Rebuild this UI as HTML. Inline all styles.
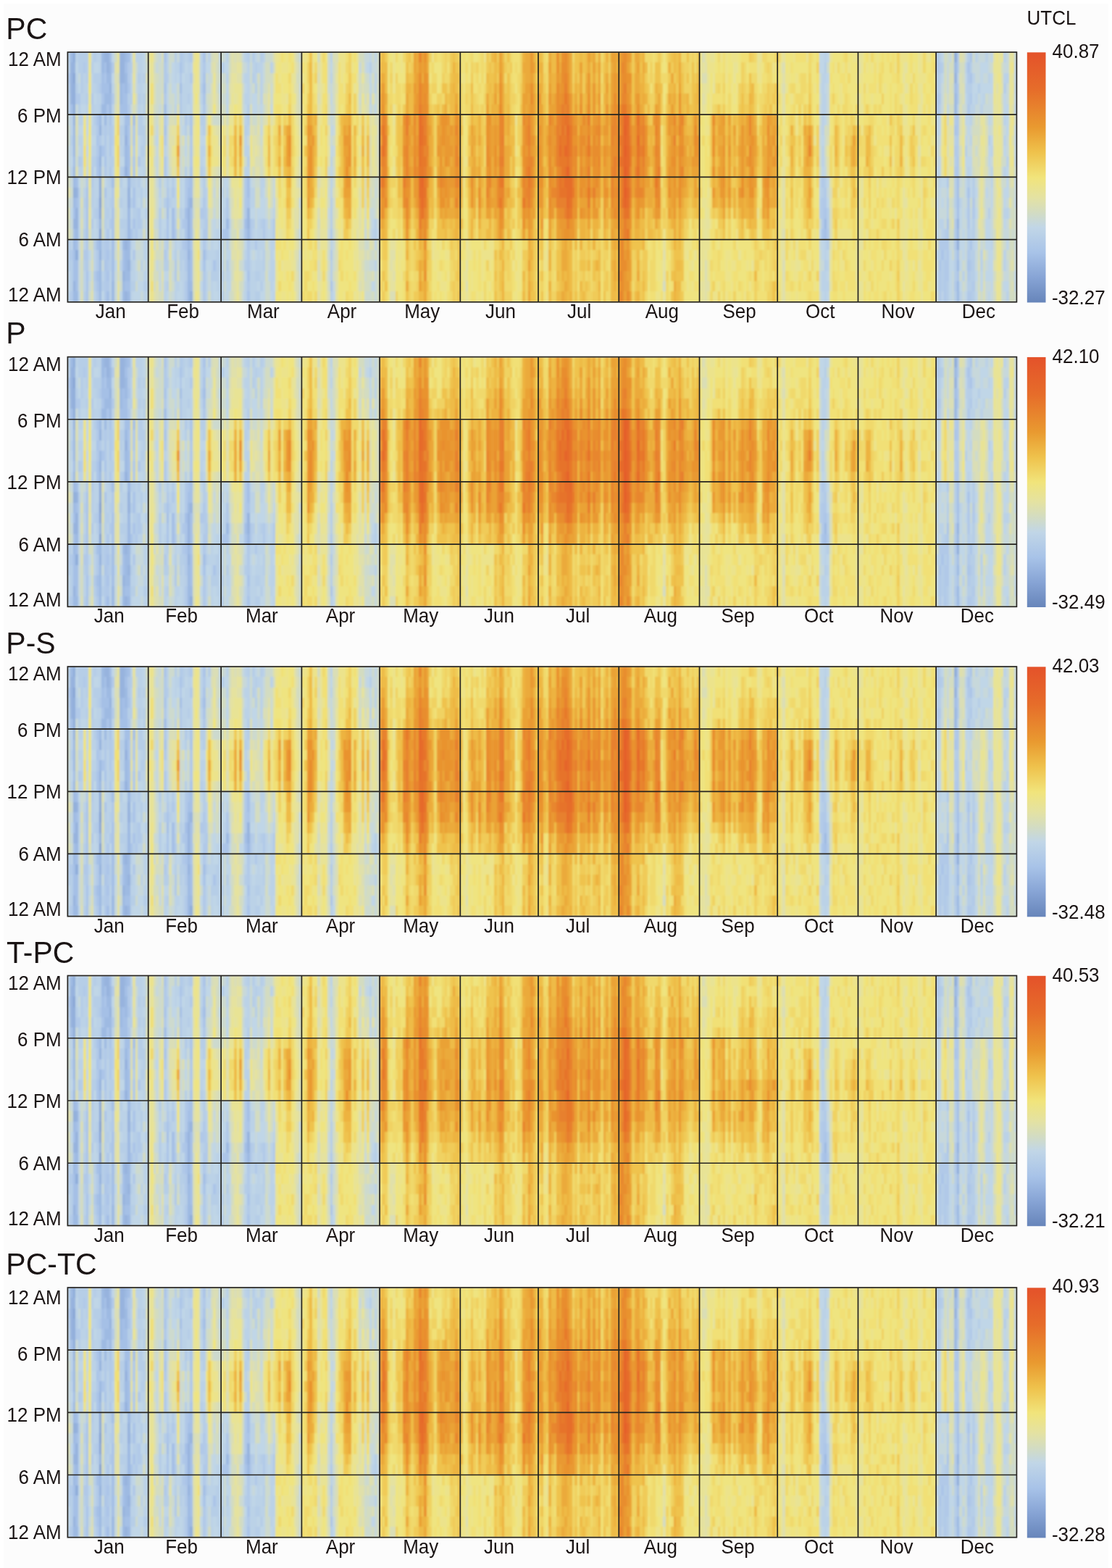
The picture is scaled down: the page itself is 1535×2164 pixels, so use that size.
<!DOCTYPE html><html><head><meta charset="utf-8"><style>html,body{margin:0;padding:0;background:#fff}svg{display:block}text{font-family:"Liberation Sans",Arial,sans-serif;fill:#1a1414}.hm path{fill:none;stroke-width:1.02;transform:translateX(.5px)}</style></head><body><svg width="1535" height="2164" viewBox="0 0 1535 2164"><rect x="5" y="5" width="1525" height="2159" fill="#fcfcfc"/><defs><linearGradient id="cb" x1="0" y1="0" x2="0" y2="1"><stop offset="0.000" stop-color="#e4522a"/><stop offset="0.150" stop-color="#e66d2a"/><stop offset="0.300" stop-color="#e99a30"/><stop offset="0.400" stop-color="#efc24c"/><stop offset="0.500" stop-color="#f1e47b"/><stop offset="0.580" stop-color="#e4e2a2"/><stop offset="0.640" stop-color="#d3dcc2"/><stop offset="0.700" stop-color="#c1d6e7"/><stop offset="0.800" stop-color="#a8c3e8"/><stop offset="0.900" stop-color="#87a4d5"/><stop offset="1.000" stop-color="#6785ba"/></linearGradient><filter id="bl" x="-1%" y="-1%" width="102%" height="102%"><feGaussianBlur stdDeviation="0.8"/></filter></defs><g filter="url(#bl)"><svg class="hm" x="93.40" y="72.00" width="1310.00" height="344.80" viewBox="0 0 365 24" preserveAspectRatio="none" shape-rendering="crispEdges"><path stroke="#829fd1" d="M12 14v1M12 17v1"/><path stroke="#89a6d6" d="M2 2v1M12 12v2M12 15v1"/><path stroke="#90adda" d="M2 0v1M2 3v3M2 13v1M3 19v1M47 23v1M341 0v1M342 18v1"/><path stroke="#97b3de" d="M1 1v4M2 1v1M2 6v1M2 16v1M2 22v1M3 13v1M3 15v2M12 7v1M12 10v1M12 16v1M12 19v1M14 0v1M15 0v2M16 3v1M20 0v3M21 0v3M21 21v1M22 8v1M22 11v1M22 18v1M22 23v1M23 13v2M23 20v1M46 15v3M46 19v1M47 14v1M69 15v2M341 2v1M342 16v1"/><path stroke="#9ebae2" d="M1 0v1M2 7v3M2 11v2M2 14v1M2 18v1M2 23v1M3 17v1M3 23v1M12 6v1M12 9v1M12 11v1M12 18v1M12 20v4M13 0v2M13 5v1M14 4v3M15 2v1M15 4v1M16 1v2M16 4v2M17 22v2M20 3v2M21 18v1M21 22v2M22 0v1M22 2v2M22 7v1M22 9v2M22 19v3M23 12v1M23 15v5M23 21v1M23 23v1M46 14v1M46 18v1M46 20v4M47 22v1M61 16v1M69 17v1M291 16v1M341 1v1M341 4v2M342 17v1M342 20v1M342 22v2"/><path stroke="#a5c0e6" d="M1 5v1M2 10v1M2 15v1M2 17v1M2 19v3M3 12v1M3 14v1M3 18v1M3 20v3M11 18v1M11 21v1M13 2v2M14 1v1M14 3v1M15 3v1M15 23v1M16 0v1M17 12v1M17 18v4M20 5v1M21 3v3M21 19v2M22 1v1M22 4v3M22 22v1M23 0v1M23 6v1M23 9v3M23 22v1M25 6v1M37 5v1M38 15v1M40 15v3M43 3v1M45 15v1M46 13v1M47 12v2M47 15v3M47 19v3M52 3v1M52 19v1M68 16v1M69 12v2M291 17v1M341 3v1M342 12v4M342 19v1"/><path stroke="#abc5e8" d="M7 13v5M7 21v3M11 6v1M11 8v1M11 10v2M11 22v1M13 4v1M13 9v1M14 2v1M14 10v1M14 13v1M14 20v1M15 5v1M15 19v1M15 21v1M16 6v1M17 15v3M23 3v1M23 7v2M24 17v1M25 13v2M25 16v1M37 0v1M37 3v1M37 7v1M38 14v1M38 16v2M43 1v1M45 16v3M46 12v1M47 6v2M47 11v1M47 18v1M52 0v1M52 2v1M52 4v1M52 20v1M56 20v1M60 17v1M61 17v1M68 17v1M69 14v1M69 21v1M69 23v1M101 22v1M290 17v1M291 15v1M335 20v1M336 19v1M338 16v1M341 7v1M342 21v1M346 1v1M346 13v1M346 20v1M347 0v1M347 2v1M347 18v1"/><path stroke="#b1c9e8" d="M0 2v1M1 19v1M1 23v1M3 4v1M4 4v1M4 10v1M6 1v1M6 19v1M7 12v1M7 18v3M9 4v1M9 11v2M9 16v1M10 21v1M11 7v1M11 9v1M11 15v1M11 19v2M11 23v1M12 3v1M12 8v1M14 7v3M14 11v1M14 18v2M14 21v3M15 17v2M15 20v1M15 22v1M16 7v3M16 11v1M16 16v1M17 1v1M17 4v1M17 13v2M21 11v1M23 1v2M23 5v1M25 7v2M25 10v2M25 19v1M26 17v1M27 10v1M27 15v2M37 1v2M37 4v1M37 6v1M37 8v1M37 10v2M37 19v1M38 13v1M40 13v1M41 17v1M41 20v2M43 0v1M43 2v1M43 4v2M44 16v1M44 18v1M45 6v1M45 12v3M45 19v2M45 22v2M47 0v1M47 2v1M47 8v3M51 15v1M52 1v1M52 5v1M52 14v2M52 17v2M52 21v3M53 16v2M59 17v1M61 14v2M68 12v4M69 18v3M69 22v1M70 16v2M72 18v1M75 16v2M79 16v2M101 17v1M101 19v1M290 12v1M290 14v3M291 13v2M292 17v1M334 0v2M334 4v2M335 1v1M335 4v1M335 18v1M335 21v3M336 18v1M337 18v1M337 20v4M338 12v1M338 17v5M341 6v1M341 9v1M341 11v1M341 16v3M341 22v1M342 0v2M342 3v2M342 6v2M342 10v2M346 2v1M346 5v1M346 14v3M346 19v1M346 21v1M346 23v1M347 4v1M347 20v1M347 23v1M348 14v2M348 22v1"/><path stroke="#b6cee7" d="M0 0v1M0 3v1M0 18v3M1 8v1M1 20v3M3 3v1M4 0v2M4 5v1M4 13v2M5 0v4M5 10v1M6 0v1M6 14v1M6 17v1M6 20v1M6 23v1M7 0v3M7 4v1M9 1v1M9 5v1M9 10v1M9 13v2M10 0v1M10 2v1M10 6v1M10 10v1M10 15v1M10 18v1M10 22v1M11 2v2M11 14v1M11 16v1M12 2v1M12 5v1M13 7v1M13 18v2M13 22v1M14 14v3M15 6v2M15 15v1M16 10v1M16 12v1M16 14v1M16 19v2M17 7v2M17 10v1M20 7v2M20 11v2M20 14v1M20 16v1M21 7v1M21 9v1M21 16v1M22 16v2M23 4v1M24 1v1M24 4v1M24 12v1M24 14v1M24 20v1M24 22v1M25 9v1M25 12v1M25 15v1M25 17v1M25 22v1M26 15v2M27 2v1M27 4v1M27 6v2M27 12v1M28 6v2M28 9v1M28 13v2M28 16v1M29 2v1M29 4v2M29 7v3M29 22v1M30 15v1M30 22v1M35 12v1M35 15v3M37 14v1M37 20v1M38 2v1M38 12v1M38 18v1M38 20v1M38 22v1M39 14v1M40 12v1M41 0v1M41 16v1M41 19v1M43 15v1M43 19v2M44 0v2M44 19v1M45 7v1M45 11v1M45 21v1M46 0v1M46 4v1M51 3v1M51 6v1M51 11v1M52 6v2M52 12v2M52 16v1M53 15v1M53 19v1M55 21v1M56 21v1M57 19v3M58 18v1M59 1v1M59 21v1M59 23v1M61 20v1M68 7v1M68 20v1M69 0v1M69 5v2M69 10v1M71 0v1M71 2v1M71 16v1M72 1v1M72 3v1M72 21v1M72 23v1M73 21v1M73 23v1M74 0v1M74 16v1M74 22v1M75 19v2M101 14v3M101 20v2M101 23v1M116 1v1M118 16v2M289 14v2M290 13v1M291 1v1M291 12v1M291 20v1M292 15v2M292 18v1M334 2v2M335 0v1M335 2v2M335 5v1M335 19v1M336 1v1M336 20v3M337 17v1M337 19v1M338 14v2M338 22v2M341 8v1M341 10v1M341 12v3M341 19v3M341 23v1M342 8v2M345 9v1M346 0v1M346 3v2M346 12v1M346 17v2M346 22v1M347 1v1M347 3v1M347 19v1M347 21v2M348 12v2M348 16v2M348 19v3M348 23v1M350 3v1M354 8v1M354 15v1M360 3v1"/><path stroke="#bbd2e7" d="M0 1v1M0 4v2M0 23v1M1 6v2M1 9v1M1 11v1M1 18v1M3 0v1M3 2v1M4 6v1M4 8v1M4 11v1M4 15v3M5 4v1M5 6v1M5 8v2M5 11v1M6 2v3M6 13v1M6 15v2M6 18v1M6 21v2M7 3v1M7 5v1M9 0v1M9 2v2M9 7v1M9 9v1M9 15v1M9 17v1M10 3v1M10 5v1M10 7v1M10 9v1M10 12v3M10 19v2M10 23v1M11 0v1M11 4v2M11 12v2M11 17v1M12 0v2M12 4v1M13 6v1M13 8v1M13 21v1M14 17v1M15 8v7M15 16v1M16 13v1M16 15v1M16 18v1M16 21v3M17 3v1M17 5v2M17 9v1M17 11v1M20 9v1M20 13v1M20 17v1M20 20v1M21 6v1M21 8v1M21 13v3M21 17v1M22 13v3M24 0v1M24 2v2M24 16v1M24 18v1M24 21v1M24 23v1M25 20v2M26 0v1M26 12v3M27 0v2M27 3v1M27 5v1M27 13v1M27 17v1M28 0v5M28 8v1M28 10v1M28 17v1M28 20v1M29 10v2M29 18v2M29 21v1M29 23v1M30 12v2M30 16v6M30 23v1M35 13v1M37 9v1M37 17v2M37 22v2M38 0v2M38 19v1M39 13v1M40 14v1M41 1v2M41 5v1M41 13v3M41 18v1M41 22v2M42 1v1M42 22v1M43 12v3M43 16v3M43 21v1M44 3v3M44 15v1M44 20v4M45 0v1M45 2v4M46 1v3M46 6v1M47 1v1M47 3v3M51 0v3M51 4v1M51 7v1M51 9v2M51 16v1M52 9v1M52 11v1M53 13v2M53 18v1M53 21v3M54 0v1M54 19v1M55 18v3M55 22v2M56 19v1M57 17v1M57 22v1M58 19v2M58 22v2M59 13v1M59 16v1M59 20v1M59 22v1M60 15v2M61 0v1M61 2v1M61 13v1M61 18v1M61 21v1M62 16v1M68 0v1M68 2v1M68 4v1M68 6v1M68 8v2M68 11v1M68 19v1M68 22v2M69 1v4M69 7v1M69 9v1M69 11v1M70 13v2M70 18v1M70 20v4M71 1v1M71 13v2M71 17v2M71 21v3M72 2v1M72 20v1M72 22v1M73 1v1M73 16v5M74 1v4M74 12v2M74 17v2M74 20v2M75 0v1M75 12v1M75 18v1M75 21v1M76 16v2M78 1v1M78 16v7M79 15v1M79 18v1M79 20v2M79 23v1M101 0v1M101 2v1M101 10v1M101 12v2M101 18v1M116 4v1M117 17v1M118 2v2M118 20v1M289 12v2M290 2v6M290 9v2M290 21v2M291 0v1M291 2v1M291 4v2M291 18v2M291 21v3M292 20v1M292 22v1M334 19v1M335 12v1M335 16v1M336 16v2M336 23v1M338 13v1M341 15v1M342 2v1M342 5v1M343 14v1M343 23v1M344 21v1M345 1v1M345 3v1M346 11v1M347 5v2M347 8v1M347 17v1M348 2v1M348 5v1M348 18v1M349 0v1M349 4v1M351 5v1M351 19v2M352 4v1M353 0v1M354 2v1M355 9v1M355 11v2M355 18v1M360 0v1M360 2v1M360 6v1M360 8v1M360 11v1M360 15v1M360 19v2M361 2v1M361 10v1M361 15v1M361 23v1M364 3v1M364 5v1M364 10v1M364 22v1"/><path stroke="#c0d6e7" d="M0 21v2M1 10v1M1 15v1M3 1v1M4 3v1M4 7v1M4 9v1M4 12v1M4 19v1M4 23v1M5 5v1M5 7v1M6 5v1M7 6v2M7 9v1M8 19v1M8 21v1M9 6v1M9 8v1M10 1v1M10 4v1M10 8v1M10 11v1M10 16v2M11 1v1M13 10v1M13 23v1M14 12v1M16 17v1M17 0v1M17 2v1M18 20v1M20 6v1M20 10v1M20 15v1M20 18v1M20 23v1M21 10v1M21 12v1M22 12v1M24 13v1M24 15v1M24 19v1M25 18v1M25 23v1M26 21v1M26 23v1M27 8v2M27 11v1M27 14v1M27 22v2M28 5v1M28 11v2M28 15v1M28 22v1M29 0v2M29 3v1M29 6v1M29 13v1M29 15v1M30 14v1M34 8v1M35 14v1M36 16v2M37 12v1M37 16v1M37 21v1M38 3v4M38 10v2M38 21v1M38 23v1M39 12v1M39 15v3M40 1v3M40 19v1M41 3v2M41 12v1M42 2v1M42 18v1M42 23v1M43 6v1M43 22v2M44 2v1M44 7v1M44 12v3M44 17v1M45 1v1M45 8v2M46 5v1M51 5v1M51 8v1M51 12v1M51 14v1M51 17v2M51 20v1M51 22v1M52 8v1M52 10v1M53 1v1M53 20v1M54 1v1M54 20v1M56 16v3M56 22v2M57 18v1M57 23v1M58 0v1M58 3v1M58 16v2M58 21v1M59 14v2M59 18v2M60 1v1M60 12v1M60 14v1M61 1v1M61 3v3M61 12v1M61 19v1M61 22v2M62 17v1M62 19v1M62 21v2M67 17v1M68 3v1M68 5v1M68 18v1M68 21v1M70 12v1M70 15v1M70 19v1M71 4v2M71 15v1M71 20v1M72 0v1M72 4v2M72 17v1M72 19v1M73 15v1M73 22v1M74 5v1M74 14v2M74 19v1M74 23v1M75 13v3M75 22v2M77 17v1M77 21v1M78 23v1M79 14v1M79 19v1M79 22v1M89 14v1M89 17v1M89 19v1M101 1v1M101 4v1M101 7v1M101 9v1M101 11v1M102 23v1M115 1v1M116 0v1M116 2v2M116 5v1M117 16v1M117 22v1M118 0v1M118 5v1M118 18v1M119 17v1M289 0v2M289 17v1M290 0v2M290 8v1M290 11v1M290 18v2M290 23v1M291 3v1M291 6v1M292 0v1M292 2v1M292 12v1M292 14v1M292 19v1M292 21v1M292 23v1M334 6v2M334 11v1M334 14v2M334 17v1M334 21v2M335 6v2M335 10v2M335 13v1M336 0v1M336 2v1M336 12v1M336 14v1M337 12v1M338 5v1M339 19v5M340 20v1M343 15v2M343 18v1M343 20v1M343 22v1M344 17v3M345 2v1M345 4v1M345 6v1M345 8v1M345 10v1M345 12v2M345 15v1M345 23v1M346 6v2M346 10v1M347 10v4M347 16v1M348 3v2M349 3v1M349 13v1M349 15v1M349 18v1M349 21v1M349 23v1M351 1v4M351 21v2M352 1v1M352 3v1M353 1v1M353 3v1M353 13v1M353 16v3M353 21v1M354 3v1M354 6v1M354 9v2M354 16v6M354 23v1M355 0v1M355 2v2M355 8v1M355 13v2M355 19v4M360 4v2M360 9v1M360 13v2M360 16v1M360 22v1M361 5v3M361 11v3M361 18v1M361 22v1M364 1v2M364 4v1M364 7v3M364 12v1M364 14v1M364 21v1"/><path stroke="#c7d8db" d="M0 6v1M0 9v2M1 12v1M1 14v1M1 16v1M3 5v1M4 2v1M4 18v1M4 20v3M6 12v1M7 11v1M8 20v1M8 22v1M13 11v1M13 20v1M18 18v1M18 21v3M20 19v1M20 21v1M24 5v1M26 2v2M26 19v2M27 19v1M27 21v1M28 18v2M28 21v1M28 23v1M29 12v1M29 16v1M29 20v1M34 1v1M34 7v1M34 9v4M34 16v1M34 20v1M35 0v1M35 5v1M35 21v2M36 14v1M37 13v1M37 15v1M38 7v3M39 2v1M39 5v1M40 18v1M40 21v1M40 23v1M42 0v1M42 19v1M43 7v1M43 10v2M44 6v1M45 10v1M46 7v1M46 11v1M51 13v1M51 19v1M51 23v1M53 0v1M53 3v1M53 5v1M54 2v2M54 18v1M54 21v2M55 16v2M56 13v1M56 15v1M57 16v1M58 1v1M58 4v1M58 13v3M59 12v1M60 0v1M60 13v1M60 21v1M60 23v1M62 15v1M62 20v1M66 17v1M67 0v1M67 2v1M67 16v1M67 20v1M67 23v1M68 1v1M69 8v1M70 0v1M70 3v2M71 12v1M71 19v1M72 15v2M73 0v1M73 5v1M74 7v1M75 1v2M76 14v2M77 18v1M77 20v1M78 5v1M78 15v1M79 12v2M89 0v1M89 3v1M89 16v1M89 20v2M89 23v1M100 15v1M100 17v1M101 3v1M101 5v2M101 8v1M102 7v1M102 9v1M102 18v1M102 22v1M112 1v1M114 0v2M114 17v1M115 0v1M116 15v1M116 17v1M116 20v1M117 1v1M117 15v1M117 20v1M118 1v1M118 4v1M118 13v1M118 21v3M119 16v1M119 19v1M289 3v1M289 5v1M289 7v2M289 18v1M289 21v2M290 20v1M291 11v1M292 3v3M292 13v1M334 8v3M334 12v2M334 16v1M334 20v1M334 23v1M335 8v1M335 14v2M335 17v1M336 3v3M336 13v1M336 15v1M337 13v4M338 1v3M339 0v1M339 18v1M340 18v1M340 21v3M343 12v1M343 17v1M343 19v1M344 14v3M344 23v1M345 0v1M345 5v1M345 11v1M345 14v1M345 16v5M345 22v1M346 8v2M347 7v1M347 9v1M347 15v1M348 1v1M349 1v2M349 5v1M349 12v1M349 14v1M349 16v2M349 19v2M349 22v1M350 0v3M350 4v2M351 0v1M351 18v1M352 0v1M352 2v1M352 5v1M353 2v1M353 5v1M353 12v1M353 14v2M353 20v1M353 22v2M354 0v2M354 4v2M354 7v1M354 11v4M354 22v1M355 4v3M355 10v1M355 15v3M355 23v1M360 1v1M360 7v1M360 17v1M360 21v1M360 23v1M361 0v2M361 3v2M361 8v2M361 14v1M361 16v2M361 20v2M364 0v1M364 13v1M364 18v3"/><path stroke="#cddace" d="M0 7v2M0 11v1M0 14v1M1 13v1M1 17v1M3 10v1M5 12v2M7 8v1M7 10v1M8 23v1M18 19v1M20 22v1M26 1v1M26 5v1M26 18v1M26 22v1M27 18v1M29 14v1M30 1v1M30 3v1M30 6v1M30 8v1M33 8v1M33 10v1M33 16v1M33 18v1M34 0v1M34 3v4M34 13v3M34 17v1M35 1v4M35 18v1M35 20v1M36 12v2M39 0v2M39 3v2M39 23v1M40 0v1M40 4v2M40 20v1M40 22v1M42 3v2M42 17v1M42 20v1M43 8v2M44 9v1M44 11v1M46 9v2M48 15v1M48 17v1M51 21v1M53 2v1M53 4v1M53 12v1M55 2v1M56 6v1M56 12v1M56 14v1M57 6v1M58 2v1M58 5v2M58 12v1M59 0v1M59 2v1M59 4v1M60 2v1M60 4v1M60 18v3M60 22v1M62 14v1M62 18v1M62 23v1M66 20v1M67 1v1M67 4v2M67 14v2M67 19v1M67 22v1M68 10v1M70 1v2M71 3v1M71 6v1M72 6v1M72 12v1M73 3v2M73 12v1M74 6v1M74 8v1M75 3v1M75 5v1M76 0v1M76 19v2M76 22v2M77 0v1M77 16v1M77 19v1M77 22v2M78 0v1M78 3v2M89 1v1M89 4v1M89 12v1M89 15v1M89 18v1M89 22v1M100 0v4M100 11v1M100 13v1M100 16v1M100 19v1M100 21v1M102 5v2M102 11v2M102 14v1M102 17v1M102 19v2M112 4v1M114 16v1M114 18v1M114 20v2M114 23v1M115 2v1M115 18v1M115 20v1M115 23v1M116 13v1M116 16v1M116 22v2M117 0v1M117 3v1M117 5v1M117 14v1M117 19v1M118 12v1M118 14v2M119 0v3M119 4v1M119 7v3M119 12v2M119 20v1M289 2v1M289 4v1M289 6v1M289 9v2M289 16v1M289 19v2M289 23v1M291 8v1M291 10v1M292 1v1M292 6v1M334 18v1M335 9v1M338 0v1M338 4v1M338 6v1M340 14v1M340 19v1M343 13v1M343 21v1M344 5v1M344 12v2M344 20v1M344 22v1M345 7v1M345 21v1M347 14v1M348 0v1M348 6v1M349 9v1M351 23v1M352 18v1M353 4v1M353 19v1M355 1v1M355 7v1M359 11v2M359 22v2M360 10v1M360 12v1M360 18v1M361 19v1M362 15v1M363 17v1M364 6v1M364 11v1M364 15v3M364 23v1"/><path stroke="#d3dcc1" d="M0 12v1M0 16v1M3 8v2M5 15v1M5 17v1M5 20v3M8 18v1M9 18v2M9 21v1M13 13v2M13 16v2M18 0v1M18 3v2M26 4v1M27 20v1M29 17v1M30 0v1M30 4v1M30 7v1M30 11v1M33 1v1M33 5v3M33 17v1M33 21v2M34 2v1M34 19v1M34 21v1M35 19v1M35 23v1M36 1v3M36 5v1M36 15v1M36 20v1M39 11v1M39 20v1M41 6v1M42 15v1M42 21v1M44 10v1M46 8v1M48 12v1M48 14v1M48 23v1M54 4v2M54 23v1M55 0v1M57 1v3M57 14v2M58 8v1M58 11v1M59 3v1M59 5v2M60 3v1M60 5v1M61 6v1M62 0v2M62 12v2M63 16v2M63 20v2M63 23v1M64 17v1M66 16v1M66 22v1M67 3v1M67 12v2M67 18v1M67 21v1M71 11v1M72 7v1M72 13v2M73 2v1M73 13v2M74 9v3M76 1v3M76 12v2M76 18v1M76 21v1M77 1v2M77 15v1M78 2v1M78 12v3M79 1v1M88 0v1M88 2v1M88 17v1M88 20v1M89 2v1M89 5v1M89 10v1M96 0v1M96 16v1M100 6v1M100 12v1M100 14v1M100 18v1M100 20v1M100 22v1M102 1v4M102 8v1M102 10v1M102 15v2M102 21v1M112 0v1M112 2v2M112 5v1M113 0v1M114 2v3M114 14v2M114 19v1M114 22v1M115 3v1M115 21v2M116 14v1M116 19v1M116 21v1M117 2v1M117 12v1M117 23v1M118 19v1M119 3v1M119 5v2M119 10v2M119 14v1M119 18v1M119 21v3M229 22v1M289 11v1M291 7v1M291 9v1M292 7v1M337 0v4M339 1v1M339 5v1M339 14v1M339 16v2M340 1v1M340 3v1M340 5v1M340 15v1M340 17v1M343 1v1M343 4v1M343 9v1M343 11v1M344 1v2M348 7v1M348 11v1M349 7v1M350 6v3M350 10v1M350 19v1M350 21v2M352 14v1M352 16v1M352 20v2M353 6v1M353 10v1M356 17v3M356 21v1M356 23v1M359 1v1M359 4v1M359 10v1M359 13v1M359 15v1M359 17v1M359 20v1M362 13v1M362 17v3M362 21v3M363 13v4M363 18v1M363 21v1M363 23v1"/><path stroke="#dadeb6" d="M0 15v1M0 17v1M3 6v2M3 11v1M5 14v1M5 16v1M5 18v2M5 23v1M8 17v1M9 20v1M9 22v1M13 12v1M13 15v1M18 2v1M18 5v1M18 15v1M19 2v1M19 14v1M19 21v1M24 7v2M24 10v1M25 5v1M30 2v1M30 5v1M33 0v1M33 2v3M33 9v1M33 11v3M33 20v1M34 23v1M36 0v1M36 4v1M36 18v2M36 22v2M39 6v1M39 9v2M39 18v1M39 21v2M40 6v1M42 5v1M44 8v1M48 6v1M48 13v1M48 16v1M48 19v4M49 14v1M50 14v1M53 6v1M54 15v3M55 1v1M55 3v4M55 15v1M56 0v1M57 0v1M57 4v2M57 11v3M58 7v1M61 8v1M61 10v1M62 2v1M62 4v1M63 14v1M63 18v1M63 22v1M64 0v1M65 16v1M66 0v1M66 18v1M66 23v1M70 5v2M71 7v1M72 10v1M73 6v1M73 8v1M73 10v1M75 4v1M75 6v1M76 4v2M88 1v1M88 3v3M88 12v1M88 19v1M88 21v3M89 6v2M89 11v1M89 13v1M96 2v1M96 4v1M96 12v1M96 15v1M96 17v2M96 20v2M100 4v2M100 23v1M102 0v1M102 13v1M103 0v1M103 19v2M112 18v1M112 22v1M113 1v1M113 3v1M113 18v1M113 20v1M114 12v2M115 5v1M115 19v1M116 8v5M117 13v1M117 18v1M117 21v1M118 6v1M119 15v1M124 23v1M125 23v1M153 22v1M244 0v1M244 2v1M245 2v1M245 20v2M275 1v1M275 3v1M275 17v1M275 20v2M292 8v1M293 13v1M293 15v3M337 4v1M338 9v1M339 2v3M339 12v1M339 15v1M340 0v1M340 2v1M340 4v1M340 12v2M343 2v2M343 5v3M343 10v1M344 0v1M344 3v2M348 8v3M349 6v1M349 8v1M349 10v2M350 9v1M350 11v5M350 17v2M350 20v1M350 23v1M352 12v2M352 15v1M352 17v1M352 22v2M353 7v1M353 9v1M353 11v1M356 12v4M356 22v1M359 2v1M359 5v3M359 14v1M359 16v1M359 18v2M359 21v1M362 12v1M362 20v1M363 19v1M363 22v1"/><path stroke="#e0e0aa" d="M0 13v1M8 14v1M9 23v1M18 1v1M18 12v1M18 16v2M19 19v1M25 1v1M25 3v1M26 6v2M26 10v1M30 9v2M31 2v1M31 17v3M31 22v1M33 14v2M33 19v1M33 23v1M34 18v1M34 22v1M35 6v2M35 10v2M36 21v1M39 7v2M39 19v1M40 8v1M41 11v1M42 16v1M48 0v1M48 2v1M48 4v1M48 9v1M48 18v1M49 15v2M50 4v1M50 15v1M50 17v1M53 7v1M53 11v1M55 12v3M56 1v1M56 11v1M57 7v1M58 9v2M61 7v1M61 9v1M61 11v1M62 3v1M63 0v2M63 13v1M63 15v1M63 19v1M64 1v1M64 16v1M64 19v2M64 22v2M65 0v1M65 2v1M65 14v1M65 18v1M66 2v1M66 19v1M66 21v1M67 6v1M70 7v1M71 8v2M72 8v1M72 11v1M73 7v1M73 9v1M73 11v1M75 11v1M76 6v1M77 3v1M78 6v1M79 0v1M80 14v2M87 0v1M87 3v1M87 15v3M87 19v1M87 22v1M88 14v3M88 18v1M89 8v2M96 1v1M96 3v1M96 5v1M96 13v1M96 23v1M100 8v1M100 10v1M103 1v1M103 3v1M103 15v1M103 17v2M103 21v2M111 17v1M112 13v4M112 19v1M112 21v1M113 19v1M113 21v2M114 5v1M115 4v1M115 17v1M116 6v2M116 18v1M117 4v1M118 8v3M124 19v2M125 19v1M125 21v1M153 20v1M229 19v1M229 21v1M244 4v1M245 1v1M245 22v2M246 22v1M275 2v1M275 4v2M275 12v4M275 19v1M275 22v2M292 10v2M293 14v1M293 18v1M304 1v1M327 9v1M337 5v1M338 7v2M338 11v1M339 7v1M339 10v1M339 13v1M340 16v1M343 0v1M343 8v1M351 7v1M351 16v2M352 11v1M352 19v1M353 8v1M356 16v1M356 20v1M357 3v1M359 3v1M359 8v2M362 16v1M363 5v1M363 8v1M363 12v1M363 20v1"/><path stroke="#e5e29f" d="M8 13v1M8 15v2M18 14v1M19 1v1M19 3v3M19 15v3M19 20v1M19 22v2M24 6v1M24 9v1M24 11v1M25 0v1M25 2v1M26 8v2M26 11v1M31 1v1M31 3v3M31 12v4M31 20v1M31 23v1M35 9v1M40 7v1M40 10v2M41 7v1M48 5v1M48 7v2M48 11v1M49 13v1M49 21v2M50 1v2M50 5v1M50 12v2M50 16v1M56 4v1M56 7v1M60 6v1M62 5v1M63 2v2M64 2v1M64 4v1M64 15v1M64 18v1M64 21v1M65 1v1M65 13v1M65 15v1M65 17v1M65 19v4M66 1v1M67 9v1M67 11v1M70 11v1M71 10v1M72 9v1M75 10v1M77 4v2M77 12v1M77 14v1M79 2v2M81 17v1M87 1v2M87 5v1M87 20v2M88 6v1M88 11v1M88 13v1M95 17v1M96 11v1M96 14v1M96 19v1M96 22v1M97 3v2M97 12v1M97 17v1M97 21v1M98 17v1M99 16v2M99 21v1M100 7v1M100 9v1M103 2v1M103 4v2M103 23v1M111 2v1M112 11v1M112 17v1M112 20v1M112 23v1M113 2v1M113 5v1M117 6v1M117 11v1M118 7v1M118 11v1M124 18v1M124 21v2M125 18v1M125 20v1M125 22v1M153 18v1M153 21v1M153 23v1M229 18v1M229 20v1M229 23v1M243 1v1M243 20v1M243 22v1M244 1v1M244 3v1M244 5v1M244 22v2M245 0v1M245 3v2M245 15v3M245 19v1M246 16v1M248 3v1M274 1v1M274 3v1M274 16v4M275 0v1M275 11v1M275 16v1M275 18v1M292 9v1M293 12v1M293 19v1M293 22v1M303 21v1M304 0v1M304 4v1M304 14v1M304 17v2M304 22v1M305 12v2M305 15v1M305 18v1M321 2v1M321 13v2M321 18v2M321 22v1M322 1v1M322 3v1M322 14v1M322 20v1M327 5v1M327 10v1M327 20v1M328 4v1M328 17v1M336 10v2M338 10v1M339 8v1M340 7v2M340 10v1M344 6v2M350 16v1M351 6v1M351 9v2M351 12v3M352 6v1M352 10v1M356 0v1M356 2v1M356 5v1M356 9v1M356 11v1M357 4v5M357 10v2M357 13v1M357 15v1M357 21v1M358 0v1M358 6v1M358 11v2M358 14v1M358 17v1M358 21v1M362 0v1M362 3v1M362 6v1M362 11v1M362 14v1M363 0v1M363 2v1M363 4v1M363 11v1"/><path stroke="#e8e395" d="M8 1v1M8 4v1M8 12v1M18 6v1M18 13v1M19 0v1M19 12v2M25 4v1M31 0v1M31 10v1M31 16v1M31 21v1M32 1v2M32 5v1M32 8v1M32 11v4M32 21v1M35 8v1M36 6v2M40 9v1M41 8v1M41 10v1M42 14v1M48 1v1M48 3v1M48 10v1M49 3v1M49 5v1M49 12v1M49 17v4M50 0v1M50 3v1M50 9v1M50 11v1M50 20v1M50 22v2M53 9v2M54 14v1M55 11v1M56 2v2M56 9v1M57 8v2M59 11v1M62 6v1M63 4v3M63 12v1M64 3v1M64 12v3M65 3v2M65 12v1M65 23v1M66 3v1M66 13v1M66 15v1M67 8v1M70 10v1M75 7v1M77 13v1M78 7v1M79 6v1M80 0v1M80 13v1M80 16v1M80 20v3M82 11v1M82 17v1M82 20v1M84 4v1M85 19v1M86 2v1M86 15v1M86 20v1M87 12v3M87 18v1M87 23v1M88 7v1M88 10v1M96 6v3M97 1v2M97 5v1M97 16v1M97 18v2M97 22v1M98 12v2M98 15v2M98 18v1M99 14v1M99 18v2M99 22v2M103 6v1M103 13v1M103 16v1M105 17v1M109 17v1M110 3v1M110 16v1M110 19v2M110 23v1M111 0v1M111 4v2M111 15v2M111 18v2M111 21v2M112 7v1M112 9v1M112 12v1M113 4v1M113 16v2M114 6v2M114 9v1M115 16v1M117 7v2M117 10v1M125 5v2M125 11v1M140 18v2M152 21v1M153 19v1M154 19v1M172 6v1M184 18v2M238 19v1M240 20v1M241 19v1M243 2v1M243 18v2M243 23v1M244 14v1M244 16v6M245 5v1M245 14v1M245 18v1M246 2v2M246 13v1M246 15v1M246 17v2M246 20v2M246 23v1M247 0v1M248 0v1M248 2v1M256 1v2M257 1v1M258 19v1M263 20v1M265 0v2M265 15v1M266 0v1M274 2v1M274 12v3M274 20v1M274 22v2M275 6v1M275 8v3M276 3v1M280 18v3M281 20v1M284 0v1M287 8v1M293 0v1M293 20v2M303 18v3M304 2v1M304 5v1M304 13v1M304 15v1M304 19v2M304 23v1M305 0v2M305 5v1M305 16v2M305 22v2M307 17v1M311 12v1M318 15v1M321 1v1M321 4v3M321 15v1M321 23v1M322 5v2M322 10v2M322 16v4M322 21v1M325 20v1M327 0v2M327 3v1M327 6v3M327 11v1M327 15v4M327 21v2M328 3v1M328 5v1M328 12v3M328 16v1M328 18v1M328 21v3M331 0v1M332 14v1M336 6v3M339 9v1M339 11v1M340 6v1M340 9v1M340 11v1M344 8v2M344 11v1M351 8v1M351 11v1M351 15v1M352 7v3M356 1v1M356 3v2M356 6v3M356 10v1M357 1v2M357 9v1M357 14v1M357 16v1M357 18v3M357 22v2M358 1v1M358 3v3M358 8v3M358 16v1M358 18v1M358 22v2M359 0v1M362 1v2M362 4v2M362 9v2M363 3v1M363 7v1M363 9v1"/><path stroke="#ece38b" d="M6 6v1M6 8v1M6 11v1M8 0v1M8 2v1M8 6v1M8 10v2M18 7v1M18 10v2M19 18v1M31 7v2M31 11v1M32 0v1M32 6v1M32 9v1M32 15v2M32 20v1M32 23v1M36 11v1M42 12v1M49 0v3M49 6v4M49 11v1M49 23v1M50 8v1M50 10v1M50 18v1M50 21v1M54 13v1M55 8v1M56 8v1M56 10v1M57 10v1M59 7v2M60 7v1M63 7v1M65 5v2M66 4v2M67 7v1M70 8v1M75 8v2M78 8v4M79 4v1M80 1v1M80 12v1M80 17v1M81 0v1M81 2v1M81 16v1M81 19v1M82 1v1M82 3v2M82 7v1M82 12v1M82 23v1M83 1v1M83 4v2M83 15v3M83 20v2M83 23v1M84 0v2M84 18v1M84 20v1M85 20v1M85 23v1M86 3v1M86 5v1M86 13v1M86 16v1M86 19v1M87 4v1M87 6v1M87 11v1M88 8v2M90 0v1M90 2v1M90 5v1M91 0v1M91 18v2M93 19v1M94 0v2M94 21v1M95 15v2M96 9v1M97 0v1M97 6v1M97 11v1M97 13v1M97 15v1M97 20v1M97 23v1M98 3v1M99 12v1M99 15v1M99 20v1M103 7v2M104 0v1M104 17v1M105 0v3M105 16v1M106 0v2M106 3v1M106 23v1M109 1v1M109 16v1M110 17v2M111 3v1M111 12v2M111 20v1M111 23v1M112 6v1M112 10v1M113 15v1M113 23v1M114 8v1M114 11v1M117 9v1M123 20v2M125 0v4M125 7v1M125 10v1M126 17v2M127 19v2M128 0v2M128 18v2M128 21v1M140 0v1M141 18v3M142 19v1M142 21v1M143 18v1M143 21v2M144 22v1M145 19v1M145 22v2M146 19v1M146 21v1M151 18v1M151 20v1M151 23v1M152 2v1M152 6v1M152 9v4M152 22v2M153 10v1M153 17v1M154 18v1M154 23v1M155 19v1M155 21v2M157 19v1M157 23v1M159 18v4M159 23v1M160 0v1M160 19v1M161 19v1M162 18v3M162 22v1M163 18v2M171 20v1M172 9v1M172 18v2M172 21v1M172 23v1M173 20v3M174 19v1M183 19v2M184 20v1M184 23v1M226 23v1M227 21v1M227 23v1M228 20v1M228 22v1M229 17v1M237 18v2M238 18v1M238 21v2M239 18v1M239 20v1M240 22v1M243 0v1M243 5v1M243 16v1M243 21v1M244 12v2M245 6v2M246 0v2M246 7v1M246 12v1M246 14v1M246 19v1M247 1v1M247 4v2M247 16v1M248 1v1M248 23v1M249 23v1M250 18v1M250 22v1M251 0v1M253 0v3M253 19v3M253 23v1M254 19v1M254 21v1M255 0v1M255 3v1M255 20v1M255 22v1M256 0v1M256 4v1M256 20v1M257 0v1M257 3v1M257 17v2M260 23v1M261 20v1M262 22v1M265 2v1M265 17v1M266 1v2M271 1v1M274 0v1M274 4v2M274 11v1M274 21v1M275 7v1M276 2v1M276 10v1M276 23v1M277 1v2M277 17v1M277 19v1M277 23v1M278 4v1M278 18v1M278 20v1M279 0v1M279 20v2M280 2v1M280 6v2M280 21v1M280 23v1M281 17v1M283 21v1M284 19v1M285 19v2M287 3v1M287 17v1M287 20v1M287 22v1M295 1v1M295 18v1M296 13v1M296 17v1M297 3v2M297 12v1M297 17v1M297 19v2M298 1v1M298 8v1M298 14v1M298 17v1M298 20v1M299 17v1M299 22v1M300 1v1M300 17v1M302 0v1M303 0v1M303 2v1M303 4v1M303 6v1M303 22v2M304 12v1M304 16v1M305 2v3M305 7v1M305 14v1M305 19v3M306 21v1M307 1v1M307 3v1M307 22v1M308 0v1M308 19v1M308 22v1M309 1v1M309 4v1M309 16v1M309 20v1M310 8v1M311 0v2M311 3v1M311 13v1M313 12v1M313 19v1M314 3v1M314 9v1M314 12v1M315 6v1M315 9v1M315 14v1M316 14v2M316 21v1M317 10v1M318 1v1M320 0v1M320 4v1M320 16v3M320 21v1M321 0v1M321 3v1M321 7v1M321 12v1M321 16v2M321 20v2M322 0v1M322 2v1M322 7v3M322 13v1M322 15v1M322 22v2M323 3v1M323 7v1M323 11v1M323 16v1M323 20v3M324 2v1M325 1v1M325 15v3M326 6v2M326 21v1M327 2v1M327 4v1M327 12v2M327 19v1M328 0v3M328 15v1M328 19v2M329 2v1M330 0v1M330 5v1M330 18v1M331 9v1M331 12v1M331 22v1M332 5v2M332 8v1M333 14v1M336 9v1M339 6v1M344 10v1M357 0v1M357 12v1M357 17v1M358 2v1M358 7v1M358 13v1M358 15v1M358 19v2M362 7v1M363 1v1M363 6v1M363 10v1"/><path stroke="#efe480" d="M6 7v1M8 3v1M8 5v1M8 7v3M18 9v1M31 6v1M32 10v1M32 17v3M36 10v1M41 9v1M42 13v1M49 4v1M49 10v1M50 6v2M53 8v1M54 6v1M54 12v1M55 7v1M55 10v1M56 5v1M59 9v2M62 7v1M62 11v1M63 11v1M64 5v1M65 7v2M65 10v2M66 12v1M66 14v1M67 10v1M70 9v1M76 9v1M76 11v1M79 5v1M80 4v1M80 19v1M80 23v1M81 1v1M81 4v1M81 15v1M81 21v1M81 23v1M82 2v1M82 5v2M82 9v2M82 13v4M82 18v1M82 21v2M83 0v1M83 2v2M83 13v1M83 19v1M83 22v1M84 2v2M84 5v1M84 19v1M84 22v2M85 1v1M85 18v1M85 21v1M86 0v1M86 4v1M86 12v1M86 17v2M86 22v2M87 7v2M87 10v1M90 7v2M90 15v3M90 19v1M90 21v2M91 1v4M91 16v2M91 20v1M92 19v2M92 22v1M93 22v1M94 17v2M94 23v1M95 0v1M95 3v1M95 14v1M95 21v2M96 10v1M97 9v1M97 14v1M98 7v5M98 14v1M98 22v2M99 0v1M99 13v1M103 10v1M103 12v1M104 15v2M104 18v1M104 21v3M105 5v1M105 22v2M106 2v1M106 18v5M107 18v1M107 20v1M107 22v1M108 19v3M109 0v1M109 4v2M109 12v1M109 15v1M109 18v5M110 1v1M110 13v1M110 22v1M111 1v1M111 8v1M111 11v1M111 14v1M112 8v1M114 10v1M123 1v3M123 18v2M123 22v2M124 0v1M124 9v1M124 11v1M124 16v2M125 8v1M125 16v1M126 1v1M126 19v4M127 0v3M127 18v1M127 21v3M128 2v1M128 17v1M128 20v1M128 22v2M129 1v2M129 18v3M139 2v1M140 20v4M141 1v1M141 16v1M141 21v2M142 1v3M142 18v1M142 20v1M142 23v1M143 1v2M143 19v1M144 19v1M144 21v1M144 23v1M145 18v1M145 20v1M146 20v1M146 22v1M151 0v1M151 2v1M151 21v1M152 1v1M152 3v1M152 7v2M152 13v3M152 17v1M152 19v2M153 0v1M153 7v2M153 15v2M154 1v2M154 20v3M155 18v1M155 20v1M156 0v1M156 18v1M156 21v2M157 0v1M157 18v1M157 20v3M158 2v1M158 18v1M158 23v1M159 22v1M160 2v1M160 20v2M161 18v1M161 22v2M163 20v2M163 23v1M171 17v1M171 23v1M172 3v1M172 7v2M172 11v2M172 22v1M173 18v2M173 23v1M174 18v1M174 20v3M183 18v1M184 16v1M184 21v2M223 18v1M223 20v1M223 22v2M226 18v4M227 19v2M227 22v1M228 7v1M228 9v1M228 18v1M228 21v1M229 0v2M229 3v2M230 20v1M231 19v1M231 21v2M237 20v2M237 23v1M238 20v1M238 23v1M239 16v2M239 22v2M240 19v1M240 23v1M241 20v2M241 23v1M242 17v1M242 20v2M242 23v1M243 3v2M243 7v5M243 14v1M244 6v2M244 9v3M244 15v1M245 8v1M245 12v2M246 4v3M246 9v1M247 2v2M247 18v2M248 21v1M249 0v2M249 16v1M249 18v1M249 22v1M251 1v1M251 20v1M251 23v1M252 18v3M253 3v2M253 18v1M253 22v1M254 0v2M254 18v1M254 20v1M254 22v1M255 1v2M255 4v2M255 16v4M255 21v1M255 23v1M256 3v1M256 5v1M257 2v1M257 4v2M257 22v2M258 0v3M258 18v1M258 21v1M258 23v1M259 18v4M260 18v1M260 20v3M261 1v1M261 18v2M262 18v3M263 19v1M263 23v1M265 5v1M265 16v1M266 3v1M266 12v2M266 17v1M267 1v1M267 18v1M267 20v3M271 2v1M273 2v1M273 6v1M273 13v1M273 15v3M273 20v2M274 15v1M276 0v2M276 5v1M276 7v1M276 16v1M276 20v1M277 0v1M277 4v2M277 14v1M277 16v1M277 20v1M278 0v1M278 2v1M278 19v1M278 21v1M278 23v1M279 1v2M279 16v1M279 23v1M280 1v1M280 3v1M280 5v1M280 11v1M280 15v3M280 22v1M281 1v1M281 3v1M281 14v1M281 16v1M281 23v1M282 1v1M282 5v2M282 20v1M282 22v2M283 1v1M283 17v1M283 23v1M284 1v2M284 4v1M284 18v1M286 1v2M286 17v2M286 21v1M287 0v3M287 4v4M287 11v4M287 18v2M287 21v1M288 4v1M288 6v1M288 13v2M288 17v4M288 22v1M293 1v1M293 3v1M293 6v2M293 23v1M294 0v1M294 2v1M294 9v3M294 17v1M295 0v1M295 2v2M295 5v1M295 20v1M296 0v1M296 2v3M296 16v1M296 22v2M297 0v2M297 5v1M297 10v2M297 14v1M297 21v1M297 23v1M298 4v1M298 6v2M298 9v1M298 16v1M298 18v1M298 21v1M299 2v1M299 11v1M299 16v1M299 23v1M300 0v1M300 3v1M300 13v2M300 18v2M300 23v1M301 0v5M301 17v4M301 23v1M302 1v5M302 19v2M302 23v1M303 1v1M303 3v1M303 15v3M304 3v1M304 6v1M304 21v1M305 6v1M306 0v1M306 2v1M306 15v1M306 17v1M306 19v1M307 2v1M307 4v1M307 14v2M307 18v4M307 23v1M308 1v2M308 4v1M308 20v1M309 2v1M309 5v1M309 12v4M309 18v1M309 23v1M310 0v1M310 4v1M310 7v1M310 11v1M310 14v1M310 16v1M310 21v2M311 2v1M311 4v1M311 6v1M311 15v2M311 19v2M312 0v1M312 4v1M312 6v1M312 9v1M312 18v3M312 22v2M313 3v1M313 5v1M313 7v1M313 13v1M313 15v1M313 17v1M313 21v2M314 0v3M314 4v2M314 10v1M314 15v1M314 17v1M314 20v3M315 1v5M315 7v1M315 12v2M315 15v2M315 19v3M315 23v1M316 0v1M316 2v1M316 12v1M316 17v1M316 19v1M316 22v1M317 3v3M317 9v1M317 11v1M317 13v1M317 15v1M317 17v2M317 21v3M318 0v1M318 3v1M318 7v1M318 12v1M318 16v2M318 19v1M318 23v1M320 1v2M320 13v2M320 20v1M320 22v1M321 9v1M322 4v1M322 12v1M323 0v3M323 4v3M323 10v1M323 12v1M323 14v2M323 17v2M323 23v1M324 6v1M324 13v2M324 16v1M324 20v3M325 0v1M325 3v1M325 14v1M325 18v1M326 0v3M326 11v4M326 16v1M326 18v1M326 22v2M327 23v1M328 6v1M328 9v1M328 11v1M329 4v1M329 6v1M329 8v2M329 11v1M329 17v2M329 21v1M329 23v1M330 1v3M330 6v1M330 8v2M330 11v1M330 14v1M330 16v1M330 23v1M331 1v1M331 3v1M331 7v1M331 13v3M331 19v1M331 23v1M332 4v1M332 10v3M332 15v1M332 18v1M332 21v2M333 2v1M333 6v1M333 8v1M333 13v1M333 15v4M333 20v3M362 8v1"/><path stroke="#f1e076" d="M6 9v2M18 8v1M19 8v1M19 11v1M31 9v1M32 3v2M32 22v1M36 8v2M42 6v1M50 19v1M55 9v1M60 10v2M62 10v1M63 9v1M65 9v1M76 7v2M76 10v1M79 7v1M79 9v3M80 2v2M80 5v1M80 11v1M80 18v1M81 3v1M81 5v1M81 14v1M81 18v1M81 20v1M82 0v1M82 8v1M82 19v1M83 12v1M83 14v1M83 18v1M84 21v1M85 0v1M85 3v1M85 17v1M85 22v1M86 1v1M86 14v1M87 9v1M90 1v1M90 4v1M90 6v1M90 9v6M90 18v1M90 20v1M91 5v1M91 8v1M91 14v2M91 23v1M92 0v1M92 18v1M93 17v1M93 20v2M94 2v2M94 16v1M94 19v2M94 22v1M95 4v1M95 19v1M97 7v2M97 10v1M98 1v2M98 4v3M98 19v2M99 1v4M99 6v1M99 8v2M103 9v1M103 11v1M103 14v1M104 1v5M104 13v2M104 19v1M105 3v2M105 14v2M105 18v3M106 4v2M107 0v1M107 2v1M107 19v1M107 21v1M108 18v1M108 22v2M109 2v2M109 7v1M109 13v2M109 23v1M110 0v1M110 2v1M110 6v1M110 14v2M110 21v1M111 9v2M115 15v1M120 20v1M123 0v1M123 17v1M124 6v3M124 10v1M124 15v1M125 4v1M125 9v1M125 13v1M126 5v1M126 16v1M128 3v3M128 16v1M129 4v1M129 22v2M132 21v1M139 1v1M140 4v1M140 17v1M141 4v1M141 17v1M141 23v1M142 0v1M142 22v1M143 0v1M143 3v1M143 23v1M144 20v1M145 21v1M146 1v1M146 18v1M146 23v1M151 1v1M151 19v1M151 22v1M152 0v1M152 4v2M152 16v1M152 18v1M153 2v1M153 6v1M153 9v1M153 11v1M153 14v1M154 0v1M155 23v1M156 2v2M156 19v2M156 23v1M157 3v1M157 16v2M158 0v2M158 4v1M158 19v4M159 3v2M160 1v1M161 21v1M162 21v1M162 23v1M163 22v1M170 19v1M171 0v3M171 18v1M171 21v2M172 0v1M172 2v1M172 5v1M172 14v4M172 20v1M173 0v2M173 4v2M173 9v1M173 11v1M174 23v1M181 20v1M183 16v2M183 21v3M184 0v1M184 17v1M187 18v1M187 21v1M196 18v2M196 22v1M205 21v3M208 18v3M223 1v1M223 19v1M223 21v1M224 3v1M224 18v2M224 23v1M225 0v2M225 23v1M226 22v1M227 18v1M228 1v1M228 8v1M228 10v1M228 12v1M228 19v1M228 23v1M229 5v1M230 1v1M230 3v1M230 18v2M231 20v1M231 23v1M232 22v1M237 22v1M239 19v1M239 21v1M240 17v2M240 21v1M241 18v1M241 22v1M242 19v1M242 22v1M243 6v1M243 12v1M243 15v1M243 17v1M245 9v3M246 8v1M246 10v2M247 13v2M247 17v1M247 21v2M248 4v1M248 16v2M248 19v2M249 2v1M249 4v1M249 19v3M250 1v2M250 4v1M250 21v1M251 2v3M251 18v2M251 21v2M252 0v2M252 21v1M253 5v1M253 16v2M254 2v2M254 23v1M255 15v1M256 16v2M256 19v1M256 21v2M257 19v3M258 20v1M259 0v1M259 22v2M260 0v1M260 19v1M261 0v1M261 2v1M261 17v1M261 21v2M262 1v1M262 23v1M263 1v1M263 18v1M263 21v2M264 1v1M265 3v2M265 6v1M265 12v1M265 14v1M265 21v1M265 23v1M266 14v1M266 16v1M266 18v1M266 20v4M267 2v1M267 23v1M268 2v1M268 21v1M268 23v1M269 0v1M269 19v3M270 0v1M271 0v1M271 21v1M272 1v2M273 1v1M273 3v1M273 5v1M273 8v1M273 10v1M273 14v1M273 18v2M273 22v1M274 7v1M274 9v1M276 4v1M276 6v1M276 9v1M276 11v1M276 13v1M276 22v1M277 3v1M277 10v1M277 12v2M277 15v1M277 18v1M277 21v2M278 1v1M278 5v1M279 4v1M279 12v4M279 17v1M279 19v1M279 22v1M280 0v1M280 10v1M281 0v1M281 2v1M281 13v1M281 15v1M281 18v2M281 21v1M282 0v1M282 8v3M282 12v2M282 15v4M282 21v1M283 0v1M283 4v1M283 18v1M283 20v1M283 22v1M284 3v1M284 20v4M285 22v1M286 0v1M286 3v3M286 19v1M286 22v2M287 10v1M287 15v2M287 23v1M288 0v1M288 2v2M288 15v1M288 23v1M293 2v1M293 4v2M293 8v1M294 1v1M294 3v1M294 5v3M294 12v1M294 14v1M294 18v1M294 20v1M294 23v1M295 4v1M295 19v1M295 21v1M295 23v1M296 14v1M296 19v3M297 2v1M297 6v4M297 13v1M297 15v2M297 18v1M297 22v1M298 0v1M298 2v2M298 10v4M298 15v1M298 22v2M299 1v1M299 3v1M299 14v1M299 18v2M299 21v1M300 4v3M300 12v1M300 15v2M300 20v3M301 5v1M301 16v1M301 21v2M302 18v1M302 21v2M303 12v1M304 10v1M305 10v2M306 1v1M306 4v3M306 10v1M306 12v2M306 16v1M306 22v2M307 0v1M307 6v1M307 12v2M308 3v1M308 5v1M308 16v1M308 18v1M308 23v1M309 3v1M309 17v1M309 19v1M309 21v1M310 1v3M310 6v1M310 10v1M310 12v2M310 17v4M310 23v1M311 5v1M311 7v5M311 18v1M311 21v3M312 1v1M312 7v2M312 10v8M312 21v1M313 0v1M313 2v1M313 6v1M313 8v3M313 23v1M314 6v3M314 11v1M314 13v2M315 0v1M315 8v1M315 10v2M315 17v2M315 22v1M316 3v3M316 13v1M316 16v1M316 18v1M316 23v1M317 0v3M317 8v1M317 12v1M317 19v2M318 2v1M318 6v1M318 8v1M318 13v2M318 18v1M318 20v3M319 3v3M319 15v1M320 3v1M320 12v1M320 15v1M320 19v1M320 23v1M321 10v1M323 8v2M323 13v1M323 19v1M324 0v2M324 5v1M324 12v1M324 15v1M324 17v3M324 23v1M325 4v2M325 19v1M325 21v1M325 23v1M326 3v3M326 9v2M326 15v1M326 17v1M326 19v2M327 14v1M328 7v2M329 3v1M329 5v1M329 16v1M329 19v2M329 22v1M330 4v1M330 7v1M330 10v1M330 12v1M330 15v1M330 17v1M330 19v4M331 2v1M331 4v3M331 8v1M331 10v2M331 16v2M331 20v2M332 0v4M332 7v1M332 13v1M332 16v2M332 19v2M333 0v1M333 3v3M333 7v1M333 9v1M333 11v1M333 19v1M333 23v1M337 9v1"/><path stroke="#f0d96c" d="M32 7v1M60 8v2M62 8v2M63 8v1M63 10v1M77 6v1M79 8v1M80 6v2M81 12v2M81 22v1M84 6v1M84 17v1M85 2v1M85 4v1M85 16v1M86 6v2M86 10v1M86 21v1M90 23v1M91 6v1M91 10v1M91 12v2M91 21v2M92 3v1M92 21v1M92 23v1M93 18v1M93 23v1M94 4v2M94 15v1M95 1v1M95 5v1M95 13v1M95 18v1M95 20v1M95 23v1M98 0v1M98 21v1M99 5v1M104 7v1M104 10v1M104 12v1M104 20v1M105 12v1M105 21v1M107 1v1M107 23v1M108 17v1M109 6v1M109 8v3M110 12v1M111 6v2M115 6v1M115 14v1M120 18v2M120 21v1M120 23v1M121 22v1M122 23v1M123 4v3M123 16v1M124 1v1M124 3v2M124 13v1M125 14v2M125 17v1M126 0v1M126 3v2M126 9v1M126 12v4M127 3v2M127 16v2M128 15v1M129 0v1M129 3v1M129 21v1M131 21v1M132 17v4M132 22v2M133 21v2M134 21v1M139 3v1M139 18v1M139 22v1M140 1v2M141 0v1M141 2v1M141 11v3M141 15v1M143 20v1M144 0v2M144 4v1M144 18v1M145 2v1M146 0v1M146 2v1M147 20v2M147 23v1M148 21v1M149 19v1M151 3v3M153 1v1M153 3v1M153 5v1M153 13v1M154 3v3M155 0v1M156 1v1M157 2v1M157 4v1M157 15v1M158 3v1M158 5v1M159 0v3M160 3v1M160 5v1M160 9v2M160 18v1M160 22v2M164 18v1M165 18v1M168 2v1M168 18v1M168 21v2M169 18v1M169 22v1M170 0v1M170 2v1M170 20v3M171 3v1M171 5v1M171 15v1M171 19v1M172 1v1M172 4v1M172 10v1M172 13v1M173 2v2M173 10v1M173 17v1M175 18v1M176 18v1M180 21v1M181 22v2M183 0v2M184 1v3M186 19v4M187 19v2M187 22v1M194 0v1M194 18v3M196 17v1M196 20v2M196 23v1M199 21v1M201 17v1M201 19v4M205 0v1M205 2v1M205 4v1M205 16v5M207 20v1M207 23v1M208 21v3M217 22v1M220 19v1M222 0v1M222 18v1M222 23v1M223 0v1M223 2v1M224 0v1M224 20v3M225 2v1M225 18v5M226 0v1M228 0v1M228 2v1M228 16v1M229 2v1M229 10v2M229 14v1M230 0v1M230 2v1M230 22v2M231 18v1M236 0v1M236 22v1M237 0v1M238 17v1M239 0v3M241 0v2M241 16v2M242 16v1M242 18v1M243 13v1M244 8v1M247 15v1M247 20v1M247 23v1M248 5v1M248 18v1M249 3v1M250 0v1M250 17v1M250 19v2M251 5v1M252 2v1M252 4v1M252 22v2M254 4v2M256 18v1M257 16v1M258 22v1M260 1v2M260 16v2M261 3v1M261 23v1M262 21v1M263 2v1M264 0v1M264 2v2M264 19v1M265 7v1M265 13v1M265 18v2M265 22v1M266 4v2M266 15v1M267 0v1M267 3v2M267 19v1M268 0v2M268 3v1M268 18v3M268 22v1M269 2v1M269 22v1M270 1v2M270 18v4M271 5v1M271 17v1M273 4v1M273 7v1M273 9v1M273 11v2M273 23v1M274 6v1M274 10v1M276 8v1M276 12v1M276 14v2M276 17v3M276 21v1M277 6v2M277 11v1M278 3v1M278 16v1M278 22v1M279 3v1M279 5v2M279 18v1M280 4v1M280 8v2M280 12v3M281 4v1M281 7v1M281 11v2M281 22v1M282 2v3M282 7v1M282 14v1M282 19v1M283 2v2M283 19v1M284 5v1M285 0v2M285 18v1M285 23v1M286 6v1M286 20v1M287 9v1M288 5v1M288 11v2M288 16v1M293 9v3M294 8v1M294 16v1M294 19v1M294 21v2M295 14v1M295 22v1M296 1v1M296 5v2M296 12v1M296 15v1M296 18v1M298 5v1M298 19v1M299 0v1M299 4v4M299 12v2M299 15v1M299 20v1M300 2v1M302 6v1M302 16v2M303 5v1M303 11v1M303 14v1M304 9v1M304 11v1M305 8v2M306 3v1M306 8v2M306 14v1M306 18v1M306 20v1M307 16v1M308 6v1M308 15v1M308 17v1M308 21v1M309 0v1M309 6v1M309 8v1M309 22v1M310 5v1M310 9v1M310 15v1M311 14v1M312 2v2M312 5v1M313 1v1M313 14v1M313 16v1M313 18v1M313 20v1M314 16v1M314 18v2M314 23v1M316 1v1M316 7v1M317 6v2M317 14v1M318 4v2M318 9v3M319 2v1M319 8v3M319 12v3M319 18v2M320 5v2M321 8v1M321 11v1M324 3v2M324 7v1M324 11v1M325 2v1M325 6v1M325 12v2M325 22v1M326 8v1M328 10v1M329 0v2M329 7v1M329 10v1M329 12v1M329 14v2M330 13v1M331 18v1M332 9v1M332 23v1M333 1v1M333 10v1M333 12v1M337 6v3M337 10v2"/><path stroke="#f0d262" d="M19 6v2M19 9v2M42 7v1M64 6v1M66 6v1M80 8v3M83 6v1M84 16v1M85 5v1M86 8v2M86 11v1M90 3v1M91 11v1M92 1v2M93 16v1M95 2v1M95 12v1M99 7v1M99 10v2M104 6v1M104 9v1M105 13v1M106 16v1M107 3v2M108 0v2M109 11v1M110 4v2M113 12v3M115 7v1M115 13v1M120 22v1M121 20v1M122 20v2M123 8v3M123 15v1M124 2v1M124 5v1M124 12v1M124 14v1M125 12v1M126 2v1M126 11v1M126 23v1M127 5v1M127 15v1M128 11v1M131 1v1M131 18v3M131 22v2M132 0v1M132 16v1M133 17v1M133 19v2M134 18v1M134 22v1M138 18v1M138 21v1M139 0v1M139 4v1M139 16v2M139 19v3M139 23v1M140 3v1M140 5v1M140 16v1M141 3v1M141 6v4M141 14v1M142 4v1M143 4v2M144 2v1M145 0v2M146 3v1M147 19v1M147 22v1M148 18v3M149 18v1M149 20v1M149 22v2M150 0v1M151 8v2M151 15v1M151 17v1M153 4v1M153 12v1M154 6v1M155 1v1M156 4v2M156 17v1M157 1v1M157 5v1M157 14v1M159 5v1M160 4v1M160 6v1M160 8v1M161 20v1M162 0v1M165 19v5M168 0v1M168 17v1M168 19v2M168 23v1M169 1v1M169 20v2M169 23v1M170 3v3M170 16v1M170 23v1M171 4v1M171 12v1M173 6v3M174 0v3M174 6v1M174 11v1M174 16v1M175 20v1M176 21v3M180 16v1M180 18v3M180 22v2M181 19v1M181 21v1M182 20v1M182 22v1M183 2v1M184 4v2M184 14v1M186 18v1M186 23v1M187 23v1M194 1v2M194 21v3M195 19v2M197 21v1M198 18v1M199 18v2M200 21v1M200 23v1M201 18v1M201 23v1M202 19v1M202 22v1M203 18v1M204 17v1M205 1v1M205 3v1M205 5v1M205 14v2M206 19v1M206 21v1M207 19v1M208 1v1M208 17v1M217 19v3M217 23v1M218 20v2M220 20v2M222 17v1M224 1v2M224 4v2M225 3v2M228 6v1M228 11v1M228 13v3M228 17v1M229 7v3M229 13v1M229 16v1M230 4v1M230 15v3M230 21v1M232 19v2M237 1v3M237 16v2M238 1v1M238 3v1M238 16v1M239 3v2M239 15v1M240 0v1M240 16v1M247 10v1M248 22v1M249 5v1M249 15v1M249 17v1M250 3v1M250 23v1M251 17v1M252 3v1M253 15v1M254 16v2M256 23v1M257 15v1M258 3v2M259 1v2M260 3v2M261 4v1M263 0v1M264 4v2M264 18v1M264 20v1M264 22v2M265 20v1M266 6v1M266 19v1M267 5v1M268 4v1M269 1v1M269 5v1M269 18v1M269 23v1M270 3v2M270 22v2M271 3v1M271 18v3M272 0v1M272 19v1M272 23v1M273 0v1M274 8v1M277 8v2M278 6v1M278 17v1M279 7v1M281 5v2M281 9v1M282 11v1M283 5v1M283 16v1M284 6v1M284 17v1M285 2v2M285 16v1M285 21v1M286 12v1M286 14v1M286 16v1M288 1v1M288 7v3M288 21v1M294 4v1M294 13v1M294 15v1M295 6v1M295 11v3M295 15v1M295 17v1M296 11v1M300 7v2M300 10v2M301 6v2M301 13v1M301 15v1M302 15v1M303 13v1M304 7v2M306 7v1M306 11v1M307 5v1M307 11v1M308 13v2M309 7v1M309 9v2M311 17v1M313 4v1M316 11v1M316 20v1M317 16v1M319 0v2M319 6v2M319 11v1M319 17v1M319 20v1M319 22v2M324 10v1M325 8v1M325 11v1M329 13v1"/><path stroke="#f0cb58" d="M42 11v1M54 8v1M54 11v1M77 7v1M77 11v1M81 6v1M83 8v1M84 15v1M85 15v1M91 7v1M92 4v1M92 16v1M95 11v1M104 8v1M104 11v1M106 17v1M107 5v1M107 17v1M108 2v2M108 16v1M113 6v1M115 11v2M121 18v2M121 23v1M122 0v1M122 18v2M126 6v3M126 10v1M127 14v1M128 6v1M128 10v1M128 14v1M129 5v1M130 0v1M130 20v1M132 1v1M132 15v1M133 23v1M134 19v1M134 23v1M138 20v1M138 23v1M139 5v1M141 5v1M141 10v1M146 5v1M146 17v1M147 0v2M147 18v1M148 22v2M149 0v1M149 21v1M150 1v1M150 3v1M150 22v1M151 6v1M151 10v2M154 9v1M154 11v1M154 15v3M155 2v1M156 16v1M157 9v1M157 12v1M159 6v2M159 11v1M159 16v2M160 7v1M160 11v1M160 16v2M161 0v2M161 16v1M163 1v1M163 16v2M164 20v1M164 22v1M165 0v1M165 2v1M166 18v1M166 20v1M166 23v1M168 1v1M168 3v1M168 15v1M169 19v1M170 1v1M170 10v3M170 15v1M170 17v2M171 13v1M171 16v1M173 12v1M173 14v3M174 3v2M174 7v2M174 10v1M174 17v1M175 19v1M176 19v2M179 18v5M180 2v1M180 7v1M180 15v1M180 17v1M181 18v1M183 3v1M184 12v1M184 15v1M185 21v1M187 16v2M188 18v1M188 22v1M194 3v1M195 21v2M196 2v1M196 16v1M197 19v1M198 2v2M198 19v1M198 21v2M199 20v1M199 23v1M200 19v1M200 22v1M201 16v1M202 23v1M203 0v1M203 19v1M203 21v3M204 18v1M206 0v1M206 18v1M206 20v1M206 22v1M207 21v2M208 0v1M208 2v1M208 16v1M217 0v2M218 19v1M218 22v1M220 22v2M221 19v2M222 2v1M222 5v1M222 15v2M222 19v4M223 3v2M224 6v1M225 5v1M225 16v1M226 17v1M227 0v1M228 4v2M229 6v1M229 12v1M229 15v1M230 5v1M231 0v1M231 2v1M231 17v1M232 1v1M232 17v2M233 2v1M234 3v1M236 1v1M236 18v2M236 23v1M238 15v1M239 14v1M240 15v1M241 2v1M242 0v1M247 6v4M247 11v2M248 15v1M250 16v1M251 16v1M252 5v1M255 6v1M255 11v2M255 14v1M256 12v1M257 7v2M257 10v1M257 13v2M258 5v1M258 16v2M259 3v1M260 5v1M261 5v1M262 0v1M262 17v1M264 17v1M265 8v1M265 11v1M266 8v4M268 5v1M269 3v2M270 17v1M271 4v1M272 4v2M272 15v3M272 20v2M278 12v1M278 14v2M279 9v3M281 8v1M281 10v1M283 14v2M285 4v1M286 11v1M286 15v1M288 10v1M295 16v1M296 7v4M299 8v1M299 10v1M300 9v1M301 12v1M301 14v1M302 14v1M303 7v1M307 7v1M308 12v1M309 11v1M313 11v1M316 9v1M319 16v1M319 21v1M320 7v1M320 11v1M324 8v2M325 9v1"/><path stroke="#efc34e" d="M42 8v1M54 7v1M54 10v1M66 11v1M81 9v1M81 11v1M83 9v1M83 11v1M84 13v1M85 13v2M91 9v1M92 5v1M92 17v1M93 0v1M93 15v1M94 14v1M95 7v1M95 10v1M105 8v4M108 5v1M110 8v2M113 7v1M113 10v2M120 0v1M121 21v1M122 22v1M123 7v1M123 11v4M127 6v6M128 7v3M128 12v2M129 17v1M130 1v1M130 21v1M130 23v1M131 0v1M131 2v1M131 17v1M132 2v1M133 16v1M133 18v1M134 20v1M135 19v1M136 21v1M138 19v1M138 22v1M139 15v1M142 5v1M142 15v3M143 16v2M144 3v1M144 17v1M145 3v1M146 4v1M146 16v1M147 2v1M147 17v1M148 0v1M148 16v1M149 1v1M150 2v1M150 4v2M150 18v4M150 23v1M151 7v1M154 7v1M155 4v1M156 6v1M157 6v3M157 10v1M157 13v1M158 17v1M159 8v3M159 15v1M160 12v4M161 3v1M162 1v2M162 4v2M163 2v2M164 19v1M164 21v1M164 23v1M165 1v1M165 4v1M166 21v2M167 19v1M168 4v2M168 16v1M169 0v1M169 2v3M169 16v1M170 7v1M170 13v1M171 6v2M171 9v1M171 14v1M174 5v1M174 15v1M175 22v1M176 17v1M178 21v1M178 23v1M179 16v2M179 23v1M180 0v2M180 3v1M180 6v1M180 13v2M181 17v1M182 0v1M182 18v2M182 21v1M182 23v1M183 4v2M183 10v1M183 15v1M184 6v1M184 13v1M185 18v1M186 17v1M188 19v2M189 18v5M195 0v2M195 23v1M196 0v2M196 4v1M196 15v1M197 20v1M197 23v1M198 0v2M198 20v1M199 22v1M200 18v1M201 1v2M202 20v2M203 2v1M204 21v1M206 1v1M206 3v1M206 23v1M207 17v2M208 3v2M208 14v1M211 19v2M211 22v2M217 2v3M217 16v3M218 18v1M219 18v1M219 22v1M220 1v1M220 18v1M221 21v1M221 23v1M222 3v1M223 6v1M224 11v1M224 16v1M225 17v1M226 1v2M227 1v2M227 17v1M228 3v1M230 13v2M231 16v1M232 0v1M232 21v1M232 23v1M233 19v2M234 0v3M234 4v2M234 16v4M234 21v1M235 19v1M235 21v1M235 23v1M236 2v2M236 17v1M236 20v2M237 5v1M238 0v1M238 2v1M238 6v1M238 14v1M239 5v2M239 13v1M240 1v5M241 3v1M241 15v1M242 1v1M249 10v1M250 5v1M250 15v1M252 17v1M253 6v2M253 9v3M253 14v1M255 7v4M255 13v1M257 6v1M257 11v2M259 4v2M259 17v1M261 16v1M262 2v2M263 5v1M263 17v1M265 10v1M266 7v1M267 16v2M268 17v1M269 17v1M270 5v1M270 15v2M271 15v1M271 22v2M272 3v1M272 18v1M272 22v1M278 8v1M278 13v1M279 8v1M283 6v1M283 12v2M284 15v2M285 5v2M285 17v1M286 13v1M299 9v1M301 8v1M301 11v1M302 11v2M303 8v3M308 10v2M316 6v1M316 8v1M325 7v1M325 10v1"/><path stroke="#eebb47" d="M42 10v1M64 7v1M64 11v1M66 7v1M77 8v1M83 7v1M83 10v1M84 11v2M84 14v1M85 6v1M93 1v5M94 6v1M94 12v1M95 8v2M105 6v2M106 15v1M107 16v1M108 4v1M110 7v1M110 11v1M113 8v1M115 8v3M120 1v1M120 17v1M121 0v2M122 1v3M122 16v2M127 12v2M129 16v1M130 2v1M130 18v1M131 4v2M132 3v3M132 12v3M133 15v1M134 16v1M135 23v1M136 18v2M136 23v1M139 14v1M140 6v2M140 10v1M140 12v4M144 5v1M145 4v1M145 16v2M147 3v3M147 16v1M148 2v1M148 4v2M148 17v1M149 2v2M150 17v1M151 14v1M151 16v1M154 8v1M154 10v1M154 13v2M155 3v1M155 5v1M155 15v1M158 9v1M159 13v1M161 2v1M161 17v1M162 3v1M162 17v1M163 0v1M163 4v1M163 15v1M164 1v2M164 16v2M165 3v1M166 19v1M167 0v1M167 21v1M168 8v1M169 5v1M169 14v2M169 17v1M170 6v1M170 8v1M170 14v1M171 8v1M171 10v2M173 13v1M174 9v1M174 13v2M175 21v1M175 23v1M178 18v1M178 20v1M178 22v1M180 4v2M180 8v1M180 10v3M181 0v1M181 2v1M181 16v1M182 4v1M183 13v2M184 11v1M185 23v1M186 0v2M186 16v1M187 0v2M187 15v1M188 21v1M188 23v1M189 23v1M190 22v1M191 21v1M192 18v1M192 23v1M193 19v4M194 4v2M195 2v1M195 18v1M196 3v1M196 5v1M196 10v2M197 0v1M197 22v1M198 4v2M198 23v1M199 0v2M199 16v2M200 20v1M201 3v3M203 1v1M203 3v1M203 5v1M203 17v1M204 15v2M204 19v2M204 23v1M205 8v1M205 12v2M206 2v1M206 5v1M207 1v1M208 5v1M208 12v1M209 19v1M209 21v3M210 23v1M211 21v1M217 5v1M217 15v1M218 23v1M219 19v1M220 0v1M220 2v1M220 16v2M221 16v1M221 22v1M222 1v1M223 5v1M223 8v1M223 15v3M224 15v1M224 17v1M225 8v1M226 4v1M227 3v1M227 16v1M230 8v2M230 12v1M231 3v1M231 5v1M232 3v1M233 0v2M233 21v1M234 15v1M234 20v1M234 22v2M235 18v1M235 20v1M235 22v1M236 4v2M236 16v1M237 4v1M237 14v2M238 7v1M238 9v1M239 7v1M239 12v1M240 12v3M241 4v2M242 2v1M242 5v1M242 12v1M242 14v2M249 7v1M249 9v1M249 11v2M250 14v1M251 15v1M252 16v1M253 8v1M254 15v1M256 6v1M256 10v1M256 15v1M257 9v1M258 15v1M259 16v1M262 5v1M263 3v2M263 16v1M264 14v3M264 21v1M265 9v1M268 8v1M268 16v1M271 16v1M278 11v1M283 9v1M284 12v2M286 7v2M286 10v1M295 7v2M295 10v1M302 7v1M302 13v1M307 8v2M308 7v3M316 10v1M320 8v2"/><path stroke="#edb341" d="M54 9v1M64 8v3M66 10v1M77 9v2M81 8v1M81 10v1M85 11v2M92 15v1M93 14v1M94 7v1M94 13v1M95 6v1M106 6v1M106 14v1M107 6v1M107 15v1M110 10v1M113 9v1M120 2v1M121 17v1M122 5v1M122 15v1M130 3v1M130 19v1M131 3v1M131 16v1M134 17v1M135 18v1M136 20v1M136 22v1M138 17v1M139 12v2M140 8v2M140 11v1M142 6v1M142 10v1M142 14v1M144 16v1M146 11v1M147 6v1M147 14v1M148 1v1M148 3v1M149 16v2M150 16v1M151 12v2M154 12v1M155 6v1M155 10v1M155 16v2M156 7v1M156 9v1M156 15v1M157 11v1M158 6v2M158 10v1M158 16v1M159 12v1M159 14v1M162 16v1M163 5v1M164 0v1M164 5v1M165 5v1M167 1v2M167 18v1M167 20v1M167 22v2M168 6v2M168 12v1M169 8v1M169 12v1M170 9v1M175 0v1M175 2v2M177 19v1M177 21v1M178 19v1M179 0v1M179 2v1M180 9v1M181 1v1M181 15v1M182 1v3M183 6v4M183 11v2M184 10v1M185 19v2M185 22v1M186 2v2M187 2v2M189 0v1M190 18v1M190 21v1M191 23v1M192 19v4M193 18v1M193 23v1M195 3v1M196 7v1M196 14v1M197 16v3M198 16v2M199 2v1M199 4v1M200 17v1M201 0v1M201 6v1M201 11v1M201 14v2M202 16v3M203 4v1M203 16v1M203 20v1M204 22v1M205 6v1M205 10v2M206 4v1M206 17v1M207 0v1M207 15v2M208 7v2M208 13v1M208 15v1M209 18v1M209 20v1M210 19v1M210 22v1M211 1v1M211 17v2M216 1v1M216 18v1M216 22v1M217 14v1M218 1v1M218 17v1M219 17v1M219 20v1M219 23v1M220 3v2M220 15v1M221 0v1M221 2v2M221 5v1M221 17v2M222 4v1M222 14v1M223 7v1M223 9v1M223 11v1M224 7v4M224 12v1M225 7v1M225 14v1M226 3v1M230 6v2M230 10v2M231 1v1M232 4v1M232 16v1M233 3v1M233 5v1M233 18v1M233 23v1M234 8v1M234 14v1M235 0v1M236 15v1M237 7v1M238 4v2M238 12v2M239 8v1M239 11v1M240 6v2M240 9v1M241 14v1M242 3v2M248 12v1M249 6v1M249 8v1M249 13v2M250 10v1M250 13v1M253 12v2M256 9v1M256 13v2M258 6v2M258 12v1M260 6v1M260 14v2M261 9v1M261 11v1M261 15v1M262 4v1M262 16v1M264 6v1M264 11v1M264 13v1M267 6v2M267 10v2M268 6v2M270 13v1M272 12v1M278 7v1M278 9v2M283 8v1M283 10v2M284 7v1M284 11v1M284 14v1M285 11v1M285 15v1M286 9v1M295 9v1M301 9v2M307 10v1M320 10v1"/><path stroke="#ebaa3b" d="M66 9v1M81 7v1M84 7v1M93 6v1M93 12v2M94 9v3M106 10v3M107 7v1M107 14v1M108 6v1M108 11v1M108 14v2M120 3v1M120 16v1M121 2v1M121 16v1M122 4v1M129 15v1M130 4v2M130 22v1M132 6v1M132 8v1M132 10v1M133 2v1M133 14v1M134 0v2M134 15v1M135 20v2M136 2v1M137 22v2M138 0v2M139 6v1M139 8v3M142 11v1M142 13v1M144 10v1M144 15v1M145 5v1M145 11v1M146 15v1M147 10v1M147 15v1M148 6v1M148 14v2M149 4v1M155 8v1M155 11v1M156 8v1M156 10v5M158 8v1M158 11v1M161 4v1M163 6v1M163 10v2M163 13v1M164 3v1M165 6v1M165 9v1M165 11v1M165 15v3M167 3v3M167 17v1M168 9v3M168 13v2M169 6v2M169 9v3M174 12v1M175 1v1M176 0v3M176 5v1M176 16v1M177 0v3M177 4v1M177 18v1M177 22v1M178 17v1M179 3v1M179 6v2M179 14v1M181 3v1M182 5v1M184 7v1M184 9v1M185 0v1M185 2v1M186 4v1M187 11v1M189 1v1M190 19v2M190 23v1M191 18v3M191 22v1M193 0v4M195 4v1M195 16v2M196 6v1M196 12v2M197 2v2M199 3v1M199 5v1M200 1v1M201 8v1M202 0v1M202 2v1M203 14v1M204 0v1M205 7v1M205 9v1M206 6v1M206 16v1M207 2v1M207 4v1M208 6v1M208 10v2M209 1v1M209 16v1M210 17v2M210 20v2M211 0v1M216 19v1M217 6v1M218 0v1M218 2v2M218 5v1M218 16v1M219 0v1M219 2v2M219 16v1M219 21v1M220 5v1M221 1v1M221 4v1M222 13v1M223 13v2M224 13v2M225 10v2M225 13v1M225 15v1M226 16v1M227 4v2M231 4v1M231 8v1M231 14v1M232 2v1M232 15v1M233 4v1M233 16v2M233 22v1M234 6v1M234 10v3M235 1v2M235 16v2M236 14v1M237 6v1M237 8v1M237 11v1M237 13v1M238 8v1M238 10v2M239 9v2M240 8v1M242 6v2M242 13v1M248 14v1M250 6v1M250 8v1M250 12v1M251 8v1M251 14v1M254 7v1M256 8v1M256 11v1M258 8v1M258 10v2M258 14v1M259 6v1M259 14v2M260 7v2M260 10v4M261 13v2M262 15v1M263 15v1M264 7v1M264 10v1M267 8v2M267 13v1M268 9v3M268 15v1M269 16v1M270 7v1M270 12v1M270 14v1M271 6v1M271 9v1M271 11v1M271 13v2M272 8v1M272 11v1M272 13v2M283 7v1M284 8v2M285 10v1M285 12v1M285 14v1M302 9v2"/><path stroke="#eaa235" d="M42 9v1M84 8v3M85 7v1M92 6v1M92 9v1M92 13v1M93 8v1M106 7v1M106 9v1M106 13v1M107 9v1M107 13v1M108 13v1M120 4v2M131 7v1M131 9v2M131 14v2M132 7v1M132 9v1M132 11v1M133 0v2M133 4v1M134 2v2M134 6v2M135 22v1M136 0v2M137 19v1M138 13v1M138 16v1M139 7v1M142 7v2M143 7v1M143 15v1M144 9v1M144 11v1M145 14v2M146 7v1M147 8v1M147 11v1M147 13v1M148 7v5M148 13v1M149 5v1M149 15v1M150 15v1M155 7v1M155 9v1M158 12v1M158 15v1M161 5v1M161 15v1M162 15v1M163 7v3M163 12v1M163 14v1M164 4v1M164 6v1M164 12v4M165 7v2M165 10v1M166 0v2M169 13v1M175 4v2M175 17v1M176 3v2M177 3v1M177 5v1M177 20v1M177 23v1M178 2v1M178 15v2M179 1v1M179 4v2M179 9v1M179 11v1M179 13v1M179 15v1M181 5v2M182 6v5M182 15v1M182 17v1M184 8v1M185 1v1M185 3v1M185 5v1M185 16v2M186 5v1M186 10v1M187 4v3M188 16v2M189 2v1M189 17v1M195 5v1M196 8v2M197 1v1M197 6v1M197 14v1M198 10v1M198 14v1M199 14v2M200 0v1M200 16v1M201 7v1M201 10v1M201 12v1M202 1v1M204 1v3M204 14v1M206 8v1M206 11v1M207 3v1M207 8v1M207 10v3M207 14v1M208 9v1M209 0v1M209 2v3M209 17v1M210 0v2M210 16v1M211 2v3M211 16v1M212 0v5M214 18v1M214 23v1M215 1v1M215 21v1M216 0v1M216 4v1M216 17v1M216 20v2M216 23v1M217 10v4M218 4v1M218 14v2M219 1v1M221 15v1M222 6v1M222 12v1M223 10v1M223 12v1M225 9v1M225 12v1M226 5v1M231 9v2M231 15v1M232 5v1M232 7v1M232 12v3M234 7v1M234 9v1M234 13v1M235 3v1M235 15v1M236 13v1M237 9v2M237 12v1M240 11v1M241 11v3M242 11v1M248 10v1M250 7v1M250 9v1M250 11v1M251 6v2M251 9v3M252 7v1M252 15v1M254 6v1M254 8v1M254 10v3M254 14v1M256 7v1M258 9v1M260 9v1M261 6v3M261 12v1M262 14v1M263 6v2M263 14v1M264 8v2M264 12v1M267 12v1M267 14v2M268 14v1M270 6v1M270 8v1M270 10v2M271 7v1M271 12v1M272 6v2M284 10v1M285 7v1M285 13v1M302 8v1"/><path stroke="#e99930" d="M66 8v1M85 10v1M92 7v2M92 10v3M92 14v1M93 7v1M94 8v1M106 8v1M107 8v1M107 10v1M107 12v1M108 7v2M108 12v1M120 6v1M120 8v1M120 11v1M120 14v2M121 3v2M122 13v1M129 7v2M129 11v1M130 17v1M131 8v1M131 11v1M131 13v1M133 3v1M133 5v1M133 12v2M134 4v2M134 8v1M134 10v1M134 12v3M135 1v1M136 17v1M137 1v1M137 20v1M138 2v1M138 4v1M138 6v1M138 14v2M139 11v1M142 9v1M142 12v1M143 6v1M143 8v2M143 11v1M144 13v1M145 7v3M146 6v1M146 8v3M146 12v3M147 7v1M147 9v1M147 12v1M148 12v1M150 6v2M150 9v1M150 14v1M161 11v1M162 7v3M162 13v2M164 7v2M164 11v1M166 2v1M166 17v1M167 16v1M175 7v2M175 11v1M176 9v1M176 15v1M177 16v2M178 0v2M178 5v3M178 9v1M179 8v1M179 10v1M179 12v1M181 4v1M181 8v1M181 11v1M181 13v2M182 11v1M182 13v2M185 4v1M186 7v3M186 11v1M186 14v2M187 8v1M187 12v1M187 14v1M188 2v1M189 3v1M189 16v1M190 16v2M191 16v1M192 0v2M193 4v2M193 17v1M194 16v2M195 6v1M197 4v1M198 7v1M198 9v1M198 11v1M198 13v1M198 15v1M199 6v3M199 12v1M200 2v2M201 9v1M201 13v1M202 3v4M202 15v1M203 6v1M203 8v1M203 13v1M203 15v1M204 5v1M204 12v2M206 7v1M206 14v2M207 5v3M207 9v1M209 5v1M209 15v1M210 2v2M212 17v1M214 19v1M214 21v2M215 0v1M215 3v1M215 18v1M215 20v1M215 22v1M216 3v1M217 7v2M219 4v1M220 12v1M220 14v1M221 14v1M222 10v2M225 6v1M226 15v1M227 15v1M231 6v2M231 11v2M232 6v1M232 8v2M232 11v1M233 13v3M236 10v1M236 12v1M240 10v1M241 6v1M241 10v1M242 10v1M248 7v1M248 13v1M251 12v2M252 6v1M252 8v1M252 10v1M252 13v2M254 9v1M254 13v1M258 13v1M259 7v5M261 10v1M262 8v1M262 11v1M263 9v2M263 12v1M268 13v1M269 6v1M269 9v2M269 15v1M270 9v1M271 8v1M271 10v1M272 10v1"/><path stroke="#e9932f" d="M85 8v2M93 9v3M107 11v1M108 9v2M120 13v1M121 5v1M121 14v2M122 12v1M129 6v1M129 10v1M130 13v1M130 16v1M131 6v1M131 12v1M134 9v1M136 3v2M136 16v1M137 0v1M137 2v2M137 18v1M137 21v1M138 3v1M138 5v1M138 7v2M138 11v1M143 10v1M143 13v2M144 6v3M144 14v1M145 6v1M145 10v1M145 12v2M149 6v1M149 8v1M149 11v1M149 13v1M150 8v1M150 11v1M150 13v1M155 13v2M158 13v2M161 6v3M161 14v1M162 6v1M162 10v2M164 9v2M166 3v2M166 16v1M167 15v1M175 9v2M175 15v2M176 6v1M177 15v1M178 3v1M178 8v1M178 14v1M181 7v1M181 9v2M181 12v1M182 12v1M182 16v1M185 7v1M185 9v1M185 13v1M185 15v1M186 6v1M186 12v1M187 7v1M187 9v2M188 0v2M188 15v1M189 4v1M190 0v1M190 3v1M191 17v1M192 2v2M192 17v1M193 16v1M194 6v1M194 8v1M194 11v1M194 15v1M195 8v1M195 12v4M197 5v1M197 7v1M197 10v1M197 12v1M197 15v1M198 12v1M199 10v2M199 13v1M200 4v1M200 15v1M202 7v1M202 11v2M202 14v1M203 10v2M204 4v1M206 9v2M206 12v2M207 13v1M210 12v1M210 14v1M211 5v2M211 11v2M211 14v2M212 5v1M212 15v2M212 18v3M212 22v1M213 0v1M213 16v1M215 2v1M215 4v1M215 19v1M216 2v1M216 5v1M216 15v2M217 9v1M218 6v5M218 12v1M219 5v1M219 14v2M221 12v1M222 7v3M226 14v1M227 6v3M231 13v1M232 10v1M233 7v1M233 9v1M233 11v2M235 4v2M235 8v1M236 7v2M241 9v1M242 8v2M248 8v2M248 11v1M252 9v1M252 11v2M259 12v1M262 12v2M263 8v1M263 11v1M263 13v1M268 12v1M269 8v1M269 11v1M269 13v2M272 9v1M285 8v1"/><path stroke="#e88d2e" d="M120 7v1M120 10v1M122 6v2M122 10v2M122 14v1M129 9v1M129 13v2M130 8v1M130 12v1M130 15v1M133 7v3M134 11v1M135 2v1M135 17v1M136 5v1M137 4v2M137 16v2M138 10v1M138 12v1M144 12v1M150 10v1M155 12v1M161 9v2M161 12v1M165 12v3M166 5v1M166 15v1M167 11v1M167 14v1M175 6v1M175 13v1M176 7v2M176 10v1M176 12v1M176 14v1M178 4v1M178 11v1M178 13v1M185 8v1M185 10v3M185 14v1M188 3v3M188 11v1M189 5v1M189 15v1M190 1v2M190 4v1M190 15v1M191 0v2M194 7v1M194 9v2M194 14v1M195 7v1M195 10v2M197 8v2M197 11v1M197 13v1M198 6v1M198 8v1M199 9v1M200 5v1M200 7v1M200 10v1M202 8v3M203 7v1M203 9v1M203 12v1M204 6v1M204 9v1M204 11v1M209 6v1M209 9v2M209 14v1M210 4v2M210 8v2M210 13v1M210 15v1M211 7v4M211 13v1M212 7v1M212 12v3M213 2v2M213 17v1M213 20v4M214 0v3M214 20v1M215 5v1M215 16v1M215 23v1M216 6v1M218 13v1M220 6v1M220 8v1M220 10v2M221 13v1M226 6v1M226 8v1M226 10v2M227 9v2M227 12v3M233 10v1M235 6v1M235 9v6M236 9v1M241 7v2M248 6v1M259 13v1M262 10v1M269 7v1M269 12v1"/><path stroke="#e8862d" d="M120 9v1M121 11v1M121 13v1M122 9v1M130 9v3M130 14v1M133 6v1M133 10v2M135 0v1M135 3v2M137 9v1M137 15v1M138 9v1M143 12v1M149 7v1M149 9v2M149 12v1M149 14v1M150 12v1M161 13v1M162 12v1M166 6v4M166 11v1M166 13v1M167 6v2M167 9v1M167 13v1M175 12v1M176 11v1M176 13v1M177 6v1M177 9v2M178 10v1M178 12v1M185 6v1M186 13v1M187 13v1M188 6v1M189 7v1M189 11v1M191 2v1M191 5v1M192 4v1M192 16v1M195 9v1M200 12v1M204 7v2M204 10v1M209 7v2M209 11v3M210 6v2M212 6v1M212 9v1M212 11v1M212 21v1M212 23v1M213 1v1M213 4v1M213 15v1M213 18v2M214 4v1M216 7v1M216 11v2M216 14v1M218 11v1M219 12v2M220 7v1M220 13v1M221 6v1M221 11v1M226 7v1M226 9v1M226 13v1M233 6v1M235 7v1M236 6v1M236 11v1M262 6v2M262 9v1M285 9v1"/><path stroke="#e7802d" d="M120 12v1M121 6v1M121 10v1M122 8v1M129 12v1M130 6v2M135 5v1M135 15v2M137 6v2M137 11v1M166 10v1M167 8v1M167 10v1M177 7v2M177 13v2M188 7v4M188 12v3M189 6v1M189 14v1M190 5v1M190 14v1M191 3v1M191 7v1M191 14v2M192 5v1M193 6v1M193 10v2M194 12v1M200 6v1M200 8v1M200 11v1M200 14v1M202 13v1M210 10v2M214 3v1M214 16v2M216 8v1M216 13v1M220 9v1M221 7v2M221 10v1M227 11v1M233 8v1"/><path stroke="#e7792c" d="M121 12v1M135 11v1M135 14v1M136 6v1M136 9v3M137 8v1M137 10v1M137 12v1M137 14v1M166 12v1M166 14v1M167 12v1M175 14v1M177 11v2M189 10v1M190 6v1M190 8v5M191 4v1M191 8v1M191 10v1M193 7v3M193 15v1M194 13v1M200 9v1M200 13v1M212 8v1M213 5v3M213 11v3M214 5v1M215 17v1M216 9v2M219 7v1M219 10v1M221 9v1M226 12v1"/><path stroke="#e6732b" d="M121 7v2M135 9v2M136 7v2M136 15v1M137 13v1M189 8v1M189 12v2M190 7v1M190 13v1M191 6v1M191 11v1M191 13v1M192 6v1M192 10v1M192 15v1M193 14v1M212 10v1M213 8v2M213 14v1M214 15v1M215 12v1M215 15v1M219 6v1M219 9v1M219 11v1"/><path stroke="#e66d2a" d="M121 9v1M135 6v3M135 12v2M136 13v2M189 9v1M191 12v1M192 8v2M192 12v3M193 12v2M213 10v1M215 7v2M215 14v1M219 8v1"/><path stroke="#e6692a" d="M136 12v1M191 9v1M192 7v1M215 6v1M215 9v3M215 13v1"/><path stroke="#e5652a" d="M192 11v1M214 6v1M214 8v1M214 10v1M214 12v1M214 14v1"/><path stroke="#e5612a" d="M214 7v1M214 9v1M214 11v1M214 13v1"/></svg></g><path d="M93.40 158.20H1403.40M93.40 244.40H1403.40M93.40 330.60H1403.40M204.66 72.00V416.80M305.15 72.00V416.80M416.41 72.00V416.80M524.08 72.00V416.80M635.35 72.00V416.80M743.02 72.00V416.80M854.28 72.00V416.80M965.54 72.00V416.80M1073.21 72.00V416.80M1184.47 72.00V416.80M1292.14 72.00V416.80" stroke="#262420" stroke-width="1.7" fill="none"/><rect x="93.40" y="72.00" width="1310.00" height="344.80" stroke="#262420" stroke-width="1.7" fill="none"/><rect x="1417.8" y="72.30" width="25.7" height="345.20" fill="url(#cb)"/><text transform="matrix(1 0 0 1.04 8.3 54.0)" font-size="41.0">PC</text><text transform="matrix(1 0 0 1.04 84.7 91.4)" font-size="26.0" text-anchor="end">12 AM</text><text transform="matrix(1 0 0 1.04 84.7 169.2)" font-size="26.0" text-anchor="end">6 PM</text><text transform="matrix(1 0 0 1.04 84.7 254.0)" font-size="26.0" text-anchor="end">12 PM</text><text transform="matrix(1 0 0 1.04 84.7 340.0)" font-size="26.0" text-anchor="end">6 AM</text><text transform="matrix(1 0 0 1.04 84.7 416.0)" font-size="26.0" text-anchor="end">12 AM</text><text transform="matrix(1 0 0 1.04 131.7 438.8)" font-size="26.0">Jan</text><text transform="matrix(1 0 0 1.04 230.2 438.8)" font-size="26.0">Feb</text><text transform="matrix(1 0 0 1.04 341.0 438.8)" font-size="26.0">Mar</text><text transform="matrix(1 0 0 1.04 451.8 438.8)" font-size="26.0">Apr</text><text transform="matrix(1 0 0 1.04 558.2 438.8)" font-size="26.0">May</text><text transform="matrix(1 0 0 1.04 670.0 438.8)" font-size="26.0">Jun</text><text transform="matrix(1 0 0 1.04 783.0 438.8)" font-size="26.0">Jul</text><text transform="matrix(1 0 0 1.04 890.7 438.8)" font-size="26.0">Aug</text><text transform="matrix(1 0 0 1.04 997.4 438.8)" font-size="26.0">Sep</text><text transform="matrix(1 0 0 1.04 1112.1 438.8)" font-size="26.0">Oct</text><text transform="matrix(1 0 0 1.04 1216.4 438.8)" font-size="26.0">Nov</text><text transform="matrix(1 0 0 1.04 1327.7 438.8)" font-size="26.0">Dec</text><text transform="matrix(1 0 0 1.04 1452.5 80.1)" font-size="26.0">40.87</text><text transform="matrix(1 0 0 1.04 1451.9 419.7)" font-size="26.0">-32.27</text><g filter="url(#bl)"><svg class="hm" x="93.40" y="492.60" width="1310.00" height="344.70" viewBox="0 0 365 24" preserveAspectRatio="none" shape-rendering="crispEdges"><path stroke="#829fd1" d="M12 14v1M12 17v1"/><path stroke="#89a6d6" d="M2 2v1M12 12v2M12 15v1"/><path stroke="#90adda" d="M2 0v1M2 3v3M2 13v1M3 19v1M47 23v1M341 0v1M342 18v1"/><path stroke="#97b3de" d="M1 1v4M2 1v1M2 6v1M2 16v1M2 22v1M3 13v1M3 15v2M12 7v1M12 10v1M12 16v1M12 19v1M14 0v1M15 0v2M16 3v1M20 0v3M21 0v3M21 21v1M22 8v1M22 11v1M22 18v1M22 23v1M23 13v2M23 20v1M46 15v3M46 19v1M47 14v1M69 15v2M341 2v1M342 16v1"/><path stroke="#9ebae2" d="M1 0v1M2 7v3M2 11v2M2 14v1M2 18v1M2 23v1M3 17v1M3 23v1M12 6v1M12 9v1M12 11v1M12 18v1M12 20v4M13 0v2M13 5v1M14 4v3M15 2v1M15 4v1M16 1v2M16 4v2M17 22v2M20 3v2M21 18v1M21 22v2M22 0v1M22 2v2M22 7v1M22 9v2M22 19v3M23 12v1M23 15v5M23 21v1M23 23v1M46 14v1M46 18v1M46 20v4M47 22v1M61 16v1M69 17v1M291 16v1M341 1v1M341 4v2M342 17v1M342 20v1M342 22v2"/><path stroke="#a5c0e6" d="M1 5v1M2 10v1M2 15v1M2 17v1M2 19v3M3 12v1M3 14v1M3 18v1M3 20v3M11 18v1M11 21v1M13 2v2M14 1v1M14 3v1M15 3v1M15 23v1M16 0v1M17 12v1M17 18v4M20 5v1M21 3v3M21 19v2M22 1v1M22 4v3M22 22v1M23 0v1M23 6v1M23 9v3M23 22v1M25 6v1M37 5v1M38 15v1M40 15v3M43 3v1M45 15v1M46 13v1M47 12v2M47 15v3M47 19v3M52 3v1M52 19v1M68 16v1M69 12v2M291 17v1M341 3v1M342 12v4M342 19v1"/><path stroke="#abc5e8" d="M7 13v5M7 21v3M11 6v1M11 8v1M11 10v2M11 22v1M13 4v1M13 9v1M14 2v1M14 10v1M14 13v1M14 20v1M15 5v1M15 19v1M15 21v1M16 6v1M17 15v3M23 3v1M23 7v2M24 17v1M25 13v2M25 16v1M37 0v1M37 3v1M37 7v1M38 14v1M38 16v2M43 1v1M45 16v3M46 12v1M47 6v2M47 11v1M47 18v1M52 0v1M52 2v1M52 4v1M52 20v1M56 20v1M60 17v1M61 17v1M68 17v1M69 14v1M69 21v1M69 23v1M101 22v1M290 17v1M291 15v1M335 20v1M336 19v1M338 16v1M341 7v1M342 21v1M346 1v1M346 13v1M346 20v1M347 0v1M347 2v1M347 18v1"/><path stroke="#b1c9e8" d="M0 2v1M1 19v1M1 23v1M3 4v1M4 4v1M4 10v1M6 1v1M6 19v1M7 12v1M7 18v3M9 4v1M9 11v2M9 16v1M10 21v1M11 7v1M11 9v1M11 15v1M11 19v2M11 23v1M12 3v1M12 8v1M14 7v3M14 11v1M14 18v2M14 21v3M15 17v2M15 20v1M15 22v1M16 7v3M16 11v1M16 16v1M17 1v1M17 4v1M17 13v2M21 11v1M23 1v2M23 5v1M25 7v2M25 10v2M25 19v1M26 17v1M27 10v1M27 15v2M37 1v2M37 4v1M37 6v1M37 8v1M37 10v2M37 19v1M38 13v1M40 13v1M41 17v1M41 20v2M43 0v1M43 2v1M43 4v2M44 16v1M44 18v1M45 6v1M45 12v3M45 19v2M45 22v2M47 0v1M47 2v1M47 8v3M51 15v1M52 1v1M52 5v1M52 14v2M52 17v2M52 21v3M53 16v2M59 17v1M61 14v2M68 12v4M69 18v3M69 22v1M70 16v2M72 18v1M75 16v2M79 16v2M101 17v1M101 19v1M290 12v1M290 14v3M291 13v2M292 17v1M334 0v2M334 4v2M335 1v1M335 4v1M335 18v1M335 21v3M336 18v1M337 18v1M337 20v4M338 12v1M338 17v5M341 6v1M341 9v1M341 11v1M341 16v3M341 22v1M342 0v2M342 3v2M342 6v2M342 10v2M346 2v1M346 5v1M346 14v3M346 19v1M346 21v1M346 23v1M347 4v1M347 20v1M347 23v1M348 14v2M348 22v1"/><path stroke="#b6cee7" d="M0 0v1M0 3v1M0 18v3M1 8v1M1 20v3M3 3v1M4 0v2M4 5v1M4 13v2M5 0v4M5 10v1M6 0v1M6 14v1M6 17v1M6 20v1M6 23v1M7 0v3M7 4v1M9 1v1M9 5v1M9 10v1M9 13v2M10 0v1M10 2v1M10 6v1M10 10v1M10 15v1M10 18v1M10 22v1M11 2v2M11 14v1M11 16v1M12 2v1M12 5v1M13 7v1M13 18v2M13 22v1M14 14v3M15 6v2M15 15v1M16 10v1M16 12v1M16 14v1M16 19v2M17 7v2M17 10v1M20 7v2M20 11v2M20 14v1M20 16v1M21 7v1M21 9v1M21 16v1M22 16v2M23 4v1M24 1v1M24 4v1M24 12v1M24 14v1M24 20v1M24 22v1M25 9v1M25 12v1M25 15v1M25 17v1M25 22v1M26 15v2M27 2v1M27 4v1M27 6v2M27 12v1M28 6v2M28 9v1M28 13v2M28 16v1M29 2v1M29 4v2M29 7v3M29 22v1M30 15v1M30 22v1M35 12v1M35 15v3M37 14v1M37 20v1M38 2v1M38 12v1M38 18v1M38 20v1M38 22v1M39 14v1M40 12v1M41 0v1M41 16v1M41 19v1M43 15v1M43 19v2M44 0v2M44 19v1M45 7v1M45 11v1M45 21v1M46 0v1M46 4v1M51 3v1M51 6v1M51 11v1M52 6v2M52 12v2M52 16v1M53 15v1M53 19v1M54 0v1M55 21v1M56 21v1M57 19v3M58 18v1M59 1v1M59 21v1M59 23v1M61 20v1M68 7v1M68 20v1M69 0v1M69 5v2M69 10v1M71 0v1M71 2v1M71 16v1M72 1v1M72 3v1M72 21v1M72 23v1M73 21v1M73 23v1M74 0v1M74 16v1M74 22v1M75 19v2M101 14v3M101 20v2M101 23v1M116 1v1M118 16v2M289 14v2M290 13v1M291 1v1M291 12v1M291 20v1M292 15v2M292 18v1M334 2v2M335 0v1M335 2v2M335 5v1M335 19v1M336 1v1M336 20v3M337 17v1M337 19v1M338 14v2M338 22v2M341 8v1M341 10v1M341 12v3M341 19v3M341 23v1M342 8v2M345 9v1M346 0v1M346 3v2M346 12v1M346 17v2M346 22v1M347 1v1M347 3v1M347 19v1M347 21v2M348 12v2M348 16v2M348 19v3M348 23v1M350 3v1M354 8v1M354 15v1M360 3v1"/><path stroke="#bbd2e7" d="M0 1v1M0 4v2M0 23v1M1 6v2M1 9v1M1 11v1M1 18v1M3 0v1M3 2v1M4 6v1M4 8v1M4 11v1M4 15v3M5 4v1M5 6v1M5 8v2M5 11v1M6 2v3M6 13v1M6 15v2M6 18v1M6 21v2M7 3v1M7 5v1M9 0v1M9 2v2M9 7v1M9 9v1M9 15v1M9 17v1M10 3v1M10 5v1M10 7v1M10 9v1M10 12v3M10 19v2M10 23v1M11 0v1M11 4v2M11 12v2M11 17v1M12 0v2M12 4v1M13 6v1M13 8v1M13 21v1M14 17v1M15 8v7M15 16v1M16 13v1M16 15v1M16 18v1M16 21v3M17 3v1M17 5v2M17 9v1M17 11v1M20 9v1M20 13v1M20 17v1M20 20v1M21 6v1M21 8v1M21 13v3M21 17v1M22 13v3M24 0v1M24 2v2M24 16v1M24 18v1M24 21v1M24 23v1M25 20v2M26 0v1M26 12v3M27 0v2M27 3v1M27 5v1M27 13v1M27 17v1M28 0v5M28 8v1M28 10v1M28 17v1M28 20v1M29 10v2M29 18v2M29 21v1M29 23v1M30 12v2M30 16v6M30 23v1M35 13v1M37 9v1M37 17v2M37 22v2M38 0v2M38 19v1M39 13v1M40 14v1M41 1v2M41 5v1M41 13v3M41 18v1M41 22v2M42 1v1M42 22v1M43 12v3M43 16v3M43 21v1M44 3v3M44 15v1M44 20v4M45 0v1M45 2v4M46 1v3M46 6v1M47 1v1M47 3v3M51 0v3M51 4v1M51 7v1M51 9v2M51 16v1M52 9v1M52 11v1M53 13v2M53 18v1M53 21v3M54 19v1M55 18v3M55 22v2M56 19v1M57 17v1M57 22v1M58 19v2M58 22v2M59 13v1M59 16v1M59 20v1M59 22v1M60 15v2M61 0v1M61 2v1M61 13v1M61 18v1M61 21v1M62 16v1M68 0v1M68 2v1M68 4v1M68 6v1M68 8v2M68 11v1M68 19v1M68 22v2M69 1v4M69 7v1M69 9v1M69 11v1M70 13v2M70 18v1M70 20v4M71 1v1M71 13v2M71 17v2M71 21v3M72 2v1M72 20v1M72 22v1M73 1v1M73 16v5M74 1v4M74 12v2M74 17v2M74 20v2M75 0v1M75 12v1M75 18v1M75 21v1M76 16v2M78 1v1M78 16v7M79 15v1M79 18v1M79 20v2M79 23v1M101 0v1M101 2v1M101 10v1M101 12v2M101 18v1M116 4v1M117 17v1M118 2v2M118 20v1M289 12v2M290 2v6M290 9v2M290 21v2M291 0v1M291 2v1M291 4v2M291 18v2M291 21v3M292 20v1M292 22v1M334 19v1M335 12v1M335 16v1M336 16v2M336 23v1M338 13v1M341 15v1M342 2v1M342 5v1M343 14v1M343 23v1M344 21v1M345 1v1M345 3v1M346 11v1M347 5v2M347 8v1M347 17v1M348 2v1M348 5v1M348 18v1M349 0v1M349 4v1M351 5v1M351 19v2M352 4v1M353 0v1M354 2v1M355 9v1M355 11v2M355 18v1M360 0v1M360 2v1M360 6v1M360 8v1M360 11v1M360 15v1M360 19v2M361 2v1M361 10v1M361 15v1M361 23v1M364 3v1M364 5v1M364 10v1M364 22v1"/><path stroke="#c0d6e7" d="M0 21v2M1 10v1M1 15v1M3 1v1M4 3v1M4 7v1M4 9v1M4 12v1M4 19v1M4 23v1M5 5v1M5 7v1M6 5v1M7 6v2M7 9v1M8 19v1M8 21v1M9 6v1M9 8v1M10 1v1M10 4v1M10 8v1M10 11v1M10 16v2M11 1v1M13 10v1M13 23v1M14 12v1M16 17v1M17 0v1M17 2v1M18 20v1M20 6v1M20 10v1M20 15v1M20 18v1M20 23v1M21 10v1M21 12v1M22 12v1M24 13v1M24 15v1M24 19v1M25 18v1M25 23v1M26 21v1M26 23v1M27 8v2M27 11v1M27 14v1M27 22v2M28 5v1M28 11v2M28 15v1M28 22v1M29 0v2M29 3v1M29 6v1M29 13v1M29 15v1M30 14v1M34 8v1M35 14v1M36 16v2M37 12v1M37 16v1M37 21v1M38 3v4M38 10v2M38 21v1M38 23v1M39 12v1M39 15v3M40 1v3M40 19v1M41 3v2M41 12v1M42 2v1M42 18v1M42 23v1M43 6v1M43 22v2M44 2v1M44 7v1M44 12v3M44 17v1M45 1v1M45 8v2M46 5v1M51 5v1M51 8v1M51 12v1M51 14v1M51 17v2M51 20v1M51 22v1M52 8v1M52 10v1M53 1v1M53 20v1M54 1v1M54 20v1M56 16v3M56 22v2M57 18v1M57 23v1M58 0v1M58 3v1M58 16v2M58 21v1M59 14v2M59 18v2M60 1v1M60 12v1M60 14v1M61 1v1M61 3v3M61 12v1M61 19v1M61 22v2M62 17v1M62 19v1M62 21v2M66 17v1M67 17v1M68 3v1M68 5v1M68 18v1M68 21v1M70 12v1M70 15v1M70 19v1M71 4v2M71 15v1M71 20v1M72 0v1M72 4v2M72 17v1M72 19v1M73 15v1M73 22v1M74 5v1M74 14v2M74 19v1M74 23v1M75 13v3M75 22v2M77 17v1M77 21v1M78 23v1M79 14v1M79 19v1M79 22v1M89 14v1M89 17v1M89 19v1M101 1v1M101 4v1M101 7v1M101 9v1M101 11v1M102 23v1M115 1v1M116 0v1M116 2v2M116 5v1M117 16v1M117 22v1M118 0v1M118 5v1M118 18v1M119 17v1M289 0v2M289 17v1M290 0v2M290 8v1M290 11v1M290 18v2M290 23v1M291 3v1M291 6v1M292 0v1M292 2v1M292 12v1M292 14v1M292 19v1M292 21v1M292 23v1M334 6v2M334 11v1M334 14v2M334 17v1M334 21v2M335 6v2M335 10v2M335 13v1M336 0v1M336 2v1M336 12v1M336 14v1M337 12v1M338 5v1M339 19v5M340 20v1M343 15v2M343 18v1M343 20v1M343 22v1M344 17v3M345 2v1M345 4v1M345 6v1M345 8v1M345 10v1M345 12v2M345 15v1M345 23v1M346 6v2M346 10v1M347 10v4M347 16v1M348 3v2M349 3v1M349 13v1M349 15v1M349 18v1M349 21v1M349 23v1M351 1v4M351 21v2M352 1v1M352 3v1M353 1v1M353 3v1M353 13v1M353 16v3M353 21v1M354 3v1M354 6v1M354 9v2M354 16v6M354 23v1M355 0v1M355 2v2M355 8v1M355 13v2M355 19v4M360 4v2M360 9v1M360 13v2M360 16v1M360 22v1M361 5v3M361 11v3M361 18v1M361 22v1M364 1v2M364 4v1M364 7v3M364 12v1M364 14v1M364 21v1"/><path stroke="#c7d8db" d="M0 6v1M0 9v2M1 12v1M1 14v1M1 16v1M3 5v1M4 2v1M4 18v1M4 20v3M6 12v1M7 11v1M8 20v1M8 22v1M13 11v1M13 20v1M18 18v1M18 21v3M20 19v1M20 21v1M24 5v1M26 2v2M26 19v2M27 19v1M27 21v1M28 18v2M28 21v1M28 23v1M29 12v1M29 16v1M29 20v1M34 1v1M34 7v1M34 9v4M34 16v1M34 20v1M35 0v1M35 5v1M35 21v2M36 14v1M37 13v1M37 15v1M38 7v3M39 2v1M39 5v1M40 18v1M40 21v1M40 23v1M42 0v1M42 19v1M43 7v1M43 10v2M44 6v1M45 10v1M46 7v1M46 11v1M51 13v1M51 19v1M51 23v1M53 0v1M53 3v1M53 5v1M54 2v2M54 18v1M54 21v2M55 16v2M56 13v1M56 15v1M57 16v1M58 1v1M58 4v1M58 13v3M59 12v1M60 0v1M60 13v1M60 21v1M60 23v1M62 15v1M62 20v1M67 0v1M67 2v1M67 16v1M67 20v1M67 23v1M68 1v1M69 8v1M70 0v1M70 3v2M71 12v1M71 19v1M72 15v2M73 0v1M73 5v1M74 7v1M75 1v2M76 14v2M77 16v1M77 18v1M77 20v1M78 5v1M78 15v1M79 12v2M89 0v1M89 3v1M89 16v1M89 20v2M89 23v1M100 15v1M100 17v1M101 3v1M101 5v2M101 8v1M102 7v1M102 9v1M102 18v1M102 22v1M112 1v1M114 0v2M114 17v1M115 0v1M116 15v1M116 17v1M116 20v1M117 1v1M117 15v1M117 20v1M118 1v1M118 4v1M118 13v1M118 21v3M119 16v1M119 19v1M289 3v1M289 5v1M289 7v2M289 18v1M289 21v2M290 20v1M291 11v1M292 3v3M292 13v1M334 8v3M334 12v2M334 16v1M334 20v1M334 23v1M335 8v1M335 14v2M335 17v1M336 3v3M336 13v1M336 15v1M337 13v4M338 1v3M339 0v1M339 18v1M340 18v1M340 21v3M343 12v1M343 17v1M343 19v1M344 14v3M344 23v1M345 0v1M345 5v1M345 11v1M345 14v1M345 16v5M345 22v1M346 8v2M347 7v1M347 9v1M347 15v1M348 1v1M349 1v2M349 5v1M349 12v1M349 14v1M349 16v2M349 19v2M349 22v1M350 0v3M350 4v2M351 0v1M351 18v1M352 0v1M352 2v1M352 5v1M353 2v1M353 5v1M353 12v1M353 14v2M353 20v1M353 22v2M354 0v2M354 4v2M354 7v1M354 11v4M354 22v1M355 4v3M355 10v1M355 15v3M355 23v1M360 1v1M360 7v1M360 17v1M360 21v1M360 23v1M361 0v2M361 3v2M361 8v2M361 14v1M361 16v2M361 20v2M364 0v1M364 13v1M364 18v3"/><path stroke="#cddace" d="M0 7v2M0 11v1M0 14v1M1 13v1M1 17v1M3 10v1M5 12v2M7 8v1M7 10v1M8 23v1M18 19v1M20 22v1M26 1v1M26 5v1M26 18v1M26 22v1M27 18v1M29 14v1M30 1v1M30 3v1M30 6v1M30 8v1M33 8v1M33 10v1M33 16v1M33 18v1M34 0v1M34 3v4M34 13v3M34 17v1M35 1v4M35 18v1M35 20v1M36 12v2M39 0v2M39 3v2M39 23v1M40 0v1M40 4v2M40 20v1M40 22v1M42 3v2M42 17v1M42 20v1M43 8v2M44 9v1M44 11v1M46 9v2M48 15v1M48 17v1M51 21v1M53 2v1M53 4v1M53 12v1M55 2v1M56 6v1M56 12v1M56 14v1M57 6v1M58 2v1M58 5v2M58 12v1M59 0v1M59 2v1M59 4v1M60 2v1M60 4v1M60 18v3M60 22v1M62 14v1M62 18v1M62 23v1M66 20v1M67 1v1M67 4v2M67 14v2M67 19v1M67 22v1M68 10v1M70 1v2M71 3v1M71 6v1M72 6v1M72 12v1M73 3v2M73 12v1M74 6v1M74 8v1M75 3v1M75 5v1M76 0v1M76 19v2M76 22v2M77 0v1M77 19v1M77 22v2M78 0v1M78 3v2M89 1v1M89 4v1M89 12v1M89 15v1M89 18v1M89 22v1M100 0v4M100 11v1M100 13v1M100 16v1M100 19v1M100 21v1M102 5v2M102 11v2M102 14v1M102 17v1M102 19v2M112 4v1M114 16v1M114 18v1M114 20v2M114 23v1M115 2v1M115 18v1M115 20v1M115 23v1M116 13v1M116 16v1M116 22v2M117 0v1M117 3v1M117 5v1M117 14v1M117 19v1M118 12v1M118 14v2M119 0v3M119 4v1M119 7v3M119 12v2M119 20v1M289 2v1M289 4v1M289 6v1M289 9v2M289 16v1M289 19v2M289 23v1M291 8v1M291 10v1M292 1v1M292 6v1M334 18v1M335 9v1M338 0v1M338 4v1M338 6v1M340 14v1M340 19v1M343 13v1M343 21v1M344 5v1M344 12v2M344 20v1M344 22v1M345 7v1M345 21v1M347 14v1M348 0v1M348 6v1M349 9v1M351 23v1M352 18v1M353 4v1M353 19v1M355 1v1M355 7v1M359 11v2M359 22v2M360 10v1M360 12v1M360 18v1M361 19v1M362 15v1M363 17v1M364 6v1M364 11v1M364 15v3M364 23v1"/><path stroke="#d3dcc1" d="M0 12v1M0 16v1M3 8v2M5 15v1M5 17v1M5 20v3M8 18v1M9 18v2M9 21v1M13 13v2M13 16v2M18 0v1M18 3v2M26 4v1M27 20v1M29 17v1M30 0v1M30 4v1M30 7v1M30 11v1M33 1v1M33 5v3M33 17v1M33 21v2M34 2v1M34 19v1M34 21v1M35 19v1M35 23v1M36 1v3M36 5v1M36 15v1M36 20v1M39 11v1M39 20v1M41 6v1M42 15v1M42 21v1M44 10v1M46 8v1M48 12v1M48 14v1M48 23v1M54 4v1M54 16v1M54 23v1M55 0v1M57 1v3M57 14v2M58 8v1M58 11v1M59 3v1M59 5v2M60 3v1M60 5v1M61 6v1M62 0v2M62 12v2M63 16v2M63 20v2M63 23v1M64 17v1M66 16v1M66 22v1M67 3v1M67 12v2M67 18v1M67 21v1M71 11v1M72 7v1M72 13v2M73 2v1M73 13v2M74 9v3M76 1v3M76 12v2M76 18v1M76 21v1M77 1v2M77 15v1M78 2v1M78 12v3M79 1v1M88 0v1M88 2v1M88 17v1M88 20v1M89 2v1M89 5v1M89 10v1M96 0v1M96 16v1M100 6v1M100 12v1M100 14v1M100 18v1M100 20v1M100 22v1M102 1v4M102 8v1M102 10v1M102 15v2M102 21v1M112 0v1M112 2v2M112 5v1M113 0v1M114 2v3M114 14v2M114 19v1M114 22v1M115 3v1M115 21v2M116 14v1M116 19v1M116 21v1M117 2v1M117 12v1M117 23v1M118 19v1M119 3v1M119 5v2M119 10v2M119 14v1M119 18v1M119 21v3M229 22v1M289 11v1M291 7v1M291 9v1M292 7v1M337 0v4M339 1v1M339 5v1M339 14v1M339 16v2M340 1v1M340 3v1M340 5v1M340 15v1M340 17v1M343 1v1M343 4v1M343 9v1M343 11v1M344 1v2M348 7v1M348 11v1M349 7v1M350 6v3M350 10v1M350 19v1M350 21v2M352 14v1M352 16v1M352 20v2M353 6v1M353 10v1M356 17v3M356 21v1M356 23v1M359 1v1M359 4v1M359 10v1M359 13v1M359 15v1M359 17v1M359 20v1M362 13v1M362 17v3M362 21v3M363 13v4M363 18v1M363 21v1M363 23v1"/><path stroke="#dadeb6" d="M0 15v1M0 17v1M3 6v2M3 11v1M5 14v1M5 16v1M5 18v2M5 23v1M8 17v1M9 20v1M9 22v1M13 12v1M13 15v1M18 2v1M18 5v1M18 15v1M19 2v1M19 14v1M19 21v1M24 7v2M24 10v1M25 5v1M30 2v1M30 5v1M33 0v1M33 2v3M33 9v1M33 11v3M33 20v1M34 23v1M36 0v1M36 4v1M36 18v2M36 22v2M39 6v1M39 9v2M39 18v1M39 21v2M40 6v1M42 5v1M44 8v1M48 6v1M48 13v1M48 16v1M48 19v4M49 14v1M50 14v1M53 6v1M54 5v1M54 15v1M54 17v1M55 1v1M55 3v4M55 15v1M56 0v1M57 0v1M57 4v2M57 11v3M58 7v1M61 8v1M61 10v1M62 2v1M62 4v1M63 14v1M63 18v1M63 22v1M64 0v1M65 16v1M66 0v1M66 18v1M66 23v1M70 5v2M71 7v1M72 10v1M73 6v1M73 8v1M73 10v1M75 4v1M75 6v1M76 4v2M88 1v1M88 3v3M88 12v1M88 19v1M88 21v3M89 6v2M89 11v1M89 13v1M96 2v1M96 4v1M96 12v1M96 15v1M96 17v2M96 20v2M100 4v2M100 23v1M102 0v1M102 13v1M103 0v1M103 19v2M112 18v1M112 22v1M113 1v1M113 3v1M113 18v1M113 20v1M114 12v2M115 5v1M115 17v1M115 19v1M116 8v5M117 13v1M117 18v1M117 21v1M118 6v1M119 15v1M124 23v1M125 23v1M153 22v1M244 0v1M244 2v1M245 2v1M245 20v2M275 1v1M275 3v1M275 17v1M275 20v2M292 8v1M293 13v1M293 15v3M337 4v1M338 9v1M339 2v3M339 12v1M339 15v1M340 0v1M340 2v1M340 4v1M340 12v2M343 2v2M343 5v3M343 10v1M344 0v1M344 3v2M348 8v3M349 6v1M349 8v1M349 10v2M350 9v1M350 11v5M350 17v2M350 20v1M350 23v1M352 12v2M352 15v1M352 17v1M352 22v2M353 7v1M353 9v1M353 11v1M356 12v4M356 22v1M359 2v1M359 5v3M359 14v1M359 16v1M359 18v2M359 21v1M362 12v1M362 20v1M363 19v1M363 22v1"/><path stroke="#e0e0aa" d="M0 13v1M8 14v1M9 23v1M18 1v1M18 12v1M18 16v2M19 19v1M25 1v1M25 3v1M26 6v2M26 10v1M30 9v2M31 2v1M31 17v3M31 22v1M33 14v2M33 19v1M33 23v1M34 18v1M34 22v1M35 6v2M35 10v2M36 21v1M39 7v2M39 19v1M40 8v1M41 11v1M42 16v1M48 0v1M48 2v1M48 4v1M48 9v1M48 18v1M49 15v2M50 4v1M50 15v1M50 17v1M53 7v1M53 11v1M55 12v3M56 1v1M56 11v1M57 7v1M58 9v2M61 7v1M61 9v1M61 11v1M62 3v1M63 0v2M63 13v1M63 15v1M63 19v1M64 1v1M64 16v1M64 19v2M64 22v2M65 0v1M65 2v1M65 14v1M65 18v1M66 2v1M66 19v1M66 21v1M67 6v1M70 7v1M71 8v2M72 8v1M72 11v1M73 7v1M73 9v1M73 11v1M75 11v1M76 6v1M77 3v1M78 6v1M79 0v1M80 14v2M87 0v1M87 3v1M87 15v3M87 19v1M87 22v1M88 14v3M88 18v1M89 8v2M95 17v1M96 1v1M96 3v1M96 5v1M96 13v1M96 23v1M100 8v1M100 10v1M103 1v1M103 3v1M103 15v1M103 17v2M103 21v2M111 17v1M112 13v4M112 19v1M112 21v1M113 19v1M113 21v2M114 5v1M115 4v1M116 6v2M116 18v1M117 4v1M118 8v3M124 19v2M125 19v1M125 21v1M153 20v1M229 19v1M229 21v1M244 4v1M245 1v1M245 22v2M246 22v1M275 2v1M275 4v2M275 12v4M275 19v1M275 22v2M292 10v2M293 14v1M293 18v1M304 1v1M327 9v1M337 5v1M338 7v2M338 11v1M339 7v1M339 10v1M339 13v1M340 16v1M343 0v1M343 8v1M351 7v1M351 16v2M352 11v1M352 19v1M353 8v1M356 16v1M356 20v1M357 3v1M359 3v1M359 8v2M362 16v1M363 5v1M363 8v1M363 12v1M363 20v1"/><path stroke="#e5e29f" d="M8 13v1M8 15v2M18 14v1M19 1v1M19 3v3M19 15v3M19 20v1M19 22v2M24 6v1M24 9v1M24 11v1M25 0v1M25 2v1M26 8v2M26 11v1M31 1v1M31 3v3M31 12v4M31 20v1M31 23v1M35 9v1M40 7v1M40 10v2M41 7v1M48 5v1M48 7v2M48 11v1M49 13v1M49 21v2M50 1v2M50 5v1M50 12v2M50 16v1M56 4v1M56 7v1M60 6v1M62 5v1M63 2v2M64 2v1M64 15v1M64 18v1M64 21v1M65 1v1M65 13v1M65 15v1M65 17v1M65 19v4M66 1v1M67 9v1M67 11v1M70 11v1M71 10v1M72 9v1M75 10v1M77 4v2M77 12v1M77 14v1M79 2v2M81 17v1M87 1v2M87 5v1M87 20v2M88 6v1M88 11v1M88 13v1M96 11v1M96 14v1M96 19v1M96 22v1M97 3v2M97 12v1M97 17v1M97 21v1M98 17v1M99 16v2M99 21v1M100 7v1M100 9v1M103 2v1M103 4v2M103 23v1M111 2v1M112 11v1M112 17v1M112 20v1M112 23v1M113 2v1M113 5v1M113 17v1M117 6v1M117 11v1M118 7v1M118 11v1M124 18v1M124 21v2M125 18v1M125 20v1M125 22v1M153 18v1M153 21v1M153 23v1M229 18v1M229 20v1M229 23v1M243 1v1M243 20v1M243 22v1M244 1v1M244 3v1M244 5v1M244 22v2M245 0v1M245 3v2M245 15v3M245 19v1M246 16v1M248 3v1M274 1v1M274 3v1M274 16v4M275 0v1M275 11v1M275 16v1M275 18v1M292 9v1M293 12v1M293 19v1M293 22v1M303 21v1M304 0v1M304 4v1M304 14v1M304 17v2M304 22v1M305 12v2M305 15v1M305 18v1M321 2v1M321 13v2M321 18v2M321 22v1M322 1v1M322 3v1M322 14v1M322 20v1M327 5v1M327 10v1M327 20v1M328 4v1M328 17v1M336 10v2M338 10v1M339 8v1M340 7v2M340 10v1M344 6v2M350 16v1M351 6v1M351 9v2M351 12v3M352 6v1M352 10v1M356 0v1M356 2v1M356 5v1M356 9v1M356 11v1M357 4v5M357 10v2M357 13v1M357 15v1M357 21v1M358 0v1M358 6v1M358 11v2M358 14v1M358 17v1M358 21v1M362 0v1M362 3v1M362 6v1M362 11v1M362 14v1M363 0v1M363 2v1M363 4v1M363 11v1"/><path stroke="#e8e395" d="M8 1v1M8 4v1M8 12v1M18 6v1M18 13v1M19 0v1M19 12v2M25 4v1M31 0v1M31 10v1M31 16v1M31 21v1M32 1v2M32 5v1M32 8v1M32 11v4M32 21v1M35 8v1M36 6v2M40 9v1M41 8v1M41 10v1M42 14v1M48 1v1M48 3v1M48 10v1M49 3v1M49 5v1M49 12v1M49 17v4M50 0v1M50 3v1M50 9v1M50 11v1M50 20v1M50 22v2M53 9v2M54 14v1M55 11v1M56 2v2M56 9v1M57 8v2M59 11v1M62 6v1M63 4v3M63 12v1M64 3v2M64 13v2M65 3v2M65 12v1M65 23v1M66 3v1M66 13v1M66 15v1M67 8v1M70 10v1M75 7v1M77 13v1M78 7v1M79 6v1M80 0v1M80 13v1M80 16v1M80 20v3M82 11v1M82 17v1M82 20v1M84 4v1M85 19v1M86 2v1M86 15v1M86 20v1M87 12v3M87 18v1M87 23v1M88 7v1M88 10v1M94 1v1M96 6v3M97 1v2M97 5v1M97 16v1M97 18v2M97 22v1M98 12v2M98 15v2M98 18v1M99 14v1M99 18v2M99 22v2M103 6v1M103 13v1M103 16v1M105 16v2M109 17v1M110 3v1M110 16v2M110 19v2M110 23v1M111 0v1M111 4v2M111 15v2M111 18v2M111 21v2M112 7v1M112 9v1M112 12v1M113 4v1M113 16v1M114 6v2M114 9v1M115 16v1M117 7v2M117 10v1M125 5v2M125 11v1M140 18v2M152 21v1M153 19v1M154 19v1M172 6v1M184 18v2M238 19v1M240 20v1M241 19v1M243 2v1M243 18v2M243 23v1M244 14v1M244 16v6M245 5v1M245 14v1M245 18v1M246 2v2M246 13v1M246 15v1M246 17v2M246 20v2M246 23v1M247 0v1M248 0v1M248 2v1M256 1v2M257 1v1M258 19v1M263 20v1M265 0v2M265 15v1M266 0v1M274 2v1M274 12v3M274 20v1M274 22v2M275 6v1M275 8v3M276 3v1M280 18v3M281 20v1M284 0v1M287 8v1M293 0v1M293 20v2M303 18v3M304 2v1M304 5v1M304 13v1M304 15v1M304 19v2M304 23v1M305 0v2M305 5v1M305 16v2M305 22v2M307 17v1M311 12v1M318 15v1M321 1v1M321 4v3M321 15v1M321 23v1M322 5v2M322 10v2M322 16v4M322 21v1M325 20v1M327 0v2M327 3v1M327 6v3M327 11v1M327 15v4M327 21v2M328 3v1M328 5v1M328 12v3M328 16v1M328 18v1M328 21v3M331 0v1M332 14v1M336 6v3M339 9v1M339 11v1M340 6v1M340 9v1M340 11v1M344 8v2M344 11v1M351 8v1M351 11v1M351 15v1M352 7v3M356 1v1M356 3v2M356 6v3M356 10v1M357 1v2M357 9v1M357 14v1M357 16v1M357 18v3M357 22v2M358 1v1M358 3v3M358 8v3M358 16v1M358 18v1M358 22v2M359 0v1M362 1v2M362 4v2M362 9v2M363 3v1M363 7v1M363 9v1"/><path stroke="#ece38b" d="M6 6v1M6 8v1M6 11v1M8 0v1M8 2v1M8 6v1M8 10v2M18 7v1M18 10v2M19 18v1M31 7v2M31 11v1M32 0v1M32 6v1M32 9v1M32 15v2M32 20v1M32 23v1M36 11v1M42 12v1M49 0v3M49 6v4M49 11v1M49 23v1M50 8v1M50 10v1M50 18v1M50 21v1M54 13v1M55 8v1M56 8v1M56 10v1M57 10v1M59 7v2M60 7v1M63 7v1M64 12v1M65 5v2M66 4v2M67 7v1M70 8v1M75 8v2M78 8v4M79 4v1M80 1v1M80 12v1M80 17v1M81 0v1M81 2v1M81 16v1M81 19v1M82 1v1M82 3v2M82 7v1M82 12v1M82 23v1M83 1v1M83 4v2M83 15v3M83 20v2M83 23v1M84 0v2M84 18v1M84 20v1M85 20v1M85 23v1M86 3v1M86 5v1M86 13v1M86 16v1M86 19v1M87 4v1M87 6v1M87 11v1M88 8v2M90 0v1M90 2v1M90 5v1M91 0v1M91 18v2M93 19v1M94 0v1M94 21v1M95 0v1M95 15v2M96 9v1M97 0v1M97 6v1M97 11v1M97 13v1M97 15v1M97 20v1M97 23v1M98 3v1M99 12v1M99 15v1M99 20v1M103 7v2M104 0v1M104 17v1M105 0v3M106 0v2M106 3v1M106 23v1M109 1v1M109 16v1M110 18v1M111 3v1M111 12v2M111 20v1M111 23v1M112 6v1M112 10v1M113 15v1M113 23v1M114 8v1M114 11v1M117 9v1M123 20v2M125 0v4M125 7v1M125 10v1M126 17v2M127 19v2M128 0v2M128 18v2M128 21v1M140 0v1M141 18v3M142 19v1M142 21v1M143 18v1M143 21v2M144 22v1M145 19v1M145 22v2M146 19v1M146 21v1M151 18v1M151 20v1M151 23v1M152 2v1M152 6v1M152 9v4M152 22v2M153 10v1M153 17v1M154 18v1M154 23v1M155 19v1M155 21v2M156 0v1M157 19v1M157 23v1M159 18v4M159 23v1M160 0v1M160 19v1M161 19v1M162 18v3M162 22v1M163 18v2M171 20v1M172 9v1M172 18v2M172 21v1M172 23v1M173 20v3M174 19v1M183 19v2M184 20v1M184 23v1M226 23v1M227 21v1M227 23v1M228 20v1M228 22v1M229 17v1M237 18v2M238 18v1M238 21v2M239 17v2M239 20v1M240 22v1M243 0v1M243 5v1M243 16v1M243 21v1M244 12v2M245 6v2M246 0v2M246 7v1M246 12v1M246 14v1M246 19v1M247 1v1M247 4v2M247 16v1M248 1v1M248 23v1M249 23v1M250 18v1M250 22v1M251 0v1M253 0v3M253 19v3M253 23v1M254 19v1M254 21v1M255 0v2M255 3v1M255 20v1M255 22v1M256 0v1M256 4v1M256 20v1M257 0v1M257 3v1M257 17v2M260 23v1M261 20v1M262 22v1M265 2v1M265 17v1M266 1v2M271 1v1M274 0v1M274 4v2M274 11v1M274 21v1M275 7v1M276 2v1M276 10v1M276 23v1M277 1v2M277 17v1M277 19v1M277 23v1M278 4v1M278 18v1M278 20v1M279 0v1M279 20v2M280 2v1M280 6v2M280 21v1M280 23v1M281 17v1M283 17v1M283 21v1M284 19v1M285 19v2M287 3v1M287 17v1M287 20v1M287 22v1M295 1v1M295 18v1M296 13v1M296 17v1M297 3v2M297 12v1M297 17v1M297 19v2M298 1v1M298 8v1M298 14v1M298 17v1M298 20v1M299 17v1M299 22v1M300 1v1M300 17v1M302 0v1M303 0v1M303 2v1M303 4v1M303 6v1M303 22v2M304 12v1M304 16v1M305 2v3M305 7v1M305 14v1M305 19v3M306 21v1M307 1v1M307 3v1M307 22v1M308 0v1M308 19v1M308 22v1M309 1v1M309 4v1M309 16v1M309 20v1M310 8v1M311 0v2M311 3v1M311 13v1M313 12v1M313 19v1M314 3v1M314 9v1M314 12v1M315 6v1M315 9v1M315 14v1M316 14v2M316 21v1M317 10v1M318 1v1M320 0v1M320 2v1M320 4v1M320 16v3M320 21v1M321 0v1M321 3v1M321 7v1M321 12v1M321 16v2M321 20v2M322 0v1M322 2v1M322 7v3M322 13v1M322 15v1M322 22v2M323 3v1M323 7v1M323 11v1M323 16v1M323 20v3M324 2v1M325 1v1M325 15v3M326 6v2M326 21v1M327 2v1M327 4v1M327 12v2M327 19v1M328 0v3M328 15v1M328 19v2M329 2v1M330 0v1M330 5v1M330 18v1M331 9v1M331 12v1M331 22v1M332 5v2M332 8v1M333 14v1M336 9v1M339 6v1M344 10v1M357 0v1M357 12v1M357 17v1M358 2v1M358 7v1M358 13v1M358 15v1M358 19v2M362 7v1M363 1v1M363 6v1M363 10v1"/><path stroke="#efe480" d="M6 7v1M8 3v1M8 5v1M8 7v3M18 9v1M31 6v1M32 10v1M32 17v3M36 10v1M41 9v1M42 13v1M49 4v1M49 10v1M50 6v2M53 8v1M54 12v1M55 7v1M55 10v1M56 5v1M59 9v2M62 7v1M62 11v1M63 11v1M64 5v1M65 7v2M65 10v2M66 12v1M66 14v1M67 10v1M70 9v1M76 9v1M76 11v1M79 5v1M80 4v1M80 19v1M80 23v1M81 1v1M81 4v1M81 15v1M81 21v1M81 23v1M82 2v1M82 5v2M82 9v2M82 13v4M82 18v1M82 21v2M83 0v1M83 2v2M83 13v1M83 19v1M83 22v1M84 2v2M84 5v1M84 19v1M84 22v2M85 0v2M85 17v2M85 21v1M86 0v1M86 4v1M86 12v1M86 17v2M86 22v2M87 7v2M87 10v1M90 7v2M90 15v3M90 19v1M90 21v2M91 1v4M91 16v2M91 20v1M92 19v2M92 22v1M93 17v1M93 22v1M94 2v1M94 16v3M94 23v1M95 14v1M95 21v2M96 10v1M97 9v1M97 14v1M98 7v5M98 14v1M98 22v2M99 0v1M99 13v1M103 10v1M103 12v1M104 15v2M104 18v1M104 21v3M105 5v1M105 22v2M106 2v1M106 18v5M107 18v1M107 20v1M107 22v1M108 19v3M109 0v1M109 4v2M109 12v1M109 15v1M109 18v5M110 1v1M110 22v1M111 1v1M111 8v1M111 11v1M111 14v1M112 8v1M114 10v1M123 1v3M123 18v2M123 22v2M124 0v1M124 9v1M124 11v1M124 16v2M125 8v1M125 16v1M126 1v1M126 19v4M127 0v3M127 18v1M127 21v3M128 2v1M128 17v1M128 20v1M128 22v2M129 1v2M129 18v3M139 2v1M140 17v1M140 20v4M141 1v1M141 16v1M141 21v2M142 0v4M142 18v1M142 20v1M143 0v3M143 19v1M144 19v1M144 21v1M144 23v1M145 18v1M145 20v1M146 20v1M146 22v1M151 0v3M151 21v1M152 1v1M152 3v1M152 7v2M152 13v3M152 17v1M152 19v2M153 0v1M153 7v2M153 15v2M154 1v2M154 20v3M155 18v1M155 20v1M156 2v1M156 18v1M156 21v2M157 0v1M157 18v1M157 20v3M158 0v3M158 18v1M158 23v1M159 22v1M160 2v1M160 20v2M161 18v1M161 22v2M163 20v2M163 23v1M171 1v1M171 17v1M171 23v1M172 3v1M172 7v2M172 11v2M172 22v1M173 18v2M173 23v1M174 18v1M174 20v3M183 18v1M184 16v2M184 21v2M223 18v1M223 20v1M223 22v2M226 18v4M227 19v2M227 22v1M228 7v1M228 9v1M228 18v1M228 21v1M229 0v2M229 3v2M230 20v1M231 19v1M231 21v2M237 20v2M238 20v1M238 23v1M239 16v1M239 22v2M240 19v1M240 23v1M241 20v2M241 23v1M242 17v1M242 20v2M242 23v1M243 3v2M243 7v5M243 14v1M244 6v2M244 9v3M244 15v1M245 8v1M245 12v2M246 4v3M246 9v1M247 2v2M247 18v2M248 17v1M248 21v1M249 0v2M249 16v1M249 18v1M249 22v1M250 1v1M251 1v1M251 20v1M251 23v1M252 18v3M253 3v2M253 17v2M253 22v1M254 0v2M254 18v1M254 20v1M254 22v1M255 2v1M255 4v2M255 16v4M255 21v1M255 23v1M256 3v1M256 5v1M256 16v1M257 2v1M257 4v2M257 22v2M258 0v3M258 18v1M258 21v1M258 23v1M259 18v4M260 18v1M260 20v3M261 1v1M261 18v2M262 1v1M262 18v3M263 19v1M263 23v1M265 5v1M265 16v1M266 3v1M266 12v2M266 17v1M267 1v1M267 18v1M267 20v3M271 0v1M271 2v1M273 2v1M273 6v1M273 13v1M273 15v3M273 20v2M274 15v1M276 0v2M276 5v1M276 7v1M276 16v1M276 20v1M277 0v1M277 4v2M277 14v1M277 16v1M277 20v1M278 0v1M278 2v1M278 19v1M278 21v1M278 23v1M279 1v2M279 16v1M279 23v1M280 1v1M280 3v1M280 5v1M280 11v1M280 15v3M280 22v1M281 1v1M281 3v1M281 14v1M281 16v1M281 23v1M282 1v1M282 5v2M282 20v1M282 22v2M283 1v1M283 23v1M284 1v2M284 4v1M284 18v1M286 1v2M286 17v2M286 21v1M287 0v3M287 4v4M287 11v4M287 18v2M287 21v1M288 4v1M288 6v1M288 13v2M288 17v4M288 22v1M293 1v1M293 3v1M293 6v2M293 23v1M294 0v1M294 2v1M294 9v3M294 17v1M295 0v1M295 2v2M295 20v1M296 0v1M296 2v3M296 16v1M296 22v2M297 0v2M297 5v1M297 10v2M297 14v1M297 21v1M297 23v1M298 4v1M298 6v2M298 9v1M298 16v1M298 18v1M298 21v1M299 2v1M299 11v1M299 16v1M299 23v1M300 0v1M300 3v1M300 13v2M300 18v2M300 23v1M301 0v5M301 17v4M301 23v1M302 1v5M302 19v2M302 23v1M303 1v1M303 3v1M303 15v3M304 3v1M304 6v1M304 21v1M305 6v1M306 0v1M306 2v1M306 15v1M306 17v1M306 19v1M307 2v1M307 4v1M307 14v2M307 18v4M307 23v1M308 1v2M308 4v1M308 20v1M309 2v1M309 5v1M309 12v4M309 18v1M309 23v1M310 0v1M310 4v1M310 7v1M310 11v1M310 14v1M310 16v1M310 21v2M311 2v1M311 4v1M311 6v1M311 15v2M311 19v2M312 0v1M312 4v1M312 6v1M312 9v1M312 18v3M312 22v2M313 3v1M313 5v1M313 7v1M313 13v1M313 15v1M313 17v1M313 21v2M314 0v3M314 4v2M314 10v1M314 15v1M314 17v1M314 20v3M315 1v5M315 7v1M315 12v2M315 15v2M315 19v3M315 23v1M316 0v1M316 2v1M316 12v1M316 17v1M316 19v1M316 22v1M317 3v3M317 9v1M317 11v1M317 13v1M317 15v1M317 17v2M317 21v3M318 0v1M318 3v1M318 7v1M318 12v1M318 16v2M318 19v1M318 23v1M320 1v1M320 13v2M320 20v1M320 22v1M321 9v1M322 4v1M322 12v1M323 0v3M323 4v3M323 10v1M323 12v1M323 14v2M323 17v2M323 23v1M324 6v1M324 13v2M324 16v1M324 20v3M325 0v1M325 3v1M325 14v1M325 18v1M326 0v3M326 11v4M326 16v1M326 18v1M326 22v2M327 23v1M328 6v1M328 9v1M328 11v1M329 4v1M329 6v1M329 8v2M329 11v1M329 17v2M329 21v1M329 23v1M330 1v3M330 6v1M330 8v2M330 11v1M330 14v1M330 16v1M330 23v1M331 1v1M331 3v1M331 7v1M331 13v3M331 19v1M331 23v1M332 4v1M332 10v3M332 15v1M332 18v1M332 21v2M333 2v1M333 6v1M333 8v1M333 13v1M333 15v4M333 20v3M362 8v1"/><path stroke="#f1e076" d="M6 9v2M18 8v1M19 8v1M19 11v1M31 9v1M32 3v2M32 22v1M36 8v2M42 6v1M50 19v1M54 6v1M55 9v1M60 10v2M62 10v1M63 9v1M65 9v1M76 7v2M76 10v1M79 7v1M79 9v3M80 2v2M80 5v1M80 11v1M80 18v1M81 3v1M81 5v1M81 14v1M81 18v1M81 20v1M82 0v1M82 8v1M82 19v1M83 12v1M83 14v1M83 18v1M84 17v1M84 21v1M85 3v1M85 16v1M85 22v1M86 1v1M86 14v1M87 9v1M90 1v1M90 4v1M90 6v1M90 9v6M90 18v1M90 20v1M91 5v1M91 8v1M91 14v2M91 23v1M92 0v1M92 18v1M93 20v2M94 3v1M94 19v2M94 22v1M95 3v2M95 19v1M97 7v2M97 10v1M98 1v2M98 4v3M98 19v2M99 1v4M99 6v1M99 8v2M103 9v1M103 11v1M103 14v1M104 1v5M104 13v2M104 19v1M105 3v2M105 14v2M105 18v3M106 4v2M107 0v1M107 2v1M107 19v1M107 21v1M108 18v1M108 22v2M109 2v2M109 7v1M109 13v2M109 23v1M110 0v1M110 2v1M110 13v1M110 15v1M110 21v1M111 9v2M115 15v1M120 20v1M123 0v1M123 16v2M124 6v3M124 10v1M124 15v1M125 4v1M125 9v1M125 13v1M126 5v1M126 16v1M128 3v3M128 16v1M129 4v1M129 22v2M132 21v1M139 1v1M140 2v1M141 4v1M141 17v1M141 23v1M142 22v2M143 3v1M143 23v1M144 20v1M145 21v1M146 1v1M146 18v1M146 23v1M147 20v1M151 19v1M151 22v1M152 0v1M152 4v2M152 16v1M152 18v1M153 2v1M153 6v1M153 9v1M153 11v1M153 14v1M154 0v1M155 23v1M156 3v1M156 19v2M156 23v1M157 16v2M158 4v1M158 19v4M159 2v1M159 4v1M160 1v1M161 21v1M162 21v1M162 23v1M163 22v1M170 19v1M171 0v1M171 2v1M171 18v1M171 21v2M172 0v1M172 2v1M172 5v1M172 14v4M172 20v1M173 0v2M173 4v2M173 9v1M173 11v1M174 23v1M181 20v1M183 16v2M183 21v3M184 0v1M187 18v1M187 21v1M196 18v2M196 22v1M205 21v3M208 18v3M223 1v1M223 19v1M223 21v1M224 3v1M224 18v2M224 23v1M225 0v2M225 23v1M226 22v1M227 18v1M228 1v1M228 8v1M228 10v1M228 12v1M228 19v1M228 23v1M229 5v1M230 1v1M230 3v1M230 18v2M231 20v1M231 23v1M232 22v1M237 22v2M239 19v1M239 21v1M240 17v2M240 21v1M241 18v1M241 22v1M242 19v1M242 22v1M243 6v1M243 12v1M243 15v1M243 17v1M245 9v3M246 8v1M246 10v2M247 13v2M247 17v1M247 21v2M248 4v1M248 16v1M248 19v2M249 2v1M249 4v1M249 19v3M250 2v1M250 4v1M250 17v1M250 21v1M251 2v3M251 18v2M251 21v2M252 0v2M252 21v1M253 5v1M253 16v1M254 2v2M254 23v1M255 15v1M256 17v1M256 19v1M256 21v2M257 16v1M257 19v3M258 20v1M259 0v1M259 22v2M260 0v1M260 19v1M261 0v1M261 2v1M261 17v1M261 21v2M262 23v1M263 1v1M263 18v1M263 21v2M264 1v1M265 3v2M265 6v1M265 12v1M265 14v1M265 21v1M265 23v1M266 14v1M266 16v1M266 18v1M266 20v4M267 0v1M267 2v1M267 23v1M268 2v1M268 21v1M268 23v1M269 0v1M269 2v1M269 19v3M270 0v1M271 21v1M272 1v2M273 1v1M273 3v1M273 5v1M273 8v1M273 10v1M273 14v1M273 18v2M273 22v1M274 7v1M274 9v1M276 4v1M276 6v1M276 9v1M276 11v1M276 13v1M276 22v1M277 3v1M277 10v1M277 12v2M277 15v1M277 18v1M277 21v2M278 1v1M278 5v1M279 4v1M279 12v4M279 17v1M279 19v1M279 22v1M280 0v1M280 10v1M281 0v1M281 2v1M281 13v1M281 15v1M281 18v2M281 21v1M282 0v1M282 8v3M282 12v2M282 15v4M282 21v1M283 0v1M283 4v1M283 18v1M283 20v1M283 22v1M284 3v1M284 20v4M285 22v1M286 0v1M286 3v2M286 19v1M286 22v2M287 10v1M287 15v2M287 23v1M288 0v1M288 2v2M288 15v1M288 23v1M293 2v1M293 4v2M293 8v1M294 1v1M294 3v1M294 5v3M294 12v1M294 14v1M294 18v1M294 20v1M294 23v1M295 4v2M295 19v1M295 21v1M295 23v1M296 14v1M296 19v3M297 2v1M297 6v4M297 13v1M297 15v2M297 18v1M297 22v1M298 0v1M298 2v2M298 10v4M298 15v1M298 22v2M299 1v1M299 3v1M299 14v1M299 18v2M299 21v1M300 4v3M300 12v1M300 15v2M300 20v3M301 5v1M301 16v1M301 21v2M302 17v2M302 21v2M303 12v1M304 10v1M305 10v2M306 1v1M306 4v3M306 10v1M306 12v2M306 16v1M306 22v2M307 0v1M307 12v2M308 3v1M308 16v1M308 18v1M308 23v1M309 3v1M309 17v1M309 19v1M309 21v1M310 1v3M310 6v1M310 10v1M310 12v2M310 17v4M310 23v1M311 5v1M311 7v5M311 18v1M311 21v3M312 1v1M312 7v2M312 10v8M312 21v1M313 0v1M313 2v1M313 6v1M313 8v3M313 23v1M314 6v3M314 11v1M314 13v2M315 0v1M315 8v1M315 10v2M315 17v2M315 22v1M316 3v3M316 13v1M316 16v1M316 18v1M316 23v1M317 0v3M317 8v1M317 12v1M317 19v2M318 2v1M318 6v1M318 8v1M318 13v2M318 18v1M318 20v3M319 3v3M319 15v1M320 3v1M320 12v1M320 15v1M320 19v1M320 23v1M321 10v1M323 8v2M323 13v1M323 19v1M324 0v2M324 5v1M324 12v1M324 15v1M324 17v3M324 23v1M325 4v2M325 19v1M325 21v1M325 23v1M326 3v3M326 9v2M326 15v1M326 17v1M326 19v2M327 14v1M328 7v2M329 3v1M329 5v1M329 16v1M329 19v2M329 22v1M330 4v1M330 7v1M330 10v1M330 12v1M330 15v1M330 17v1M330 19v4M331 2v1M331 4v3M331 8v1M331 10v2M331 16v2M331 20v2M332 0v4M332 7v1M332 13v1M332 16v2M332 19v2M333 0v1M333 3v3M333 7v1M333 9v1M333 11v1M333 19v1M333 23v1M337 9v1"/><path stroke="#f0d96c" d="M32 7v1M60 8v2M62 8v2M63 8v1M63 10v1M77 6v1M79 8v1M80 6v2M81 22v1M85 2v1M85 4v1M86 6v2M86 10v1M86 21v1M90 23v1M91 6v1M91 10v1M91 12v2M91 21v2M92 3v1M92 21v1M92 23v1M93 16v1M93 18v1M93 23v1M94 4v2M94 15v1M95 1v1M95 5v1M95 18v1M95 20v1M95 23v1M98 0v1M98 21v1M99 5v1M104 7v1M104 10v1M104 12v1M104 20v1M105 12v1M105 21v1M107 1v1M107 23v1M108 17v1M109 6v1M109 8v3M110 6v1M110 12v1M110 14v1M111 6v2M115 6v1M115 14v1M120 18v2M120 21v1M120 23v1M121 22v1M122 23v1M123 4v2M124 1v1M124 3v2M124 13v1M125 14v2M125 17v1M126 0v1M126 3v2M126 9v1M126 12v4M127 3v2M127 16v2M128 15v1M129 0v1M129 3v1M129 21v1M131 21v1M132 17v4M132 22v2M133 21v2M134 21v1M139 3v1M139 18v1M139 22v1M140 1v1M140 4v1M141 0v1M141 2v1M141 11v3M141 15v1M143 20v1M144 0v2M144 18v1M145 2v1M146 0v1M146 2v1M147 21v1M147 23v1M148 21v1M149 19v1M150 0v1M151 3v3M153 1v1M153 3v1M153 5v1M153 13v1M154 3v3M155 0v1M156 1v1M157 2v3M157 15v1M158 3v1M158 5v1M159 0v2M159 3v1M160 3v1M160 5v1M160 9v2M160 18v1M160 22v2M164 18v1M165 18v1M168 2v1M168 18v1M168 21v2M169 18v1M169 22v1M170 0v1M170 2v1M170 16v1M170 20v3M171 3v1M171 5v1M171 15v1M171 19v1M172 1v1M172 4v1M172 10v1M172 13v1M173 2v2M173 10v1M173 17v1M174 0v1M175 18v1M176 18v1M180 21v1M181 22v2M183 0v3M184 1v3M186 19v4M187 19v2M187 22v1M194 0v1M194 18v3M196 17v1M196 20v2M196 23v1M199 21v1M201 17v1M201 19v4M205 0v1M205 2v1M205 4v1M205 16v5M207 20v1M207 23v1M208 17v1M208 21v3M217 22v1M220 19v1M222 0v1M222 17v2M222 23v1M223 0v1M223 2v1M224 0v3M224 20v3M225 2v1M225 18v5M226 0v1M228 0v1M228 2v1M228 16v1M229 2v1M229 10v2M229 14v1M230 0v1M230 2v1M230 16v1M230 22v2M231 18v1M236 0v1M236 22v1M237 0v2M238 17v1M239 0v3M241 0v2M241 16v2M242 16v1M242 18v1M243 13v1M244 8v1M247 15v1M247 20v1M247 23v1M248 5v1M248 18v1M249 3v1M250 0v1M250 19v2M251 5v1M251 17v1M252 2v1M252 4v1M252 22v2M253 15v1M254 4v2M254 17v1M256 18v1M258 22v1M260 1v2M260 16v2M261 3v1M261 23v1M262 21v1M263 2v1M264 0v1M264 2v2M264 19v1M265 7v1M265 13v1M265 18v2M265 22v1M266 4v2M266 15v1M267 3v2M267 19v1M268 0v2M268 3v1M268 18v3M268 22v1M269 22v1M270 1v2M270 18v4M271 5v1M271 17v1M273 4v1M273 7v1M273 9v1M273 11v2M273 23v1M274 6v1M274 10v1M276 8v1M276 12v1M276 14v2M276 17v3M276 21v1M277 6v2M277 11v1M278 3v1M278 16v1M278 22v1M279 3v1M279 5v2M279 18v1M280 4v1M280 8v2M280 12v3M281 4v1M281 7v1M281 11v2M281 22v1M282 2v3M282 7v1M282 14v1M282 19v1M283 2v2M283 19v1M284 5v1M285 0v2M285 18v1M285 23v1M286 5v1M286 20v1M287 9v1M288 5v1M288 11v2M288 16v1M293 9v3M294 8v1M294 16v1M294 19v1M294 21v2M295 14v1M295 22v1M296 1v1M296 5v2M296 12v1M296 15v1M296 18v1M298 5v1M298 19v1M299 0v1M299 4v4M299 12v2M299 15v1M299 20v1M300 2v1M302 16v1M303 5v1M303 11v1M303 14v1M304 9v1M304 11v1M305 8v2M306 3v1M306 8v2M306 14v1M306 18v1M306 20v1M307 6v1M307 16v1M308 5v2M308 15v1M308 17v1M308 21v1M309 0v1M309 6v1M309 8v1M309 22v1M310 5v1M310 9v1M310 15v1M311 14v1M312 2v2M312 5v1M313 1v1M313 14v1M313 16v1M313 18v1M313 20v1M314 16v1M314 18v2M314 23v1M316 1v1M316 7v1M317 6v2M317 14v1M318 4v2M318 9v3M319 2v1M319 8v3M319 12v3M319 18v2M320 6v1M321 8v1M321 11v1M324 3v2M324 7v1M324 11v1M325 2v1M325 6v1M325 12v2M325 22v1M326 8v1M328 10v1M329 0v2M329 7v1M329 10v1M329 12v1M329 14v2M330 13v1M331 18v1M332 9v1M332 23v1M333 1v1M333 10v1M333 12v1M337 6v3M337 10v2"/><path stroke="#f0d262" d="M19 6v2M19 9v2M66 6v1M80 8v3M81 12v2M83 6v1M84 6v1M84 16v1M85 5v1M86 8v2M86 11v1M90 3v1M91 11v1M92 1v2M95 2v1M95 13v1M99 7v1M99 10v2M104 6v1M104 9v1M105 13v1M106 16v1M107 3v2M108 0v2M109 11v1M110 4v2M113 12v3M120 22v1M121 20v1M122 20v2M123 6v1M123 15v1M124 2v1M124 5v1M124 12v1M124 14v1M125 12v1M126 2v1M126 11v1M126 23v1M127 5v1M127 15v1M131 1v1M131 18v3M131 22v2M132 0v1M132 16v1M133 17v1M133 19v2M134 18v1M134 22v1M138 18v1M138 21v1M139 0v1M139 16v2M139 19v3M139 23v1M140 3v1M140 5v1M140 16v1M141 3v1M141 6v4M141 14v1M142 4v1M143 4v1M144 2v1M144 4v1M145 0v2M146 3v1M147 19v1M147 22v1M148 18v3M149 18v1M149 20v1M149 22v2M151 15v1M151 17v1M153 4v1M153 12v1M154 17v1M155 1v1M156 4v2M156 17v1M157 1v1M157 5v1M157 14v1M159 5v1M159 17v1M160 4v1M160 6v1M160 8v1M161 20v1M162 0v1M165 19v5M168 0v2M168 15v1M168 17v1M168 19v2M168 23v1M169 1v1M169 20v2M169 23v1M170 3v3M170 17v1M170 23v1M171 4v1M173 6v3M174 1v2M174 6v1M174 16v1M175 20v1M176 21v3M180 16v1M180 18v3M180 22v2M181 19v1M181 21v1M182 20v1M182 22v1M184 4v1M186 18v1M186 23v1M187 23v1M194 1v2M194 21v3M195 19v2M197 21v1M198 18v1M199 18v2M200 21v1M201 18v1M201 23v1M202 19v1M202 22v1M203 18v1M204 17v1M205 1v1M205 3v1M205 14v2M206 19v3M207 19v1M208 1v1M208 16v1M217 1v1M217 19v3M217 23v1M218 20v2M220 20v2M224 4v2M225 3v2M226 17v1M228 6v1M228 11v1M228 13v3M228 17v1M229 7v3M229 13v1M229 16v1M230 4v1M230 15v1M230 17v1M230 21v1M232 19v2M237 2v2M237 16v2M238 1v1M238 3v1M238 16v1M239 3v2M239 15v1M240 0v1M240 16v1M242 0v1M247 10v1M248 22v1M249 5v1M249 15v1M249 17v1M250 3v1M250 16v1M250 23v1M252 3v1M254 16v1M256 23v1M257 15v1M258 3v2M259 1v2M260 3v2M261 4v1M263 0v1M264 4v2M264 18v1M264 20v1M264 22v2M265 20v1M266 6v1M266 19v1M267 5v1M268 4v1M269 1v1M269 5v1M269 18v1M269 23v1M270 3v1M270 22v2M271 3v1M271 18v3M272 0v1M272 19v1M272 23v1M273 0v1M274 8v1M277 8v2M278 17v1M279 7v1M281 5v2M281 9v1M282 11v1M283 5v1M283 16v1M284 17v1M285 2v2M285 16v1M285 21v1M286 6v1M286 12v1M286 14v1M286 16v1M288 1v1M288 7v3M288 21v1M294 4v1M294 13v1M294 15v1M295 12v1M295 15v1M295 17v1M296 11v1M300 7v2M300 10v2M301 6v1M301 13v1M301 15v1M302 6v1M302 15v1M303 13v1M304 7v2M306 7v1M306 11v1M307 5v1M308 13v2M309 7v1M309 9v2M311 17v1M313 4v1M316 11v1M316 20v1M317 16v1M319 0v2M319 6v2M319 11v1M319 17v1M319 20v1M319 22v2M320 5v1M324 10v1M325 8v1M325 11v1M329 13v1"/><path stroke="#f0cb58" d="M42 7v1M64 6v1M84 15v1M85 15v1M91 7v1M92 4v1M92 16v1M95 12v1M104 8v1M104 11v1M106 17v1M107 17v1M108 2v2M108 16v1M115 7v1M115 13v1M121 18v2M121 23v1M122 0v1M122 18v2M123 8v3M126 6v3M126 10v1M127 14v1M128 11v1M128 14v1M129 5v1M130 0v1M130 20v1M132 1v1M132 15v1M133 23v1M134 19v1M134 23v1M138 20v1M138 23v1M139 4v1M141 5v1M141 10v1M142 16v1M143 5v1M146 5v1M146 17v1M147 0v2M147 18v1M148 22v2M149 0v1M149 21v1M150 1v1M150 3v1M150 22v1M151 9v1M154 6v1M154 11v1M154 15v2M155 2v1M156 16v1M159 16v1M160 7v1M160 11v1M160 16v2M161 0v2M161 16v1M162 2v1M163 1v1M163 16v2M164 20v1M164 22v1M165 0v1M165 2v1M166 18v1M166 20v1M166 23v1M168 3v1M169 16v1M169 19v1M170 1v1M170 15v1M170 18v1M171 12v2M171 16v1M173 12v1M173 14v3M174 3v2M174 11v1M174 17v1M175 19v1M176 19v2M179 18v5M180 2v1M180 7v1M180 15v1M180 17v1M181 17v2M183 3v1M184 5v1M184 12v1M184 14v2M185 21v1M186 17v1M187 16v2M188 18v1M188 22v1M194 3v1M195 21v2M196 2v1M196 16v1M197 19v1M198 1v3M198 19v1M198 21v2M199 20v1M199 23v1M200 19v1M200 22v2M201 16v1M202 23v1M203 0v1M203 19v1M203 21v3M204 18v1M205 5v1M206 0v1M206 18v1M206 22v1M207 21v2M208 0v1M208 2v1M217 0v1M217 16v2M218 19v1M218 22v1M220 22v2M221 19v2M222 2v1M222 5v1M222 15v2M222 19v4M223 3v2M224 16v1M225 5v1M225 16v2M227 0v1M227 17v1M228 4v2M229 6v1M229 12v1M229 15v1M230 5v1M231 0v1M231 2v1M231 17v1M232 1v1M232 17v2M233 2v1M234 0v1M236 1v1M236 18v2M236 23v1M238 15v1M239 14v1M240 15v1M241 2v1M247 6v4M247 11v2M248 15v1M251 16v1M255 14v1M257 13v2M258 5v1M258 16v2M259 3v1M259 17v1M260 5v1M261 5v1M262 0v1M262 17v1M263 17v1M264 17v1M265 8v1M265 11v1M266 8v4M268 5v1M269 3v2M270 4v1M270 16v2M271 4v1M272 4v2M272 15v3M272 20v2M278 6v1M278 12v1M278 15v1M279 9v3M281 8v1M281 10v1M283 14v2M284 6v1M285 4v1M285 17v1M286 15v1M288 10v1M295 6v1M295 11v1M295 13v1M295 16v1M296 7v4M299 8v1M299 10v1M300 9v1M301 7v1M301 12v1M301 14v1M302 14v1M303 7v1M307 11v1M308 12v1M309 11v1M313 11v1M316 9v1M319 16v1M319 21v1M324 8v2M325 9v1"/><path stroke="#efc34e" d="M42 11v1M54 7v2M54 11v1M66 11v1M77 7v1M77 11v1M81 6v1M91 9v1M92 5v1M92 17v1M93 0v1M93 15v1M94 14v1M95 11v1M105 11v1M107 5v1M108 5v1M113 6v1M115 11v2M120 0v1M121 21v1M122 16v2M122 22v1M123 12v3M127 7v1M128 6v1M128 9v2M128 12v1M129 17v1M130 1v1M130 21v1M130 23v1M131 0v1M131 2v1M131 17v1M132 2v1M133 16v1M133 18v1M134 16v1M134 20v1M135 19v1M136 21v1M138 19v1M138 22v1M139 5v1M139 15v1M142 5v1M142 15v1M142 17v1M143 16v2M144 3v1M144 17v1M145 3v1M145 17v1M146 4v1M146 16v1M147 2v1M147 16v2M148 0v1M148 16v1M149 1v1M150 2v1M150 4v2M150 18v4M150 23v1M151 6v1M151 8v1M151 10v2M151 16v1M154 9v1M155 4v1M157 9v1M157 12v2M158 17v1M159 6v2M159 11v1M159 15v1M160 12v4M161 3v1M161 17v1M162 1v1M162 5v1M163 0v1M163 2v2M164 17v1M164 19v1M164 21v1M164 23v1M165 1v1M166 21v2M167 19v1M168 4v2M168 16v1M169 0v1M169 2v3M169 17v1M170 10v3M171 14v1M174 5v1M174 7v2M174 10v1M174 15v1M175 22v1M176 17v1M178 21v1M178 23v1M179 16v2M179 23v1M180 0v2M180 3v1M180 13v2M182 0v1M182 18v2M182 21v1M182 23v1M183 4v2M183 15v1M184 13v1M185 18v1M186 0v2M188 19v2M189 18v5M195 0v2M195 23v1M196 0v2M196 4v1M196 15v1M197 20v1M197 23v1M198 0v1M198 20v1M199 17v1M199 22v1M200 18v1M201 1v2M202 20v2M203 2v1M204 16v1M204 21v1M206 1v1M206 3v1M206 23v1M207 17v2M208 3v2M208 14v1M211 19v2M211 22v2M217 2v3M217 18v1M218 18v1M219 18v1M219 22v1M220 1v1M220 17v2M221 21v1M221 23v1M222 3v1M224 6v1M226 1v2M227 1v2M227 16v1M228 3v1M230 14v1M231 16v1M232 0v1M232 21v1M232 23v1M233 1v1M233 19v2M234 1v5M234 16v4M234 21v1M235 19v1M235 21v1M235 23v1M236 2v2M236 17v1M236 20v2M237 5v1M238 0v1M238 2v1M238 14v1M239 5v1M239 13v1M240 1v5M241 3v1M241 15v1M242 1v1M250 15v1M252 5v1M252 17v1M253 14v1M255 6v1M255 11v3M256 12v1M257 7v2M257 10v1M257 12v1M259 4v2M261 16v1M262 2v2M263 5v1M265 10v1M266 7v1M267 16v2M268 17v1M269 17v1M270 5v1M270 15v1M271 15v2M271 22v2M272 3v1M272 18v1M272 22v1M278 13v2M279 8v1M283 6v1M283 12v2M284 15v2M285 5v2M286 11v1M286 13v1M299 9v1M302 12v1M303 8v3M307 7v1M308 11v1M316 6v1M316 8v1M320 7v1M320 11v1M325 7v1M325 10v1"/><path stroke="#eebb47" d="M42 8v1M81 11v1M83 8v2M83 11v1M84 13v2M85 6v1M85 13v2M93 1v4M94 12v1M95 7v1M95 10v1M105 8v3M106 15v1M107 16v1M108 4v1M110 8v2M113 7v1M113 10v2M120 1v1M120 17v1M121 0v2M121 17v1M122 1v3M123 7v1M123 11v1M127 6v1M127 8v4M127 13v1M128 7v2M128 13v1M129 16v1M130 2v1M130 18v1M131 4v1M132 3v3M132 12v1M132 14v1M133 15v1M135 23v1M136 18v2M136 23v1M138 17v1M139 14v1M140 12v1M140 15v1M144 5v1M145 4v1M145 16v1M147 3v3M148 2v1M148 4v2M148 17v1M149 2v2M149 17v1M150 17v1M151 7v1M151 14v1M154 7v1M154 10v1M154 14v1M155 3v1M155 5v1M155 15v1M155 17v1M156 6v1M157 6v3M157 10v1M159 8v3M159 13v1M161 2v1M162 3v2M162 17v1M163 4v1M163 15v1M164 1v2M164 16v1M165 3v2M166 19v1M167 0v1M167 21v1M169 14v2M170 7v1M170 13v2M171 6v2M171 9v1M173 13v1M174 13v2M175 21v1M175 23v1M178 18v1M178 20v1M178 22v1M180 4v3M180 12v1M181 0v1M181 2v1M181 16v1M182 1v1M182 4v1M183 10v1M183 14v1M184 6v1M185 23v1M186 16v1M187 0v2M187 15v1M188 21v1M188 23v1M189 23v1M190 22v1M191 21v1M192 18v1M192 23v1M193 19v4M194 4v2M195 2v1M195 18v1M196 3v1M196 5v1M197 0v1M197 22v1M198 4v1M198 23v1M199 0v2M199 16v1M200 20v1M201 0v1M201 3v3M202 17v1M203 1v1M203 3v1M203 5v1M203 17v1M204 15v1M204 19v2M204 23v1M205 8v1M205 12v2M206 2v1M207 1v1M208 5v1M209 19v1M209 21v3M210 23v1M211 21v1M217 5v1M217 15v1M218 17v1M218 23v1M219 17v1M219 19v1M220 0v1M220 2v1M220 16v1M221 0v1M221 16v2M221 22v1M222 1v1M223 5v1M223 15v3M224 11v1M224 15v1M224 17v1M226 4v1M227 3v1M230 13v1M231 3v1M231 5v1M232 3v1M233 0v1M233 21v1M234 15v1M234 20v1M234 22v2M235 18v1M235 20v1M235 22v1M236 4v2M236 16v1M237 4v1M237 15v1M238 6v1M239 6v1M239 12v1M240 14v1M241 4v2M242 2v1M242 14v2M249 10v1M250 5v1M251 15v1M252 16v1M253 6v2M253 9v3M254 15v1M255 7v4M256 15v1M257 6v1M257 11v1M258 15v1M259 16v1M262 5v1M263 3v2M263 16v1M264 14v3M264 21v1M265 9v1M268 16v1M278 8v1M284 12v2M301 8v1M301 11v1M302 7v1M302 11v1M302 13v1M308 7v1M308 10v1M316 10v1"/><path stroke="#edb341" d="M42 10v1M54 10v1M64 7v1M64 11v1M66 7v1M77 8v1M81 9v1M83 7v1M83 10v1M84 11v2M92 15v1M93 5v1M93 14v1M94 6v1M94 13v1M95 8v2M105 6v2M106 6v1M106 14v1M107 15v1M110 7v1M110 11v1M113 8v1M115 8v3M120 2v1M120 16v1M122 15v1M127 12v1M130 3v1M130 19v1M131 3v1M131 5v1M131 16v1M132 13v1M134 17v1M135 18v1M136 20v1M136 22v1M140 6v2M140 10v1M140 13v2M142 14v1M144 16v1M147 14v1M148 1v1M148 3v1M149 16v1M150 16v1M151 12v1M154 8v1M154 13v1M155 10v1M155 16v1M156 15v1M158 9v1M158 16v1M159 12v1M159 14v1M162 16v1M163 5v1M164 0v1M164 5v1M165 5v1M165 16v1M167 1v2M167 18v1M167 20v1M167 22v2M168 8v1M168 12v1M169 5v1M169 12v1M170 6v1M170 8v1M171 8v1M171 10v2M174 9v1M175 0v4M176 16v1M177 19v1M177 21v1M178 19v1M179 0v1M179 2v1M180 8v4M181 1v1M181 15v1M182 2v2M183 8v1M183 12v2M184 11v1M185 19v2M185 22v1M186 2v2M187 2v2M189 0v1M190 18v1M190 21v1M191 23v1M192 19v4M193 18v1M193 23v1M195 3v1M196 10v2M196 14v1M197 16v3M198 5v1M198 16v2M199 2v1M199 4v1M200 17v1M201 14v2M202 16v1M202 18v1M203 4v1M203 16v1M203 20v1M204 22v1M206 4v2M206 17v1M207 0v1M207 2v1M207 15v2M208 12v2M208 15v1M209 18v1M209 20v1M210 19v1M210 22v1M211 1v1M211 17v2M216 1v1M216 18v1M216 22v1M217 14v1M218 0v2M219 20v1M219 23v1M220 4v1M220 15v1M221 2v2M221 5v1M221 18v1M222 4v1M222 14v1M223 6v1M223 8v1M224 12v1M225 8v1M226 3v1M226 16v1M230 8v2M230 12v1M231 1v1M232 4v1M232 16v1M233 3v1M233 18v1M233 23v1M234 14v1M235 0v1M235 17v1M236 15v1M237 14v1M238 4v2M238 7v1M238 9v1M238 13v1M239 7v1M240 12v2M241 14v1M242 3v3M242 12v1M249 7v1M249 9v1M249 11v4M250 14v1M253 8v1M253 12v2M256 6v1M256 14v1M257 9v1M258 6v1M258 12v1M259 15v1M260 14v2M261 15v1M262 4v1M262 16v1M264 13v1M268 8v1M270 13v1M272 12v1M278 7v1M278 11v1M284 14v1M285 11v1M285 15v1M286 7v2M286 10v1M295 7v2M295 10v1M307 8v2M308 8v2M320 8v2"/><path stroke="#ebaa3b" d="M54 9v1M64 8v3M66 10v1M77 10v1M81 10v1M85 11v2M93 13v1M94 7v1M95 6v1M106 11v1M107 6v1M107 14v1M108 11v1M108 14v2M110 10v1M113 9v1M120 3v1M121 2v1M121 16v1M122 4v2M129 15v1M130 4v2M130 22v1M133 2v1M133 14v1M134 0v2M134 15v1M135 20v2M136 0v3M137 22v2M138 0v2M139 6v1M139 12v2M140 8v2M140 11v1M142 6v1M142 10v1M142 13v1M144 15v1M145 5v1M146 11v1M146 15v1M147 6v1M147 15v1M148 14v2M149 4v1M151 13v1M154 12v1M155 6v1M156 7v1M156 9v1M156 12v3M157 11v1M158 6v2M158 10v1M163 11v1M164 3v1M165 9v1M165 15v1M165 17v1M166 1v1M167 3v1M167 5v1M167 17v1M168 6v2M168 14v1M169 8v1M170 9v1M176 0v3M177 0v3M177 4v1M177 18v1M177 22v1M178 17v1M179 3v1M179 14v1M181 3v1M182 5v1M183 6v2M183 9v1M183 11v1M184 10v1M185 0v1M185 2v1M185 16v1M186 4v1M189 1v1M189 17v1M190 19v2M190 23v1M191 18v3M191 22v1M193 0v3M195 4v1M195 16v2M196 7v1M197 2v2M199 3v1M199 5v1M200 0v2M201 6v1M201 11v1M202 0v1M202 2v1M204 0v1M205 6v2M205 10v2M206 16v1M207 4v1M208 6v3M209 1v1M209 16v1M210 17v2M210 20v2M211 0v1M216 19v1M218 2v2M218 16v1M219 0v1M219 2v2M219 16v1M219 21v1M220 3v1M220 5v1M221 1v1M221 4v1M222 13v1M223 7v1M223 9v1M223 11v1M223 13v2M224 7v4M224 13v2M225 7v1M225 13v3M227 4v1M230 6v2M230 10v2M231 14v1M232 2v1M232 15v1M233 4v2M233 16v2M233 22v1M234 8v1M234 12v1M235 1v2M235 16v1M236 14v1M237 7v1M237 13v1M238 12v1M239 8v1M239 11v1M240 6v2M240 9v1M242 13v1M248 12v1M249 6v1M249 8v1M250 10v1M250 12v2M251 14v1M256 9v2M256 13v1M258 7v1M258 14v1M259 14v1M260 6v1M260 12v2M261 9v1M261 11v1M261 14v1M262 15v1M263 15v1M264 6v1M264 11v1M267 6v2M267 10v2M267 13v1M268 6v2M268 15v1M269 16v1M270 14v1M271 11v1M271 13v2M272 13v2M278 9v2M283 7v3M283 11v1M284 7v1M284 11v1M285 12v1M285 14v1M286 9v1M295 9v1M301 9v2M307 10v1M320 10v1"/><path stroke="#eaa235" d="M77 9v1M81 7v2M84 7v1M92 6v1M93 6v1M93 12v1M94 9v3M106 10v1M106 12v2M107 7v1M108 6v1M120 4v1M130 17v1M131 14v2M132 6v1M132 8v1M132 10v1M133 0v2M133 4v1M134 2v2M135 22v1M137 19v1M138 13v1M138 16v1M139 8v3M142 11v1M143 15v1M144 10v1M145 11v1M145 15v1M147 10v1M147 13v1M148 6v1M148 13v1M149 5v1M149 15v1M150 15v1M155 8v1M155 11v1M156 8v1M156 10v2M158 8v1M158 11v2M158 15v1M161 4v2M161 15v1M162 15v1M163 6v1M163 10v1M163 12v3M164 4v1M164 12v4M165 6v1M165 11v1M166 0v1M166 2v1M166 17v1M167 4v1M168 9v3M168 13v1M169 6v2M169 9v3M169 13v1M174 12v1M175 4v2M175 17v1M176 3v3M177 3v1M177 16v2M177 20v1M177 23v1M178 2v1M178 15v2M179 1v1M179 4v4M179 13v1M179 15v1M181 5v1M182 15v1M182 17v1M184 7v1M184 9v1M185 1v1M185 3v1M185 5v1M185 17v1M187 4v2M187 11v1M188 16v2M189 2v1M190 17v1M191 16v1M193 3v1M193 17v1M194 16v2M195 5v1M196 6v1M196 12v2M197 1v1M197 14v1M198 14v1M199 14v2M200 16v1M201 8v1M201 12v1M202 1v1M203 14v1M204 1v3M204 14v1M205 9v1M206 6v1M207 3v1M207 14v1M208 10v2M209 0v1M209 2v3M209 17v1M210 0v3M210 16v1M211 2v3M211 16v1M212 0v5M214 18v1M214 23v1M215 1v1M215 21v1M216 0v1M216 4v1M216 17v1M216 20v2M216 23v1M217 6v1M218 4v2M218 14v2M219 1v1M221 15v1M222 12v1M223 12v1M225 10v3M226 5v1M227 5v1M231 4v1M231 8v1M231 15v1M232 5v1M232 12v3M234 6v1M234 10v2M235 3v1M235 15v1M236 13v1M237 6v1M237 8v1M237 11v2M238 8v1M238 10v2M239 9v2M240 8v1M241 12v2M242 6v2M248 14v1M250 6v1M250 8v1M251 8v1M251 10v1M252 15v1M254 7v1M254 12v1M254 14v1M256 8v1M256 11v1M258 8v1M258 10v2M259 6v1M260 7v2M260 10v2M261 6v1M261 13v1M262 14v1M263 14v1M264 7v1M264 10v1M264 12v1M267 8v2M267 12v1M267 15v1M268 9v3M268 14v1M270 7v1M270 12v1M271 6v1M271 9v1M271 12v1M272 8v1M272 11v1M283 10v1M284 8v1M285 13v1M302 9v2"/><path stroke="#e99930" d="M42 9v1M66 9v1M84 8v3M85 7v1M92 9v1M92 12v2M93 8v1M106 7v1M106 9v1M107 9v1M107 13v1M108 12v2M120 5v1M120 14v2M121 3v2M131 7v1M131 9v2M131 13v1M132 7v1M132 9v1M132 11v1M133 3v1M133 5v1M133 12v2M134 4v4M134 12v3M135 1v1M136 17v1M137 0v2M137 20v1M138 2v1M138 14v2M139 7v1M142 7v2M143 7v1M144 9v1M144 11v1M144 13v1M145 14v1M146 7v1M146 12v3M147 8v1M147 11v1M148 7v6M150 14v1M155 7v1M155 9v1M162 14v1M163 7v3M164 6v1M165 7v2M165 10v1M166 16v1M167 16v1M176 15v1M177 5v1M178 0v2M178 5v1M179 9v1M179 11v1M181 4v1M181 6v1M181 14v1M182 6v5M182 14v1M184 8v1M185 4v1M186 5v1M186 8v1M186 10v1M186 14v2M187 6v1M187 12v1M188 2v1M189 3v1M189 16v1M190 0v1M190 16v1M192 0v2M192 17v1M193 4v2M196 8v2M197 4v1M197 6v1M198 10v1M198 13v1M198 15v1M199 12v1M200 2v2M201 7v1M201 10v1M201 13v1M202 3v3M202 15v1M203 13v1M203 15v1M204 5v1M204 12v2M206 8v1M206 11v1M206 14v2M207 5v1M207 8v1M207 10v3M208 9v1M209 5v1M209 15v1M210 3v1M212 16v2M214 19v1M214 21v2M215 0v1M215 18v1M215 20v1M215 22v1M216 3v1M217 10v4M219 4v1M219 15v1M220 12v1M220 14v1M221 14v1M222 6v1M223 10v1M225 6v1M225 9v1M226 15v1M227 15v1M231 9v2M231 12v1M232 7v1M233 13v3M234 7v1M234 9v1M234 13v1M236 12v1M237 9v2M240 11v1M241 11v1M242 11v1M248 10v1M248 13v1M250 7v1M250 9v1M250 11v1M251 6v2M251 9v1M251 11v3M252 7v1M252 14v1M254 6v1M254 8v1M254 10v2M254 13v1M256 7v1M258 9v1M258 13v1M260 9v1M261 7v2M261 12v1M263 6v2M263 12v1M264 8v2M267 14v1M268 13v1M269 15v1M270 6v1M270 8v1M270 10v2M271 7v1M272 6v2M284 9v2M285 7v1M285 10v1M302 8v1"/><path stroke="#e9932f" d="M66 8v1M85 10v1M92 7v2M92 10v2M92 14v1M93 7v1M94 8v1M106 8v1M107 8v1M107 10v1M107 12v1M108 7v2M120 6v1M120 8v1M120 11v1M121 5v1M121 14v2M122 12v2M129 7v2M129 11v1M130 16v1M131 8v1M131 11v2M134 8v1M134 10v1M135 17v1M136 3v1M136 16v1M137 2v2M137 18v1M137 21v1M138 3v4M139 11v1M142 9v1M142 12v1M143 6v1M143 8v2M143 11v1M143 13v1M144 6v2M144 14v1M145 6v4M145 12v2M146 6v1M146 8v3M147 7v1M147 9v1M147 12v1M149 13v1M150 6v2M150 9v1M150 13v1M155 14v1M158 14v1M161 11v1M161 14v1M162 6v4M162 13v1M164 7v2M164 11v1M166 3v1M167 15v1M175 7v2M175 10v2M175 15v2M176 9v1M177 15v1M178 3v1M178 6v2M178 9v1M178 14v1M179 8v1M179 10v1M179 12v1M181 8v1M181 11v1M181 13v1M182 11v3M182 16v1M185 13v1M185 15v1M186 7v1M186 9v1M186 11v1M187 8v1M187 14v1M188 0v2M188 15v1M189 4v1M190 3v1M191 0v1M191 17v1M192 2v2M193 16v1M194 15v1M195 6v1M195 12v4M197 12v1M197 15v1M198 7v1M198 9v1M198 11v1M199 6v3M199 13v1M200 4v1M200 15v1M201 9v1M202 6v1M202 11v2M203 6v1M203 8v1M204 4v1M206 7v1M206 12v1M207 6v2M207 9v1M207 13v1M210 12v1M210 14v1M211 5v1M211 14v2M212 5v1M212 15v1M212 18v3M212 22v1M213 0v1M213 16v1M215 2v3M215 16v1M215 19v1M216 2v1M216 5v1M216 15v2M217 7v2M218 12v1M219 5v1M219 14v1M222 10v2M231 6v2M231 11v1M231 13v1M232 6v1M232 8v2M232 11v1M233 7v1M235 4v2M236 10v1M240 10v1M241 6v1M241 10v1M242 10v1M248 7v1M252 6v1M252 8v1M252 10v1M252 12v2M254 9v1M259 7v6M261 10v1M262 8v1M262 11v3M263 9v2M263 13v1M268 12v1M269 6v1M269 9v2M269 13v2M270 9v1M271 8v1M271 10v1M272 10v1"/><path stroke="#e88d2e" d="M85 8v2M93 9v3M107 11v1M108 9v2M120 13v1M122 11v1M122 14v1M129 6v1M129 10v1M129 13v2M130 13v1M130 15v1M131 6v1M134 9v1M135 2v1M136 4v1M137 4v2M137 16v2M138 7v2M138 11v2M143 10v1M143 14v1M144 8v1M144 12v1M145 10v1M149 6v1M149 8v1M149 11v1M150 8v1M150 11v1M155 12v2M158 13v1M161 6v3M162 10v2M164 9v2M165 12v3M166 4v2M166 15v1M167 14v1M175 9v1M176 6v1M176 12v1M176 14v1M178 4v1M178 8v1M178 13v1M181 7v1M181 9v2M181 12v1M185 7v1M185 9v1M185 14v1M186 6v1M186 12v1M187 7v1M187 9v2M188 3v1M188 5v1M189 5v1M189 15v1M190 1v2M190 15v1M191 1v1M192 16v1M194 6v1M194 8v1M194 10v2M195 8v1M197 5v1M197 7v1M197 10v1M197 13v1M198 6v1M198 8v1M198 12v1M199 10v2M200 5v1M202 7v1M202 14v1M203 7v1M203 10v3M206 9v2M206 13v1M209 14v1M210 4v2M210 8v1M210 13v1M210 15v1M211 6v1M211 11v3M212 12v1M213 1v2M213 17v1M213 20v4M214 0v3M214 20v1M215 23v1M217 9v1M218 6v5M218 13v1M221 12v2M222 7v3M226 14v1M227 6v3M227 12v3M232 10v1M233 9v1M233 11v2M235 8v2M235 13v2M236 7v2M241 9v1M242 8v2M248 6v1M248 8v2M248 11v1M252 9v1M252 11v1M259 13v1M263 8v1M263 11v1M269 8v1M269 11v2M272 9v1M285 8v1"/><path stroke="#e8862d" d="M120 7v1M120 10v1M122 6v2M122 10v1M129 9v1M130 8v1M130 12v1M130 14v1M133 6v4M134 11v1M135 0v1M135 3v1M136 5v1M137 9v1M137 15v1M138 10v1M143 12v1M149 14v1M150 10v1M150 12v1M161 9v2M161 12v2M162 12v1M166 13v1M167 11v1M167 13v1M175 6v1M175 13v1M176 7v2M176 10v1M176 13v1M178 11v2M185 8v1M185 10v3M186 13v1M187 13v1M188 4v1M188 11v1M190 4v1M191 2v1M191 5v1M192 4v1M194 7v1M194 9v1M194 14v1M195 7v1M195 10v2M197 8v2M197 11v1M199 9v1M200 7v1M200 10v1M200 12v1M202 8v3M203 9v1M204 6v2M204 9v1M204 11v1M209 6v1M209 9v5M210 9v1M211 7v4M212 6v2M212 13v2M212 21v1M212 23v1M213 3v2M213 15v1M213 18v2M214 4v1M214 17v1M215 5v1M216 6v1M216 14v1M218 11v1M219 12v2M220 6v1M220 8v1M220 10v2M220 13v1M226 6v1M226 8v1M226 10v2M227 9v2M233 6v1M233 10v1M235 6v1M235 10v3M236 9v1M241 7v2M262 6v1M262 10v1M269 7v1"/><path stroke="#e7802d" d="M120 9v1M120 12v1M121 6v1M121 11v1M121 13v1M122 9v1M129 12v1M130 7v1M130 9v3M133 10v2M135 4v2M135 15v2M138 9v1M149 7v1M149 9v2M149 12v1M166 6v4M166 11v1M167 6v2M167 9v1M175 12v1M176 11v1M177 6v1M177 9v2M177 13v2M178 10v1M185 6v1M188 6v1M188 12v1M188 14v1M189 6v2M189 11v1M189 14v1M190 5v1M190 14v1M191 3v1M191 14v2M192 5v1M194 12v1M195 9v1M200 6v1M200 14v1M202 13v1M204 8v1M204 10v1M209 7v2M210 6v2M210 10v1M212 9v1M212 11v1M214 3v1M214 16v1M215 17v1M216 7v1M216 11v2M220 7v1M221 6v1M221 11v1M226 7v1M226 9v1M226 13v1M235 7v1M236 6v1M236 11v1M262 7v1M262 9v1M285 9v1"/><path stroke="#e7792c" d="M121 10v1M122 8v1M130 6v1M135 14v1M136 6v1M137 6v2M137 11v2M137 14v1M166 10v1M166 12v1M166 14v1M167 8v1M167 10v1M167 12v1M175 14v1M177 7v2M177 11v2M188 7v4M188 13v1M190 6v1M190 12v1M191 4v1M191 7v1M193 6v1M193 10v2M193 15v1M194 13v1M200 8v1M200 11v1M200 13v1M210 11v1M213 12v2M214 5v1M216 8v1M216 13v1M220 9v1M221 7v2M221 10v1M226 12v1M227 11v1M233 8v1"/><path stroke="#e6732b" d="M121 12v1M135 11v1M136 9v3M136 15v1M137 8v1M137 10v1M137 13v1M189 10v1M189 12v2M190 8v4M190 13v1M191 8v1M191 10v1M191 13v1M192 15v1M193 7v3M193 14v1M200 9v1M212 8v1M213 5v3M213 11v1M213 14v1M214 15v1M215 15v1M216 9v2M219 7v1M219 10v1M221 9v1"/><path stroke="#e66d2a" d="M121 7v2M135 9v2M135 12v2M136 7v2M136 14v1M189 8v2M190 7v1M191 6v1M191 11v2M192 6v1M192 10v1M192 12v3M193 13v1M212 10v1M213 8v2M215 12v1M215 14v1M219 6v1M219 9v1M219 11v1"/><path stroke="#e6692a" d="M121 9v1M135 6v3M136 12v2M192 8v2M193 12v1M213 10v1M215 7v2M215 13v1M219 8v1"/><path stroke="#e5652a" d="M191 9v1M192 7v1M192 11v1M214 14v1M215 6v1M215 9v3"/><path stroke="#e5612a" d="M214 6v1M214 8v1M214 10v1M214 12v2"/><path stroke="#e55d2a" d="M214 7v1M214 9v1M214 11v1"/></svg></g><path d="M93.40 578.77H1403.40M93.40 664.95H1403.40M93.40 751.12H1403.40M204.66 492.60V837.30M305.15 492.60V837.30M416.41 492.60V837.30M524.08 492.60V837.30M635.35 492.60V837.30M743.02 492.60V837.30M854.28 492.60V837.30M965.54 492.60V837.30M1073.21 492.60V837.30M1184.47 492.60V837.30M1292.14 492.60V837.30" stroke="#262420" stroke-width="1.7" fill="none"/><rect x="93.40" y="492.60" width="1310.00" height="344.70" stroke="#262420" stroke-width="1.7" fill="none"/><rect x="1417.8" y="492.90" width="25.7" height="345.10" fill="url(#cb)"/><text transform="matrix(1 0 0 1.04 8.3 473.7)" font-size="41.0">P</text><text transform="matrix(1 0 0 1.04 84.7 512.0)" font-size="26.0" text-anchor="end">12 AM</text><text transform="matrix(1 0 0 1.04 84.7 589.8)" font-size="26.0" text-anchor="end">6 PM</text><text transform="matrix(1 0 0 1.04 84.7 674.6)" font-size="26.0" text-anchor="end">12 PM</text><text transform="matrix(1 0 0 1.04 84.7 760.6)" font-size="26.0" text-anchor="end">6 AM</text><text transform="matrix(1 0 0 1.04 84.7 836.6)" font-size="26.0" text-anchor="end">12 AM</text><text transform="matrix(1 0 0 1.04 129.7 859.3)" font-size="26.0">Jan</text><text transform="matrix(1 0 0 1.04 228.2 859.3)" font-size="26.0">Feb</text><text transform="matrix(1 0 0 1.04 339.0 859.3)" font-size="26.0">Mar</text><text transform="matrix(1 0 0 1.04 449.8 859.3)" font-size="26.0">Apr</text><text transform="matrix(1 0 0 1.04 556.2 859.3)" font-size="26.0">May</text><text transform="matrix(1 0 0 1.04 668.0 859.3)" font-size="26.0">Jun</text><text transform="matrix(1 0 0 1.04 781.0 859.3)" font-size="26.0">Jul</text><text transform="matrix(1 0 0 1.04 888.7 859.3)" font-size="26.0">Aug</text><text transform="matrix(1 0 0 1.04 995.4 859.3)" font-size="26.0">Sep</text><text transform="matrix(1 0 0 1.04 1110.1 859.3)" font-size="26.0">Oct</text><text transform="matrix(1 0 0 1.04 1214.4 859.3)" font-size="26.0">Nov</text><text transform="matrix(1 0 0 1.04 1325.7 859.3)" font-size="26.0">Dec</text><text transform="matrix(1 0 0 1.04 1452.5 500.7)" font-size="26.0">42.10</text><text transform="matrix(1 0 0 1.04 1451.9 840.2)" font-size="26.0">-32.49</text><g filter="url(#bl)"><svg class="hm" x="93.40" y="920.00" width="1310.00" height="344.60" viewBox="0 0 365 24" preserveAspectRatio="none" shape-rendering="crispEdges"><path stroke="#829fd1" d="M12 14v1M12 17v1"/><path stroke="#89a6d6" d="M2 2v1M12 12v2M12 15v1"/><path stroke="#90adda" d="M2 0v1M2 3v3M2 13v1M3 19v1M47 23v1M341 0v1M342 18v1"/><path stroke="#97b3de" d="M1 1v4M2 1v1M2 6v1M2 16v1M2 22v1M3 13v1M3 15v2M12 7v1M12 10v1M12 16v1M12 19v1M14 0v1M15 0v2M16 3v1M20 0v3M21 0v3M21 21v1M22 8v1M22 11v1M22 18v1M22 23v1M23 13v2M23 20v1M46 15v3M46 19v1M47 14v1M69 15v2M341 2v1M342 16v1"/><path stroke="#9ebae2" d="M1 0v1M2 7v3M2 11v2M2 14v1M2 18v1M2 23v1M3 17v1M3 23v1M12 6v1M12 9v1M12 11v1M12 18v1M12 20v4M13 0v2M13 5v1M14 4v3M15 2v1M15 4v1M16 1v2M16 4v2M17 22v2M20 3v2M21 18v1M21 22v2M22 0v1M22 2v2M22 7v1M22 9v2M22 19v3M23 12v1M23 15v5M23 21v1M23 23v1M46 14v1M46 18v1M46 20v4M47 22v1M61 16v1M69 17v1M291 16v1M341 1v1M341 4v2M342 17v1M342 20v1M342 22v2"/><path stroke="#a5c0e6" d="M1 5v1M2 10v1M2 15v1M2 17v1M2 19v3M3 12v1M3 14v1M3 18v1M3 20v3M11 18v1M11 21v1M13 2v2M14 1v1M14 3v1M15 3v1M15 23v1M16 0v1M17 12v1M17 18v4M20 5v1M21 3v3M21 19v2M22 1v1M22 4v3M22 22v1M23 0v1M23 6v1M23 9v3M23 22v1M25 6v1M37 5v1M38 15v1M40 15v3M43 3v1M45 15v1M46 13v1M47 12v2M47 15v3M47 19v3M52 3v1M52 19v1M68 16v1M69 12v2M291 17v1M341 3v1M342 12v4M342 19v1"/><path stroke="#abc5e8" d="M7 13v5M7 21v3M11 6v1M11 8v1M11 10v2M11 22v1M13 4v1M13 9v1M14 2v1M14 10v1M14 13v1M14 20v1M15 5v1M15 19v1M15 21v1M16 6v1M17 15v3M23 3v1M23 7v2M24 17v1M25 13v2M25 16v1M37 0v1M37 3v1M37 7v1M38 14v1M38 16v2M43 1v1M45 16v3M46 12v1M47 6v2M47 11v1M47 18v1M52 0v1M52 2v1M52 4v1M52 20v1M56 20v1M60 17v1M61 17v1M68 17v1M69 14v1M69 21v1M69 23v1M101 22v1M290 17v1M291 15v1M335 20v1M336 19v1M338 16v1M341 7v1M342 21v1M346 1v1M346 13v1M346 20v1M347 0v1M347 2v1M347 18v1"/><path stroke="#b1c9e8" d="M0 2v1M1 19v1M1 23v1M3 4v1M4 4v1M4 10v1M6 1v1M6 19v1M7 12v1M7 18v3M9 4v1M9 11v2M9 16v1M10 21v1M11 7v1M11 9v1M11 15v1M11 19v2M11 23v1M12 3v1M12 8v1M14 7v3M14 11v1M14 18v2M14 21v3M15 17v2M15 20v1M15 22v1M16 7v3M16 11v1M16 16v1M17 1v1M17 4v1M17 13v2M21 11v1M23 1v2M23 5v1M25 7v2M25 10v2M25 19v1M26 17v1M27 10v1M27 15v2M37 1v2M37 4v1M37 6v1M37 8v1M37 10v2M37 19v1M38 13v1M40 13v1M41 17v1M41 20v2M43 0v1M43 2v1M43 4v2M44 16v1M44 18v1M45 6v1M45 12v3M45 19v2M45 22v2M47 0v1M47 2v1M47 8v3M51 15v1M52 1v1M52 5v1M52 14v2M52 17v2M52 21v3M53 16v2M59 17v1M61 14v2M68 12v4M69 18v3M69 22v1M70 16v2M72 18v1M75 16v2M79 16v2M101 17v1M101 19v1M290 12v1M290 14v3M291 13v2M292 17v1M334 0v2M334 4v2M335 1v1M335 4v1M335 18v1M335 21v3M336 18v1M337 18v1M337 20v4M338 12v1M338 17v5M341 6v1M341 9v1M341 11v1M341 16v3M341 22v1M342 0v2M342 3v2M342 6v2M342 10v2M346 2v1M346 5v1M346 14v3M346 19v1M346 21v1M346 23v1M347 4v1M347 20v1M347 23v1M348 14v2M348 22v1"/><path stroke="#b6cee7" d="M0 0v1M0 3v1M0 18v3M1 8v1M1 20v3M3 3v1M4 0v2M4 5v1M4 13v2M5 0v4M5 10v1M6 0v1M6 14v1M6 17v1M6 20v1M6 23v1M7 0v3M7 4v1M9 1v1M9 5v1M9 10v1M9 13v2M10 0v1M10 2v1M10 6v1M10 10v1M10 15v1M10 18v1M10 22v1M11 2v2M11 14v1M11 16v1M12 2v1M12 5v1M13 7v1M13 18v2M13 22v1M14 14v3M15 6v2M15 15v1M16 10v1M16 12v1M16 14v1M16 19v2M17 7v2M17 10v1M20 7v2M20 11v2M20 14v1M20 16v1M21 7v1M21 9v1M21 16v1M22 16v2M23 4v1M24 1v1M24 4v1M24 12v1M24 14v1M24 20v1M24 22v1M25 9v1M25 12v1M25 15v1M25 17v1M25 22v1M26 15v2M27 2v1M27 4v1M27 6v2M27 12v1M28 6v2M28 9v1M28 13v2M28 16v1M29 2v1M29 4v2M29 7v3M29 22v1M30 15v1M30 22v1M35 12v1M35 15v3M37 14v1M37 20v1M38 2v1M38 12v1M38 18v1M38 20v1M38 22v1M39 14v1M40 12v1M41 0v1M41 16v1M41 19v1M43 15v1M43 19v2M44 0v2M44 19v1M45 7v1M45 11v1M45 21v1M46 0v1M46 4v1M51 3v1M51 6v1M51 11v1M52 6v2M52 12v2M52 16v1M53 15v1M53 19v1M54 0v1M55 21v1M56 21v1M57 19v3M58 18v1M59 1v1M59 21v1M59 23v1M61 20v1M68 7v1M68 20v1M69 0v1M69 5v2M69 10v1M71 0v1M71 2v1M71 16v1M72 1v1M72 3v1M72 21v1M72 23v1M73 21v1M73 23v1M74 0v1M74 16v1M74 22v1M75 19v2M101 14v3M101 20v2M101 23v1M116 1v1M118 16v2M289 14v2M290 13v1M291 1v1M291 12v1M291 20v1M292 15v2M292 18v1M334 2v2M335 0v1M335 2v2M335 5v1M335 19v1M336 1v1M336 20v3M337 17v1M337 19v1M338 14v2M338 22v2M341 8v1M341 10v1M341 12v3M341 19v3M341 23v1M342 8v2M345 9v1M346 0v1M346 3v2M346 12v1M346 17v2M346 22v1M347 1v1M347 3v1M347 19v1M347 21v2M348 12v2M348 16v2M348 19v3M348 23v1M350 3v1M354 8v1M354 15v1M360 3v1"/><path stroke="#bbd2e7" d="M0 1v1M0 4v2M0 23v1M1 6v2M1 9v1M1 11v1M1 18v1M3 0v1M3 2v1M4 6v1M4 8v1M4 11v1M4 15v3M5 4v1M5 6v1M5 8v2M5 11v1M6 2v3M6 13v1M6 15v2M6 18v1M6 21v2M7 3v1M7 5v1M9 0v1M9 2v2M9 7v1M9 9v1M9 15v1M9 17v1M10 3v1M10 5v1M10 7v1M10 9v1M10 12v3M10 19v2M10 23v1M11 0v1M11 4v2M11 12v2M11 17v1M12 0v2M12 4v1M13 6v1M13 8v1M13 21v1M14 17v1M15 8v7M15 16v1M16 13v1M16 15v1M16 18v1M16 21v3M17 3v1M17 5v2M17 9v1M17 11v1M20 9v1M20 13v1M20 17v1M20 20v1M21 6v1M21 8v1M21 13v3M21 17v1M22 13v3M24 0v1M24 2v2M24 16v1M24 18v1M24 21v1M24 23v1M25 20v2M26 0v1M26 12v3M27 0v2M27 3v1M27 5v1M27 13v1M27 17v1M28 0v5M28 8v1M28 10v1M28 17v1M28 20v1M29 10v2M29 18v2M29 21v1M29 23v1M30 12v2M30 16v6M30 23v1M35 13v1M37 9v1M37 17v2M37 22v2M38 0v2M38 19v1M39 13v1M40 14v1M41 1v2M41 5v1M41 13v3M41 18v1M41 22v2M42 1v1M42 22v1M43 12v3M43 16v3M43 21v1M44 3v3M44 15v1M44 20v4M45 0v1M45 2v4M46 1v3M46 6v1M47 1v1M47 3v3M51 0v3M51 4v1M51 7v1M51 9v2M51 16v1M52 9v1M52 11v1M53 13v2M53 18v1M53 21v3M54 19v1M55 18v3M55 22v2M56 19v1M57 17v1M57 22v1M58 19v2M58 22v2M59 13v1M59 16v1M59 20v1M59 22v1M60 15v2M61 0v1M61 2v1M61 13v1M61 18v1M61 21v1M62 16v1M68 0v1M68 2v1M68 4v1M68 6v1M68 8v2M68 11v1M68 19v1M68 22v2M69 1v4M69 7v1M69 9v1M69 11v1M70 13v2M70 18v1M70 20v4M71 1v1M71 13v2M71 17v2M71 21v3M72 2v1M72 20v1M72 22v1M73 1v1M73 16v5M74 1v4M74 12v2M74 17v2M74 20v2M75 0v1M75 12v1M75 18v1M75 21v1M76 16v2M78 1v1M78 16v7M79 15v1M79 18v1M79 20v2M79 23v1M101 0v1M101 2v1M101 10v1M101 12v2M101 18v1M116 4v1M117 17v1M118 2v2M118 20v1M289 12v2M290 2v6M290 9v2M290 21v2M291 0v1M291 2v1M291 4v2M291 18v2M291 21v3M292 20v1M292 22v1M334 19v1M335 12v1M335 16v1M336 16v2M336 23v1M338 13v1M341 15v1M342 2v1M342 5v1M343 14v1M343 23v1M344 21v1M345 1v1M345 3v1M346 11v1M347 5v2M347 8v1M347 17v1M348 2v1M348 5v1M348 18v1M349 0v1M349 4v1M351 5v1M351 19v2M352 4v1M353 0v1M354 2v1M355 9v1M355 11v2M355 18v1M360 0v1M360 2v1M360 6v1M360 8v1M360 11v1M360 15v1M360 19v2M361 2v1M361 10v1M361 15v1M361 23v1M364 3v1M364 5v1M364 10v1M364 22v1"/><path stroke="#c0d6e7" d="M0 21v2M1 10v1M1 15v1M3 1v1M4 3v1M4 7v1M4 9v1M4 12v1M4 19v1M4 23v1M5 5v1M5 7v1M6 5v1M7 6v2M7 9v1M8 19v1M8 21v1M9 6v1M9 8v1M10 1v1M10 4v1M10 8v1M10 11v1M10 16v2M11 1v1M13 10v1M13 23v1M14 12v1M16 17v1M17 0v1M17 2v1M18 20v1M20 6v1M20 10v1M20 15v1M20 18v1M20 23v1M21 10v1M21 12v1M22 12v1M24 13v1M24 15v1M24 19v1M25 18v1M25 23v1M26 21v1M26 23v1M27 8v2M27 11v1M27 14v1M27 22v2M28 5v1M28 11v2M28 15v1M28 22v1M29 0v2M29 3v1M29 6v1M29 13v1M29 15v1M30 14v1M34 8v1M35 14v1M36 16v2M37 12v1M37 16v1M37 21v1M38 3v4M38 10v2M38 21v1M38 23v1M39 12v1M39 15v3M40 1v3M40 19v1M41 3v2M41 12v1M42 2v1M42 18v1M42 23v1M43 6v1M43 22v2M44 2v1M44 7v1M44 12v3M44 17v1M45 1v1M45 8v2M46 5v1M51 5v1M51 8v1M51 12v1M51 14v1M51 17v2M51 20v1M51 22v1M52 8v1M52 10v1M53 1v1M53 20v1M54 1v1M54 20v1M56 16v3M56 22v2M57 18v1M57 23v1M58 0v1M58 3v1M58 16v2M58 21v1M59 14v2M59 18v2M60 1v1M60 12v1M60 14v1M61 1v1M61 3v3M61 12v1M61 19v1M61 22v2M62 17v1M62 19v1M62 21v2M66 17v1M67 17v1M68 3v1M68 5v1M68 18v1M68 21v1M70 12v1M70 15v1M70 19v1M71 4v2M71 15v1M71 20v1M72 0v1M72 4v2M72 17v1M72 19v1M73 15v1M73 22v1M74 5v1M74 14v2M74 19v1M74 23v1M75 13v3M75 22v2M77 17v1M77 21v1M78 23v1M79 14v1M79 19v1M79 22v1M89 14v1M89 17v1M89 19v1M101 1v1M101 4v1M101 7v1M101 9v1M101 11v1M102 23v1M115 1v1M116 0v1M116 2v2M116 5v1M117 16v1M117 22v1M118 0v1M118 5v1M118 18v1M119 17v1M289 0v2M289 17v1M290 0v2M290 8v1M290 11v1M290 18v2M290 23v1M291 3v1M291 6v1M292 0v1M292 2v1M292 12v1M292 14v1M292 19v1M292 21v1M292 23v1M334 6v2M334 11v1M334 14v2M334 17v1M334 21v2M335 6v2M335 10v2M335 13v1M336 0v1M336 2v1M336 12v1M336 14v1M337 12v1M338 5v1M339 19v5M340 20v1M343 15v2M343 18v1M343 20v1M343 22v1M344 17v3M345 2v1M345 4v1M345 6v1M345 8v1M345 10v1M345 12v2M345 15v1M345 23v1M346 6v2M346 10v1M347 10v4M347 16v1M348 3v2M349 3v1M349 13v1M349 15v1M349 18v1M349 21v1M349 23v1M351 1v4M351 21v2M352 1v1M352 3v1M353 1v1M353 3v1M353 13v1M353 16v3M353 21v1M354 3v1M354 6v1M354 9v2M354 16v6M354 23v1M355 0v1M355 2v2M355 8v1M355 13v2M355 19v4M360 4v2M360 9v1M360 13v2M360 16v1M360 22v1M361 5v3M361 11v3M361 18v1M361 22v1M364 1v2M364 4v1M364 7v3M364 12v1M364 14v1M364 21v1"/><path stroke="#c7d8db" d="M0 6v1M0 9v2M1 12v1M1 14v1M1 16v1M3 5v1M4 2v1M4 18v1M4 20v3M6 12v1M7 11v1M8 20v1M8 22v1M13 11v1M13 20v1M18 18v1M18 21v3M20 19v1M20 21v1M24 5v1M26 2v2M26 19v2M27 19v1M27 21v1M28 18v2M28 21v1M28 23v1M29 12v1M29 16v1M29 20v1M34 1v1M34 7v1M34 9v4M34 16v1M34 20v1M35 0v1M35 5v1M35 21v2M36 14v1M37 13v1M37 15v1M38 7v3M39 2v1M39 5v1M40 18v1M40 21v1M40 23v1M42 0v1M42 19v1M43 7v1M43 10v2M44 6v1M45 10v1M46 7v1M46 11v1M51 13v1M51 19v1M51 23v1M53 0v1M53 3v1M53 5v1M54 2v2M54 18v1M54 21v2M55 16v2M56 13v1M56 15v1M57 16v1M58 1v1M58 4v1M58 13v3M59 12v1M60 0v1M60 13v1M60 21v1M60 23v1M62 15v1M62 20v1M67 0v1M67 2v1M67 16v1M67 20v1M67 23v1M68 1v1M69 8v1M70 0v1M70 3v2M71 12v1M71 19v1M72 15v2M73 0v1M73 5v1M74 7v1M75 1v2M76 14v2M77 16v1M77 18v1M77 20v1M78 5v1M78 15v1M79 12v2M89 0v1M89 3v1M89 16v1M89 20v2M89 23v1M100 15v1M100 17v1M101 3v1M101 5v2M101 8v1M102 7v1M102 9v1M102 18v1M102 22v1M112 1v1M114 0v2M114 17v1M115 0v1M116 15v1M116 17v1M116 20v1M117 1v1M117 15v1M117 20v1M118 1v1M118 4v1M118 13v1M118 21v3M119 16v1M119 19v1M289 3v1M289 5v1M289 7v2M289 18v1M289 21v2M290 20v1M291 11v1M292 3v3M292 13v1M334 8v3M334 12v2M334 16v1M334 20v1M334 23v1M335 8v1M335 14v2M335 17v1M336 3v3M336 13v1M336 15v1M337 13v4M338 1v3M339 0v1M339 18v1M340 18v1M340 21v3M343 12v1M343 17v1M343 19v1M344 14v3M344 23v1M345 0v1M345 5v1M345 11v1M345 14v1M345 16v5M345 22v1M346 8v2M347 7v1M347 9v1M347 15v1M348 1v1M349 1v2M349 5v1M349 12v1M349 14v1M349 16v2M349 19v2M349 22v1M350 0v3M350 4v2M351 0v1M351 18v1M352 0v1M352 2v1M352 5v1M353 2v1M353 5v1M353 12v1M353 14v2M353 20v1M353 22v2M354 0v2M354 4v2M354 7v1M354 11v4M354 22v1M355 4v3M355 10v1M355 15v3M355 23v1M360 1v1M360 7v1M360 17v1M360 21v1M360 23v1M361 0v2M361 3v2M361 8v2M361 14v1M361 16v2M361 20v2M364 0v1M364 13v1M364 18v3"/><path stroke="#cddace" d="M0 7v2M0 11v1M0 14v1M1 13v1M1 17v1M3 10v1M5 12v2M7 8v1M7 10v1M8 23v1M18 19v1M20 22v1M26 1v1M26 5v1M26 18v1M26 22v1M27 18v1M29 14v1M30 1v1M30 3v1M30 6v1M30 8v1M33 8v1M33 10v1M33 16v1M33 18v1M34 0v1M34 3v4M34 13v3M34 17v1M35 1v4M35 18v1M35 20v1M36 12v2M39 0v2M39 3v2M39 23v1M40 0v1M40 4v2M40 20v1M40 22v1M42 3v2M42 17v1M42 20v1M43 8v2M44 9v1M44 11v1M46 9v2M48 15v1M48 17v1M51 21v1M53 2v1M53 4v1M53 12v1M55 2v1M56 6v1M56 12v1M56 14v1M57 6v1M58 2v1M58 5v2M58 12v1M59 0v1M59 2v1M59 4v1M60 2v1M60 4v1M60 18v3M60 22v1M62 14v1M62 18v1M62 23v1M66 20v1M67 1v1M67 4v2M67 14v2M67 19v1M67 22v1M68 10v1M70 1v2M71 3v1M71 6v1M72 6v1M72 12v1M73 3v2M73 12v1M74 6v1M74 8v1M75 3v1M75 5v1M76 0v1M76 19v2M76 22v2M77 0v1M77 19v1M77 22v2M78 0v1M78 3v2M89 1v1M89 4v1M89 12v1M89 15v1M89 18v1M89 22v1M100 0v4M100 11v1M100 13v1M100 16v1M100 19v1M100 21v1M102 5v2M102 11v2M102 14v1M102 17v1M102 19v2M112 4v1M114 16v1M114 18v1M114 20v2M114 23v1M115 2v1M115 18v1M115 20v1M115 23v1M116 13v1M116 16v1M116 22v2M117 0v1M117 3v1M117 5v1M117 14v1M117 19v1M118 12v1M118 14v2M119 0v3M119 4v1M119 7v3M119 12v2M119 20v1M289 2v1M289 4v1M289 6v1M289 9v2M289 16v1M289 19v2M289 23v1M291 8v1M291 10v1M292 1v1M292 6v1M334 18v1M335 9v1M338 0v1M338 4v1M338 6v1M340 14v1M340 19v1M343 13v1M343 21v1M344 5v1M344 12v2M344 20v1M344 22v1M345 7v1M345 21v1M347 14v1M348 0v1M348 6v1M349 9v1M351 23v1M352 18v1M353 4v1M353 19v1M355 1v1M355 7v1M359 11v2M359 22v2M360 10v1M360 12v1M360 18v1M361 19v1M362 15v1M363 17v1M364 6v1M364 11v1M364 15v3M364 23v1"/><path stroke="#d3dcc1" d="M0 12v1M0 16v1M3 8v2M5 15v1M5 17v1M5 20v3M8 18v1M9 18v2M9 21v1M13 13v2M13 16v2M18 0v1M18 3v2M26 4v1M27 20v1M29 17v1M30 0v1M30 4v1M30 7v1M30 11v1M33 1v1M33 5v3M33 17v1M33 21v2M34 2v1M34 19v1M34 21v1M35 19v1M35 23v1M36 1v3M36 5v1M36 15v1M36 20v1M39 11v1M39 20v1M41 6v1M42 15v1M42 21v1M44 10v1M46 8v1M48 12v1M48 14v1M48 23v1M54 4v1M54 16v1M54 23v1M55 0v1M57 1v3M57 14v2M58 8v1M58 11v1M59 3v1M59 5v2M60 3v1M60 5v1M61 6v1M62 0v2M62 12v2M63 16v2M63 20v2M63 23v1M64 17v1M66 16v1M66 22v1M67 3v1M67 12v2M67 18v1M67 21v1M71 11v1M72 7v1M72 13v2M73 2v1M73 13v2M74 9v3M76 1v3M76 12v2M76 18v1M76 21v1M77 1v2M77 15v1M78 2v1M78 12v3M79 1v1M88 0v1M88 2v1M88 17v1M88 20v1M89 2v1M89 5v1M89 10v1M96 0v1M96 16v1M100 6v1M100 12v1M100 14v1M100 18v1M100 20v1M100 22v1M102 1v4M102 8v1M102 10v1M102 15v2M102 21v1M112 0v1M112 2v2M112 5v1M113 0v1M114 2v3M114 14v2M114 19v1M114 22v1M115 3v1M115 21v2M116 14v1M116 19v1M116 21v1M117 2v1M117 12v1M117 23v1M118 19v1M119 3v1M119 5v2M119 10v2M119 14v1M119 18v1M119 21v3M229 22v1M289 11v1M291 7v1M291 9v1M292 7v1M337 0v4M339 1v1M339 5v1M339 14v1M339 16v2M340 1v1M340 3v1M340 5v1M340 15v1M340 17v1M343 1v1M343 4v1M343 9v1M343 11v1M344 1v2M348 7v1M348 11v1M349 7v1M350 6v3M350 10v1M350 19v1M350 21v2M352 14v1M352 16v1M352 20v2M353 6v1M353 10v1M356 17v3M356 21v1M356 23v1M359 1v1M359 4v1M359 10v1M359 13v1M359 15v1M359 17v1M359 20v1M362 13v1M362 17v3M362 21v3M363 13v4M363 18v1M363 21v1M363 23v1"/><path stroke="#dadeb6" d="M0 15v1M0 17v1M3 6v2M3 11v1M5 14v1M5 16v1M5 18v2M5 23v1M8 17v1M9 20v1M9 22v1M13 12v1M13 15v1M18 2v1M18 5v1M18 15v1M19 2v1M19 14v1M19 21v1M24 7v2M24 10v1M25 5v1M30 2v1M30 5v1M33 0v1M33 2v3M33 9v1M33 11v3M33 20v1M34 23v1M36 0v1M36 4v1M36 18v2M36 22v2M39 6v1M39 9v2M39 18v1M39 21v2M40 6v1M42 5v1M44 8v1M48 6v1M48 13v1M48 16v1M48 19v4M49 14v1M50 14v1M53 6v1M54 5v1M54 15v1M54 17v1M55 1v1M55 3v4M55 15v1M56 0v1M57 0v1M57 4v2M57 11v3M58 7v1M61 8v1M61 10v1M62 2v1M62 4v1M63 14v1M63 18v1M63 22v1M64 0v1M65 16v1M66 0v1M66 18v1M66 23v1M70 5v2M71 7v1M72 10v1M73 6v1M73 8v1M73 10v1M75 4v1M75 6v1M76 4v2M88 1v1M88 3v3M88 12v1M88 19v1M88 21v3M89 6v2M89 11v1M89 13v1M96 2v1M96 4v1M96 12v1M96 15v1M96 17v2M96 20v2M100 4v2M100 23v1M102 0v1M102 13v1M103 0v1M103 19v2M112 18v1M112 22v1M113 1v1M113 3v1M113 18v1M113 20v1M114 12v2M115 5v1M115 17v1M115 19v1M116 8v5M117 13v1M117 18v1M117 21v1M118 6v1M119 15v1M124 23v1M125 23v1M153 22v1M244 0v1M244 2v1M245 2v1M245 20v2M275 1v1M275 3v1M275 17v1M275 20v2M292 8v1M293 13v1M293 15v3M337 4v1M338 9v1M339 2v3M339 12v1M339 15v1M340 0v1M340 2v1M340 4v1M340 12v2M343 2v2M343 5v3M343 10v1M344 0v1M344 3v2M348 8v3M349 6v1M349 8v1M349 10v2M350 9v1M350 11v5M350 17v2M350 20v1M350 23v1M352 12v2M352 15v1M352 17v1M352 22v2M353 7v1M353 9v1M353 11v1M356 12v4M356 22v1M359 2v1M359 5v3M359 14v1M359 16v1M359 18v2M359 21v1M362 12v1M362 20v1M363 19v1M363 22v1"/><path stroke="#e0e0aa" d="M0 13v1M8 14v1M9 23v1M18 1v1M18 12v1M18 16v2M19 19v1M25 1v1M25 3v1M26 6v2M26 10v1M30 9v2M31 2v1M31 17v3M31 22v1M33 14v2M33 19v1M33 23v1M34 18v1M34 22v1M35 6v2M35 10v2M36 21v1M39 7v2M39 19v1M40 8v1M41 11v1M42 16v1M48 0v1M48 2v1M48 4v1M48 9v1M48 18v1M49 15v2M50 4v1M50 15v1M50 17v1M53 7v1M53 11v1M55 12v3M56 1v1M56 11v1M57 7v1M58 9v2M61 7v1M61 9v1M61 11v1M62 3v1M63 0v2M63 13v1M63 15v1M63 19v1M64 1v1M64 16v1M64 19v2M64 22v2M65 0v1M65 2v1M65 14v1M65 18v1M66 2v1M66 19v1M66 21v1M67 6v1M70 7v1M71 8v2M72 8v1M72 11v1M73 7v1M73 9v1M73 11v1M75 11v1M76 6v1M77 3v1M78 6v1M79 0v1M80 14v2M87 0v1M87 3v1M87 15v3M87 19v1M87 22v1M88 14v3M88 18v1M89 8v2M95 17v1M96 1v1M96 3v1M96 5v1M96 13v1M96 23v1M100 8v1M100 10v1M103 1v1M103 3v1M103 15v1M103 17v2M103 21v2M111 17v1M112 13v4M112 19v1M112 21v1M113 19v1M113 21v2M114 5v1M115 4v1M116 6v2M116 18v1M117 4v1M118 8v3M124 19v2M125 19v1M125 21v1M153 20v1M229 19v1M229 21v1M244 4v1M245 1v1M245 22v2M246 22v1M275 2v1M275 4v2M275 12v4M275 19v1M275 22v2M292 10v2M293 14v1M293 18v1M304 1v1M327 9v1M337 5v1M338 7v2M338 11v1M339 7v1M339 10v1M339 13v1M340 16v1M343 0v1M343 8v1M351 7v1M351 16v2M352 11v1M352 19v1M353 8v1M356 16v1M356 20v1M357 3v1M359 3v1M359 8v2M362 16v1M363 5v1M363 8v1M363 12v1M363 20v1"/><path stroke="#e5e29f" d="M8 13v1M8 15v2M18 14v1M19 1v1M19 3v3M19 15v3M19 20v1M19 22v2M24 6v1M24 9v1M24 11v1M25 0v1M25 2v1M26 8v2M26 11v1M31 1v1M31 3v3M31 12v4M31 20v1M31 23v1M35 9v1M40 7v1M40 10v2M41 7v1M48 5v1M48 7v2M48 11v1M49 13v1M49 21v2M50 1v2M50 5v1M50 12v2M50 16v1M56 4v1M56 7v1M60 6v1M62 5v1M63 2v2M64 2v1M64 15v1M64 18v1M64 21v1M65 1v1M65 13v1M65 15v1M65 17v1M65 19v4M66 1v1M67 9v1M67 11v1M70 11v1M71 10v1M72 9v1M75 10v1M77 4v2M77 12v1M77 14v1M79 2v2M81 17v1M87 1v2M87 5v1M87 20v2M88 6v1M88 11v1M88 13v1M96 11v1M96 14v1M96 19v1M96 22v1M97 3v2M97 12v1M97 17v1M97 21v1M98 17v1M99 16v2M99 21v1M100 7v1M100 9v1M103 2v1M103 4v2M103 23v1M111 2v1M112 11v1M112 17v1M112 20v1M112 23v1M113 2v1M113 5v1M113 17v1M117 6v1M117 11v1M118 7v1M118 11v1M124 18v1M124 21v2M125 18v1M125 20v1M125 22v1M153 18v1M153 21v1M153 23v1M229 18v1M229 20v1M229 23v1M243 1v1M243 20v1M243 22v1M244 1v1M244 3v1M244 5v1M244 22v2M245 0v1M245 3v2M245 15v3M245 19v1M246 16v1M248 3v1M274 1v1M274 3v1M274 16v4M275 0v1M275 11v1M275 16v1M275 18v1M292 9v1M293 12v1M293 19v1M293 22v1M303 21v1M304 0v1M304 4v1M304 14v1M304 17v2M304 22v1M305 12v2M305 15v1M305 18v1M321 2v1M321 13v2M321 18v2M321 22v1M322 1v1M322 3v1M322 14v1M322 20v1M327 5v1M327 10v1M327 20v1M328 4v1M328 17v1M336 10v2M338 10v1M339 8v1M340 7v2M340 10v1M344 6v2M350 16v1M351 6v1M351 9v2M351 12v3M352 6v1M352 10v1M356 0v1M356 2v1M356 5v1M356 9v1M356 11v1M357 4v5M357 10v2M357 13v1M357 15v1M357 21v1M358 0v1M358 6v1M358 11v2M358 14v1M358 17v1M358 21v1M362 0v1M362 3v1M362 6v1M362 11v1M362 14v1M363 0v1M363 2v1M363 4v1M363 11v1"/><path stroke="#e8e395" d="M8 1v1M8 4v1M8 12v1M18 6v1M18 13v1M19 0v1M19 12v2M25 4v1M31 0v1M31 10v1M31 16v1M31 21v1M32 1v2M32 5v1M32 8v1M32 11v4M32 21v1M35 8v1M36 6v2M40 9v1M41 8v1M41 10v1M42 14v1M48 1v1M48 3v1M48 10v1M49 3v1M49 5v1M49 12v1M49 17v4M50 0v1M50 3v1M50 9v1M50 11v1M50 20v1M50 22v2M53 9v2M54 14v1M55 11v1M56 2v2M56 9v1M57 8v2M59 11v1M62 6v1M63 4v3M63 12v1M64 3v2M64 13v2M65 3v2M65 12v1M65 23v1M66 3v1M66 13v1M66 15v1M67 8v1M70 10v1M75 7v1M77 13v1M78 7v1M79 6v1M80 0v1M80 13v1M80 16v1M80 20v3M82 11v1M82 17v1M82 20v1M84 4v1M85 19v1M86 2v1M86 15v1M86 20v1M87 12v3M87 18v1M87 23v1M88 7v1M88 10v1M94 1v1M96 6v3M97 1v2M97 5v1M97 16v1M97 18v2M97 22v1M98 12v2M98 15v2M98 18v1M99 14v1M99 18v2M99 22v2M103 6v1M103 13v1M103 16v1M105 16v2M109 17v1M110 3v1M110 16v2M110 19v2M110 23v1M111 0v1M111 4v2M111 15v2M111 18v2M111 21v2M112 7v1M112 9v1M112 12v1M113 4v1M113 16v1M114 6v2M114 9v1M115 16v1M117 7v2M117 10v1M125 5v2M125 11v1M140 18v2M152 21v1M153 19v1M154 19v1M172 6v1M184 18v2M238 19v1M240 20v1M241 19v1M243 2v1M243 18v2M243 23v1M244 14v1M244 16v6M245 5v1M245 14v1M245 18v1M246 2v2M246 13v1M246 15v1M246 17v2M246 20v2M246 23v1M247 0v1M248 0v1M248 2v1M256 1v2M257 1v1M258 19v1M263 20v1M265 0v2M265 15v1M266 0v1M274 2v1M274 12v3M274 20v1M274 22v2M275 6v1M275 8v3M276 3v1M280 18v3M281 20v1M284 0v1M287 8v1M293 0v1M293 20v2M303 18v3M304 2v1M304 5v1M304 13v1M304 15v1M304 19v2M304 23v1M305 0v2M305 5v1M305 16v2M305 22v2M307 17v1M311 12v1M318 15v1M321 1v1M321 4v3M321 15v1M321 23v1M322 5v2M322 10v2M322 16v4M322 21v1M325 20v1M327 0v2M327 3v1M327 6v3M327 11v1M327 15v4M327 21v2M328 3v1M328 5v1M328 12v3M328 16v1M328 18v1M328 21v3M331 0v1M332 14v1M336 6v3M339 9v1M339 11v1M340 6v1M340 9v1M340 11v1M344 8v2M344 11v1M351 8v1M351 11v1M351 15v1M352 7v3M356 1v1M356 3v2M356 6v3M356 10v1M357 1v2M357 9v1M357 14v1M357 16v1M357 18v3M357 22v2M358 1v1M358 3v3M358 8v3M358 16v1M358 18v1M358 22v2M359 0v1M362 1v2M362 4v2M362 9v2M363 3v1M363 7v1M363 9v1"/><path stroke="#ece38b" d="M6 6v1M6 8v1M6 11v1M8 0v1M8 2v1M8 6v1M8 10v2M18 7v1M18 10v2M19 18v1M31 7v2M31 11v1M32 0v1M32 6v1M32 9v1M32 15v2M32 20v1M32 23v1M36 11v1M42 12v1M49 0v3M49 6v4M49 11v1M49 23v1M50 8v1M50 10v1M50 18v1M50 21v1M54 13v1M55 8v1M56 8v1M56 10v1M57 10v1M59 7v2M60 7v1M63 7v1M64 12v1M65 5v2M66 4v2M67 7v1M70 8v1M75 8v2M78 8v4M79 4v1M80 1v1M80 12v1M80 17v1M81 0v1M81 2v1M81 16v1M81 19v1M82 1v1M82 3v2M82 7v1M82 12v1M82 23v1M83 1v1M83 4v2M83 15v3M83 20v2M83 23v1M84 0v2M84 18v1M84 20v1M85 20v1M85 23v1M86 3v1M86 5v1M86 13v1M86 16v1M86 19v1M87 4v1M87 6v1M87 11v1M88 8v2M90 0v1M90 2v1M90 5v1M91 0v1M91 18v2M93 19v1M94 0v1M94 21v1M95 0v1M95 15v2M96 9v1M97 0v1M97 6v1M97 11v1M97 13v1M97 15v1M97 20v1M97 23v1M98 3v1M99 12v1M99 15v1M99 20v1M103 7v2M104 0v1M104 17v1M105 0v3M106 0v2M106 3v1M106 23v1M109 1v1M109 16v1M110 18v1M111 3v1M111 12v2M111 20v1M111 23v1M112 6v1M112 10v1M113 15v1M113 23v1M114 8v1M114 11v1M117 9v1M123 20v2M125 0v4M125 7v1M125 10v1M126 17v2M127 19v2M128 0v2M128 18v2M128 21v1M140 0v1M141 18v3M142 19v1M142 21v1M143 18v1M143 21v2M144 22v1M145 19v1M145 22v2M146 19v1M146 21v1M151 18v1M151 20v1M151 23v1M152 2v1M152 6v1M152 9v4M152 22v2M153 10v1M153 17v1M154 18v1M154 23v1M155 19v1M155 21v2M156 0v1M157 19v1M157 23v1M159 18v4M159 23v1M160 0v1M160 19v1M161 19v1M162 18v3M162 22v1M163 18v2M171 20v1M172 9v1M172 18v2M172 21v1M172 23v1M173 20v3M174 19v1M183 19v2M184 20v1M184 23v1M226 23v1M227 21v1M227 23v1M228 20v1M228 22v1M229 17v1M237 18v2M238 18v1M238 21v2M239 17v2M239 20v1M240 22v1M243 0v1M243 5v1M243 16v1M243 21v1M244 12v2M245 6v2M246 0v2M246 7v1M246 12v1M246 14v1M246 19v1M247 1v1M247 4v2M247 16v1M248 1v1M248 23v1M249 23v1M250 18v1M250 22v1M251 0v1M253 0v3M253 19v3M253 23v1M254 19v1M254 21v1M255 0v2M255 3v1M255 20v1M255 22v1M256 0v1M256 4v1M256 20v1M257 0v1M257 3v1M257 17v2M260 23v1M261 20v1M262 22v1M265 2v1M265 17v1M266 1v2M271 1v1M274 0v1M274 4v2M274 11v1M274 21v1M275 7v1M276 2v1M276 10v1M276 23v1M277 1v2M277 17v1M277 19v1M277 23v1M278 4v1M278 18v1M278 20v1M279 0v1M279 20v2M280 2v1M280 6v2M280 21v1M280 23v1M281 17v1M283 17v1M283 21v1M284 19v1M285 19v2M287 3v1M287 17v1M287 20v1M287 22v1M295 1v1M295 18v1M296 13v1M296 17v1M297 3v2M297 12v1M297 17v1M297 19v2M298 1v1M298 8v1M298 14v1M298 17v1M298 20v1M299 17v1M299 22v1M300 1v1M300 17v1M302 0v1M303 0v1M303 2v1M303 4v1M303 6v1M303 22v2M304 12v1M304 16v1M305 2v3M305 7v1M305 14v1M305 19v3M306 21v1M307 1v1M307 3v1M307 22v1M308 0v1M308 19v1M308 22v1M309 1v1M309 4v1M309 16v1M309 20v1M310 8v1M311 0v2M311 3v1M311 13v1M313 12v1M313 19v1M314 3v1M314 9v1M314 12v1M315 6v1M315 9v1M315 14v1M316 14v2M316 21v1M317 10v1M318 1v1M320 0v1M320 2v1M320 4v1M320 16v3M320 21v1M321 0v1M321 3v1M321 7v1M321 12v1M321 16v2M321 20v2M322 0v1M322 2v1M322 7v3M322 13v1M322 15v1M322 22v2M323 3v1M323 7v1M323 11v1M323 16v1M323 20v3M324 2v1M325 1v1M325 15v3M326 6v2M326 21v1M327 2v1M327 4v1M327 12v2M327 19v1M328 0v3M328 15v1M328 19v2M329 2v1M330 0v1M330 5v1M330 18v1M331 9v1M331 12v1M331 22v1M332 5v2M332 8v1M333 14v1M336 9v1M339 6v1M344 10v1M357 0v1M357 12v1M357 17v1M358 2v1M358 7v1M358 13v1M358 15v1M358 19v2M362 7v1M363 1v1M363 6v1M363 10v1"/><path stroke="#efe480" d="M6 7v1M8 3v1M8 5v1M8 7v3M18 9v1M31 6v1M32 10v1M32 17v3M36 10v1M41 9v1M42 13v1M49 4v1M49 10v1M50 6v2M53 8v1M54 12v1M55 7v1M55 10v1M56 5v1M59 9v2M62 7v1M62 11v1M63 11v1M64 5v1M65 7v2M65 10v2M66 12v1M66 14v1M67 10v1M70 9v1M76 9v1M76 11v1M79 5v1M80 4v1M80 19v1M80 23v1M81 1v1M81 4v1M81 15v1M81 21v1M81 23v1M82 2v1M82 5v2M82 9v2M82 13v4M82 18v1M82 21v2M83 0v1M83 2v2M83 13v1M83 19v1M83 22v1M84 2v2M84 5v1M84 19v1M84 22v2M85 0v2M85 17v2M85 21v1M86 0v1M86 4v1M86 12v1M86 17v2M86 22v2M87 7v2M87 10v1M90 7v2M90 15v3M90 19v1M90 21v2M91 1v4M91 16v2M91 20v1M92 19v2M92 22v1M93 17v1M93 22v1M94 2v1M94 16v3M94 23v1M95 14v1M95 21v2M96 10v1M97 9v1M97 14v1M98 7v5M98 14v1M98 22v2M99 0v1M99 13v1M103 10v1M103 12v1M104 15v2M104 18v1M104 21v3M105 5v1M105 22v2M106 2v1M106 18v5M107 18v1M107 20v1M107 22v1M108 19v3M109 0v1M109 4v2M109 12v1M109 15v1M109 18v5M110 1v1M110 22v1M111 1v1M111 8v1M111 11v1M111 14v1M112 8v1M114 10v1M123 1v3M123 18v2M123 22v2M124 0v1M124 9v1M124 11v1M124 16v2M125 8v1M125 16v1M126 1v1M126 19v4M127 0v3M127 18v1M127 21v3M128 2v1M128 17v1M128 20v1M128 22v2M129 1v2M129 18v3M139 2v1M140 17v1M140 20v4M141 1v1M141 16v1M141 21v2M142 0v4M142 18v1M142 20v1M143 0v3M143 19v1M144 19v1M144 21v1M144 23v1M145 18v1M145 20v1M146 20v1M146 22v1M151 0v3M151 21v1M152 1v1M152 3v1M152 7v2M152 13v3M152 17v1M152 19v2M153 0v1M153 7v2M153 15v2M154 1v2M154 20v3M155 18v1M155 20v1M156 2v1M156 18v1M156 21v2M157 0v1M157 18v1M157 20v3M158 0v3M158 18v1M158 23v1M159 22v1M160 2v1M160 20v2M161 18v1M161 22v2M163 20v2M163 23v1M171 1v1M171 17v1M171 23v1M172 3v1M172 7v2M172 11v2M172 22v1M173 18v2M173 23v1M174 18v1M174 20v3M183 18v1M184 16v2M184 21v2M223 18v1M223 20v1M223 22v2M226 18v4M227 19v2M227 22v1M228 7v1M228 9v1M228 18v1M228 21v1M229 0v2M229 3v2M230 20v1M231 19v1M231 21v2M237 20v2M238 20v1M238 23v1M239 16v1M239 22v2M240 19v1M240 23v1M241 20v2M241 23v1M242 17v1M242 20v2M242 23v1M243 3v2M243 7v5M243 14v1M244 6v2M244 9v3M244 15v1M245 8v1M245 12v2M246 4v3M246 9v1M247 2v2M247 18v2M248 17v1M248 21v1M249 0v2M249 16v1M249 18v1M249 22v1M250 1v1M251 1v1M251 20v1M251 23v1M252 18v3M253 3v2M253 17v2M253 22v1M254 0v2M254 18v1M254 20v1M254 22v1M255 2v1M255 4v2M255 16v4M255 21v1M255 23v1M256 3v1M256 5v1M256 16v1M257 2v1M257 4v2M257 22v2M258 0v3M258 18v1M258 21v1M258 23v1M259 18v4M260 18v1M260 20v3M261 1v1M261 18v2M262 1v1M262 18v3M263 19v1M263 23v1M265 5v1M265 16v1M266 3v1M266 12v2M266 17v1M267 1v1M267 18v1M267 20v3M271 0v1M271 2v1M273 2v1M273 6v1M273 13v1M273 15v3M273 20v2M274 15v1M276 0v2M276 5v1M276 7v1M276 16v1M276 20v1M277 0v1M277 4v2M277 14v1M277 16v1M277 20v1M278 0v1M278 2v1M278 19v1M278 21v1M278 23v1M279 1v2M279 16v1M279 23v1M280 1v1M280 3v1M280 5v1M280 11v1M280 15v3M280 22v1M281 1v1M281 3v1M281 14v1M281 16v1M281 23v1M282 1v1M282 5v2M282 20v1M282 22v2M283 1v1M283 23v1M284 1v2M284 4v1M284 18v1M286 1v2M286 17v2M286 21v1M287 0v3M287 4v4M287 11v4M287 18v2M287 21v1M288 4v1M288 6v1M288 13v2M288 17v4M288 22v1M293 1v1M293 3v1M293 6v2M293 23v1M294 0v1M294 2v1M294 9v3M294 17v1M295 0v1M295 2v2M295 20v1M296 0v1M296 2v3M296 16v1M296 22v2M297 0v2M297 5v1M297 10v2M297 14v1M297 21v1M297 23v1M298 4v1M298 6v2M298 9v1M298 16v1M298 18v1M298 21v1M299 2v1M299 11v1M299 16v1M299 23v1M300 0v1M300 3v1M300 13v2M300 18v2M300 23v1M301 0v5M301 17v4M301 23v1M302 1v5M302 19v2M302 23v1M303 1v1M303 3v1M303 15v3M304 3v1M304 6v1M304 21v1M305 6v1M306 0v1M306 2v1M306 15v1M306 17v1M306 19v1M307 2v1M307 4v1M307 14v2M307 18v4M307 23v1M308 1v2M308 4v1M308 20v1M309 2v1M309 5v1M309 12v4M309 18v1M309 23v1M310 0v1M310 4v1M310 7v1M310 11v1M310 14v1M310 16v1M310 21v2M311 2v1M311 4v1M311 6v1M311 15v2M311 19v2M312 0v1M312 4v1M312 6v1M312 9v1M312 18v3M312 22v2M313 3v1M313 5v1M313 7v1M313 13v1M313 15v1M313 17v1M313 21v2M314 0v3M314 4v2M314 10v1M314 15v1M314 17v1M314 20v3M315 1v5M315 7v1M315 12v2M315 15v2M315 19v3M315 23v1M316 0v1M316 2v1M316 12v1M316 17v1M316 19v1M316 22v1M317 3v3M317 9v1M317 11v1M317 13v1M317 15v1M317 17v2M317 21v3M318 0v1M318 3v1M318 7v1M318 12v1M318 16v2M318 19v1M318 23v1M320 1v1M320 13v2M320 20v1M320 22v1M321 9v1M322 4v1M322 12v1M323 0v3M323 4v3M323 10v1M323 12v1M323 14v2M323 17v2M323 23v1M324 6v1M324 13v2M324 16v1M324 20v3M325 0v1M325 3v1M325 14v1M325 18v1M326 0v3M326 11v4M326 16v1M326 18v1M326 22v2M327 23v1M328 6v1M328 9v1M328 11v1M329 4v1M329 6v1M329 8v2M329 11v1M329 17v2M329 21v1M329 23v1M330 1v3M330 6v1M330 8v2M330 11v1M330 14v1M330 16v1M330 23v1M331 1v1M331 3v1M331 7v1M331 13v3M331 19v1M331 23v1M332 4v1M332 10v3M332 15v1M332 18v1M332 21v2M333 2v1M333 6v1M333 8v1M333 13v1M333 15v4M333 20v3M362 8v1"/><path stroke="#f1e076" d="M6 9v2M18 8v1M19 8v1M19 11v1M31 9v1M32 3v2M32 22v1M36 8v2M42 6v1M50 19v1M54 6v1M55 9v1M60 10v2M62 10v1M63 9v1M65 9v1M76 7v2M76 10v1M79 7v1M79 9v3M80 2v2M80 5v1M80 11v1M80 18v1M81 3v1M81 5v1M81 14v1M81 18v1M81 20v1M82 0v1M82 8v1M82 19v1M83 12v1M83 14v1M83 18v1M84 17v1M84 21v1M85 3v1M85 16v1M85 22v1M86 1v1M86 14v1M87 9v1M90 1v1M90 4v1M90 6v1M90 9v6M90 18v1M90 20v1M91 5v1M91 8v1M91 14v2M91 23v1M92 0v1M92 18v1M93 20v2M94 3v1M94 19v2M94 22v1M95 3v2M95 19v1M97 7v2M97 10v1M98 1v2M98 4v3M98 19v2M99 1v4M99 6v1M99 8v2M103 9v1M103 11v1M103 14v1M104 1v5M104 13v2M104 19v1M105 3v2M105 14v2M105 18v3M106 4v2M107 0v1M107 2v1M107 19v1M107 21v1M108 18v1M108 22v2M109 2v2M109 7v1M109 13v2M109 23v1M110 0v1M110 2v1M110 13v1M110 15v1M110 21v1M111 9v2M115 15v1M120 20v1M123 0v1M123 16v2M124 6v3M124 10v1M124 15v1M125 4v1M125 9v1M125 13v1M126 5v1M126 16v1M128 3v3M128 16v1M129 4v1M129 22v2M132 21v1M139 1v1M140 2v1M141 4v1M141 17v1M141 23v1M142 22v2M143 3v1M143 23v1M144 20v1M145 21v1M146 1v1M146 18v1M146 23v1M147 20v1M151 19v1M151 22v1M152 0v1M152 4v2M152 16v1M152 18v1M153 2v1M153 6v1M153 9v1M153 11v1M153 14v1M154 0v1M155 23v1M156 3v1M156 19v2M156 23v1M157 16v2M158 4v1M158 19v4M159 2v1M159 4v1M160 1v1M161 21v1M162 21v1M162 23v1M163 22v1M170 19v1M171 0v1M171 2v1M171 18v1M171 21v2M172 0v1M172 2v1M172 5v1M172 14v4M172 20v1M173 0v2M173 4v2M173 9v1M173 11v1M174 23v1M181 20v1M183 16v2M183 21v3M184 0v1M187 18v1M187 21v1M196 18v2M196 22v1M205 21v3M208 18v3M223 1v1M223 19v1M223 21v1M224 3v1M224 18v2M224 23v1M225 0v2M225 23v1M226 22v1M227 18v1M228 1v1M228 8v1M228 10v1M228 12v1M228 19v1M228 23v1M229 5v1M230 1v1M230 3v1M230 18v2M231 20v1M231 23v1M232 22v1M237 22v2M239 19v1M239 21v1M240 17v2M240 21v1M241 18v1M241 22v1M242 19v1M242 22v1M243 6v1M243 12v1M243 15v1M243 17v1M245 9v3M246 8v1M246 10v2M247 13v2M247 17v1M247 21v2M248 4v1M248 16v1M248 19v2M249 2v1M249 4v1M249 19v3M250 2v1M250 4v1M250 17v1M250 21v1M251 2v3M251 18v2M251 21v2M252 0v2M252 21v1M253 5v1M253 16v1M254 2v2M254 23v1M255 15v1M256 17v1M256 19v1M256 21v2M257 16v1M257 19v3M258 20v1M259 0v1M259 22v2M260 0v1M260 19v1M261 0v1M261 2v1M261 17v1M261 21v2M262 23v1M263 1v1M263 18v1M263 21v2M264 1v1M265 3v2M265 6v1M265 12v1M265 14v1M265 21v1M265 23v1M266 14v1M266 16v1M266 18v1M266 20v4M267 0v1M267 2v1M267 23v1M268 2v1M268 21v1M268 23v1M269 0v1M269 2v1M269 19v3M270 0v1M271 21v1M272 1v2M273 1v1M273 3v1M273 5v1M273 8v1M273 10v1M273 14v1M273 18v2M273 22v1M274 7v1M274 9v1M276 4v1M276 6v1M276 9v1M276 11v1M276 13v1M276 22v1M277 3v1M277 10v1M277 12v2M277 15v1M277 18v1M277 21v2M278 1v1M278 5v1M279 4v1M279 12v4M279 17v1M279 19v1M279 22v1M280 0v1M280 10v1M281 0v1M281 2v1M281 13v1M281 15v1M281 18v2M281 21v1M282 0v1M282 8v3M282 12v2M282 15v4M282 21v1M283 0v1M283 4v1M283 18v1M283 20v1M283 22v1M284 3v1M284 20v4M285 22v1M286 0v1M286 3v2M286 19v1M286 22v2M287 10v1M287 15v2M287 23v1M288 0v1M288 2v2M288 15v1M288 23v1M293 2v1M293 4v2M293 8v1M294 1v1M294 3v1M294 5v3M294 12v1M294 14v1M294 18v1M294 20v1M294 23v1M295 4v2M295 19v1M295 21v1M295 23v1M296 14v1M296 19v3M297 2v1M297 6v4M297 13v1M297 15v2M297 18v1M297 22v1M298 0v1M298 2v2M298 10v4M298 15v1M298 22v2M299 1v1M299 3v1M299 14v1M299 18v2M299 21v1M300 4v3M300 12v1M300 15v2M300 20v3M301 5v1M301 16v1M301 21v2M302 17v2M302 21v2M303 12v1M304 10v1M305 10v2M306 1v1M306 4v3M306 10v1M306 12v2M306 16v1M306 22v2M307 0v1M307 12v2M308 3v1M308 16v1M308 18v1M308 23v1M309 3v1M309 17v1M309 19v1M309 21v1M310 1v3M310 6v1M310 10v1M310 12v2M310 17v4M310 23v1M311 5v1M311 7v5M311 18v1M311 21v3M312 1v1M312 7v2M312 10v8M312 21v1M313 0v1M313 2v1M313 6v1M313 8v3M313 23v1M314 6v3M314 11v1M314 13v2M315 0v1M315 8v1M315 10v2M315 17v2M315 22v1M316 3v3M316 13v1M316 16v1M316 18v1M316 23v1M317 0v3M317 8v1M317 12v1M317 19v2M318 2v1M318 6v1M318 8v1M318 13v2M318 18v1M318 20v3M319 3v3M319 15v1M320 3v1M320 12v1M320 15v1M320 19v1M320 23v1M321 10v1M323 8v2M323 13v1M323 19v1M324 0v2M324 5v1M324 12v1M324 15v1M324 17v3M324 23v1M325 4v2M325 19v1M325 21v1M325 23v1M326 3v3M326 9v2M326 15v1M326 17v1M326 19v2M327 14v1M328 7v2M329 3v1M329 5v1M329 16v1M329 19v2M329 22v1M330 4v1M330 7v1M330 10v1M330 12v1M330 15v1M330 17v1M330 19v4M331 2v1M331 4v3M331 8v1M331 10v2M331 16v2M331 20v2M332 0v4M332 7v1M332 13v1M332 16v2M332 19v2M333 0v1M333 3v3M333 7v1M333 9v1M333 11v1M333 19v1M333 23v1M337 9v1"/><path stroke="#f0d96c" d="M32 7v1M60 8v2M62 8v2M63 8v1M63 10v1M77 6v1M79 8v1M80 6v2M81 22v1M85 2v1M85 4v1M86 6v2M86 10v1M86 21v1M90 23v1M91 6v1M91 10v1M91 12v2M91 21v2M92 3v1M92 21v1M92 23v1M93 16v1M93 18v1M93 23v1M94 4v2M94 15v1M95 1v1M95 5v1M95 18v1M95 20v1M95 23v1M98 0v1M98 21v1M99 5v1M104 7v1M104 10v1M104 12v1M104 20v1M105 12v1M105 21v1M107 1v1M107 23v1M108 17v1M109 6v1M109 8v3M110 6v1M110 12v1M110 14v1M111 6v2M115 6v1M115 14v1M120 18v2M120 21v1M120 23v1M121 22v1M122 23v1M123 4v2M124 1v1M124 3v2M124 13v1M125 14v2M125 17v1M126 0v1M126 3v2M126 9v1M126 12v4M127 3v2M127 16v2M128 15v1M129 0v1M129 3v1M129 21v1M131 21v1M132 17v4M132 22v2M133 21v2M134 21v1M139 3v1M139 18v1M139 22v1M140 1v1M140 4v1M141 0v1M141 2v1M141 11v3M141 15v1M143 20v1M144 0v2M144 18v1M145 2v1M146 0v1M146 2v1M147 21v1M147 23v1M148 21v1M149 19v1M150 0v1M151 3v3M153 1v1M153 3v1M153 5v1M153 13v1M154 3v3M155 0v1M156 1v1M157 2v3M157 15v1M158 3v1M158 5v1M159 0v2M159 3v1M160 3v1M160 5v1M160 9v2M160 18v1M160 22v2M164 18v1M165 18v1M168 2v1M168 18v1M168 21v2M169 18v1M169 22v1M170 0v1M170 2v1M170 16v1M170 20v3M171 3v1M171 5v1M171 15v1M171 19v1M172 1v1M172 4v1M172 10v1M172 13v1M173 2v2M173 10v1M173 17v1M174 0v1M175 18v1M176 18v1M180 21v1M181 22v2M183 0v3M184 1v3M186 19v4M187 19v2M187 22v1M194 0v1M194 18v3M196 17v1M196 20v2M196 23v1M199 21v1M201 17v1M201 19v4M205 0v1M205 2v1M205 4v1M205 16v5M207 20v1M207 23v1M208 17v1M208 21v3M217 22v1M220 19v1M222 0v1M222 17v2M222 23v1M223 0v1M223 2v1M224 0v3M224 20v3M225 2v1M225 18v5M226 0v1M228 0v1M228 2v1M228 16v1M229 2v1M229 10v2M229 14v1M230 0v1M230 2v1M230 16v1M230 22v2M231 18v1M236 0v1M236 22v1M237 0v2M238 17v1M239 0v3M241 0v2M241 16v2M242 16v1M242 18v1M243 13v1M244 8v1M247 15v1M247 20v1M247 23v1M248 5v1M248 18v1M249 3v1M250 0v1M250 19v2M251 5v1M251 17v1M252 2v1M252 4v1M252 22v2M253 15v1M254 4v2M254 17v1M256 18v1M258 22v1M260 1v2M260 16v2M261 3v1M261 23v1M262 21v1M263 2v1M264 0v1M264 2v2M264 19v1M265 7v1M265 13v1M265 18v2M265 22v1M266 4v2M266 15v1M267 3v2M267 19v1M268 0v2M268 3v1M268 18v3M268 22v1M269 22v1M270 1v2M270 18v4M271 5v1M271 17v1M273 4v1M273 7v1M273 9v1M273 11v2M273 23v1M274 6v1M274 10v1M276 8v1M276 12v1M276 14v2M276 17v3M276 21v1M277 6v2M277 11v1M278 3v1M278 16v1M278 22v1M279 3v1M279 5v2M279 18v1M280 4v1M280 8v2M280 12v3M281 4v1M281 7v1M281 11v2M281 22v1M282 2v3M282 7v1M282 14v1M282 19v1M283 2v2M283 19v1M284 5v1M285 0v2M285 18v1M285 23v1M286 5v1M286 20v1M287 9v1M288 5v1M288 11v2M288 16v1M293 9v3M294 8v1M294 16v1M294 19v1M294 21v2M295 14v1M295 22v1M296 1v1M296 5v2M296 12v1M296 15v1M296 18v1M298 5v1M298 19v1M299 0v1M299 4v4M299 12v2M299 15v1M299 20v1M300 2v1M302 16v1M303 5v1M303 11v1M303 14v1M304 9v1M304 11v1M305 8v2M306 3v1M306 8v2M306 14v1M306 18v1M306 20v1M307 6v1M307 16v1M308 5v2M308 15v1M308 17v1M308 21v1M309 0v1M309 6v1M309 8v1M309 22v1M310 5v1M310 9v1M310 15v1M311 14v1M312 2v2M312 5v1M313 1v1M313 14v1M313 16v1M313 18v1M313 20v1M314 16v1M314 18v2M314 23v1M316 1v1M316 7v1M317 6v2M317 14v1M318 4v2M318 9v3M319 2v1M319 8v3M319 12v3M319 18v2M320 6v1M321 8v1M321 11v1M324 3v2M324 7v1M324 11v1M325 2v1M325 6v1M325 12v2M325 22v1M326 8v1M328 10v1M329 0v2M329 7v1M329 10v1M329 12v1M329 14v2M330 13v1M331 18v1M332 9v1M332 23v1M333 1v1M333 10v1M333 12v1M337 6v3M337 10v2"/><path stroke="#f0d262" d="M19 6v2M19 9v2M66 6v1M80 8v3M81 12v2M83 6v1M84 6v1M84 16v1M85 5v1M86 8v2M86 11v1M90 3v1M91 11v1M92 1v2M95 2v1M95 13v1M99 7v1M99 10v2M104 6v1M104 9v1M105 13v1M106 16v1M107 3v2M108 0v2M109 11v1M110 4v2M113 12v3M120 22v1M121 20v1M122 20v2M123 6v1M123 15v1M124 2v1M124 5v1M124 12v1M124 14v1M125 12v1M126 2v1M126 11v1M126 23v1M127 5v1M127 15v1M131 1v1M131 18v3M131 22v2M132 0v1M132 16v1M133 17v1M133 19v2M134 18v1M134 22v1M138 18v1M138 21v1M139 0v1M139 16v2M139 19v3M139 23v1M140 3v1M140 5v1M140 16v1M141 3v1M141 6v4M141 14v1M142 4v1M143 4v1M144 2v1M144 4v1M145 0v2M146 3v1M147 19v1M147 22v1M148 18v3M149 18v1M149 20v1M149 22v2M151 15v1M151 17v1M153 4v1M153 12v1M154 17v1M155 1v1M156 4v2M156 17v1M157 1v1M157 5v1M157 14v1M159 5v1M159 17v1M160 4v1M160 6v1M160 8v1M161 20v1M162 0v1M165 19v5M168 0v2M168 15v1M168 17v1M168 19v2M168 23v1M169 1v1M169 20v2M169 23v1M170 3v3M170 17v1M170 23v1M171 4v1M173 6v3M174 1v2M174 6v1M174 16v1M175 20v1M176 21v3M180 16v1M180 18v3M180 22v2M181 19v1M181 21v1M182 20v1M182 22v1M184 4v1M186 18v1M186 23v1M187 23v1M194 1v2M194 21v3M195 19v2M197 21v1M198 18v1M199 18v2M200 21v1M201 18v1M201 23v1M202 19v1M202 22v1M203 18v1M204 17v1M205 1v1M205 3v1M205 14v2M206 19v3M207 19v1M208 1v1M208 16v1M217 1v1M217 19v3M217 23v1M218 20v2M220 20v2M224 4v2M225 3v2M226 17v1M228 6v1M228 11v1M228 13v3M228 17v1M229 7v3M229 13v1M229 16v1M230 4v1M230 15v1M230 17v1M230 21v1M232 19v2M237 2v2M237 16v2M238 1v1M238 3v1M238 16v1M239 3v2M239 15v1M240 0v1M240 16v1M242 0v1M247 10v1M248 22v1M249 5v1M249 15v1M249 17v1M250 3v1M250 16v1M250 23v1M252 3v1M254 16v1M256 23v1M257 15v1M258 3v2M259 1v2M260 3v2M261 4v1M263 0v1M264 4v2M264 18v1M264 20v1M264 22v2M265 20v1M266 6v1M266 19v1M267 5v1M268 4v1M269 1v1M269 5v1M269 18v1M269 23v1M270 3v1M270 22v2M271 3v1M271 18v3M272 0v1M272 19v1M272 23v1M273 0v1M274 8v1M277 8v2M278 17v1M279 7v1M281 5v2M281 9v1M282 11v1M283 5v1M283 16v1M284 17v1M285 2v2M285 16v1M285 21v1M286 6v1M286 12v1M286 14v1M286 16v1M288 1v1M288 7v3M288 21v1M294 4v1M294 13v1M294 15v1M295 12v1M295 15v1M295 17v1M296 11v1M300 7v2M300 10v2M301 6v1M301 13v1M301 15v1M302 6v1M302 15v1M303 13v1M304 7v2M306 7v1M306 11v1M307 5v1M308 13v2M309 7v1M309 9v2M311 17v1M313 4v1M316 11v1M316 20v1M317 16v1M319 0v2M319 6v2M319 11v1M319 17v1M319 20v1M319 22v2M320 5v1M324 10v1M325 8v1M325 11v1M329 13v1"/><path stroke="#f0cb58" d="M42 7v1M64 6v1M84 15v1M85 15v1M91 7v1M92 4v1M92 16v1M95 12v1M104 8v1M104 11v1M106 17v1M107 17v1M108 2v2M108 16v1M115 7v1M115 13v1M121 18v2M121 23v1M122 0v1M122 18v2M123 8v3M126 6v3M126 10v1M127 14v1M128 11v1M128 14v1M129 5v1M130 0v1M130 20v1M132 1v1M132 15v1M133 23v1M134 19v1M134 23v1M138 20v1M138 23v1M139 4v1M141 5v1M141 10v1M142 16v1M143 5v1M146 5v1M146 17v1M147 0v2M147 18v1M148 22v2M149 0v1M149 21v1M150 1v1M150 3v1M150 22v1M151 9v1M154 6v1M154 11v1M154 15v2M155 2v1M156 16v1M159 16v1M160 7v1M160 11v1M160 16v2M161 0v2M161 16v1M162 2v1M163 1v1M163 16v2M164 20v1M164 22v1M165 0v1M165 2v1M166 18v1M166 20v1M166 23v1M168 3v1M169 16v1M169 19v1M170 1v1M170 15v1M170 18v1M171 12v2M171 16v1M173 12v1M173 14v3M174 3v2M174 11v1M174 17v1M175 19v1M176 19v2M179 18v5M180 2v1M180 7v1M180 15v1M180 17v1M181 17v2M183 3v1M184 5v1M184 12v1M184 14v2M185 21v1M186 17v1M187 16v2M188 18v1M188 22v1M194 3v1M195 21v2M196 2v1M196 16v1M197 19v1M198 1v3M198 19v1M198 21v2M199 20v1M199 23v1M200 19v1M200 22v2M201 16v1M202 23v1M203 0v1M203 19v1M203 21v3M204 18v1M205 5v1M206 0v1M206 18v1M206 22v1M207 21v2M208 0v1M208 2v1M217 0v1M217 16v2M218 19v1M218 22v1M220 22v2M221 19v2M222 2v1M222 5v1M222 15v2M222 19v4M223 3v2M224 16v1M225 5v1M225 16v2M227 0v1M227 17v1M228 4v2M229 6v1M229 12v1M229 15v1M230 5v1M231 0v1M231 2v1M231 17v1M232 1v1M232 17v2M233 2v1M234 0v1M236 1v1M236 18v2M236 23v1M238 15v1M239 14v1M240 15v1M241 2v1M247 6v4M247 11v2M248 15v1M251 16v1M255 14v1M257 13v2M258 5v1M258 16v2M259 3v1M259 17v1M260 5v1M261 5v1M262 0v1M262 17v1M263 17v1M264 17v1M265 8v1M265 11v1M266 8v4M268 5v1M269 3v2M270 4v1M270 16v2M271 4v1M272 4v2M272 15v3M272 20v2M278 6v1M278 12v1M278 15v1M279 9v3M281 8v1M281 10v1M283 14v2M284 6v1M285 4v1M285 17v1M286 15v1M288 10v1M295 6v1M295 11v1M295 13v1M295 16v1M296 7v4M299 8v1M299 10v1M300 9v1M301 7v1M301 12v1M301 14v1M302 14v1M303 7v1M307 11v1M308 12v1M309 11v1M313 11v1M316 9v1M319 16v1M319 21v1M324 8v2M325 9v1"/><path stroke="#efc34e" d="M42 11v1M54 7v2M54 11v1M66 11v1M77 7v1M77 11v1M81 6v1M91 9v1M92 5v1M92 17v1M93 0v1M93 15v1M94 14v1M95 11v1M105 11v1M107 5v1M108 5v1M113 6v1M115 11v2M120 0v1M121 21v1M122 16v2M122 22v1M123 12v3M127 7v1M128 6v1M128 9v2M128 12v1M129 17v1M130 1v1M130 21v1M130 23v1M131 0v1M131 2v1M131 17v1M132 2v1M133 16v1M133 18v1M134 16v1M134 20v1M135 19v1M136 21v1M138 19v1M138 22v1M139 5v1M139 15v1M142 5v1M142 15v1M142 17v1M143 16v2M144 3v1M144 17v1M145 3v1M145 17v1M146 4v1M146 16v1M147 2v1M147 16v2M148 0v1M148 16v1M149 1v1M150 2v1M150 4v2M150 18v4M150 23v1M151 6v1M151 8v1M151 10v2M151 16v1M154 9v1M155 4v1M157 9v1M157 12v2M158 17v1M159 6v2M159 11v1M159 15v1M160 12v4M161 3v1M161 17v1M162 1v1M162 5v1M163 0v1M163 2v2M164 17v1M164 19v1M164 21v1M164 23v1M165 1v1M166 21v2M167 19v1M168 4v2M168 16v1M169 0v1M169 2v3M169 17v1M170 10v3M171 14v1M174 5v1M174 7v2M174 10v1M174 15v1M175 22v1M176 17v1M178 21v1M178 23v1M179 16v2M179 23v1M180 0v2M180 3v1M180 13v2M182 0v1M182 18v2M182 21v1M182 23v1M183 4v2M183 15v1M184 13v1M185 18v1M186 0v2M188 19v2M189 18v5M195 0v2M195 23v1M196 0v2M196 4v1M196 15v1M197 20v1M197 23v1M198 0v1M198 20v1M199 17v1M199 22v1M200 18v1M201 1v2M202 20v2M203 2v1M204 16v1M204 21v1M206 1v1M206 3v1M206 23v1M207 17v2M208 3v2M208 14v1M211 19v2M211 22v2M217 2v3M217 18v1M218 18v1M219 18v1M219 22v1M220 1v1M220 17v2M221 21v1M221 23v1M222 3v1M224 6v1M226 1v2M227 1v2M227 16v1M228 3v1M230 14v1M231 16v1M232 0v1M232 21v1M232 23v1M233 1v1M233 19v2M234 1v5M234 16v4M234 21v1M235 19v1M235 21v1M235 23v1M236 2v2M236 17v1M236 20v2M237 5v1M238 0v1M238 2v1M238 14v1M239 5v1M239 13v1M240 1v5M241 3v1M241 15v1M242 1v1M250 15v1M252 5v1M252 17v1M253 14v1M255 6v1M255 11v3M256 12v1M257 7v2M257 10v1M257 12v1M259 4v2M261 16v1M262 2v2M263 5v1M265 10v1M266 7v1M267 16v2M268 17v1M269 17v1M270 5v1M270 15v1M271 15v2M271 22v2M272 3v1M272 18v1M272 22v1M278 13v2M279 8v1M283 6v1M283 12v2M284 15v2M285 5v2M286 11v1M286 13v1M299 9v1M302 12v1M303 8v3M307 7v1M308 11v1M316 6v1M316 8v1M320 7v1M320 11v1M325 7v1M325 10v1"/><path stroke="#eebb47" d="M42 8v1M81 11v1M83 8v2M83 11v1M84 13v2M85 6v1M85 13v2M93 1v4M94 12v1M95 7v1M95 10v1M105 8v3M106 15v1M107 16v1M108 4v1M110 8v2M113 7v1M113 10v2M120 1v1M120 17v1M121 0v2M121 17v1M122 1v3M123 7v1M123 11v1M127 6v1M127 8v4M127 13v1M128 7v2M128 13v1M129 16v1M130 2v1M130 18v1M131 4v1M132 3v3M132 12v1M132 14v1M133 15v1M135 23v1M136 18v2M136 23v1M138 17v1M139 14v1M140 12v1M140 15v1M144 5v1M145 4v1M145 16v1M147 3v3M148 2v1M148 4v2M148 17v1M149 2v2M149 17v1M150 17v1M151 7v1M151 14v1M154 7v1M154 10v1M154 14v1M155 3v1M155 5v1M155 15v1M155 17v1M156 6v1M157 6v3M157 10v1M159 8v3M159 13v1M161 2v1M162 3v2M162 17v1M163 4v1M163 15v1M164 1v2M164 16v1M165 3v2M166 19v1M167 0v1M167 21v1M169 14v2M170 7v1M170 13v2M171 6v2M171 9v1M173 13v1M174 13v2M175 21v1M175 23v1M178 18v1M178 20v1M178 22v1M180 4v3M180 12v1M181 0v1M181 2v1M181 16v1M182 1v1M182 4v1M183 10v1M183 14v1M184 6v1M185 23v1M186 16v1M187 0v2M187 15v1M188 21v1M188 23v1M189 23v1M190 22v1M191 21v1M192 18v1M192 23v1M193 19v4M194 4v2M195 2v1M195 18v1M196 3v1M196 5v1M197 0v1M197 22v1M198 4v1M198 23v1M199 0v2M199 16v1M200 20v1M201 0v1M201 3v3M202 17v1M203 1v1M203 3v1M203 5v1M203 17v1M204 15v1M204 19v2M204 23v1M205 8v1M205 12v2M206 2v1M207 1v1M208 5v1M209 19v1M209 21v3M210 23v1M211 21v1M217 5v1M217 15v1M218 17v1M218 23v1M219 17v1M219 19v1M220 0v1M220 2v1M220 16v1M221 0v1M221 16v2M221 22v1M222 1v1M223 5v1M223 15v3M224 11v1M224 15v1M224 17v1M226 4v1M227 3v1M230 13v1M231 3v1M231 5v1M232 3v1M233 0v1M233 21v1M234 15v1M234 20v1M234 22v2M235 18v1M235 20v1M235 22v1M236 4v2M236 16v1M237 4v1M237 15v1M238 6v1M239 6v1M239 12v1M240 14v1M241 4v2M242 2v1M242 14v2M249 10v1M250 5v1M251 15v1M252 16v1M253 6v2M253 9v3M254 15v1M255 7v4M256 15v1M257 6v1M257 11v1M258 15v1M259 16v1M262 5v1M263 3v2M263 16v1M264 14v3M264 21v1M265 9v1M268 16v1M278 8v1M284 12v2M301 8v1M301 11v1M302 7v1M302 11v1M302 13v1M308 7v1M308 10v1M316 10v1"/><path stroke="#edb341" d="M42 10v1M54 10v1M64 7v1M64 11v1M66 7v1M77 8v1M81 9v1M83 7v1M83 10v1M84 11v2M92 15v1M93 5v1M93 14v1M94 6v1M94 13v1M95 8v2M105 6v2M106 6v1M106 14v1M107 15v1M110 7v1M110 11v1M113 8v1M115 8v3M120 2v1M120 16v1M122 15v1M127 12v1M130 3v1M130 19v1M131 3v1M131 5v1M131 16v1M132 13v1M134 17v1M135 18v1M136 20v1M136 22v1M140 6v2M140 10v1M140 13v2M142 14v1M144 16v1M147 14v1M148 1v1M148 3v1M149 16v1M150 16v1M151 12v1M154 8v1M154 13v1M155 10v1M155 16v1M156 15v1M158 9v1M158 16v1M159 12v1M159 14v1M162 16v1M163 5v1M164 0v1M164 5v1M165 5v1M165 16v1M167 1v2M167 18v1M167 20v1M167 22v2M168 8v1M168 12v1M169 5v1M169 12v1M170 6v1M170 8v1M171 8v1M171 10v2M174 9v1M175 0v4M176 16v1M177 19v1M177 21v1M178 19v1M179 0v1M179 2v1M180 8v4M181 1v1M181 15v1M182 2v2M183 8v1M183 12v2M184 11v1M185 19v2M185 22v1M186 2v2M187 2v2M189 0v1M190 18v1M190 21v1M191 23v1M192 19v4M193 18v1M193 23v1M195 3v1M196 10v2M196 14v1M197 16v3M198 5v1M198 16v2M199 2v1M199 4v1M200 17v1M201 14v2M202 16v1M202 18v1M203 4v1M203 16v1M203 20v1M204 22v1M206 4v2M206 17v1M207 0v1M207 2v1M207 15v2M208 12v2M208 15v1M209 18v1M209 20v1M210 19v1M210 22v1M211 1v1M211 17v2M216 1v1M216 18v1M216 22v1M217 14v1M218 0v2M219 20v1M219 23v1M220 4v1M220 15v1M221 2v2M221 5v1M221 18v1M222 4v1M222 14v1M223 6v1M223 8v1M224 12v1M225 8v1M226 3v1M226 16v1M230 8v2M230 12v1M231 1v1M232 4v1M232 16v1M233 3v1M233 18v1M233 23v1M234 14v1M235 0v1M235 17v1M236 15v1M237 14v1M238 4v2M238 7v1M238 9v1M238 13v1M239 7v1M240 12v2M241 14v1M242 3v3M242 12v1M249 7v1M249 9v1M249 11v4M250 14v1M253 8v1M253 12v2M256 6v1M256 14v1M257 9v1M258 6v1M258 12v1M259 15v1M260 14v2M261 15v1M262 4v1M262 16v1M264 13v1M268 8v1M270 13v1M272 12v1M278 7v1M278 11v1M284 14v1M285 11v1M285 15v1M286 7v2M286 10v1M295 7v2M295 10v1M307 8v2M308 8v2M320 8v2"/><path stroke="#ebaa3b" d="M54 9v1M64 8v3M66 10v1M77 10v1M81 10v1M85 11v2M93 13v1M94 7v1M95 6v1M106 11v1M107 6v1M107 14v1M108 11v1M108 14v2M110 10v1M113 9v1M120 3v1M121 2v1M121 16v1M122 4v2M129 15v1M130 4v2M130 22v1M133 2v1M133 14v1M134 0v2M134 15v1M135 20v2M136 0v3M137 22v2M138 0v2M139 6v1M139 12v2M140 8v2M140 11v1M142 6v1M142 10v1M142 13v1M144 15v1M145 5v1M146 11v1M146 15v1M147 6v1M147 15v1M148 14v2M149 4v1M151 13v1M154 12v1M155 6v1M156 7v1M156 9v1M156 12v3M157 11v1M158 6v2M158 10v1M163 11v1M164 3v1M165 9v1M165 15v1M165 17v1M166 1v1M167 3v1M167 5v1M167 17v1M168 6v2M168 14v1M169 8v1M170 9v1M176 0v3M177 0v3M177 4v1M177 18v1M177 22v1M178 17v1M179 3v1M179 14v1M181 3v1M182 5v1M183 6v2M183 9v1M183 11v1M184 10v1M185 0v1M185 2v1M185 16v1M186 4v1M189 1v1M189 17v1M190 19v2M190 23v1M191 18v3M191 22v1M193 0v3M195 4v1M195 16v2M196 7v1M197 2v2M199 3v1M199 5v1M200 0v2M201 6v1M201 11v1M202 0v1M202 2v1M204 0v1M205 6v2M205 10v2M206 16v1M207 4v1M208 6v3M209 1v1M209 16v1M210 17v2M210 20v2M211 0v1M216 19v1M218 2v2M218 16v1M219 0v1M219 2v2M219 16v1M219 21v1M220 3v1M220 5v1M221 1v1M221 4v1M222 13v1M223 7v1M223 9v1M223 11v1M223 13v2M224 7v4M224 13v2M225 7v1M225 13v3M227 4v1M230 6v2M230 10v2M231 14v1M232 2v1M232 15v1M233 4v2M233 16v2M233 22v1M234 8v1M234 12v1M235 1v2M235 16v1M236 14v1M237 7v1M237 13v1M238 12v1M239 8v1M239 11v1M240 6v2M240 9v1M242 13v1M248 12v1M249 6v1M249 8v1M250 10v1M250 12v2M251 14v1M256 9v2M256 13v1M258 7v1M258 14v1M259 14v1M260 6v1M260 12v2M261 9v1M261 11v1M261 14v1M262 15v1M263 15v1M264 6v1M264 11v1M267 6v2M267 10v2M267 13v1M268 6v2M268 15v1M269 16v1M270 14v1M271 11v1M271 13v2M272 13v2M278 9v2M283 7v3M283 11v1M284 7v1M284 11v1M285 12v1M285 14v1M286 9v1M295 9v1M301 9v2M307 10v1M320 10v1"/><path stroke="#eaa235" d="M77 9v1M81 7v2M84 7v1M92 6v1M93 6v1M93 12v1M94 9v3M106 10v1M106 12v2M107 7v1M108 6v1M120 4v1M130 17v1M131 14v2M132 6v1M132 8v1M132 10v1M133 0v2M133 4v1M134 2v2M135 22v1M137 19v1M138 13v1M138 16v1M139 8v3M142 11v1M143 15v1M144 10v1M145 11v1M145 15v1M147 10v1M147 13v1M148 6v1M148 13v1M149 5v1M149 15v1M150 15v1M155 8v1M155 11v1M156 8v1M156 10v2M158 8v1M158 11v2M158 15v1M161 4v2M161 15v1M162 15v1M163 6v1M163 10v1M163 12v3M164 4v1M164 12v4M165 6v1M165 11v1M166 0v1M166 2v1M166 17v1M167 4v1M168 9v3M168 13v1M169 6v2M169 9v3M169 13v1M174 12v1M175 4v2M175 17v1M176 3v3M177 3v1M177 16v2M177 20v1M177 23v1M178 2v1M178 15v2M179 1v1M179 4v4M179 13v1M179 15v1M181 5v1M182 15v1M182 17v1M184 7v1M184 9v1M185 1v1M185 3v1M185 5v1M185 17v1M187 4v2M187 11v1M188 16v2M189 2v1M190 17v1M191 16v1M193 3v1M193 17v1M194 16v2M195 5v1M196 6v1M196 12v2M197 1v1M197 14v1M198 14v1M199 14v2M200 16v1M201 8v1M201 12v1M202 1v1M203 14v1M204 1v3M204 14v1M205 9v1M206 6v1M207 3v1M207 14v1M208 10v2M209 0v1M209 2v3M209 17v1M210 0v3M210 16v1M211 2v3M211 16v1M212 0v5M214 18v1M214 23v1M215 1v1M215 21v1M216 0v1M216 4v1M216 17v1M216 20v2M216 23v1M217 6v1M218 4v2M218 14v2M219 1v1M221 15v1M222 12v1M223 12v1M225 10v3M226 5v1M227 5v1M231 4v1M231 8v1M231 15v1M232 5v1M232 12v3M234 6v1M234 10v2M235 3v1M235 15v1M236 13v1M237 6v1M237 8v1M237 11v2M238 8v1M238 10v2M239 9v2M240 8v1M241 12v2M242 6v2M248 14v1M250 6v1M250 8v1M251 8v1M251 10v1M252 15v1M254 7v1M254 12v1M254 14v1M256 8v1M256 11v1M258 8v1M258 10v2M259 6v1M260 7v2M260 10v2M261 6v1M261 13v1M262 14v1M263 14v1M264 7v1M264 10v1M264 12v1M267 8v2M267 12v1M267 15v1M268 9v3M268 14v1M270 7v1M270 12v1M271 6v1M271 9v1M271 12v1M272 8v1M272 11v1M283 10v1M284 8v1M285 13v1M302 9v2"/><path stroke="#e99930" d="M42 9v1M66 9v1M84 8v3M85 7v1M92 9v1M92 12v2M93 8v1M106 7v1M106 9v1M107 9v1M107 13v1M108 12v2M120 5v1M120 14v2M121 3v2M131 7v1M131 9v2M131 13v1M132 7v1M132 9v1M132 11v1M133 3v1M133 5v1M133 12v2M134 4v4M134 12v3M135 1v1M136 17v1M137 0v2M137 20v1M138 2v1M138 14v2M139 7v1M142 7v2M143 7v1M144 9v1M144 11v1M144 13v1M145 14v1M146 7v1M146 12v3M147 8v1M147 11v1M148 7v6M150 14v1M155 7v1M155 9v1M162 14v1M163 7v3M164 6v1M165 7v2M165 10v1M166 16v1M167 16v1M176 15v1M177 5v1M178 0v2M178 5v1M179 9v1M179 11v1M181 4v1M181 6v1M181 14v1M182 6v5M182 14v1M184 8v1M185 4v1M186 5v1M186 8v1M186 10v1M186 14v2M187 6v1M187 12v1M188 2v1M189 3v1M189 16v1M190 0v1M190 16v1M192 0v2M192 17v1M193 4v2M196 8v2M197 4v1M197 6v1M198 10v1M198 13v1M198 15v1M199 12v1M200 2v2M201 7v1M201 10v1M201 13v1M202 3v3M202 15v1M203 13v1M203 15v1M204 5v1M204 12v2M206 8v1M206 11v1M206 14v2M207 5v1M207 8v1M207 10v3M208 9v1M209 5v1M209 15v1M210 3v1M212 16v2M214 19v1M214 21v2M215 0v1M215 18v1M215 20v1M215 22v1M216 3v1M217 10v4M219 4v1M219 15v1M220 12v1M220 14v1M221 14v1M222 6v1M223 10v1M225 6v1M225 9v1M226 15v1M227 15v1M231 9v2M231 12v1M232 7v1M233 13v3M234 7v1M234 9v1M234 13v1M236 12v1M237 9v2M240 11v1M241 11v1M242 11v1M248 10v1M248 13v1M250 7v1M250 9v1M250 11v1M251 6v2M251 9v1M251 11v3M252 7v1M252 14v1M254 6v1M254 8v1M254 10v2M254 13v1M256 7v1M258 9v1M258 13v1M260 9v1M261 7v2M261 12v1M263 6v2M263 12v1M264 8v2M267 14v1M268 13v1M269 15v1M270 6v1M270 8v1M270 10v2M271 7v1M272 6v2M284 9v2M285 7v1M285 10v1M302 8v1"/><path stroke="#e9932f" d="M66 8v1M85 10v1M92 7v2M92 10v2M92 14v1M93 7v1M94 8v1M106 8v1M107 8v1M107 10v1M107 12v1M108 7v2M120 6v1M120 8v1M120 11v1M121 5v1M121 14v2M122 12v2M129 7v2M129 11v1M130 16v1M131 8v1M131 11v2M134 8v1M134 10v1M135 17v1M136 3v1M136 16v1M137 2v2M137 18v1M137 21v1M138 3v4M139 11v1M142 9v1M142 12v1M143 6v1M143 8v2M143 11v1M143 13v1M144 6v2M144 14v1M145 6v4M145 12v2M146 6v1M146 8v3M147 7v1M147 9v1M147 12v1M149 13v1M150 6v2M150 9v1M150 13v1M155 14v1M158 14v1M161 11v1M161 14v1M162 6v4M162 13v1M164 7v2M164 11v1M166 3v1M167 15v1M175 7v2M175 10v2M175 15v2M176 9v1M177 15v1M178 3v1M178 6v2M178 9v1M178 14v1M179 8v1M179 10v1M179 12v1M181 8v1M181 11v1M181 13v1M182 11v3M182 16v1M185 13v1M185 15v1M186 7v1M186 9v1M186 11v1M187 8v1M187 14v1M188 0v2M188 15v1M189 4v1M190 3v1M191 0v1M191 17v1M192 2v2M193 16v1M194 15v1M195 6v1M195 12v4M197 12v1M197 15v1M198 7v1M198 9v1M198 11v1M199 6v3M199 13v1M200 4v1M200 15v1M201 9v1M202 6v1M202 11v2M203 6v1M203 8v1M204 4v1M206 7v1M206 12v1M207 6v2M207 9v1M207 13v1M210 12v1M210 14v1M211 5v1M211 14v2M212 5v1M212 15v1M212 18v3M212 22v1M213 0v1M213 16v1M215 2v3M215 16v1M215 19v1M216 2v1M216 5v1M216 15v2M217 7v2M218 12v1M219 5v1M219 14v1M222 10v2M231 6v2M231 11v1M231 13v1M232 6v1M232 8v2M232 11v1M233 7v1M235 4v2M236 10v1M240 10v1M241 6v1M241 10v1M242 10v1M248 7v1M252 6v1M252 8v1M252 10v1M252 12v2M254 9v1M259 7v6M261 10v1M262 8v1M262 11v3M263 9v2M263 13v1M268 12v1M269 6v1M269 9v2M269 13v2M270 9v1M271 8v1M271 10v1M272 10v1"/><path stroke="#e88d2e" d="M85 8v2M93 9v3M107 11v1M108 9v2M120 13v1M122 11v1M122 14v1M129 6v1M129 10v1M129 13v2M130 13v1M130 15v1M131 6v1M134 9v1M135 2v1M136 4v1M137 4v2M137 16v2M138 7v2M138 11v2M143 10v1M143 14v1M144 8v1M144 12v1M145 10v1M149 6v1M149 8v1M149 11v1M150 8v1M150 11v1M155 12v2M158 13v1M161 6v3M162 10v2M164 9v2M165 12v3M166 4v2M166 15v1M167 14v1M175 9v1M176 6v1M176 12v1M176 14v1M178 4v1M178 8v1M178 13v1M181 7v1M181 9v2M181 12v1M185 7v1M185 9v1M185 14v1M186 6v1M186 12v1M187 7v1M187 9v2M188 3v1M188 5v1M189 5v1M189 15v1M190 1v2M190 15v1M191 1v1M192 16v1M194 6v1M194 8v1M194 10v2M195 8v1M197 5v1M197 7v1M197 10v1M197 13v1M198 6v1M198 8v1M198 12v1M199 10v2M200 5v1M202 7v1M202 14v1M203 7v1M203 10v3M206 9v2M206 13v1M209 14v1M210 4v2M210 8v1M210 13v1M210 15v1M211 6v1M211 11v3M212 12v1M213 1v2M213 17v1M213 20v4M214 0v3M214 20v1M215 23v1M217 9v1M218 6v5M218 13v1M221 12v2M222 7v3M226 14v1M227 6v3M227 12v3M232 10v1M233 9v1M233 11v2M235 8v2M235 13v2M236 7v2M241 9v1M242 8v2M248 6v1M248 8v2M248 11v1M252 9v1M252 11v1M259 13v1M263 8v1M263 11v1M269 8v1M269 11v2M272 9v1M285 8v1"/><path stroke="#e8862d" d="M120 7v1M120 10v1M122 6v2M122 10v1M129 9v1M130 8v1M130 12v1M130 14v1M133 6v4M134 11v1M135 0v1M135 3v1M136 5v1M137 9v1M137 15v1M138 10v1M143 12v1M149 14v1M150 10v1M150 12v1M161 9v2M161 12v2M162 12v1M166 13v1M167 11v1M167 13v1M175 6v1M175 13v1M176 7v2M176 10v1M176 13v1M178 11v2M185 8v1M185 10v3M186 13v1M187 13v1M188 4v1M188 11v1M190 4v1M191 2v1M191 5v1M192 4v1M194 7v1M194 9v1M194 14v1M195 7v1M195 10v2M197 8v2M197 11v1M199 9v1M200 7v1M200 10v1M200 12v1M202 8v3M203 9v1M204 6v2M204 9v1M204 11v1M209 6v1M209 9v5M210 9v1M211 7v4M212 6v2M212 13v2M212 21v1M212 23v1M213 3v2M213 15v1M213 18v2M214 4v1M214 17v1M215 5v1M216 6v1M216 14v1M218 11v1M219 12v2M220 6v1M220 8v1M220 10v2M220 13v1M226 6v1M226 8v1M226 10v2M227 9v2M233 6v1M233 10v1M235 6v1M235 10v3M236 9v1M241 7v2M262 6v1M262 10v1M269 7v1"/><path stroke="#e7802d" d="M120 9v1M120 12v1M121 6v1M121 11v1M121 13v1M122 9v1M129 12v1M130 7v1M130 9v3M133 10v2M135 4v2M135 15v2M138 9v1M149 7v1M149 9v2M149 12v1M166 6v4M166 11v1M167 6v2M167 9v1M175 12v1M176 11v1M177 6v1M177 9v2M177 13v2M178 10v1M185 6v1M188 6v1M188 12v1M188 14v1M189 6v2M189 11v1M189 14v1M190 5v1M190 14v1M191 3v1M191 14v2M192 5v1M194 12v1M195 9v1M200 6v1M200 14v1M202 13v1M204 8v1M204 10v1M209 7v2M210 6v2M210 10v1M212 9v1M212 11v1M214 3v1M214 16v1M215 17v1M216 7v1M216 11v2M220 7v1M221 6v1M221 11v1M226 7v1M226 9v1M226 13v1M235 7v1M236 6v1M236 11v1M262 7v1M262 9v1M285 9v1"/><path stroke="#e7792c" d="M121 10v1M122 8v1M130 6v1M135 14v1M136 6v1M137 6v2M137 11v2M137 14v1M166 10v1M166 12v1M166 14v1M167 8v1M167 10v1M167 12v1M175 14v1M177 7v2M177 11v2M188 7v4M188 13v1M190 6v1M190 12v1M191 4v1M191 7v1M193 6v1M193 10v2M193 15v1M194 13v1M200 8v1M200 11v1M200 13v1M210 11v1M213 12v2M214 5v1M216 8v1M216 13v1M220 9v1M221 7v2M221 10v1M226 12v1M227 11v1M233 8v1"/><path stroke="#e6732b" d="M121 12v1M135 11v1M136 9v3M136 15v1M137 8v1M137 10v1M137 13v1M189 10v1M189 12v2M190 8v4M190 13v1M191 8v1M191 10v1M191 13v1M192 15v1M193 7v3M193 14v1M200 9v1M212 8v1M213 5v3M213 11v1M213 14v1M214 15v1M215 15v1M216 9v2M219 7v1M219 10v1M221 9v1"/><path stroke="#e66d2a" d="M121 7v2M135 9v2M135 12v2M136 7v2M136 14v1M189 8v2M190 7v1M191 6v1M191 11v2M192 6v1M192 10v1M192 12v3M193 13v1M212 10v1M213 8v2M215 12v1M215 14v1M219 6v1M219 9v1M219 11v1"/><path stroke="#e6692a" d="M121 9v1M135 6v3M136 12v2M192 8v2M193 12v1M213 10v1M215 7v2M215 13v1M219 8v1"/><path stroke="#e5652a" d="M191 9v1M192 7v1M192 11v1M214 14v1M215 6v1M215 9v3"/><path stroke="#e5612a" d="M214 6v1M214 8v1M214 10v1M214 12v2"/><path stroke="#e55d2a" d="M214 7v1M214 9v1M214 11v1"/></svg></g><path d="M93.40 1006.15H1403.40M93.40 1092.30H1403.40M93.40 1178.45H1403.40M204.66 920.00V1264.60M305.15 920.00V1264.60M416.41 920.00V1264.60M524.08 920.00V1264.60M635.35 920.00V1264.60M743.02 920.00V1264.60M854.28 920.00V1264.60M965.54 920.00V1264.60M1073.21 920.00V1264.60M1184.47 920.00V1264.60M1292.14 920.00V1264.60" stroke="#262420" stroke-width="1.7" fill="none"/><rect x="93.40" y="920.00" width="1310.00" height="344.60" stroke="#262420" stroke-width="1.7" fill="none"/><rect x="1417.8" y="920.30" width="25.7" height="345.00" fill="url(#cb)"/><text transform="matrix(1 0 0 1.04 8.3 901.8)" font-size="41.0">P-S</text><text transform="matrix(1 0 0 1.04 84.7 939.4)" font-size="26.0" text-anchor="end">12 AM</text><text transform="matrix(1 0 0 1.04 84.7 1017.2)" font-size="26.0" text-anchor="end">6 PM</text><text transform="matrix(1 0 0 1.04 84.7 1102.0)" font-size="26.0" text-anchor="end">12 PM</text><text transform="matrix(1 0 0 1.04 84.7 1188.0)" font-size="26.0" text-anchor="end">6 AM</text><text transform="matrix(1 0 0 1.04 84.7 1264.0)" font-size="26.0" text-anchor="end">12 AM</text><text transform="matrix(1 0 0 1.04 129.7 1286.6)" font-size="26.0">Jan</text><text transform="matrix(1 0 0 1.04 228.2 1286.6)" font-size="26.0">Feb</text><text transform="matrix(1 0 0 1.04 339.0 1286.6)" font-size="26.0">Mar</text><text transform="matrix(1 0 0 1.04 449.8 1286.6)" font-size="26.0">Apr</text><text transform="matrix(1 0 0 1.04 556.2 1286.6)" font-size="26.0">May</text><text transform="matrix(1 0 0 1.04 668.0 1286.6)" font-size="26.0">Jun</text><text transform="matrix(1 0 0 1.04 781.0 1286.6)" font-size="26.0">Jul</text><text transform="matrix(1 0 0 1.04 888.7 1286.6)" font-size="26.0">Aug</text><text transform="matrix(1 0 0 1.04 995.4 1286.6)" font-size="26.0">Sep</text><text transform="matrix(1 0 0 1.04 1110.1 1286.6)" font-size="26.0">Oct</text><text transform="matrix(1 0 0 1.04 1214.4 1286.6)" font-size="26.0">Nov</text><text transform="matrix(1 0 0 1.04 1325.7 1286.6)" font-size="26.0">Dec</text><text transform="matrix(1 0 0 1.04 1452.5 928.1)" font-size="26.0">42.03</text><text transform="matrix(1 0 0 1.04 1451.9 1267.5)" font-size="26.0">-32.48</text><g filter="url(#bl)"><svg class="hm" x="93.40" y="1346.50" width="1310.00" height="345.00" viewBox="0 0 365 24" preserveAspectRatio="none" shape-rendering="crispEdges"><path stroke="#829fd1" d="M12 14v1M12 17v1"/><path stroke="#89a6d6" d="M2 2v1M12 12v2M12 15v1"/><path stroke="#90adda" d="M2 0v1M2 3v3M2 13v1M3 19v1M47 23v1M341 0v1M342 18v1"/><path stroke="#97b3de" d="M1 1v4M2 1v1M2 6v1M2 16v1M2 22v1M3 13v1M3 15v2M12 7v1M12 10v1M12 16v1M12 19v1M14 0v1M15 0v2M16 3v1M20 0v3M21 0v3M21 21v1M22 8v1M22 11v1M22 18v1M22 23v1M23 13v2M23 20v1M46 15v3M46 19v1M47 14v1M69 15v2M341 2v1M342 16v1"/><path stroke="#9ebae2" d="M1 0v1M2 7v3M2 11v2M2 14v1M2 18v1M2 23v1M3 17v1M3 23v1M12 6v1M12 9v1M12 11v1M12 18v1M12 20v4M13 0v2M13 5v1M14 4v3M15 2v1M15 4v1M16 1v2M16 4v2M17 22v2M20 3v2M21 18v1M21 22v2M22 0v1M22 2v2M22 7v1M22 9v2M22 19v3M23 12v1M23 15v5M23 21v1M23 23v1M46 14v1M46 18v1M46 20v4M47 22v1M61 16v1M69 17v1M291 16v1M341 1v1M341 4v2M342 17v1M342 20v1M342 22v2"/><path stroke="#a5c0e6" d="M1 5v1M2 10v1M2 15v1M2 17v1M2 19v3M3 12v1M3 14v1M3 18v1M3 20v3M11 18v1M11 21v1M13 2v2M14 1v1M14 3v1M15 3v1M15 23v1M16 0v1M17 12v1M17 18v4M20 5v1M21 3v3M21 19v2M22 1v1M22 4v3M22 22v1M23 0v1M23 6v1M23 9v3M23 22v1M25 6v1M37 5v1M38 15v1M40 15v3M43 3v1M45 15v1M46 13v1M47 12v2M47 15v3M47 19v3M52 3v1M52 19v1M68 16v1M69 12v2M291 17v1M341 3v1M342 12v4M342 19v1"/><path stroke="#abc5e8" d="M7 13v5M7 21v3M11 6v1M11 8v1M11 10v2M11 22v1M13 4v1M13 9v1M14 2v1M14 10v1M14 13v1M14 20v1M15 5v1M15 19v1M15 21v1M16 6v1M17 15v3M23 3v1M23 7v2M24 17v1M25 13v2M25 16v1M37 0v1M37 3v1M37 7v1M38 14v1M38 16v2M43 1v1M45 16v3M46 12v1M47 6v2M47 11v1M47 18v1M52 0v1M52 2v1M52 4v1M52 20v1M56 20v1M60 17v1M61 17v1M68 17v1M69 14v1M69 21v1M69 23v1M101 22v1M290 17v1M291 15v1M335 20v1M336 19v1M338 16v1M341 7v1M342 21v1M346 1v1M346 13v1M346 20v1M347 0v1M347 2v1M347 18v1"/><path stroke="#b1c9e8" d="M0 2v1M1 19v1M1 23v1M3 4v1M4 4v1M4 10v1M6 1v1M6 19v1M7 12v1M7 18v3M9 4v1M9 11v2M9 16v1M10 21v1M11 7v1M11 9v1M11 15v1M11 19v2M11 23v1M12 3v1M12 8v1M14 7v3M14 11v1M14 18v2M14 21v3M15 17v2M15 20v1M15 22v1M16 7v3M16 11v1M16 16v1M17 1v1M17 4v1M17 13v2M21 11v1M23 1v2M23 5v1M25 7v2M25 10v2M25 19v1M26 17v1M27 10v1M27 15v2M37 1v2M37 4v1M37 6v1M37 8v1M37 10v2M37 19v1M38 13v1M40 13v1M41 17v1M41 20v2M43 0v1M43 2v1M43 4v2M44 16v1M44 18v1M45 6v1M45 12v3M45 19v2M45 22v2M47 0v1M47 2v1M47 8v3M51 15v1M52 1v1M52 5v1M52 14v2M52 17v2M52 21v3M53 16v2M59 17v1M61 14v2M68 12v4M69 18v3M69 22v1M70 16v2M72 18v1M75 16v2M79 16v2M101 17v1M101 19v1M290 12v1M290 14v3M291 13v2M292 17v1M334 0v2M334 4v2M335 1v1M335 4v1M335 18v1M335 21v3M336 18v1M337 18v1M337 20v4M338 12v1M338 17v5M341 6v1M341 9v1M341 11v1M341 16v3M341 22v1M342 0v2M342 3v2M342 6v2M342 10v2M346 2v1M346 5v1M346 14v3M346 19v1M346 21v1M346 23v1M347 4v1M347 20v1M347 23v1M348 14v2M348 22v1"/><path stroke="#b6cee7" d="M0 0v1M0 3v1M0 18v3M1 8v1M1 20v3M3 3v1M4 0v2M4 5v1M4 13v2M5 0v4M5 10v1M6 0v1M6 14v1M6 17v1M6 20v1M6 23v1M7 0v3M7 4v1M9 1v1M9 5v1M9 10v1M9 13v2M10 0v1M10 2v1M10 6v1M10 10v1M10 15v1M10 18v1M10 22v1M11 2v2M11 14v1M11 16v1M12 2v1M12 5v1M13 7v1M13 18v2M13 22v1M14 14v3M15 6v2M15 15v1M16 10v1M16 12v1M16 14v1M16 19v2M17 7v2M17 10v1M20 7v2M20 11v2M20 14v1M20 16v1M21 7v1M21 9v1M21 16v1M22 16v2M23 4v1M24 1v1M24 4v1M24 12v1M24 14v1M24 20v1M24 22v1M25 9v1M25 12v1M25 15v1M25 17v1M25 22v1M26 15v2M27 2v1M27 4v1M27 6v2M27 12v1M28 6v2M28 9v1M28 13v2M28 16v1M29 2v1M29 4v2M29 7v3M29 22v1M30 15v1M30 22v1M35 12v1M35 15v3M37 14v1M37 20v1M38 2v1M38 12v1M38 18v1M38 20v1M38 22v1M39 14v1M40 12v1M41 0v1M41 16v1M41 19v1M43 15v1M43 19v2M44 0v2M44 19v1M45 7v1M45 11v1M45 21v1M46 0v1M46 4v1M51 3v1M51 6v1M51 11v1M52 6v2M52 12v2M52 16v1M53 15v1M53 19v1M55 21v1M56 21v1M57 19v3M58 18v1M59 1v1M59 21v1M59 23v1M61 20v1M68 7v1M68 20v1M69 0v1M69 5v2M69 10v1M71 0v1M71 2v1M71 16v1M72 1v1M72 3v1M72 21v1M72 23v1M73 21v1M73 23v1M74 0v1M74 16v1M74 22v1M75 19v2M101 14v3M101 20v2M101 23v1M116 1v1M118 16v2M289 14v2M290 13v1M291 1v1M291 12v1M291 20v1M292 15v2M292 18v1M334 2v2M335 0v1M335 2v2M335 5v1M335 19v1M336 1v1M336 20v3M337 17v1M337 19v1M338 14v2M338 22v2M341 8v1M341 10v1M341 12v3M341 19v3M341 23v1M342 8v2M345 9v1M346 0v1M346 3v2M346 12v1M346 17v2M346 22v1M347 1v1M347 3v1M347 19v1M347 21v2M348 12v2M348 16v2M348 19v3M348 23v1M350 3v1M354 8v1M354 15v1M360 3v1"/><path stroke="#bbd2e7" d="M0 1v1M0 4v2M0 23v1M1 6v2M1 9v1M1 11v1M1 18v1M3 0v1M3 2v1M4 6v1M4 8v1M4 11v1M4 15v3M5 4v1M5 6v1M5 8v2M5 11v1M6 2v3M6 13v1M6 15v2M6 18v1M6 21v2M7 3v1M7 5v1M9 0v1M9 2v2M9 7v1M9 9v1M9 15v1M9 17v1M10 3v1M10 5v1M10 7v1M10 9v1M10 12v3M10 19v2M10 23v1M11 0v1M11 4v2M11 12v2M11 17v1M12 0v2M12 4v1M13 6v1M13 8v1M13 21v1M14 17v1M15 8v7M15 16v1M16 13v1M16 15v1M16 18v1M16 21v3M17 3v1M17 5v2M17 9v1M17 11v1M20 9v1M20 13v1M20 17v1M20 20v1M21 6v1M21 8v1M21 13v3M21 17v1M22 13v3M24 0v1M24 2v2M24 16v1M24 18v1M24 21v1M24 23v1M25 20v2M26 0v1M26 12v3M27 0v2M27 3v1M27 5v1M27 13v1M27 17v1M28 0v5M28 8v1M28 10v1M28 17v1M28 20v1M29 10v2M29 18v2M29 21v1M29 23v1M30 12v2M30 16v6M30 23v1M35 13v1M37 9v1M37 17v2M37 22v2M38 0v2M38 19v1M39 13v1M40 14v1M41 1v2M41 5v1M41 13v3M41 18v1M41 22v2M42 1v1M42 22v1M43 12v3M43 16v3M43 21v1M44 3v3M44 15v1M44 20v4M45 0v1M45 2v4M46 1v3M46 6v1M47 1v1M47 3v3M51 0v3M51 4v1M51 7v1M51 9v2M51 16v1M52 9v1M52 11v1M53 13v2M53 18v1M53 21v3M54 0v1M54 19v1M55 18v3M55 22v2M56 19v1M57 17v1M57 22v1M58 19v2M58 22v2M59 13v1M59 16v1M59 20v1M59 22v1M60 15v2M61 0v1M61 2v1M61 13v1M61 18v1M61 21v1M62 16v1M68 0v1M68 2v1M68 4v1M68 6v1M68 8v2M68 11v1M68 19v1M68 22v2M69 1v4M69 7v1M69 9v1M69 11v1M70 13v2M70 18v1M70 20v4M71 1v1M71 13v2M71 17v2M71 21v3M72 2v1M72 20v1M72 22v1M73 1v1M73 16v5M74 1v4M74 12v2M74 17v2M74 20v2M75 0v1M75 12v1M75 18v1M75 21v1M76 16v2M78 1v1M78 16v7M79 15v1M79 18v1M79 20v2M79 23v1M101 0v1M101 2v1M101 10v1M101 12v2M101 18v1M116 4v1M117 17v1M118 2v2M118 20v1M289 12v2M290 2v6M290 9v2M290 21v2M291 0v1M291 2v1M291 4v2M291 18v2M291 21v3M292 20v1M292 22v1M334 19v1M335 12v1M335 16v1M336 16v2M336 23v1M338 13v1M341 15v1M342 2v1M342 5v1M343 14v1M343 23v1M344 21v1M345 1v1M345 3v1M346 11v1M347 5v2M347 8v1M347 17v1M348 2v1M348 5v1M348 18v1M349 0v1M349 4v1M351 5v1M351 19v2M352 4v1M353 0v1M354 2v1M355 9v1M355 11v2M355 18v1M360 0v1M360 2v1M360 6v1M360 8v1M360 11v1M360 15v1M360 19v2M361 2v1M361 10v1M361 15v1M361 23v1M364 3v1M364 5v1M364 10v1M364 22v1"/><path stroke="#c0d6e7" d="M0 21v2M1 10v1M1 15v1M3 1v1M4 3v1M4 7v1M4 9v1M4 12v1M4 19v1M4 23v1M5 5v1M5 7v1M6 5v1M7 6v2M7 9v1M8 19v1M8 21v1M9 6v1M9 8v1M10 1v1M10 4v1M10 8v1M10 11v1M10 16v2M11 1v1M13 10v1M13 23v1M14 12v1M16 17v1M17 0v1M17 2v1M18 20v1M20 6v1M20 10v1M20 15v1M20 18v1M20 23v1M21 10v1M21 12v1M22 12v1M24 13v1M24 15v1M24 19v1M25 18v1M25 23v1M26 21v1M26 23v1M27 8v2M27 11v1M27 14v1M27 22v2M28 5v1M28 11v2M28 15v1M28 22v1M29 0v2M29 3v1M29 6v1M29 13v1M29 15v1M30 14v1M34 8v1M35 14v1M36 16v2M37 12v1M37 16v1M37 21v1M38 3v4M38 10v2M38 21v1M38 23v1M39 12v1M39 15v3M40 1v3M40 19v1M41 3v2M41 12v1M42 2v1M42 18v1M42 23v1M43 6v1M43 22v2M44 2v1M44 7v1M44 12v3M44 17v1M45 1v1M45 8v2M46 5v1M51 5v1M51 8v1M51 12v1M51 14v1M51 17v2M51 20v1M51 22v1M52 8v1M52 10v1M53 1v1M53 20v1M54 1v1M54 20v1M56 16v3M56 22v2M57 18v1M57 23v1M58 0v1M58 3v1M58 16v2M58 21v1M59 14v2M59 18v2M60 1v1M60 12v1M60 14v1M61 1v1M61 3v3M61 12v1M61 19v1M61 22v2M62 17v1M62 19v1M62 21v2M67 17v1M68 3v1M68 5v1M68 18v1M68 21v1M70 12v1M70 15v1M70 19v1M71 4v2M71 15v1M71 20v1M72 0v1M72 4v2M72 17v1M72 19v1M73 15v1M73 22v1M74 5v1M74 14v2M74 19v1M74 23v1M75 13v3M75 22v2M77 21v1M78 23v1M79 14v1M79 19v1M79 22v1M89 14v1M89 17v1M89 19v1M101 1v1M101 4v1M101 7v1M101 9v1M101 11v1M102 23v1M115 1v1M116 0v1M116 2v2M116 5v1M117 16v1M117 22v1M118 0v1M118 5v1M118 18v1M119 17v1M289 0v2M289 17v1M290 0v2M290 8v1M290 11v1M290 18v2M290 23v1M291 3v1M291 6v1M292 0v1M292 2v1M292 12v1M292 14v1M292 19v1M292 21v1M292 23v1M334 6v2M334 11v1M334 14v2M334 17v1M334 21v2M335 6v2M335 10v2M335 13v1M336 0v1M336 2v1M336 12v1M336 14v1M337 12v1M338 5v1M339 19v5M340 20v1M343 15v2M343 18v1M343 20v1M343 22v1M344 17v3M345 2v1M345 4v1M345 6v1M345 8v1M345 10v1M345 12v2M345 15v1M345 23v1M346 6v2M346 10v1M347 10v4M347 16v1M348 3v2M349 3v1M349 13v1M349 15v1M349 18v1M349 21v1M349 23v1M351 1v4M351 21v2M352 1v1M352 3v1M353 1v1M353 3v1M353 13v1M353 16v3M353 21v1M354 3v1M354 6v1M354 9v2M354 16v6M354 23v1M355 0v1M355 2v2M355 8v1M355 13v2M355 19v4M360 4v2M360 9v1M360 13v2M360 16v1M360 22v1M361 5v3M361 11v3M361 18v1M361 22v1M364 1v2M364 4v1M364 7v3M364 12v1M364 14v1M364 21v1"/><path stroke="#c7d8db" d="M0 6v1M0 9v2M1 12v1M1 14v1M1 16v1M3 5v1M4 2v1M4 18v1M4 20v3M6 12v1M7 11v1M8 20v1M8 22v1M13 11v1M13 20v1M18 18v1M18 21v3M20 19v1M20 21v1M24 5v1M26 2v2M26 19v2M27 19v1M27 21v1M28 18v2M28 21v1M28 23v1M29 12v1M29 16v1M29 20v1M34 1v1M34 7v1M34 9v4M34 16v1M34 20v1M35 0v1M35 5v1M35 21v2M36 14v1M37 13v1M37 15v1M38 7v3M39 2v1M39 5v1M40 18v1M40 21v1M40 23v1M42 19v1M43 7v1M43 10v2M44 6v1M45 10v1M46 7v1M46 11v1M51 13v1M51 19v1M51 23v1M53 0v1M53 3v1M53 5v1M54 2v2M54 18v1M54 21v2M55 16v2M56 13v1M56 15v1M57 16v1M58 1v1M58 4v1M58 13v3M59 12v1M60 0v1M60 13v1M60 21v1M60 23v1M62 15v1M62 20v1M66 17v1M67 0v1M67 2v1M67 16v1M67 20v1M67 23v1M68 1v1M69 8v1M70 0v1M70 3v2M71 12v1M71 19v1M72 15v2M73 0v1M73 5v1M74 7v1M75 1v2M76 14v2M77 17v2M77 20v1M78 5v1M78 15v1M79 12v2M89 0v1M89 3v1M89 16v1M89 20v2M89 23v1M100 15v1M100 17v1M101 3v1M101 5v2M101 8v1M102 7v1M102 9v1M102 18v1M102 22v1M112 1v1M114 0v2M114 17v1M115 0v1M116 15v1M116 17v1M116 20v1M117 1v1M117 15v1M117 20v1M118 1v1M118 4v1M118 13v1M118 21v3M119 16v1M119 19v1M289 3v1M289 5v1M289 7v2M289 18v1M289 21v2M290 20v1M291 11v1M292 3v3M292 13v1M334 8v3M334 12v2M334 16v1M334 20v1M334 23v1M335 8v1M335 14v2M335 17v1M336 3v3M336 13v1M336 15v1M337 13v4M338 1v3M339 0v1M339 18v1M340 18v1M340 21v3M343 12v1M343 17v1M343 19v1M344 14v3M344 23v1M345 0v1M345 5v1M345 11v1M345 14v1M345 16v5M345 22v1M346 8v2M347 7v1M347 9v1M347 15v1M348 1v1M349 1v2M349 5v1M349 12v1M349 14v1M349 16v2M349 19v2M349 22v1M350 0v3M350 4v2M351 0v1M351 18v1M352 0v1M352 2v1M352 5v1M353 2v1M353 5v1M353 12v1M353 14v2M353 20v1M353 22v2M354 0v2M354 4v2M354 7v1M354 11v4M354 22v1M355 4v3M355 10v1M355 15v3M355 23v1M360 1v1M360 7v1M360 17v1M360 21v1M360 23v1M361 0v2M361 3v2M361 8v2M361 14v1M361 16v2M361 20v2M364 0v1M364 13v1M364 18v3"/><path stroke="#cddace" d="M0 7v2M0 11v1M0 14v1M1 13v1M1 17v1M3 10v1M5 12v2M7 8v1M7 10v1M8 23v1M18 19v1M20 22v1M26 1v1M26 5v1M26 18v1M26 22v1M27 18v1M29 14v1M30 1v1M30 3v1M30 6v1M30 8v1M33 8v1M33 10v1M33 16v1M33 18v1M34 0v1M34 3v4M34 13v3M34 17v1M35 1v4M35 18v1M35 20v1M36 12v2M39 0v2M39 3v2M39 23v1M40 0v1M40 4v2M40 20v1M40 22v1M42 0v1M42 3v2M42 17v1M42 20v1M43 8v2M44 9v1M44 11v1M46 9v2M48 15v1M48 17v1M51 21v1M53 2v1M53 4v1M53 12v1M55 2v1M56 6v1M56 12v1M56 14v1M57 6v1M58 2v1M58 5v2M58 12v1M59 0v1M59 2v1M59 4v1M60 2v1M60 4v1M60 18v3M60 22v1M62 14v1M62 18v1M62 23v1M66 20v1M67 1v1M67 4v2M67 14v2M67 19v1M67 22v1M68 10v1M70 1v2M71 3v1M71 6v1M72 6v1M72 12v1M73 3v2M73 12v1M74 6v1M74 8v1M75 3v1M75 5v1M76 0v1M76 19v2M76 22v2M77 0v1M77 16v1M77 19v1M77 22v2M78 0v1M78 3v2M89 1v1M89 4v1M89 12v1M89 15v1M89 18v1M89 22v1M100 0v4M100 11v1M100 13v1M100 16v1M100 19v1M100 21v1M102 5v2M102 11v2M102 14v1M102 17v1M102 19v2M112 4v1M114 16v1M114 18v1M114 20v2M114 23v1M115 2v1M115 18v1M115 20v1M115 23v1M116 13v1M116 16v1M116 22v2M117 0v1M117 3v1M117 5v1M117 14v1M117 19v1M118 12v1M118 14v2M119 0v3M119 4v1M119 7v3M119 12v2M119 20v1M289 2v1M289 4v1M289 6v1M289 9v2M289 16v1M289 19v2M289 23v1M291 8v1M291 10v1M292 1v1M292 6v1M334 18v1M335 9v1M338 0v1M338 4v1M338 6v1M340 14v1M340 19v1M343 13v1M343 21v1M344 5v1M344 12v2M344 20v1M344 22v1M345 7v1M345 21v1M347 14v1M348 0v1M348 6v1M349 9v1M351 23v1M352 18v1M353 4v1M353 19v1M355 1v1M355 7v1M359 11v2M359 22v2M360 10v1M360 12v1M360 18v1M361 19v1M362 15v1M363 17v1M364 6v1M364 11v1M364 15v3M364 23v1"/><path stroke="#d3dcc1" d="M0 12v1M0 16v1M3 8v2M5 15v1M5 17v1M5 20v3M8 18v1M9 18v2M9 21v1M13 13v2M13 16v2M18 0v1M18 3v2M26 4v1M27 20v1M29 17v1M30 0v1M30 4v1M30 7v1M30 11v1M33 1v1M33 5v3M33 17v1M33 21v2M34 2v1M34 19v1M34 21v1M35 19v1M35 23v1M36 1v3M36 5v1M36 15v1M36 20v1M39 11v1M39 20v1M41 6v1M42 15v1M42 21v1M44 10v1M46 8v1M48 12v1M48 14v1M48 23v1M54 4v2M54 23v1M55 0v1M57 1v3M57 14v2M58 8v1M58 11v1M59 3v1M59 5v2M60 3v1M60 5v1M61 6v1M62 0v2M62 12v2M63 16v2M63 20v2M63 23v1M64 17v1M66 16v1M66 22v1M67 3v1M67 12v2M67 18v1M67 21v1M71 11v1M72 7v1M72 13v2M73 2v1M73 13v2M74 9v3M76 1v3M76 12v2M76 18v1M76 21v1M77 1v2M77 15v1M78 2v1M78 12v3M79 1v1M88 0v1M88 2v1M88 17v1M88 20v1M89 2v1M89 5v1M89 10v1M96 0v1M96 16v1M100 6v1M100 12v1M100 14v1M100 18v1M100 20v1M100 22v1M102 1v4M102 8v1M102 10v1M102 15v2M102 21v1M112 0v1M112 2v2M112 5v1M113 0v1M114 2v3M114 14v2M114 19v1M114 22v1M115 3v1M115 21v2M116 14v1M116 19v1M116 21v1M117 2v1M117 12v1M117 23v1M118 19v1M119 3v1M119 5v2M119 10v2M119 14v1M119 18v1M119 21v3M229 22v1M289 11v1M291 7v1M291 9v1M292 7v1M337 0v4M339 1v1M339 5v1M339 14v1M339 16v2M340 1v1M340 3v1M340 5v1M340 15v1M340 17v1M343 1v1M343 4v1M343 9v1M343 11v1M344 1v2M348 7v1M348 11v1M349 7v1M350 6v3M350 10v1M350 19v1M350 21v2M352 14v1M352 16v1M352 20v2M353 6v1M353 10v1M356 17v3M356 21v1M356 23v1M359 1v1M359 4v1M359 10v1M359 13v1M359 15v1M359 17v1M359 20v1M362 13v1M362 17v3M362 21v3M363 13v4M363 18v1M363 21v1M363 23v1"/><path stroke="#dadeb6" d="M0 15v1M0 17v1M3 6v2M3 11v1M5 14v1M5 16v1M5 18v2M5 23v1M8 17v1M9 20v1M9 22v1M13 12v1M13 15v1M18 2v1M18 5v1M18 15v1M19 2v1M19 14v1M19 21v1M24 7v2M24 10v1M25 5v1M30 2v1M30 5v1M33 0v1M33 2v3M33 9v1M33 11v3M33 20v1M34 23v1M36 0v1M36 4v1M36 18v2M36 22v2M39 6v1M39 9v2M39 18v1M39 21v2M40 6v1M42 5v1M44 8v1M48 6v1M48 13v1M48 16v1M48 19v4M49 14v1M50 14v1M53 6v1M54 15v3M55 1v1M55 3v4M55 15v1M56 0v1M57 0v1M57 4v2M57 11v3M58 7v1M61 8v1M61 10v1M62 2v1M62 4v1M63 14v1M63 18v1M63 22v1M64 0v1M65 16v1M66 0v1M66 18v1M66 23v1M70 5v2M71 7v1M72 10v1M73 6v1M73 8v1M73 10v1M75 4v1M75 6v1M76 4v2M88 1v1M88 3v3M88 12v1M88 19v1M88 21v3M89 6v2M89 11v1M89 13v1M96 2v1M96 4v1M96 12v1M96 15v1M96 17v2M96 20v2M100 4v2M100 23v1M102 0v1M102 13v1M103 0v1M103 19v2M112 18v1M112 22v1M113 1v1M113 3v1M113 18v1M113 20v1M114 12v2M115 5v1M115 19v1M116 8v5M117 13v1M117 18v1M117 21v1M118 6v1M119 15v1M124 23v1M125 23v1M153 22v1M244 0v1M244 2v1M245 2v1M245 20v2M275 1v1M275 3v1M275 17v1M275 20v2M292 8v1M293 13v1M293 15v3M337 4v1M338 9v1M339 2v3M339 12v1M339 15v1M340 0v1M340 2v1M340 4v1M340 12v2M343 2v2M343 5v3M343 10v1M344 0v1M344 3v2M348 8v3M349 6v1M349 8v1M349 10v2M350 9v1M350 11v5M350 17v2M350 20v1M350 23v1M352 12v2M352 15v1M352 17v1M352 22v2M353 7v1M353 9v1M353 11v1M356 12v4M356 22v1M359 2v1M359 5v3M359 14v1M359 16v1M359 18v2M359 21v1M362 12v1M362 20v1M363 19v1M363 22v1"/><path stroke="#e0e0aa" d="M0 13v1M8 14v1M9 23v1M18 1v1M18 12v1M18 16v2M19 19v1M25 1v1M25 3v1M26 6v2M26 10v1M30 9v2M31 2v1M31 17v3M31 22v1M33 14v2M33 19v1M33 23v1M34 18v1M34 22v1M35 6v2M35 10v2M36 21v1M39 7v2M39 19v1M40 8v1M41 11v1M42 16v1M48 0v1M48 2v1M48 4v1M48 9v1M48 18v1M49 15v2M50 4v1M50 15v1M50 17v1M53 7v1M53 11v1M55 12v3M56 1v1M56 11v1M57 7v1M58 9v2M61 7v1M61 9v1M61 11v1M62 3v1M63 0v2M63 13v1M63 15v1M63 19v1M64 1v1M64 16v1M64 19v2M64 22v2M65 0v1M65 2v1M65 14v1M65 18v1M66 2v1M66 19v1M66 21v1M67 6v1M70 7v1M71 8v2M72 8v1M72 11v1M73 7v1M73 9v1M73 11v1M75 11v1M76 6v1M77 3v1M78 6v1M79 0v1M80 14v2M87 0v1M87 3v1M87 15v3M87 19v1M87 22v1M88 14v3M88 18v1M89 8v2M96 1v1M96 3v1M96 5v1M96 13v1M96 23v1M100 8v1M100 10v1M103 1v1M103 3v1M103 15v1M103 17v2M103 21v2M111 17v1M112 13v4M112 19v1M112 21v1M113 5v1M113 19v1M113 21v2M114 5v1M115 4v1M115 17v1M116 6v2M116 18v1M117 4v1M118 8v3M124 19v2M125 19v1M125 21v1M153 20v1M229 19v1M229 21v1M244 4v1M245 1v1M245 22v2M246 22v1M275 2v1M275 4v2M275 12v4M275 19v1M275 22v2M292 10v2M293 14v1M293 18v1M304 1v1M327 9v1M337 5v1M338 7v2M338 11v1M339 7v1M339 10v1M339 13v1M340 16v1M343 0v1M343 8v1M351 7v1M351 16v2M352 11v1M352 19v1M353 8v1M356 16v1M356 20v1M357 3v1M359 3v1M359 8v2M362 16v1M363 5v1M363 8v1M363 12v1M363 20v1"/><path stroke="#e5e29f" d="M8 13v1M8 15v2M18 14v1M19 1v1M19 3v3M19 15v3M19 20v1M19 22v2M24 6v1M24 9v1M24 11v1M25 0v1M25 2v1M26 8v2M26 11v1M31 1v1M31 3v3M31 12v4M31 20v1M31 23v1M35 9v1M40 7v1M40 10v2M41 7v1M48 5v1M48 7v2M48 11v1M49 13v1M49 21v2M50 1v2M50 5v1M50 12v2M50 16v1M56 4v1M56 7v1M60 6v1M62 5v1M63 2v2M64 2v1M64 4v1M64 15v1M64 18v1M64 21v1M65 1v1M65 13v1M65 15v1M65 17v1M65 19v4M66 1v1M67 9v1M67 11v1M70 11v1M71 10v1M72 9v1M75 10v1M77 4v2M77 12v3M79 2v2M87 1v2M87 5v1M87 20v2M88 6v1M88 11v1M88 13v1M95 17v1M96 11v1M96 14v1M96 19v1M96 22v1M97 3v2M97 12v1M97 17v1M97 21v1M98 17v1M99 16v2M99 21v1M100 7v1M100 9v1M103 2v1M103 4v2M103 23v1M111 2v1M112 11v1M112 17v1M112 20v1M112 23v1M113 2v1M117 6v1M117 11v1M118 7v1M118 11v1M124 18v1M124 21v2M125 18v1M125 20v1M125 22v1M153 18v1M153 21v1M153 23v1M229 18v1M229 20v1M229 23v1M243 1v1M243 20v1M243 22v1M244 1v1M244 3v1M244 5v1M244 22v2M245 0v1M245 3v2M245 15v3M245 19v1M246 16v1M248 3v1M274 1v1M274 3v1M274 16v4M275 0v1M275 11v1M275 16v1M275 18v1M287 8v1M292 9v1M293 12v1M293 19v1M293 22v1M303 21v1M304 0v1M304 4v1M304 14v1M304 17v2M304 22v1M305 12v2M305 15v1M305 18v1M321 2v1M321 13v2M321 18v2M321 22v1M322 1v1M322 3v1M322 14v1M322 20v1M327 5v1M327 10v1M327 20v1M328 4v1M328 17v1M336 10v2M338 10v1M339 8v1M340 7v2M340 10v1M344 6v2M350 16v1M351 6v1M351 9v2M351 12v3M352 6v1M352 10v1M356 0v1M356 2v1M356 5v1M356 9v1M356 11v1M357 4v5M357 10v2M357 13v1M357 15v1M357 21v1M358 0v1M358 6v1M358 11v2M358 14v1M358 17v1M358 21v1M362 0v1M362 3v1M362 6v1M362 11v1M362 14v1M363 0v1M363 2v1M363 4v1M363 11v1"/><path stroke="#e8e395" d="M8 1v1M8 4v1M8 12v1M18 6v1M18 13v1M19 0v1M19 12v2M25 4v1M31 0v1M31 10v1M31 16v1M31 21v1M32 1v2M32 5v1M32 8v1M32 11v4M32 21v1M35 8v1M36 6v2M40 9v1M41 8v1M41 10v1M42 14v1M48 1v1M48 3v1M48 10v1M49 3v1M49 5v1M49 12v1M49 17v4M50 0v1M50 3v1M50 9v1M50 11v1M50 20v1M50 22v2M53 9v2M54 14v1M55 11v1M56 2v2M56 9v1M57 8v2M59 11v1M62 6v1M63 4v3M63 12v1M64 3v1M64 12v3M65 3v2M65 12v1M65 23v1M66 3v1M66 13v1M66 15v1M67 8v1M70 10v1M75 7v1M78 7v1M79 6v1M80 0v1M80 13v1M80 16v1M80 20v3M81 17v1M82 11v1M82 17v1M82 20v1M84 4v1M85 19v1M86 2v1M86 15v1M86 20v1M87 12v3M87 18v1M87 23v1M88 7v1M88 10v1M96 6v3M97 1v2M97 5v1M97 16v1M97 18v2M97 22v1M98 12v2M98 15v2M98 18v1M99 14v1M99 18v2M99 22v2M103 6v1M103 13v1M103 16v1M105 17v1M109 17v1M110 3v1M110 19v2M110 23v1M111 0v1M111 4v2M111 15v2M111 18v2M111 21v2M112 7v1M112 9v1M112 12v1M113 4v1M113 16v2M114 6v2M114 9v1M115 16v1M117 7v2M117 10v1M125 5v2M125 11v1M140 18v2M152 9v1M152 21v1M153 19v1M154 19v1M172 6v1M184 18v2M238 19v1M239 17v1M240 20v1M241 19v1M242 17v1M243 2v1M243 18v2M243 23v1M244 14v1M244 16v6M245 5v1M245 14v1M245 18v1M246 2v2M246 13v1M246 15v1M246 17v2M246 20v2M246 23v1M247 0v1M248 0v1M248 2v1M256 1v2M256 4v1M257 1v1M258 19v1M263 20v1M265 0v2M265 6v1M265 15v1M266 0v1M274 2v1M274 12v3M274 20v1M274 22v2M275 6v1M275 8v3M276 3v1M280 7v1M280 18v3M281 20v1M284 0v1M293 0v1M293 20v2M298 8v1M303 6v1M303 18v3M304 2v1M304 5v1M304 13v1M304 15v1M304 19v2M304 23v1M305 0v2M305 5v1M305 7v1M305 16v2M305 22v2M310 8v1M311 12v1M314 9v1M315 6v1M315 9v1M318 15v1M320 4v1M321 1v1M321 4v4M321 15v1M321 23v1M322 5v2M322 10v2M322 16v4M322 21v1M325 20v1M326 6v2M327 0v2M327 3v1M327 6v3M327 11v1M327 15v4M327 21v2M328 3v1M328 5v1M328 12v3M328 16v1M328 18v1M328 21v3M331 0v1M331 9v1M332 6v1M332 14v1M336 6v3M339 9v1M339 11v1M340 6v1M340 9v1M340 11v1M344 8v2M344 11v1M351 8v1M351 11v1M351 15v1M352 7v3M356 1v1M356 3v2M356 6v3M356 10v1M357 1v2M357 9v1M357 14v1M357 16v1M357 18v3M357 22v2M358 1v1M358 3v3M358 8v3M358 16v1M358 18v1M358 22v2M359 0v1M362 1v2M362 4v2M362 9v2M363 3v1M363 7v1M363 9v1"/><path stroke="#ece38b" d="M6 6v1M6 8v1M6 11v1M8 0v1M8 2v1M8 6v1M8 10v2M18 7v1M18 10v2M19 18v1M31 7v2M31 11v1M32 0v1M32 6v1M32 9v1M32 15v2M32 20v1M32 23v1M36 11v1M42 12v2M49 0v3M49 6v4M49 11v1M49 23v1M50 8v1M50 10v1M50 18v1M50 21v1M54 13v1M55 8v1M56 8v1M56 10v1M57 10v1M59 7v2M60 7v1M63 7v1M65 5v2M66 4v2M66 12v1M66 14v1M67 7v1M70 8v1M75 8v2M78 8v4M79 4v1M80 1v1M80 12v1M80 17v1M81 0v1M81 2v1M81 16v1M81 19v1M82 1v1M82 3v2M82 7v1M82 12v1M82 23v1M83 1v1M83 4v2M83 13v1M83 15v2M83 20v2M83 23v1M84 0v1M84 18v1M84 20v1M85 17v1M85 20v1M85 23v1M86 3v1M86 5v1M86 13v1M86 16v1M86 19v1M87 4v1M87 6v1M87 11v1M88 8v2M90 0v1M90 2v1M90 5v1M91 0v1M91 18v2M93 17v1M93 19v1M94 1v1M94 21v1M96 9v1M97 0v1M97 6v1M97 11v1M97 13v1M97 15v1M97 20v1M97 23v1M98 3v1M99 12v1M99 15v1M99 20v1M103 7v2M104 0v1M104 17v1M105 0v3M105 16v1M106 0v2M106 3v1M106 23v1M109 1v1M109 16v1M110 16v3M111 3v1M111 12v2M111 20v1M111 23v1M112 6v1M112 10v1M113 15v1M113 23v1M114 8v1M114 11v1M117 9v1M123 17v1M123 20v2M125 0v4M125 7v1M125 10v1M126 17v2M127 19v2M127 23v1M128 0v2M128 17v3M128 21v1M140 0v1M140 17v1M141 18v3M142 19v1M142 21v1M143 18v1M143 21v2M144 22v1M145 19v1M145 22v2M146 19v1M146 21v1M151 18v1M151 20v1M151 23v1M152 2v1M152 6v1M152 10v3M152 22v2M153 7v1M153 10v1M153 17v1M154 18v1M154 23v1M155 19v1M155 21v2M157 19v1M157 23v1M159 18v4M159 23v1M160 0v1M160 19v1M162 18v3M162 22v1M163 18v2M171 20v1M172 9v1M172 18v2M172 21v1M172 23v1M173 20v3M174 19v1M183 17v1M183 19v2M184 16v2M184 20v1M184 23v1M226 23v1M227 21v1M227 23v1M228 9v1M228 20v1M228 22v1M229 17v1M237 18v2M238 18v1M238 21v2M239 16v1M239 18v1M239 20v1M240 17v1M240 22v1M243 0v1M243 5v1M243 16v1M243 21v1M244 12v2M245 6v3M246 0v2M246 7v1M246 12v1M246 14v1M246 19v1M247 1v1M247 4v2M247 16v1M248 1v1M248 23v1M249 16v1M249 23v1M250 18v1M250 22v1M251 0v1M253 0v3M253 19v3M253 23v1M254 19v1M254 21v1M255 0v1M255 3v1M255 16v2M255 20v1M255 22v1M256 0v1M256 20v1M257 0v1M257 3v1M257 5v1M257 18v1M260 23v1M261 17v1M261 20v1M262 22v1M265 2v1M265 7v1M265 17v1M266 1v2M271 1v1M273 6v1M274 0v1M274 4v2M274 9v1M274 11v1M274 21v1M275 7v1M276 2v1M276 7v1M276 10v1M276 23v1M277 1v2M277 17v1M277 19v1M277 23v1M278 4v1M278 18v1M278 20v1M279 0v1M279 20v2M280 2v1M280 6v1M280 21v1M280 23v1M281 17v1M282 6v1M282 8v2M283 21v1M284 19v1M285 19v2M287 3v1M287 6v1M287 17v1M287 20v1M287 22v1M288 6v1M293 7v1M294 6v1M294 9v1M295 1v1M295 18v1M296 13v1M296 17v1M297 3v2M297 12v1M297 17v1M297 19v2M298 1v1M298 6v2M298 9v1M298 14v1M298 17v1M298 20v1M299 17v1M299 22v1M300 1v1M300 17v1M302 0v1M303 0v1M303 2v1M303 4v1M303 22v2M304 12v1M304 16v1M305 2v3M305 14v1M305 19v3M306 21v1M307 1v1M307 3v1M307 17v1M307 22v2M308 0v1M308 19v1M308 22v1M309 1v1M309 4v1M309 16v1M309 20v1M310 7v1M311 0v2M311 3v1M311 6v1M311 13v1M312 6v1M312 9v1M313 7v1M313 12v1M313 19v1M314 3v1M314 12v1M315 7v1M315 14v1M316 14v2M316 21v1M317 9v2M318 1v1M318 7v1M320 0v1M320 16v3M320 21v1M321 0v1M321 3v1M321 9v1M321 12v1M321 16v2M321 20v2M322 0v1M322 2v1M322 7v3M322 13v1M322 15v1M322 22v2M323 3v1M323 6v2M323 11v1M323 16v1M323 20v3M324 2v1M324 6v1M325 1v1M325 15v3M326 21v1M327 2v1M327 4v1M327 12v2M327 19v1M328 0v3M328 6v1M328 9v1M328 15v1M328 19v2M329 2v1M329 6v1M329 8v2M330 0v1M330 5v2M330 18v1M331 7v1M331 12v1M331 22v1M332 5v1M332 8v1M333 6v1M333 8v1M333 14v1M336 9v1M337 9v1M339 6v1M344 10v1M357 0v1M357 12v1M357 17v1M358 2v1M358 7v1M358 13v1M358 15v1M358 19v2M362 7v1M363 1v1M363 6v1M363 10v1"/><path stroke="#efe480" d="M6 7v1M8 3v1M8 5v1M8 7v3M18 9v1M31 6v1M32 10v1M32 17v3M36 10v1M41 9v1M42 6v1M49 4v1M49 10v1M50 6v2M53 8v1M54 6v1M54 12v1M55 7v1M55 10v1M56 5v1M59 9v2M62 7v1M62 11v1M63 11v1M64 5v1M65 7v2M65 10v2M67 10v1M70 9v1M76 9v1M76 11v1M79 5v1M80 4v1M80 19v1M80 23v1M81 1v1M81 4v1M81 15v1M81 21v1M81 23v1M82 2v1M82 5v2M82 9v2M82 13v4M82 18v1M82 21v2M83 0v1M83 3v1M83 17v1M83 19v1M83 22v1M84 1v3M84 5v1M84 17v1M84 19v1M84 22v2M85 1v1M85 16v1M85 18v1M85 21v1M86 0v1M86 4v1M86 12v1M86 17v2M86 22v2M87 7v2M87 10v1M90 7v2M90 15v3M90 19v1M90 21v2M91 1v4M91 16v2M91 20v1M92 19v2M92 22v1M93 22v1M94 0v1M94 17v2M94 23v1M95 0v1M95 3v1M95 14v3M95 21v2M96 10v1M97 9v1M97 14v1M98 7v5M98 14v1M98 22v2M99 0v1M99 13v1M103 10v1M103 12v1M104 15v2M104 18v1M104 21v3M105 5v1M105 22v2M106 2v1M106 18v5M107 18v1M107 20v1M107 22v1M108 19v3M109 0v1M109 4v2M109 12v1M109 15v1M109 18v5M110 1v1M110 13v1M110 22v1M111 1v1M111 8v1M111 11v1M111 14v1M112 8v1M114 10v1M123 1v3M123 16v1M123 18v2M123 22v2M124 0v1M124 6v1M124 8v2M124 11v1M124 16v2M125 8v1M125 16v1M126 1v1M126 19v4M127 0v3M127 16v1M127 18v1M127 21v2M128 2v1M128 20v1M128 22v2M129 1v2M129 18v3M132 17v1M139 2v1M140 20v4M141 1v1M141 16v1M141 21v2M142 1v3M142 18v1M142 20v1M142 23v1M143 1v2M143 19v1M144 19v1M144 21v1M144 23v1M145 18v1M145 20v1M146 20v1M146 22v1M151 0v1M151 2v1M151 21v1M152 1v1M152 3v1M152 7v2M152 13v3M152 17v1M152 19v2M153 0v1M153 8v2M153 15v2M154 1v2M154 20v3M155 18v1M155 20v1M156 0v1M156 18v1M156 21v2M157 0v1M157 18v1M157 20v3M158 2v1M158 18v1M158 23v1M159 22v1M160 2v1M160 20v2M161 18v2M161 22v2M163 20v2M163 23v1M171 17v1M171 23v1M172 3v1M172 7v2M172 11v2M172 22v1M173 18v2M173 23v1M174 18v1M174 20v3M183 16v1M183 18v1M184 21v2M223 18v1M223 20v1M223 22v2M226 18v4M227 19v2M227 22v1M228 7v1M228 18v1M228 21v1M229 0v2M229 3v2M230 20v1M231 19v1M231 21v2M237 20v2M237 23v1M238 20v1M238 23v1M239 22v2M240 19v1M240 23v1M241 20v2M241 23v1M242 16v1M242 20v2M242 23v1M243 3v2M243 7v5M243 14v1M244 6v2M244 9v3M244 15v1M245 12v2M246 4v3M246 9v1M247 2v2M247 18v2M248 21v1M249 0v2M249 18v1M249 22v1M250 17v1M251 1v1M251 3v1M251 20v1M251 23v1M252 18v3M253 3v2M253 16v3M253 22v1M254 0v2M254 18v1M254 20v1M254 22v1M255 1v2M255 4v2M255 15v1M255 18v2M255 21v1M255 23v1M256 3v1M256 5v1M257 2v1M257 4v1M257 17v1M257 22v2M258 0v3M258 18v1M258 21v1M258 23v1M259 18v1M259 20v2M260 18v1M260 20v3M261 1v1M261 18v2M262 18v3M263 19v1M263 23v1M265 5v1M265 16v1M266 3v1M266 6v1M266 12v2M266 17v1M267 18v1M267 20v3M271 2v1M271 17v1M273 2v1M273 13v1M273 15v3M273 20v2M274 7v1M274 15v1M276 0v2M276 5v2M276 9v1M276 16v1M276 20v1M277 0v1M277 4v4M277 14v1M277 16v1M277 20v1M278 0v1M278 2v1M278 19v1M278 21v1M278 23v1M279 1v2M279 6v1M279 16v1M279 23v1M280 1v1M280 3v1M280 5v1M280 8v2M280 11v1M280 15v3M280 22v1M281 1v1M281 3v1M281 7v1M281 14v1M281 16v1M281 23v1M282 1v1M282 5v1M282 20v1M282 22v2M283 17v1M283 23v1M284 1v2M284 4v1M284 18v1M286 1v2M286 6v1M286 17v2M286 21v1M287 0v3M287 4v2M287 7v1M287 11v4M287 18v2M287 21v1M288 4v1M288 13v2M288 17v4M288 22v1M293 1v1M293 3v1M293 6v1M293 8v1M293 23v1M294 0v1M294 2v1M294 7v1M294 10v2M294 17v1M295 0v1M295 2v2M295 5v1M295 20v1M296 0v1M296 2v3M296 6v1M296 16v1M296 22v2M297 0v2M297 5v7M297 14v1M297 21v1M297 23v1M298 4v1M298 16v1M298 18v1M298 21v1M299 2v1M299 6v2M299 11v1M299 16v1M299 23v1M300 0v1M300 3v1M300 6v1M300 13v2M300 18v2M300 23v1M301 1v4M301 17v4M301 23v1M302 1v6M302 17v1M302 19v2M302 23v1M303 1v1M303 3v1M303 15v3M304 3v1M304 6v1M304 21v1M305 6v1M305 9v1M306 0v1M306 2v1M306 6v1M306 8v2M306 15v1M306 17v1M306 19v1M307 2v1M307 4v1M307 6v1M307 14v2M307 18v4M308 1v2M308 4v1M308 6v1M308 20v1M309 2v1M309 5v1M309 8v1M309 12v4M309 18v1M309 23v1M310 0v1M310 4v1M310 11v1M310 14v1M310 16v1M310 21v2M311 2v1M311 4v1M311 7v3M311 15v2M311 19v2M312 0v1M312 4v1M312 7v2M312 18v3M312 22v2M313 3v1M313 5v2M313 8v2M313 13v1M313 15v1M313 17v1M313 21v2M314 0v3M314 4v5M314 10v1M314 15v1M314 17v1M314 20v3M315 1v5M315 8v1M315 12v2M315 15v2M315 19v3M315 23v1M316 0v1M316 2v1M316 7v1M316 12v1M316 17v1M316 19v1M316 22v1M317 3v3M317 8v1M317 11v1M317 13v1M317 15v1M317 17v2M317 21v3M318 0v1M318 3v1M318 6v1M318 8v1M318 12v1M318 16v2M318 19v1M318 23v1M320 1v2M320 6v1M320 13v2M320 20v1M320 22v1M322 4v1M322 12v1M323 0v3M323 4v2M323 8v3M323 12v1M323 14v2M323 17v2M323 23v1M324 7v1M324 13v2M324 16v1M324 20v3M325 0v1M325 3v1M325 14v1M325 18v1M326 0v3M326 9v1M326 11v4M326 16v1M326 18v1M326 22v2M327 23v1M328 8v1M328 11v1M329 4v1M329 11v1M329 17v2M329 21v1M329 23v1M330 1v3M330 7v3M330 11v1M330 14v1M330 16v1M330 23v1M331 1v1M331 3v1M331 6v1M331 8v1M331 13v3M331 19v1M331 23v1M332 4v1M332 7v1M332 10v3M332 15v1M332 18v1M332 21v2M333 2v1M333 7v1M333 9v1M333 13v1M333 15v4M333 20v3M337 8v1M362 8v1"/><path stroke="#f1e076" d="M6 9v2M18 8v1M19 8v1M19 11v1M31 9v1M32 3v2M32 22v1M36 8v2M50 19v1M55 9v1M60 10v2M62 10v1M63 9v1M65 9v1M76 7v2M76 10v1M77 6v1M79 7v1M79 9v3M80 2v2M80 5v1M80 11v1M80 18v1M81 3v1M81 5v1M81 14v1M81 18v1M81 20v1M82 0v1M82 8v1M82 19v1M83 2v1M83 12v1M83 14v1M83 18v1M84 21v1M85 0v1M85 3v1M85 22v1M86 1v1M86 14v1M87 9v1M90 1v1M90 4v1M90 6v1M90 9v6M90 18v1M90 20v1M91 5v1M91 8v1M91 14v2M91 23v1M92 0v1M92 18v1M93 16v1M93 20v2M94 2v2M94 5v1M94 16v1M94 19v2M94 22v1M95 4v1M95 19v1M97 7v2M97 10v1M98 1v2M98 4v3M98 19v2M99 1v4M99 6v1M99 8v2M103 9v1M103 11v1M103 14v1M104 1v5M104 13v2M104 19v1M105 3v2M105 14v2M105 18v3M106 4v2M107 0v1M107 2v1M107 19v1M107 21v1M108 17v2M108 22v2M109 2v2M109 7v1M109 13v2M109 23v1M110 0v1M110 2v1M110 6v1M110 14v1M110 21v1M111 9v2M115 6v1M115 15v1M120 20v1M123 0v1M123 6v1M124 7v1M124 10v1M124 15v1M125 4v1M125 9v1M125 13v1M126 5v1M126 16v1M127 15v1M127 17v1M128 3v3M128 15v2M129 4v1M129 22v2M132 16v1M132 21v1M139 1v1M140 4v1M140 16v1M141 4v1M141 17v1M141 23v1M142 0v1M142 22v1M143 0v1M143 3v1M143 23v1M144 20v1M145 21v1M146 1v1M146 18v1M146 23v1M151 1v1M151 9v1M151 15v1M151 19v1M151 22v1M152 0v1M152 4v2M152 16v1M152 18v1M153 2v1M153 6v1M153 11v1M153 14v1M154 0v1M155 23v1M156 2v2M156 19v2M156 23v1M157 3v1M158 0v2M158 4v1M158 19v4M159 3v2M160 1v1M160 9v1M161 21v1M162 21v1M162 23v1M163 22v1M170 16v1M170 19v1M171 0v3M171 5v1M171 18v1M171 21v2M172 0v1M172 2v1M172 5v1M172 14v4M172 20v1M173 0v2M173 4v2M173 9v1M173 11v1M174 6v1M174 23v1M181 20v1M183 21v3M184 0v1M187 18v1M187 21v1M196 17v3M196 22v1M201 17v1M204 17v1M205 16v2M205 21v3M208 18v3M222 17v1M223 1v1M223 19v1M223 21v1M224 3v1M224 18v2M224 23v1M225 1v1M225 23v1M226 22v1M227 18v1M228 1v1M228 8v1M228 10v1M228 12v1M228 19v1M228 23v1M229 5v1M230 1v1M230 3v1M230 15v5M231 20v1M231 23v1M232 22v1M237 16v2M237 22v1M238 17v1M239 15v1M239 19v1M239 21v1M240 16v1M240 18v1M240 21v1M241 16v3M241 22v1M242 19v1M242 22v1M243 6v1M243 12v1M243 15v1M243 17v1M244 8v1M245 9v3M246 8v1M246 10v2M247 13v2M247 17v1M247 21v2M248 4v1M248 16v2M248 19v2M249 2v1M249 4v1M249 19v3M250 1v2M250 4v1M250 21v1M251 2v1M251 4v1M251 17v3M251 21v2M252 1v1M252 21v1M253 5v1M253 7v1M253 15v1M254 2v3M254 17v1M254 23v1M255 6v1M256 16v1M256 19v1M256 21v2M257 7v2M257 19v3M258 20v1M259 0v1M259 19v1M259 22v2M260 0v1M260 16v2M260 19v1M261 0v1M261 2v2M261 21v2M262 1v1M262 23v1M263 1v1M263 18v1M263 21v2M264 1v1M265 3v2M265 8v1M265 12v1M265 14v1M265 21v1M265 23v1M266 9v1M266 14v1M266 16v1M266 18v1M266 20v4M267 1v2M267 23v1M268 2v1M268 21v1M268 23v1M269 0v1M269 19v3M271 0v1M271 21v1M272 1v2M273 1v1M273 3v1M273 5v1M273 7v4M273 14v1M273 18v2M273 22v1M274 6v1M274 8v1M276 4v1M276 8v1M276 11v1M276 13v1M276 22v1M277 3v1M277 8v1M277 10v1M277 12v2M277 15v1M277 18v1M277 21v2M278 1v1M278 5v2M279 4v1M279 7v1M279 12v4M279 17v1M279 19v1M279 22v1M280 0v1M280 10v1M281 0v1M281 2v1M281 9v1M281 13v1M281 15v1M281 18v2M281 21v1M282 0v1M282 7v1M282 10v1M282 12v2M282 15v4M282 21v1M283 0v2M283 4v1M283 18v1M283 20v1M283 22v1M284 3v1M284 6v1M284 20v4M285 16v1M285 22v1M286 0v1M286 3v3M286 19v1M286 22v2M287 9v2M287 15v2M287 23v1M288 0v1M288 2v2M288 7v3M288 15v1M288 23v1M293 2v1M293 4v2M293 9v1M294 1v1M294 3v1M294 5v1M294 8v1M294 12v1M294 14v1M294 18v1M294 20v1M294 23v1M295 4v1M295 6v1M295 19v1M295 21v1M295 23v1M296 14v1M296 19v3M297 2v1M297 13v1M297 15v2M297 18v1M297 22v1M298 0v1M298 2v2M298 10v4M298 15v1M298 22v2M299 1v1M299 3v1M299 14v1M299 18v2M299 21v1M300 4v2M300 7v1M300 12v1M300 15v2M300 20v3M301 0v1M301 5v3M301 16v1M301 21v2M302 16v1M302 18v1M302 21v2M303 12v1M304 8v3M305 8v1M305 10v2M306 1v1M306 4v2M306 7v1M306 10v1M306 12v2M306 16v1M306 22v2M307 0v1M307 12v2M308 3v1M308 5v1M308 16v1M308 18v1M308 23v1M309 3v1M309 6v2M309 9v1M309 17v1M309 19v1M309 21v1M310 1v3M310 6v1M310 9v2M310 12v2M310 17v4M310 23v1M311 5v1M311 10v2M311 18v1M311 21v3M312 1v1M312 10v8M312 21v1M313 0v1M313 2v1M313 10v1M313 23v1M314 11v1M314 13v2M315 0v1M315 10v2M315 17v2M315 22v1M316 3v3M316 13v1M316 16v1M316 18v1M316 23v1M317 0v3M317 6v2M317 12v1M317 19v2M318 2v1M318 9v1M318 13v2M318 18v1M318 20v3M319 3v3M319 7v3M319 15v1M320 3v1M320 12v1M320 15v1M320 19v1M320 23v1M321 8v1M321 10v1M323 13v1M323 19v1M324 0v2M324 5v1M324 12v1M324 15v1M324 17v3M324 23v1M325 4v3M325 8v1M325 19v1M325 21v1M325 23v1M326 3v3M326 8v1M326 10v1M326 15v1M326 17v1M326 19v2M327 14v1M328 7v1M329 3v1M329 5v1M329 7v1M329 16v1M329 19v2M329 22v1M330 4v1M330 10v1M330 12v1M330 15v1M330 17v1M330 19v4M331 2v1M331 4v2M331 10v2M331 16v2M331 20v2M332 0v4M332 9v1M332 13v1M332 16v2M332 19v2M333 0v1M333 3v3M333 11v1M333 19v1M333 23v1M337 7v1"/><path stroke="#f0d96c" d="M32 7v1M42 7v1M60 8v2M62 8v2M63 8v1M63 10v1M66 6v1M79 8v1M80 6v2M81 12v2M81 22v1M83 6v1M84 6v1M84 15v2M85 2v1M85 4v1M85 15v1M86 6v2M86 10v1M86 21v1M90 23v1M91 6v1M91 10v1M91 12v2M91 21v2M92 3v1M92 21v1M92 23v1M93 18v1M93 23v1M94 4v1M94 15v1M95 1v1M95 5v1M95 13v1M95 18v1M95 20v1M95 23v1M98 0v1M98 21v1M99 5v1M104 7v1M104 10v1M104 12v1M104 20v1M105 12v1M105 21v1M106 16v1M107 1v1M107 17v1M107 23v1M109 6v1M109 8v3M110 12v1M110 15v1M111 6v2M113 12v1M115 14v1M120 18v2M120 21v1M120 23v1M121 22v1M122 23v1M123 4v2M123 8v2M123 15v1M124 1v1M124 3v2M124 13v1M125 14v2M125 17v1M126 0v1M126 3v2M126 9v1M126 12v4M127 3v2M127 14v1M128 11v1M128 14v1M129 0v1M129 3v1M129 21v1M131 21v1M132 18v3M132 22v2M133 17v1M133 21v2M134 21v1M139 3v1M139 16v3M139 22v1M140 1v2M141 0v1M141 2v1M141 6v1M141 8v2M141 11v3M141 15v1M143 4v1M143 20v1M144 0v2M144 4v1M144 18v1M145 2v1M146 0v1M146 2v1M147 20v2M147 23v1M148 21v1M149 19v1M151 3v3M151 8v1M151 17v1M153 1v1M153 3v1M153 5v1M153 13v1M154 3v4M154 15v1M154 17v1M155 0v1M156 1v1M156 16v2M157 2v1M157 4v1M157 15v3M158 3v1M158 5v1M159 0v3M159 16v2M160 3v1M160 5v1M160 10v1M160 18v1M160 22v2M161 16v1M164 18v1M165 18v1M168 2v1M168 15v1M168 17v2M168 21v2M169 18v1M169 22v1M170 0v1M170 2v1M170 15v1M170 17v1M170 20v3M171 3v1M171 15v1M171 19v1M172 1v1M172 4v1M172 10v1M172 13v1M173 2v2M173 6v1M173 8v1M173 10v1M173 17v1M174 11v1M174 16v2M175 18v1M176 18v1M180 7v1M180 15v2M180 21v1M181 22v2M183 0v2M184 2v2M184 12v1M184 14v2M186 19v4M187 19v2M187 22v1M194 0v1M194 18v3M196 16v1M196 20v2M196 23v1M199 21v1M201 19v4M205 0v1M205 2v1M205 4v1M205 14v2M205 18v3M207 20v1M207 23v1M208 16v2M208 21v3M217 22v1M220 19v1M222 15v2M222 18v1M222 23v1M223 0v1M223 2v1M224 0v1M224 20v3M225 0v1M225 2v1M225 18v5M226 0v1M226 17v1M228 0v1M228 2v1M228 6v1M228 16v1M229 2v1M229 9v3M229 14v1M230 0v1M230 2v1M230 22v2M231 17v2M236 0v1M236 22v1M237 0v1M238 16v1M239 0v3M239 14v1M240 15v1M241 0v2M242 18v1M243 13v1M247 15v1M247 20v1M247 23v1M248 5v1M248 18v1M249 3v1M249 15v1M249 17v1M250 0v1M250 16v1M250 19v2M251 5v1M252 0v1M252 2v1M252 4v1M252 22v2M253 6v1M253 9v1M254 5v1M254 16v1M255 7v3M255 12v1M255 14v1M256 6v1M256 17v2M257 6v1M257 16v1M258 16v1M258 22v1M260 1v2M261 23v1M262 17v1M262 21v1M263 2v1M264 0v1M264 3v1M264 17v1M264 19v1M265 13v1M265 18v2M265 22v1M266 4v2M266 7v2M266 15v1M267 0v1M267 3v2M267 19v1M268 0v2M268 3v1M268 18v3M268 22v1M269 2v1M269 22v1M270 0v3M270 18v4M271 5v1M272 15v3M273 4v1M273 11v2M273 23v1M274 10v1M276 12v1M276 14v2M276 17v3M276 21v1M277 9v1M277 11v1M278 3v1M278 8v1M278 16v1M278 22v1M279 3v1M279 5v1M279 9v1M279 18v1M280 4v1M280 12v3M281 4v1M281 6v1M281 8v1M281 11v2M281 22v1M282 2v3M282 14v1M282 19v1M283 2v2M283 5v2M283 19v1M284 5v1M284 17v1M285 0v2M285 6v1M285 18v1M285 23v1M286 20v1M288 5v1M288 11v2M288 16v1M293 10v2M294 16v1M294 19v1M294 21v2M295 14v1M295 22v1M296 1v1M296 5v1M296 7v3M296 12v1M296 15v1M296 18v1M298 5v1M298 19v1M299 0v1M299 4v2M299 8v1M299 12v2M299 15v1M299 20v1M300 2v1M300 8v2M302 14v2M303 5v1M303 7v1M303 11v1M303 14v1M304 7v1M304 11v1M306 3v1M306 14v1M306 18v1M306 20v1M307 7v1M307 11v1M307 16v1M308 15v1M308 17v1M308 21v1M309 0v1M309 22v1M310 5v1M310 15v1M311 14v1M312 2v2M312 5v1M313 1v1M313 14v1M313 16v1M313 18v1M313 20v1M314 16v1M314 18v2M314 23v1M316 1v1M316 9v1M317 14v1M318 4v2M318 10v2M319 2v1M319 6v1M319 10v1M319 12v3M319 18v2M320 5v1M320 7v1M321 11v1M324 3v2M324 8v2M324 11v1M325 2v1M325 9v1M325 12v2M325 22v1M328 10v1M329 0v2M329 10v1M329 12v1M329 14v2M330 13v1M331 18v1M332 23v1M333 1v1M333 10v1M333 12v1M337 6v1M337 10v2"/><path stroke="#f0d262" d="M19 6v2M19 9v2M42 11v1M54 8v1M54 11v1M64 6v1M77 11v1M80 8v3M84 13v1M85 5v1M85 13v1M86 8v2M86 11v1M90 3v1M91 11v1M92 1v2M92 16v2M93 15v1M95 2v1M95 11v2M99 7v1M99 10v2M104 6v1M104 9v1M105 13v1M106 17v1M107 3v2M108 0v2M108 16v1M109 11v1M110 4v2M113 6v1M113 13v2M115 7v1M115 11v1M115 13v1M120 22v1M121 20v1M122 20v2M123 10v1M123 12v3M124 2v1M124 5v1M124 12v1M124 14v1M125 12v1M126 2v1M126 6v1M126 8v1M126 11v1M126 23v1M127 5v3M127 13v1M128 6v1M128 8v2M128 12v2M131 1v1M131 18v3M131 22v2M132 0v1M132 15v1M133 16v1M133 19v2M134 18v1M134 22v1M138 18v1M138 21v1M139 0v1M139 4v1M139 15v1M139 19v3M139 23v1M140 3v1M140 5v1M140 12v1M140 15v1M141 3v1M141 7v1M141 14v1M142 4v1M142 15v3M143 5v1M143 16v2M144 2v1M144 17v1M145 0v2M146 3v1M146 17v1M147 19v1M147 22v1M148 18v3M149 18v1M149 20v1M149 22v2M150 0v1M151 6v2M151 10v2M153 4v1M153 12v1M154 9v1M154 11v1M154 16v1M155 1v1M156 4v2M157 1v1M157 5v2M157 8v2M157 14v1M159 5v5M159 11v1M159 15v1M160 4v1M160 6v1M160 8v1M161 17v1M161 20v1M162 0v1M163 16v2M165 19v5M168 0v1M168 19v2M168 23v1M169 1v1M169 16v1M169 20v2M169 23v1M170 3v3M170 7v1M170 11v3M170 23v1M171 4v1M171 6v1M171 12v1M173 7v1M174 0v3M174 7v2M174 10v1M174 15v1M175 20v1M176 17v1M176 21v3M180 13v2M180 17v4M180 22v2M181 17v1M181 19v1M181 21v1M182 20v1M182 22v1M183 2v1M183 15v1M184 1v1M184 4v2M184 13v1M186 17v2M186 23v1M187 16v2M187 23v1M194 2v1M194 21v3M195 19v2M196 15v1M197 21v1M198 18v1M199 18v2M200 21v1M200 23v1M201 16v1M201 18v1M201 23v1M202 19v1M202 22v1M203 18v1M204 15v1M205 1v1M205 3v1M205 5v1M206 19v1M206 21v1M207 17v1M207 19v1M208 14v1M217 16v2M217 19v3M217 23v1M218 20v2M220 20v2M222 0v1M224 1v2M224 4v3M224 16v1M225 3v2M225 16v2M227 17v1M228 11v1M228 13v3M228 17v1M229 6v3M229 13v1M229 16v1M230 4v2M230 13v2M230 21v1M231 16v1M232 17v1M232 19v2M234 16v1M236 17v1M237 1v3M238 1v1M238 3v1M238 14v2M239 3v2M239 13v1M240 0v1M241 15v1M247 7v4M248 22v1M249 5v1M250 3v1M250 15v1M250 23v1M251 16v1M252 3v1M252 17v1M253 8v1M253 14v1M255 13v1M256 9v1M256 23v1M257 9v1M257 15v1M258 3v2M258 6v1M258 17v1M259 1v2M259 17v1M260 3v2M261 4v1M261 9v1M261 16v1M263 0v1M263 17v1M264 2v1M264 4v2M264 14v1M264 18v1M264 20v1M264 22v2M265 9v1M265 20v1M266 19v1M267 5v1M267 7v1M267 16v2M268 4v1M268 8v1M269 1v1M269 5v1M269 18v1M269 23v1M270 3v2M270 15v3M270 22v2M271 3v1M271 15v1M271 18v3M272 0v1M272 19v1M272 23v1M273 0v1M278 12v1M278 17v1M279 8v1M281 5v1M282 11v1M283 9v1M284 15v2M285 2v2M285 17v1M285 21v1M286 7v2M286 12v1M286 14v1M286 16v1M288 1v1M288 21v1M294 4v1M294 13v1M294 15v1M295 7v2M295 11v3M295 15v1M295 17v1M296 11v1M299 9v1M300 10v2M301 8v1M301 13v1M301 15v1M302 7v1M302 12v1M303 8v2M303 13v1M306 11v1M307 5v1M307 9v1M308 7v3M308 13v2M309 10v1M311 17v1M313 4v1M316 6v1M316 8v1M316 11v1M316 20v1M317 16v1M319 0v2M319 11v1M319 17v1M319 20v1M319 22v2M320 8v2M320 11v1M324 10v1M325 7v1M325 11v1M329 13v1"/><path stroke="#f0cb58" d="M42 8v1M54 7v1M66 11v1M77 7v1M81 6v1M81 9v1M81 11v1M83 8v2M83 11v1M84 12v1M84 14v1M85 14v1M91 7v1M92 4v1M95 7v1M104 8v1M104 11v1M105 10v2M107 5v1M107 16v1M108 2v2M108 5v1M110 8v2M113 7v1M113 11v1M115 12v1M121 18v2M121 23v1M122 0v1M122 16v4M123 7v1M126 7v1M126 10v1M127 8v5M128 7v1M128 10v1M129 5v1M129 16v2M130 0v1M130 20v1M131 17v1M132 1v1M132 12v3M133 15v1M133 23v1M134 16v1M134 19v1M134 23v1M138 20v1M138 23v1M139 5v1M139 14v1M140 6v1M140 13v2M141 5v1M141 10v1M144 3v1M145 17v1M146 5v1M146 16v1M147 0v2M147 16v3M148 16v1M148 22v2M149 0v1M149 21v1M150 1v1M150 3v1M150 22v1M151 14v1M151 16v1M154 7v2M154 13v2M155 2v1M155 15v1M156 6v1M157 7v1M157 10v1M157 12v1M158 9v1M158 17v1M159 10v1M159 13v1M160 7v1M160 11v1M160 16v2M161 0v2M162 17v1M163 15v1M164 17v1M164 20v1M164 22v1M165 0v1M165 2v1M166 18v1M166 20v1M166 23v1M168 1v1M168 3v2M168 8v1M168 16v1M169 14v2M169 17v1M169 19v1M170 1v1M170 10v1M170 14v1M170 18v1M171 7v3M171 13v1M171 16v1M173 12v1M173 14v3M174 3v2M174 9v1M174 13v2M175 19v1M176 19v2M178 23v1M179 16v7M180 2v1M180 6v1M180 12v1M181 18v1M183 3v1M183 13v2M184 6v1M185 21v1M187 15v1M188 18v1M188 22v1M194 1v1M194 3v1M195 21v2M196 2v1M197 19v1M198 3v1M198 19v1M198 21v2M199 16v2M199 20v1M199 23v1M200 19v1M200 22v1M202 23v1M203 0v1M203 19v1M203 21v3M204 16v1M204 18v1M205 8v1M205 12v2M206 0v1M206 18v1M206 20v1M206 22v1M207 21v2M208 0v3M208 12v1M217 0v2M217 15v1M218 19v1M218 22v1M220 16v2M220 22v2M221 19v2M222 2v1M222 5v1M222 19v4M223 3v2M223 6v1M223 8v1M223 15v3M224 15v1M224 17v1M225 5v1M227 0v1M227 16v1M228 4v2M229 12v1M229 15v1M230 9v1M230 12v1M231 0v1M231 2v1M232 1v1M232 18v1M233 2v1M234 3v1M234 15v1M234 17v1M236 1v1M236 16v1M236 18v2M236 23v1M237 15v1M238 6v1M239 6v1M239 12v1M240 12v3M241 2v1M242 0v1M242 12v1M242 14v2M247 6v1M247 11v2M248 15v1M249 10v1M249 12v1M250 14v1M251 15v1M252 5v1M255 10v2M256 8v1M256 12v1M257 10v2M257 13v2M258 5v1M258 7v1M258 15v1M259 3v1M260 5v2M260 8v1M261 5v1M262 0v1M263 16v1M264 6v1M264 15v2M265 11v1M266 10v2M267 6v1M268 5v3M268 17v1M269 3v2M269 17v1M270 5v1M271 4v1M271 16v1M272 4v2M272 8v1M272 12v1M272 20v2M278 7v1M278 9v1M278 13v3M279 10v2M281 10v1M283 8v1M283 14v3M284 7v1M284 12v2M285 4v2M286 9v1M286 11v1M286 15v1M288 10v1M295 9v1M295 16v1M296 10v1M299 10v1M301 9v1M301 11v2M301 14v1M302 13v1M307 8v1M308 10v3M309 11v1M313 11v1M319 16v1M319 21v1"/><path stroke="#efc34e" d="M42 10v1M54 10v1M64 7v1M64 11v1M77 8v1M83 10v1M85 6v1M85 12v1M91 9v1M92 5v1M93 0v1M93 14v1M94 12v1M94 14v1M95 8v3M105 6v4M106 14v2M107 15v1M110 7v1M110 11v1M113 8v1M113 10v1M115 8v2M120 17v1M121 17v1M121 21v1M122 15v1M122 22v1M123 11v1M130 1v1M130 21v1M130 23v1M131 0v1M131 2v1M131 16v1M132 2v1M133 18v1M134 17v1M134 20v1M135 19v1M136 21v1M138 17v1M138 19v1M138 22v1M139 12v2M140 7v3M142 5v1M142 14v1M144 16v1M145 3v1M145 16v1M146 4v1M147 2v1M147 14v1M148 0v1M148 17v1M149 1v1M149 16v2M150 4v2M150 17v5M150 23v1M151 12v2M154 10v1M154 12v1M155 4v1M155 16v2M156 12v1M156 15v1M157 13v1M158 16v1M159 12v1M159 14v1M160 12v4M161 3v1M162 1v2M162 4v2M163 1v3M164 16v1M164 21v1M164 23v1M165 1v1M165 4v1M166 21v2M167 19v1M168 5v1M168 12v1M169 0v1M169 2v3M169 12v1M170 6v1M170 8v2M171 10v2M171 14v1M174 5v1M175 22v1M178 21v1M179 23v1M180 0v2M180 3v1M180 8v4M181 15v2M182 0v1M182 18v2M182 21v1M182 23v1M183 4v2M183 7v2M183 10v1M183 12v1M185 18v1M186 16v1M188 19v2M189 18v5M195 0v1M195 23v1M196 0v2M196 4v1M196 10v2M196 14v1M197 16v2M197 20v1M197 23v1M198 0v3M198 17v1M198 20v1M199 22v1M200 17v2M201 1v2M201 14v2M202 16v2M202 20v2M203 2v2M203 16v2M204 21v1M206 1v1M206 3v1M206 23v1M207 15v2M207 18v1M208 3v2M208 13v1M208 15v1M211 17v1M211 19v2M211 22v2M217 2v3M217 14v1M217 18v1M218 17v2M219 17v2M219 22v1M220 1v1M220 15v1M220 18v1M221 16v2M221 21v1M221 23v1M222 3v1M222 14v1M223 5v1M223 9v1M224 8v1M224 11v2M225 7v2M225 14v1M226 1v2M227 1v1M228 3v1M230 8v1M232 0v1M232 16v1M232 21v1M232 23v1M233 19v2M234 0v3M234 4v2M234 14v1M234 18v2M234 21v1M235 19v1M235 21v1M235 23v1M236 2v2M236 15v1M236 20v2M237 5v1M237 14v1M238 0v1M238 7v1M238 9v1M238 12v2M239 5v1M239 7v1M240 1v5M241 3v2M241 14v1M242 1v1M249 7v3M249 11v1M249 13v2M250 5v1M250 13v1M252 16v1M253 10v4M254 7v1M254 15v1M256 7v1M256 10v1M257 12v1M258 8v1M258 12v1M259 4v3M259 16v1M260 7v1M260 14v2M261 6v2M261 15v1M262 2v2M262 5v1M262 16v1M263 5v1M264 7v2M264 13v1M265 10v1M267 8v2M268 9v1M268 16v1M270 7v1M270 13v1M271 6v1M271 9v1M271 14v1M271 22v2M272 3v1M272 13v1M272 18v1M272 22v1M278 11v1M283 7v1M283 12v2M284 8v1M284 14v1M285 15v1M286 10v1M286 13v1M295 10v1M302 9v1M302 11v1M303 10v1M325 10v1"/><path stroke="#eebb47" d="M54 9v1M64 8v3M66 7v1M77 10v1M81 10v1M83 7v1M84 11v1M92 15v1M93 1v5M93 12v2M94 6v2M95 6v1M106 6v1M106 12v1M107 14v1M108 4v1M108 14v2M113 9v1M115 10v1M120 0v1M120 16v1M121 0v2M121 16v1M122 1v3M130 18v1M131 4v2M132 3v3M133 14v1M134 15v1M135 23v1M136 18v2M136 23v1M139 6v1M140 10v2M142 6v1M142 13v1M144 5v1M144 15v1M145 4v1M146 15v1M147 3v4M147 15v1M148 2v1M148 4v3M148 14v1M149 2v2M150 2v1M150 16v1M155 3v1M155 5v2M155 10v1M156 7v1M156 9v1M156 13v2M157 11v1M158 6v2M158 10v1M161 2v1M162 3v1M162 16v1M163 0v1M163 4v1M163 12v2M164 1v2M164 19v1M165 3v1M165 9v1M165 16v2M166 19v1M167 0v1M167 17v1M167 21v1M168 6v2M168 13v2M169 5v2M169 8v2M173 13v1M174 12v1M175 21v1M175 23v1M176 16v1M178 17v2M178 20v1M178 22v1M179 14v1M180 4v2M181 0v1M181 2v1M182 4v1M183 6v1M183 9v1M183 11v1M184 9v3M185 23v1M186 0v2M187 0v2M188 21v1M188 23v1M189 23v1M190 22v1M191 21v1M192 18v1M192 22v2M193 19v4M194 4v2M195 1v2M195 16v3M196 3v1M196 5v1M196 7v1M196 12v2M197 22v1M198 4v2M198 16v1M198 23v1M199 0v2M200 20v1M201 3v4M201 11v2M203 1v1M203 5v1M203 14v1M204 19v2M204 23v1M205 6v2M205 9v1M205 11v1M206 2v1M206 5v1M206 16v2M208 5v4M209 16v1M209 19v1M209 21v3M210 23v1M211 21v1M217 5v1M218 16v1M218 23v1M219 16v1M219 19v1M220 0v1M220 2v1M220 4v1M221 22v1M222 1v1M222 13v1M223 7v1M223 11v1M223 13v2M224 7v1M224 9v1M224 13v2M225 13v1M225 15v1M226 4v1M226 16v1M227 2v2M230 6v2M231 3v1M231 5v1M231 14v1M232 3v1M232 15v1M233 0v2M233 16v2M233 21v1M234 8v1M234 12v1M234 20v1M234 22v2M235 17v2M235 20v1M235 22v1M236 4v2M236 14v1M237 4v1M237 6v2M237 13v1M238 2v1M238 8v1M239 8v1M239 11v1M240 6v2M240 9v1M241 5v1M242 2v1M242 5v1M242 13v1M249 6v1M250 6v1M250 10v1M250 12v1M251 14v1M254 6v1M254 8v1M256 15v1M258 9v1M258 14v1M259 14v2M260 9v1M260 12v2M261 8v1M261 11v1M261 13v2M262 15v1M263 3v2M263 6v2M263 15v1M264 9v1M264 11v1M264 21v1M267 10v1M267 13v1M268 15v1M269 16v1M270 6v1M270 8v1M270 12v1M270 14v1M271 7v1M271 13v1M272 6v2M272 14v1M278 10v1M283 11v1M284 9v1M284 11v1M285 7v1M285 11v2M285 14v1M301 10v1M302 8v1M307 10v1M316 10v1M320 10v1"/><path stroke="#edb341" d="M66 10v1M77 9v1M81 7v2M85 11v1M92 13v1M93 6v1M94 9v3M94 13v1M106 11v1M106 13v1M107 6v1M107 13v1M108 6v1M108 11v1M108 13v1M110 10v1M120 1v2M122 5v1M129 15v1M130 2v2M130 19v1M131 3v1M131 14v2M132 6v1M132 8v1M132 10v1M135 18v1M136 20v1M136 22v1M137 22v1M138 13v1M138 16v1M139 8v2M142 10v2M143 15v1M145 14v2M146 11v1M147 13v1M148 3v1M148 13v1M148 15v1M149 15v1M150 15v1M155 7v2M156 8v1M156 11v1M158 8v1M158 11v2M158 15v1M161 15v1M162 15v1M163 5v2M163 11v1M163 14v1M164 0v1M164 5v1M164 12v4M165 5v2M165 8v1M165 15v1M167 1v2M167 18v1M167 20v1M167 22v2M168 9v2M169 7v1M169 10v1M169 13v1M175 0v1M175 2v2M177 19v1M177 21v1M178 15v2M178 19v1M179 0v1M179 2v1M179 6v2M179 9v1M179 13v1M179 15v1M181 1v1M182 1v3M182 5v1M182 15v1M184 7v2M185 16v2M185 19v2M185 22v1M186 2v2M187 2v2M187 11v1M189 0v1M189 17v1M190 18v1M190 21v1M191 23v1M192 19v3M193 18v1M193 23v1M195 3v1M196 6v1M196 9v1M197 0v1M197 14v1M197 18v1M198 14v1M199 2v1M199 4v1M199 14v2M201 0v1M201 7v2M202 18v1M203 4v1M203 20v1M204 14v1M204 22v1M205 10v1M206 4v1M206 6v1M207 0v2M207 12v1M207 14v1M208 9v3M209 18v1M209 20v1M210 16v2M210 19v1M210 22v1M211 1v1M211 16v1M211 18v1M216 1v1M216 18v1M216 22v1M217 6v1M217 12v2M218 1v1M218 14v1M219 20v1M219 23v1M220 3v1M221 0v1M221 2v2M221 5v1M221 15v1M221 18v1M222 4v1M222 12v1M223 12v1M224 10v1M225 10v3M226 3v1M230 10v2M231 1v1M231 8v1M231 15v1M232 4v1M232 12v3M233 3v1M233 5v1M233 18v1M233 23v1M234 6v2M234 9v2M234 13v1M235 15v2M236 13v1M237 8v2M237 11v2M238 4v2M238 10v2M239 9v2M240 8v1M241 12v2M242 3v2M242 6v2M248 12v1M250 8v1M251 7v3M252 15v1M254 9v1M254 12v1M254 14v1M256 11v1M256 13v2M258 10v2M259 7v3M260 10v2M261 12v1M262 4v1M262 8v1M262 14v1M263 8v2M263 14v1M264 12v1M267 11v2M267 14v2M268 10v2M268 14v1M269 6v1M269 9v1M270 9v1M271 8v1M271 11v2M272 9v1M283 10v1M285 13v1M302 10v1"/><path stroke="#ebaa3b" d="M42 9v1M66 9v1M84 7v3M85 7v1M92 6v1M92 12v1M92 14v1M93 8v1M106 7v1M106 9v2M107 7v1M107 9v1M107 12v1M108 12v1M120 3v1M120 14v2M121 2v1M122 4v1M122 13v1M129 8v1M130 4v2M130 17v1M130 22v1M131 7v1M131 9v2M131 13v1M132 7v1M132 9v1M132 11v1M133 2v1M133 12v2M134 0v2M134 6v2M134 12v3M135 20v2M136 2v1M136 17v1M137 23v1M138 1v1M138 14v2M139 7v1M139 10v1M142 7v3M142 12v1M143 7v1M144 9v2M144 13v1M145 5v1M145 7v1M145 11v1M146 7v1M146 12v3M147 7v2M147 10v3M148 1v1M148 7v6M149 4v1M150 13v2M155 9v1M155 11v1M156 10v1M161 4v1M162 13v2M163 7v4M164 3v2M164 6v1M165 7v1M165 10v2M166 17v1M167 3v3M167 16v1M168 11v1M169 11v1M175 1v1M175 5v1M175 17v1M176 0v3M176 5v1M176 15v1M177 1v2M177 4v1M177 16v3M177 22v1M179 3v1M179 12v1M181 3v1M181 5v2M181 13v2M182 6v4M182 13v2M182 17v1M185 0v1M185 2v1M186 4v1M186 8v1M186 14v2M187 4v1M187 6v1M187 12v1M187 14v1M188 16v2M189 16v1M190 17v1M190 19v2M190 23v1M191 16v1M191 18v3M191 22v1M193 0v4M193 17v1M194 16v2M195 4v1M196 8v1M197 2v2M197 6v1M198 10v1M198 13v1M198 15v1M199 3v1M199 5v1M199 12v2M200 1v1M200 16v1M201 10v1M201 13v1M202 0v1M202 2v1M202 15v1M203 13v1M203 15v1M204 0v1M204 12v2M206 8v1M206 11v1M206 14v2M207 2v1M207 4v1M207 8v1M207 10v2M209 1v1M209 15v1M209 17v1M210 18v1M210 20v2M211 0v1M216 17v1M216 19v1M218 0v1M218 2v2M218 5v1M218 15v1M219 0v1M219 2v2M219 21v1M220 5v1M220 12v1M220 14v1M221 1v1M221 4v1M221 14v1M222 6v1M223 10v1M225 6v1M225 9v1M226 5v1M226 15v1M227 4v2M227 15v1M231 4v1M231 9v1M231 12v1M232 2v1M232 5v1M232 7v1M233 4v1M233 13v3M233 22v1M234 11v1M235 0v2M236 12v1M237 10v1M240 11v1M241 11v1M242 11v1M248 10v1M248 14v1M250 7v1M250 9v1M250 11v1M251 6v1M251 10v4M252 7v1M252 13v2M254 11v1M254 13v1M258 13v1M263 12v1M264 10v1M268 12v2M269 8v1M269 13v1M269 15v1M270 10v2M272 11v1M284 10v1M285 8v1M285 10v1"/><path stroke="#eaa235" d="M66 8v1M84 10v1M85 10v1M92 8v4M93 7v1M94 8v1M106 8v1M107 8v1M107 10v1M108 7v1M120 4v3M120 8v1M120 13v1M121 14v2M122 12v1M129 7v1M130 13v1M130 16v1M131 8v1M131 11v2M133 0v2M133 4v1M134 2v2M134 8v3M135 22v1M136 0v2M136 16v1M137 19v1M138 0v1M138 6v1M139 11v1M143 6v1M143 8v2M143 11v1M143 13v2M144 6v2M144 11v1M144 14v1M145 6v1M145 8v2M145 12v2M146 6v1M146 8v2M147 9v1M149 5v1M149 13v1M150 6v4M155 13v2M158 13v2M161 5v1M161 14v1M162 6v4M164 7v2M164 11v1M166 0v2M166 16v1M167 15v1M175 4v1M175 7v3M175 11v1M175 16v1M176 3v2M176 9v1M177 0v1M177 3v1M177 5v1M177 15v1M177 20v1M177 23v1M178 2v1M178 6v2M178 9v1M178 13v2M179 1v1M179 4v2M179 8v1M179 11v1M181 8v2M181 11v2M182 10v1M182 12v1M182 16v1M185 1v1M185 3v1M185 5v1M185 13v1M185 15v1M186 5v1M186 7v1M186 9v4M187 5v1M187 8v1M189 1v2M190 16v1M191 17v1M192 17v1M193 16v1M194 15v1M195 5v2M195 12v4M197 1v1M197 4v1M197 7v1M197 12v1M197 15v1M198 7v1M198 9v1M198 12v1M199 6v3M200 0v1M200 15v1M201 9v1M202 1v1M202 6v1M202 12v1M202 14v1M203 6v1M203 8v1M204 1v3M206 7v1M206 12v2M207 3v1M207 6v2M207 9v1M207 13v1M209 0v1M209 2v3M210 0v2M210 12v1M210 14v1M211 2v3M211 12v1M211 14v2M212 0v5M212 15v3M214 18v1M214 23v1M215 1v1M215 21v1M216 0v1M216 4v1M216 15v2M216 20v2M216 23v1M217 7v5M218 4v1M218 12v1M219 1v1M219 14v2M221 12v1M222 8v3M226 14v1M227 8v1M231 6v2M231 10v1M231 13v1M232 6v1M232 8v2M232 11v1M233 7v1M233 12v1M235 2v2M236 8v1M240 10v1M241 6v1M241 10v1M242 8v1M242 10v1M248 7v1M248 9v1M248 13v1M252 6v1M252 8v3M252 12v1M254 10v1M259 10v3M261 10v1M262 6v1M262 11v3M263 10v1M263 13v1M269 7v1M269 10v1M269 14v1M272 10v1"/><path stroke="#e99930" d="M85 8v1M92 7v1M93 9v3M108 8v3M120 11v1M121 3v2M122 7v1M122 14v1M129 6v1M129 11v1M129 13v2M130 12v1M130 15v1M131 6v1M133 3v1M133 5v1M133 7v1M134 4v2M135 1v1M135 17v1M136 3v1M137 1v1M137 20v1M138 2v1M138 4v1M138 7v2M138 11v2M143 10v1M144 8v1M144 12v1M146 10v1M149 6v1M149 8v1M150 11v1M155 12v1M161 6v3M161 11v2M162 10v2M164 9v1M165 12v3M166 2v1M166 15v1M167 14v1M175 10v1M175 13v1M175 15v1M176 6v2M176 12v1M176 14v1M178 0v2M178 5v1M178 8v1M178 12v1M179 10v1M181 4v1M181 7v1M181 10v1M182 11v1M185 4v1M185 7v3M185 12v1M185 14v1M186 6v1M187 7v1M187 9v2M188 2v1M188 15v1M189 3v1M189 15v1M192 0v2M193 4v2M194 6v3M194 14v1M195 7v2M197 8v1M197 13v1M198 6v1M198 8v1M198 11v1M199 10v1M200 2v2M202 3v3M202 7v1M202 9v1M202 11v1M203 7v1M203 12v1M204 5v1M206 9v2M207 5v1M209 5v1M209 14v1M210 2v2M210 8v1M210 13v1M210 15v1M211 6v1M211 11v1M211 13v1M212 12v3M213 16v2M214 19v1M214 21v2M215 3v1M215 16v1M215 18v1M215 20v1M215 22v1M216 3v1M218 6v5M218 13v1M219 4v2M220 6v1M220 13v1M221 13v1M222 7v1M222 11v1M227 6v2M227 12v3M231 11v1M232 10v1M233 9v1M235 8v2M235 12v3M236 7v1M236 10v1M241 7v3M242 9v1M248 6v1M248 8v1M248 11v1M259 13v1M262 7v1M262 9v1M263 11v1M269 12v1M271 10v1M285 9v1"/><path stroke="#e9932f" d="M85 9v1M107 11v1M120 7v1M120 9v1M121 5v1M121 13v1M122 6v1M122 11v1M129 9v2M130 8v1M130 14v1M133 6v1M133 8v2M134 11v1M136 4v1M137 0v1M137 2v2M137 9v1M137 16v3M137 21v1M138 3v1M138 5v1M138 10v1M143 12v1M145 10v1M149 9v1M149 11v2M149 14v1M150 10v1M150 12v1M161 9v1M161 13v1M162 12v1M164 10v1M166 3v2M166 9v1M166 13v1M167 13v1M175 6v1M175 12v1M176 8v1M176 10v1M176 13v1M177 9v1M178 3v1M178 11v1M185 6v1M185 10v2M186 13v1M187 13v1M188 0v2M188 11v1M189 4v1M190 0v1M190 3v1M190 15v1M192 3v1M192 16v1M194 9v3M195 11v1M197 5v1M197 9v2M199 9v1M199 11v1M200 4v1M200 7v1M200 12v1M202 8v1M202 10v1M203 9v3M204 4v1M204 6v2M204 9v1M204 11v1M209 6v1M209 9v1M209 12v2M210 9v1M211 5v1M211 7v4M212 5v3M212 18v3M212 22v1M213 0v1M213 15v1M215 0v1M215 2v1M215 4v1M215 19v1M216 2v1M216 5v2M216 12v1M216 14v1M219 12v2M220 8v1M220 11v1M226 6v1M226 8v2M226 13v1M227 9v2M233 6v1M233 10v2M235 4v4M236 9v1M252 11v1M269 11v1"/><path stroke="#e88d2e" d="M120 10v1M120 12v1M121 6v1M122 8v3M129 12v1M130 7v1M130 9v3M133 10v2M135 2v1M135 15v1M136 5v1M137 4v2M137 15v1M138 9v1M149 7v1M149 10v1M161 10v1M166 5v4M167 6v4M167 11v1M176 11v1M177 6v1M177 10v1M177 13v2M178 4v1M178 10v1M188 3v4M188 8v2M188 12v3M189 5v3M189 14v1M190 1v2M190 4v1M190 14v1M191 0v2M191 5v1M191 14v2M192 2v1M194 12v1M195 9v2M197 11v1M200 5v2M200 8v1M200 10v1M200 13v2M202 13v1M204 8v1M204 10v1M209 7v2M209 10v2M210 4v4M212 9v1M212 11v1M213 2v2M213 20v4M214 1v2M214 16v2M214 20v1M215 5v1M215 23v1M216 7v1M216 13v1M218 11v1M220 7v1M220 9v2M221 6v1M221 11v1M226 7v1M226 10v2M233 8v1M235 10v2M236 6v1M236 11v1M262 10v1"/><path stroke="#e8862d" d="M121 10v3M130 6v1M135 0v1M135 3v2M135 14v1M135 16v1M136 6v1M137 6v2M137 12v1M137 14v1M166 11v2M166 14v1M167 10v1M167 12v1M175 14v1M177 7v2M177 12v1M188 7v1M189 11v1M190 5v2M190 12v1M191 2v1M191 7v1M192 4v1M193 6v2M193 9v3M193 15v1M194 13v1M200 11v1M210 10v2M212 8v1M212 21v1M212 23v1M213 1v1M213 4v1M213 12v2M213 18v2M214 0v1M214 4v1M215 17v1M216 8v1M216 11v1M221 7v4M226 12v1"/><path stroke="#e7802d" d="M135 5v1M135 9v1M135 11v1M136 9v3M136 15v1M137 8v1M137 11v1M137 13v1M166 10v1M177 11v1M188 10v1M189 10v1M189 12v2M190 7v3M190 11v1M190 13v1M191 3v1M191 6v1M191 8v1M191 10v1M191 12v2M192 5v1M192 15v1M193 8v1M193 14v1M200 9v1M213 6v3M213 14v1M214 3v1M215 12v1M215 15v1M216 9v2M219 7v1M227 11v1"/><path stroke="#e7792c" d="M121 7v2M135 7v2M135 10v1M135 12v2M136 7v2M136 13v2M137 10v1M189 8v2M190 10v1M191 4v1M191 11v1M192 6v1M192 9v1M192 12v3M193 12v2M212 10v1M213 5v1M213 9v1M213 11v1M214 5v1M214 15v1M215 14v1M219 6v1M219 9v3"/><path stroke="#e6732b" d="M121 9v1M135 6v1M136 12v1M191 9v1M192 8v1M192 10v1M215 7v2M215 13v1M219 8v1"/><path stroke="#e66d2a" d="M192 7v1M213 10v1M214 12v1M214 14v1M215 6v1M215 9v3"/><path stroke="#e6692a" d="M192 11v1M214 6v4M214 13v1"/><path stroke="#e5652a" d="M214 10v2"/></svg></g><path d="M93.40 1432.75H1403.40M93.40 1519.00H1403.40M93.40 1605.25H1403.40M204.66 1346.50V1691.50M305.15 1346.50V1691.50M416.41 1346.50V1691.50M524.08 1346.50V1691.50M635.35 1346.50V1691.50M743.02 1346.50V1691.50M854.28 1346.50V1691.50M965.54 1346.50V1691.50M1073.21 1346.50V1691.50M1184.47 1346.50V1691.50M1292.14 1346.50V1691.50" stroke="#262420" stroke-width="1.7" fill="none"/><rect x="93.40" y="1346.50" width="1310.00" height="345.00" stroke="#262420" stroke-width="1.7" fill="none"/><rect x="1417.8" y="1346.80" width="25.7" height="345.40" fill="url(#cb)"/><text transform="matrix(1 0 0 1.04 9.0 1328.7)" font-size="41.0">T-PC</text><text transform="matrix(1 0 0 1.04 84.7 1365.9)" font-size="26.0" text-anchor="end">12 AM</text><text transform="matrix(1 0 0 1.04 84.7 1443.7)" font-size="26.0" text-anchor="end">6 PM</text><text transform="matrix(1 0 0 1.04 84.7 1528.5)" font-size="26.0" text-anchor="end">12 PM</text><text transform="matrix(1 0 0 1.04 84.7 1614.5)" font-size="26.0" text-anchor="end">6 AM</text><text transform="matrix(1 0 0 1.04 84.7 1690.5)" font-size="26.0" text-anchor="end">12 AM</text><text transform="matrix(1 0 0 1.04 129.7 1713.5)" font-size="26.0">Jan</text><text transform="matrix(1 0 0 1.04 228.2 1713.5)" font-size="26.0">Feb</text><text transform="matrix(1 0 0 1.04 339.0 1713.5)" font-size="26.0">Mar</text><text transform="matrix(1 0 0 1.04 449.8 1713.5)" font-size="26.0">Apr</text><text transform="matrix(1 0 0 1.04 556.2 1713.5)" font-size="26.0">May</text><text transform="matrix(1 0 0 1.04 668.0 1713.5)" font-size="26.0">Jun</text><text transform="matrix(1 0 0 1.04 781.0 1713.5)" font-size="26.0">Jul</text><text transform="matrix(1 0 0 1.04 888.7 1713.5)" font-size="26.0">Aug</text><text transform="matrix(1 0 0 1.04 995.4 1713.5)" font-size="26.0">Sep</text><text transform="matrix(1 0 0 1.04 1110.1 1713.5)" font-size="26.0">Oct</text><text transform="matrix(1 0 0 1.04 1214.4 1713.5)" font-size="26.0">Nov</text><text transform="matrix(1 0 0 1.04 1325.7 1713.5)" font-size="26.0">Dec</text><text transform="matrix(1 0 0 1.04 1452.5 1354.6)" font-size="26.0">40.53</text><text transform="matrix(1 0 0 1.04 1451.9 1694.4)" font-size="26.0">-32.21</text><g filter="url(#bl)"><svg class="hm" x="93.40" y="1777.00" width="1310.00" height="344.70" viewBox="0 0 365 24" preserveAspectRatio="none" shape-rendering="crispEdges"><path stroke="#829fd1" d="M12 14v1M12 17v1"/><path stroke="#89a6d6" d="M2 2v1M12 12v2M12 15v1"/><path stroke="#90adda" d="M2 0v1M2 3v3M2 13v1M3 19v1M47 23v1M341 0v1M342 18v1"/><path stroke="#97b3de" d="M1 1v4M2 1v1M2 6v1M2 16v1M2 22v1M3 13v1M3 15v2M12 7v1M12 10v1M12 16v1M12 19v1M14 0v1M15 0v2M16 3v1M20 0v3M21 0v3M21 21v1M22 8v1M22 11v1M22 18v1M22 23v1M23 13v2M23 20v1M46 15v3M46 19v1M47 14v1M69 15v2M341 2v1M342 16v1"/><path stroke="#9ebae2" d="M1 0v1M2 7v3M2 11v2M2 14v1M2 18v1M2 23v1M3 17v1M3 23v1M12 6v1M12 9v1M12 11v1M12 18v1M12 20v4M13 0v2M13 5v1M14 4v3M15 2v1M15 4v1M16 1v2M16 4v2M17 22v2M20 3v2M21 18v1M21 22v2M22 0v1M22 2v2M22 7v1M22 9v2M22 19v3M23 12v1M23 15v5M23 21v1M23 23v1M46 14v1M46 18v1M46 20v4M47 22v1M61 16v1M69 17v1M291 16v1M341 1v1M341 4v2M342 17v1M342 20v1M342 22v2"/><path stroke="#a5c0e6" d="M1 5v1M2 10v1M2 15v1M2 17v1M2 19v3M3 12v1M3 14v1M3 18v1M3 20v3M11 18v1M11 21v1M13 2v2M14 1v1M14 3v1M15 3v1M15 23v1M16 0v1M17 12v1M17 18v4M20 5v1M21 3v3M21 19v2M22 1v1M22 4v3M22 22v1M23 0v1M23 6v1M23 9v3M23 22v1M25 6v1M37 5v1M38 15v1M40 15v3M43 3v1M45 15v1M46 13v1M47 12v2M47 15v3M47 19v3M52 3v1M52 19v1M68 16v1M69 12v2M291 17v1M341 3v1M342 12v4M342 19v1"/><path stroke="#abc5e8" d="M7 13v5M7 21v3M11 6v1M11 8v1M11 10v2M11 22v1M13 4v1M13 9v1M14 2v1M14 10v1M14 13v1M14 20v1M15 5v1M15 19v1M15 21v1M16 6v1M17 15v3M23 3v1M23 7v2M24 17v1M25 13v2M25 16v1M37 0v1M37 3v1M37 7v1M38 14v1M38 16v2M43 1v1M45 16v3M46 12v1M47 6v2M47 11v1M47 18v1M52 0v1M52 2v1M52 4v1M52 20v1M56 20v1M60 17v1M61 17v1M68 17v1M69 14v1M69 21v1M69 23v1M101 22v1M290 17v1M291 15v1M335 20v1M336 19v1M338 16v1M341 7v1M342 21v1M346 1v1M346 13v1M346 20v1M347 0v1M347 2v1M347 18v1"/><path stroke="#b1c9e8" d="M0 2v1M1 19v1M1 23v1M3 4v1M4 4v1M4 10v1M6 1v1M6 19v1M7 12v1M7 18v3M9 4v1M9 11v2M9 16v1M10 21v1M11 7v1M11 9v1M11 15v1M11 19v2M11 23v1M12 3v1M12 8v1M14 7v3M14 11v1M14 18v2M14 21v3M15 17v2M15 20v1M15 22v1M16 7v3M16 11v1M16 16v1M17 1v1M17 4v1M17 13v2M21 11v1M23 1v2M23 5v1M25 7v2M25 10v2M25 19v1M26 17v1M27 10v1M27 15v2M37 1v2M37 4v1M37 6v1M37 8v1M37 10v2M37 19v1M38 13v1M40 13v1M41 17v1M41 20v2M43 0v1M43 2v1M43 4v2M44 16v1M44 18v1M45 6v1M45 12v3M45 19v2M45 22v2M47 0v1M47 2v1M47 8v3M51 15v1M52 1v1M52 5v1M52 14v2M52 17v2M52 21v3M53 16v2M59 17v1M61 14v2M68 12v4M69 18v3M69 22v1M70 16v2M72 18v1M75 16v2M79 16v2M101 17v1M101 19v1M290 12v1M290 14v3M291 13v2M292 17v1M334 0v2M334 4v2M335 1v1M335 4v1M335 18v1M335 21v3M336 18v1M337 18v1M337 20v4M338 12v1M338 17v5M341 6v1M341 9v1M341 11v1M341 16v3M341 22v1M342 0v2M342 3v2M342 6v2M342 10v2M346 2v1M346 5v1M346 14v3M346 19v1M346 21v1M346 23v1M347 4v1M347 20v1M347 23v1M348 14v2M348 22v1"/><path stroke="#b6cee7" d="M0 0v1M0 3v1M0 18v3M1 8v1M1 20v3M3 3v1M4 0v2M4 5v1M4 13v2M5 0v4M5 10v1M6 0v1M6 14v1M6 17v1M6 20v1M6 23v1M7 0v3M7 4v1M9 1v1M9 5v1M9 10v1M9 13v2M10 0v1M10 2v1M10 6v1M10 10v1M10 15v1M10 18v1M10 22v1M11 2v2M11 14v1M11 16v1M12 2v1M12 5v1M13 7v1M13 18v2M13 22v1M14 14v3M15 6v2M15 15v1M16 10v1M16 12v1M16 14v1M16 19v2M17 7v2M17 10v1M20 7v2M20 11v2M20 14v1M20 16v1M21 7v1M21 9v1M21 16v1M22 16v2M23 4v1M24 1v1M24 4v1M24 12v1M24 14v1M24 20v1M24 22v1M25 9v1M25 12v1M25 15v1M25 17v1M25 22v1M26 15v2M27 2v1M27 4v1M27 6v2M27 12v1M28 6v2M28 9v1M28 13v2M28 16v1M29 2v1M29 4v2M29 7v3M29 22v1M30 15v1M30 22v1M35 12v1M35 15v3M37 14v1M37 20v1M38 2v1M38 12v1M38 18v1M38 20v1M38 22v1M39 14v1M40 12v1M41 0v1M41 16v1M41 19v1M43 15v1M43 19v2M44 0v2M44 19v1M45 7v1M45 11v1M45 21v1M46 0v1M46 4v1M51 3v1M51 6v1M51 11v1M52 6v2M52 12v2M52 16v1M53 15v1M53 19v1M55 21v1M56 21v1M57 19v3M58 18v1M59 1v1M59 21v1M59 23v1M61 20v1M68 7v1M68 20v1M69 0v1M69 5v2M69 10v1M71 0v1M71 2v1M71 16v1M72 1v1M72 3v1M72 21v1M72 23v1M73 21v1M73 23v1M74 0v1M74 16v1M74 22v1M75 19v2M101 14v3M101 20v2M101 23v1M116 1v1M118 16v2M289 14v2M290 13v1M291 1v1M291 12v1M291 20v1M292 15v2M292 18v1M334 2v2M335 0v1M335 2v2M335 5v1M335 19v1M336 1v1M336 20v3M337 17v1M337 19v1M338 14v2M338 22v2M341 8v1M341 10v1M341 12v3M341 19v3M341 23v1M342 8v2M345 9v1M346 0v1M346 3v2M346 12v1M346 17v2M346 22v1M347 1v1M347 3v1M347 19v1M347 21v2M348 12v2M348 16v2M348 19v3M348 23v1M350 3v1M354 8v1M354 15v1M360 3v1"/><path stroke="#bbd2e7" d="M0 1v1M0 4v2M0 23v1M1 6v2M1 9v1M1 11v1M1 18v1M3 0v1M3 2v1M4 6v1M4 8v1M4 11v1M4 15v3M5 4v1M5 6v1M5 8v2M5 11v1M6 2v3M6 13v1M6 15v2M6 18v1M6 21v2M7 3v1M7 5v1M9 0v1M9 2v2M9 7v1M9 9v1M9 15v1M9 17v1M10 3v1M10 5v1M10 7v1M10 9v1M10 12v3M10 19v2M10 23v1M11 0v1M11 4v2M11 12v2M11 17v1M12 0v2M12 4v1M13 6v1M13 8v1M13 21v1M14 17v1M15 8v7M15 16v1M16 13v1M16 15v1M16 18v1M16 21v3M17 3v1M17 5v2M17 9v1M17 11v1M20 9v1M20 13v1M20 17v1M20 20v1M21 6v1M21 8v1M21 13v3M21 17v1M22 13v3M24 0v1M24 2v2M24 16v1M24 18v1M24 21v1M24 23v1M25 20v2M26 0v1M26 12v3M27 0v2M27 3v1M27 5v1M27 13v1M27 17v1M28 0v5M28 8v1M28 10v1M28 17v1M28 20v1M29 10v2M29 18v2M29 21v1M29 23v1M30 12v2M30 16v6M30 23v1M35 13v1M37 9v1M37 17v2M37 22v2M38 0v2M38 19v1M39 13v1M40 14v1M41 1v2M41 5v1M41 13v3M41 18v1M41 22v2M42 1v1M42 22v1M43 12v3M43 16v3M43 21v1M44 3v3M44 15v1M44 20v4M45 0v1M45 2v4M46 1v3M46 6v1M47 1v1M47 3v3M51 0v3M51 4v1M51 7v1M51 9v2M51 16v1M52 9v1M52 11v1M53 13v2M53 18v1M53 21v3M54 0v1M54 19v1M55 18v3M55 22v2M56 19v1M57 17v1M57 22v1M58 19v2M58 22v2M59 13v1M59 16v1M59 20v1M59 22v1M60 15v2M61 0v1M61 2v1M61 13v1M61 18v1M61 21v1M62 16v1M68 0v1M68 2v1M68 4v1M68 6v1M68 8v2M68 11v1M68 19v1M68 22v2M69 1v4M69 7v1M69 9v1M69 11v1M70 13v2M70 18v1M70 20v4M71 1v1M71 13v2M71 17v2M71 21v3M72 2v1M72 20v1M72 22v1M73 1v1M73 16v5M74 1v4M74 12v2M74 17v2M74 20v2M75 0v1M75 12v1M75 18v1M75 21v1M76 16v2M78 1v1M78 16v7M79 15v1M79 18v1M79 20v2M79 23v1M101 0v1M101 2v1M101 10v1M101 12v2M101 18v1M116 4v1M117 17v1M118 2v2M118 20v1M289 12v2M290 2v6M290 9v2M290 21v2M291 0v1M291 2v1M291 4v2M291 18v2M291 21v3M292 20v1M292 22v1M334 19v1M335 12v1M335 16v1M336 16v2M336 23v1M338 13v1M341 15v1M342 2v1M342 5v1M343 14v1M343 23v1M344 21v1M345 1v1M345 3v1M346 11v1M347 5v2M347 8v1M347 17v1M348 2v1M348 5v1M348 18v1M349 0v1M349 4v1M351 5v1M351 19v2M352 4v1M353 0v1M354 2v1M355 9v1M355 11v2M355 18v1M360 0v1M360 2v1M360 6v1M360 8v1M360 11v1M360 15v1M360 19v2M361 2v1M361 10v1M361 15v1M361 23v1M364 3v1M364 5v1M364 10v1M364 22v1"/><path stroke="#c0d6e7" d="M0 21v2M1 10v1M1 15v1M3 1v1M4 3v1M4 7v1M4 9v1M4 12v1M4 19v1M4 23v1M5 5v1M5 7v1M6 5v1M7 6v2M7 9v1M8 19v1M8 21v1M9 6v1M9 8v1M10 1v1M10 4v1M10 8v1M10 11v1M10 16v2M11 1v1M13 10v1M13 23v1M14 12v1M16 17v1M17 0v1M17 2v1M18 20v1M20 6v1M20 10v1M20 15v1M20 18v1M20 23v1M21 10v1M21 12v1M22 12v1M24 13v1M24 15v1M24 19v1M25 18v1M25 23v1M26 21v1M26 23v1M27 8v2M27 11v1M27 14v1M27 22v2M28 5v1M28 11v2M28 15v1M28 22v1M29 0v2M29 3v1M29 6v1M29 13v1M29 15v1M30 14v1M34 8v1M35 14v1M36 16v2M37 12v1M37 16v1M37 21v1M38 3v4M38 10v2M38 21v1M38 23v1M39 12v1M39 15v3M40 1v3M40 19v1M41 3v2M41 12v1M42 2v1M42 18v1M42 23v1M43 6v1M43 22v2M44 2v1M44 7v1M44 12v3M44 17v1M45 1v1M45 8v2M46 5v1M51 5v1M51 8v1M51 12v1M51 14v1M51 17v2M51 20v1M51 22v1M52 8v1M52 10v1M53 1v1M53 20v1M54 1v1M54 20v1M56 16v3M56 22v2M57 18v1M57 23v1M58 0v1M58 3v1M58 16v2M58 21v1M59 14v2M59 18v2M60 1v1M60 12v1M60 14v1M61 1v1M61 3v3M61 12v1M61 19v1M61 22v2M62 17v1M62 19v1M62 21v2M67 17v1M68 3v1M68 5v1M68 18v1M68 21v1M70 12v1M70 15v1M70 19v1M71 4v2M71 15v1M71 20v1M72 0v1M72 4v2M72 17v1M72 19v1M73 15v1M73 22v1M74 5v1M74 14v2M74 19v1M74 23v1M75 13v3M75 22v2M77 17v1M77 21v1M78 23v1M79 14v1M79 19v1M79 22v1M89 14v1M89 17v1M89 19v1M101 1v1M101 4v1M101 7v1M101 9v1M101 11v1M102 23v1M115 1v1M116 0v1M116 2v2M116 5v1M117 16v1M117 22v1M118 0v1M118 5v1M118 18v1M119 17v1M289 0v2M289 17v1M290 0v2M290 8v1M290 11v1M290 18v2M290 23v1M291 3v1M291 6v1M292 0v1M292 2v1M292 12v1M292 14v1M292 19v1M292 21v1M292 23v1M334 6v2M334 11v1M334 14v2M334 17v1M334 21v2M335 6v2M335 10v2M335 13v1M336 0v1M336 2v1M336 12v1M336 14v1M337 12v1M338 5v1M339 19v5M340 20v1M343 15v2M343 18v1M343 20v1M343 22v1M344 17v3M345 2v1M345 4v1M345 6v1M345 8v1M345 10v1M345 12v2M345 15v1M345 23v1M346 6v2M346 10v1M347 10v4M347 16v1M348 3v2M349 3v1M349 13v1M349 15v1M349 18v1M349 21v1M349 23v1M351 1v4M351 21v2M352 1v1M352 3v1M353 1v1M353 3v1M353 13v1M353 16v3M353 21v1M354 3v1M354 6v1M354 9v2M354 16v6M354 23v1M355 0v1M355 2v2M355 8v1M355 13v2M355 19v4M360 4v2M360 9v1M360 13v2M360 16v1M360 22v1M361 5v3M361 11v3M361 18v1M361 22v1M364 1v2M364 4v1M364 7v3M364 12v1M364 14v1M364 21v1"/><path stroke="#c7d8db" d="M0 6v1M0 9v2M1 12v1M1 14v1M1 16v1M3 5v1M4 2v1M4 18v1M4 20v3M6 12v1M7 11v1M8 20v1M8 22v1M13 11v1M13 20v1M18 18v1M18 21v3M20 19v1M20 21v1M24 5v1M26 2v2M26 19v2M27 19v1M27 21v1M28 18v2M28 21v1M28 23v1M29 12v1M29 16v1M29 20v1M34 1v1M34 7v1M34 9v4M34 16v1M34 20v1M35 0v1M35 5v1M35 21v2M36 14v1M37 13v1M37 15v1M38 7v3M39 2v1M39 5v1M40 18v1M40 21v1M40 23v1M42 19v1M43 7v1M43 10v2M44 6v1M45 10v1M46 7v1M46 11v1M51 13v1M51 19v1M51 23v1M53 0v1M53 3v1M53 5v1M54 2v2M54 18v1M54 21v2M55 16v2M56 13v1M56 15v1M57 16v1M58 1v1M58 4v1M58 13v3M59 12v1M60 0v1M60 13v1M60 21v1M60 23v1M62 15v1M62 20v1M66 17v1M67 0v1M67 2v1M67 16v1M67 20v1M67 23v1M68 1v1M69 8v1M70 0v1M70 3v2M71 12v1M71 19v1M72 15v2M73 0v1M73 5v1M74 7v1M75 1v2M76 14v2M77 18v1M77 20v1M78 5v1M78 15v1M79 12v2M89 0v1M89 3v1M89 16v1M89 20v2M89 23v1M100 15v1M100 17v1M101 3v1M101 5v2M101 8v1M102 7v1M102 9v1M102 18v1M102 22v1M112 1v1M114 0v2M114 17v1M115 0v1M116 15v1M116 17v1M116 20v1M117 1v1M117 15v1M117 20v1M118 1v1M118 4v1M118 13v1M118 21v3M119 16v1M119 19v1M289 3v1M289 5v1M289 7v2M289 18v1M289 21v2M290 20v1M291 11v1M292 3v3M292 13v1M334 8v3M334 12v2M334 16v1M334 20v1M334 23v1M335 8v1M335 14v2M335 17v1M336 3v3M336 13v1M336 15v1M337 13v4M338 1v3M339 0v1M339 18v1M340 18v1M340 21v3M343 12v1M343 17v1M343 19v1M344 14v3M344 23v1M345 0v1M345 5v1M345 11v1M345 14v1M345 16v5M345 22v1M346 8v2M347 7v1M347 9v1M347 15v1M348 1v1M349 1v2M349 5v1M349 12v1M349 14v1M349 16v2M349 19v2M349 22v1M350 0v3M350 4v2M351 0v1M351 18v1M352 0v1M352 2v1M352 5v1M353 2v1M353 5v1M353 12v1M353 14v2M353 20v1M353 22v2M354 0v2M354 4v2M354 7v1M354 11v4M354 22v1M355 4v3M355 10v1M355 15v3M355 23v1M360 1v1M360 7v1M360 17v1M360 21v1M360 23v1M361 0v2M361 3v2M361 8v2M361 14v1M361 16v2M361 20v2M364 0v1M364 13v1M364 18v3"/><path stroke="#cddace" d="M0 7v2M0 11v1M0 14v1M1 13v1M1 17v1M3 10v1M5 12v2M7 8v1M7 10v1M8 23v1M18 19v1M20 22v1M26 1v1M26 5v1M26 18v1M26 22v1M27 18v1M29 14v1M30 1v1M30 3v1M30 6v1M30 8v1M33 8v1M33 10v1M33 16v1M33 18v1M34 0v1M34 3v4M34 13v3M34 17v1M35 1v4M35 18v1M35 20v1M36 12v2M39 0v2M39 3v2M39 23v1M40 0v1M40 4v2M40 20v1M40 22v1M42 0v1M42 3v2M42 17v1M42 20v1M43 8v2M44 9v1M44 11v1M46 9v2M48 15v1M48 17v1M51 21v1M53 2v1M53 4v1M53 12v1M55 2v1M56 6v1M56 12v1M56 14v1M57 6v1M58 2v1M58 5v2M58 12v1M59 0v1M59 2v1M59 4v1M60 2v1M60 4v1M60 18v3M60 22v1M62 14v1M62 18v1M62 23v1M66 20v1M67 1v1M67 4v2M67 14v2M67 19v1M67 22v1M68 10v1M70 1v2M71 3v1M71 6v1M72 6v1M72 12v1M73 3v2M73 12v1M74 6v1M74 8v1M75 3v1M75 5v1M76 0v1M76 19v2M76 22v2M77 0v1M77 16v1M77 19v1M77 22v2M78 0v1M78 3v2M89 1v1M89 4v1M89 12v1M89 15v1M89 18v1M89 22v1M100 0v4M100 11v1M100 13v1M100 16v1M100 19v1M100 21v1M102 5v2M102 11v2M102 14v1M102 17v1M102 19v2M112 4v1M114 16v1M114 18v1M114 20v2M114 23v1M115 2v1M115 18v1M115 20v1M115 23v1M116 13v1M116 16v1M116 22v2M117 0v1M117 3v1M117 5v1M117 14v1M117 19v1M118 12v1M118 14v2M119 0v3M119 4v1M119 7v3M119 12v2M119 20v1M289 2v1M289 4v1M289 6v1M289 9v2M289 16v1M289 19v2M289 23v1M291 8v1M291 10v1M292 1v1M292 6v1M334 18v1M335 9v1M338 0v1M338 4v1M338 6v1M340 14v1M340 19v1M343 13v1M343 21v1M344 5v1M344 12v2M344 20v1M344 22v1M345 7v1M345 21v1M347 14v1M348 0v1M348 6v1M349 9v1M351 23v1M352 18v1M353 4v1M353 19v1M355 1v1M355 7v1M359 11v2M359 22v2M360 10v1M360 12v1M360 18v1M361 19v1M362 15v1M363 17v1M364 6v1M364 11v1M364 15v3M364 23v1"/><path stroke="#d3dcc1" d="M0 12v1M0 16v1M3 8v2M5 15v1M5 17v1M5 20v3M8 18v1M9 18v2M9 21v1M13 13v2M13 16v2M18 0v1M18 3v2M26 4v1M27 20v1M29 17v1M30 0v1M30 4v1M30 7v1M30 11v1M33 1v1M33 5v3M33 17v1M33 21v2M34 2v1M34 19v1M34 21v1M35 19v1M35 23v1M36 1v3M36 5v1M36 15v1M36 20v1M39 11v1M39 20v1M41 6v1M42 15v1M42 21v1M44 10v1M46 8v1M48 12v1M48 14v1M48 23v1M54 4v2M54 23v1M55 0v1M57 1v3M57 14v2M58 8v1M58 11v1M59 3v1M59 5v2M60 3v1M60 5v1M61 6v1M62 0v2M62 12v2M63 16v2M63 20v2M63 23v1M64 17v1M66 16v1M66 22v1M67 3v1M67 12v2M67 18v1M67 21v1M71 11v1M72 7v1M72 13v2M73 2v1M73 13v2M74 9v3M76 1v3M76 12v2M76 18v1M76 21v1M77 1v2M77 15v1M78 2v1M78 12v3M79 1v1M88 0v1M88 2v1M88 17v1M88 20v1M89 2v1M89 5v1M89 10v1M96 0v1M96 16v1M100 6v1M100 12v1M100 14v1M100 18v1M100 20v1M100 22v1M102 1v4M102 8v1M102 10v1M102 15v2M102 21v1M112 0v1M112 2v2M112 5v1M113 0v1M114 2v3M114 14v2M114 19v1M114 22v1M115 3v1M115 21v2M116 14v1M116 19v1M116 21v1M117 2v1M117 12v1M117 23v1M118 19v1M119 3v1M119 5v2M119 10v2M119 14v1M119 18v1M119 21v3M229 22v1M289 11v1M291 7v1M291 9v1M292 7v1M337 0v4M339 1v1M339 5v1M339 14v1M339 16v2M340 1v1M340 3v1M340 5v1M340 15v1M340 17v1M343 1v1M343 4v1M343 9v1M343 11v1M344 1v2M348 7v1M348 11v1M349 7v1M350 6v3M350 10v1M350 19v1M350 21v2M352 14v1M352 16v1M352 20v2M353 6v1M353 10v1M356 17v3M356 21v1M356 23v1M359 1v1M359 4v1M359 10v1M359 13v1M359 15v1M359 17v1M359 20v1M362 13v1M362 17v3M362 21v3M363 13v4M363 18v1M363 21v1M363 23v1"/><path stroke="#dadeb6" d="M0 15v1M0 17v1M3 6v2M3 11v1M5 14v1M5 16v1M5 18v2M5 23v1M8 17v1M9 20v1M9 22v1M13 12v1M13 15v1M18 2v1M18 5v1M18 15v1M19 2v1M19 14v1M19 21v1M24 7v2M24 10v1M25 5v1M30 2v1M30 5v1M33 0v1M33 2v3M33 9v1M33 11v3M33 20v1M34 23v1M36 0v1M36 4v1M36 18v2M36 22v2M39 6v1M39 9v2M39 18v1M39 21v2M40 6v1M42 5v1M44 8v1M48 6v1M48 13v1M48 16v1M48 19v4M49 14v1M50 14v1M53 6v1M54 15v3M55 1v1M55 3v4M55 15v1M56 0v1M57 0v1M57 4v2M57 11v3M58 7v1M61 8v1M61 10v1M62 2v1M62 4v1M63 14v1M63 18v1M63 22v1M64 0v1M65 16v1M66 0v1M66 18v1M66 23v1M70 5v2M71 7v1M72 10v1M73 6v1M73 8v1M73 10v1M75 4v1M75 6v1M76 4v2M88 1v1M88 3v3M88 12v1M88 19v1M88 21v3M89 6v2M89 11v1M89 13v1M96 2v1M96 4v1M96 12v1M96 15v1M96 17v2M96 20v2M100 4v2M100 23v1M102 0v1M102 13v1M103 0v1M103 19v2M112 18v1M112 22v1M113 1v1M113 3v1M113 18v1M113 20v1M114 12v2M115 5v1M115 19v1M116 8v5M117 13v1M117 18v1M117 21v1M118 6v1M119 15v1M124 23v1M125 23v1M153 22v1M244 0v1M244 2v1M245 2v1M245 20v2M275 1v1M275 3v1M275 17v1M275 20v2M292 8v1M293 13v1M293 15v3M337 4v1M338 9v1M339 2v3M339 12v1M339 15v1M340 0v1M340 2v1M340 4v1M340 12v2M343 2v2M343 5v3M343 10v1M344 0v1M344 3v2M348 8v3M349 6v1M349 8v1M349 10v2M350 9v1M350 11v5M350 17v2M350 20v1M350 23v1M352 12v2M352 15v1M352 17v1M352 22v2M353 7v1M353 9v1M353 11v1M356 12v4M356 22v1M359 2v1M359 5v3M359 14v1M359 16v1M359 18v2M359 21v1M362 12v1M362 20v1M363 19v1M363 22v1"/><path stroke="#e0e0aa" d="M0 13v1M8 14v1M9 23v1M18 1v1M18 12v1M18 16v2M19 19v1M25 1v1M25 3v1M26 6v2M26 10v1M30 9v2M31 2v1M31 17v3M31 22v1M33 14v2M33 19v1M33 23v1M34 18v1M34 22v1M35 6v2M35 10v2M36 21v1M39 7v2M39 19v1M40 8v1M41 11v1M42 16v1M48 0v1M48 2v1M48 4v1M48 9v1M48 18v1M49 15v2M50 4v1M50 15v1M50 17v1M53 7v1M53 11v1M55 12v3M56 1v1M56 11v1M57 7v1M58 9v2M61 7v1M61 9v1M61 11v1M62 3v1M63 0v2M63 13v1M63 15v1M63 19v1M64 1v1M64 16v1M64 19v2M64 22v2M65 0v1M65 2v1M65 14v1M65 18v1M66 2v1M66 19v1M66 21v1M67 6v1M70 7v1M71 8v2M72 8v1M72 11v1M73 7v1M73 9v1M73 11v1M75 11v1M76 6v1M77 3v1M78 6v1M79 0v1M80 14v2M87 0v1M87 3v1M87 15v3M87 19v1M87 22v1M88 14v3M88 18v1M89 8v2M96 1v1M96 3v1M96 5v1M96 13v1M96 23v1M100 8v1M100 10v1M103 1v1M103 3v1M103 15v1M103 17v2M103 21v2M111 17v1M112 13v4M112 19v1M112 21v1M113 5v1M113 19v1M113 21v2M114 5v1M115 4v1M115 17v1M116 6v2M116 18v1M117 4v1M118 8v3M124 19v2M125 19v1M125 21v1M153 20v1M229 19v1M229 21v1M244 4v1M245 1v1M245 22v2M246 22v1M275 2v1M275 4v2M275 12v4M275 19v1M275 22v2M292 10v2M293 14v1M293 18v1M304 1v1M327 9v1M337 5v1M338 7v2M338 11v1M339 7v1M339 10v1M339 13v1M340 16v1M343 0v1M343 8v1M351 7v1M351 16v2M352 11v1M352 19v1M353 8v1M356 16v1M356 20v1M357 3v1M359 3v1M359 8v2M362 16v1M363 5v1M363 8v1M363 12v1M363 20v1"/><path stroke="#e5e29f" d="M8 13v1M8 15v2M18 14v1M19 1v1M19 3v3M19 15v3M19 20v1M19 22v2M24 6v1M24 9v1M24 11v1M25 0v1M25 2v1M26 8v2M26 11v1M31 1v1M31 3v3M31 12v4M31 20v1M31 23v1M35 9v1M40 7v1M40 10v2M41 7v1M48 5v1M48 7v2M48 11v1M49 13v1M49 21v2M50 1v2M50 5v1M50 12v2M50 16v1M56 4v1M56 7v1M60 6v1M62 5v1M63 2v2M64 2v1M64 4v1M64 15v1M64 18v1M64 21v1M65 1v1M65 13v1M65 15v1M65 17v1M65 19v4M66 1v1M67 9v1M67 11v1M70 11v1M71 10v1M72 9v1M75 10v1M77 4v2M77 12v3M79 2v2M87 1v2M87 5v1M87 20v2M88 6v1M88 11v1M88 13v1M95 17v1M96 11v1M96 14v1M96 19v1M96 22v1M97 3v2M97 12v1M97 17v1M97 21v1M98 17v1M99 16v2M99 21v1M100 7v1M100 9v1M103 2v1M103 4v2M103 23v1M111 2v1M112 11v1M112 17v1M112 20v1M112 23v1M113 2v1M117 6v1M117 11v1M118 7v1M118 11v1M124 18v1M124 21v2M125 18v1M125 20v1M125 22v1M153 18v1M153 21v1M153 23v1M229 18v1M229 20v1M229 23v1M243 1v1M243 20v1M243 22v1M244 1v1M244 3v1M244 5v1M244 22v2M245 0v1M245 3v2M245 15v3M245 19v1M246 16v1M248 3v1M274 1v1M274 3v1M274 16v4M275 0v1M275 11v1M275 16v1M275 18v1M292 9v1M293 12v1M293 19v1M293 22v1M303 21v1M304 0v1M304 4v1M304 14v1M304 17v2M304 22v1M305 12v2M305 15v1M305 18v1M321 2v1M321 13v2M321 18v2M321 22v1M322 1v1M322 3v1M322 14v1M322 20v1M327 5v1M327 10v1M327 20v1M328 4v1M328 17v1M336 10v2M338 10v1M339 8v1M340 7v2M340 10v1M344 6v2M350 16v1M351 6v1M351 9v2M351 12v3M352 6v1M352 10v1M356 0v1M356 2v1M356 5v1M356 9v1M356 11v1M357 4v5M357 10v2M357 13v1M357 15v1M357 21v1M358 0v1M358 6v1M358 11v2M358 14v1M358 17v1M358 21v1M362 0v1M362 3v1M362 6v1M362 11v1M362 14v1M363 0v1M363 2v1M363 4v1M363 11v1"/><path stroke="#e8e395" d="M8 1v1M8 4v1M8 12v1M18 6v1M18 13v1M19 0v1M19 12v2M25 4v1M31 0v1M31 10v1M31 16v1M31 21v1M32 1v2M32 5v1M32 8v1M32 11v4M32 21v1M35 8v1M36 6v2M40 9v1M41 8v1M41 10v1M42 14v1M48 1v1M48 3v1M48 10v1M49 3v1M49 5v1M49 12v1M49 17v4M50 0v1M50 3v1M50 9v1M50 11v1M50 20v1M50 22v2M53 9v2M54 14v1M55 11v1M56 2v2M56 9v1M57 8v2M59 11v1M62 6v1M63 4v3M63 12v1M64 3v1M64 12v3M65 3v2M65 12v1M65 23v1M66 3v1M66 13v1M66 15v1M67 8v1M70 10v1M75 7v1M78 7v1M79 6v1M80 0v1M80 13v1M80 16v1M80 20v3M81 17v1M82 11v1M82 17v1M82 20v1M84 4v1M85 19v1M86 2v1M86 15v1M86 20v1M87 12v3M87 18v1M87 23v1M88 7v1M88 10v1M96 6v3M97 1v2M97 5v1M97 16v1M97 18v2M97 22v1M98 12v2M98 15v2M98 18v1M99 14v1M99 18v2M99 22v2M103 6v1M103 13v1M103 16v1M105 17v1M109 17v1M110 3v1M110 16v1M110 19v2M110 23v1M111 0v1M111 4v2M111 15v2M111 18v2M111 21v2M112 7v1M112 9v1M112 12v1M113 4v1M113 16v2M114 6v2M114 9v1M115 16v1M117 7v2M117 10v1M125 5v2M125 11v1M140 18v2M152 21v1M153 19v1M154 19v1M172 6v1M184 18v2M238 19v1M240 20v1M241 19v1M243 2v1M243 18v2M243 23v1M244 14v1M244 16v6M245 5v1M245 14v1M245 18v1M246 2v2M246 13v1M246 15v1M246 17v2M246 20v2M246 23v1M247 0v1M248 0v1M248 2v1M256 1v2M257 1v1M258 19v1M263 20v1M265 0v2M265 15v1M266 0v1M274 2v1M274 12v3M274 20v1M274 22v2M275 6v1M275 8v3M276 3v1M280 18v3M281 20v1M284 0v1M287 8v1M293 0v1M293 20v2M303 18v3M304 2v1M304 5v1M304 13v1M304 15v1M304 19v2M304 23v1M305 0v2M305 5v1M305 16v2M305 22v2M311 12v1M318 15v1M320 4v1M321 1v1M321 4v3M321 15v1M321 23v1M322 5v2M322 10v2M322 16v4M322 21v1M325 20v1M327 0v2M327 3v1M327 6v3M327 11v1M327 15v4M327 21v2M328 3v1M328 5v1M328 12v3M328 16v1M328 18v1M328 21v3M331 0v1M332 14v1M336 6v3M339 9v1M339 11v1M340 6v1M340 9v1M340 11v1M344 8v2M344 11v1M351 8v1M351 11v1M351 15v1M352 7v3M356 1v1M356 3v2M356 6v3M356 10v1M357 1v2M357 9v1M357 14v1M357 16v1M357 18v3M357 22v2M358 1v1M358 3v3M358 8v3M358 16v1M358 18v1M358 22v2M359 0v1M362 1v2M362 4v2M362 9v2M363 3v1M363 7v1M363 9v1"/><path stroke="#ece38b" d="M6 6v1M6 8v1M6 11v1M8 0v1M8 2v1M8 6v1M8 10v2M18 7v1M18 10v2M19 18v1M31 7v2M31 11v1M32 0v1M32 6v1M32 9v1M32 15v2M32 20v1M32 23v1M36 11v1M42 12v2M49 0v3M49 6v4M49 11v1M49 23v1M50 8v1M50 10v1M50 18v1M50 21v1M54 13v1M55 8v1M56 8v1M56 10v1M57 10v1M59 7v2M60 7v1M63 7v1M65 5v2M66 4v2M66 12v1M66 14v1M67 7v1M70 8v1M75 8v2M78 8v4M79 4v1M80 1v1M80 12v1M80 17v1M81 0v1M81 2v1M81 16v1M81 19v1M82 1v1M82 3v2M82 7v1M82 12v1M82 23v1M83 1v1M83 4v2M83 13v1M83 15v3M83 20v2M83 23v1M84 0v1M84 18v1M84 20v1M85 20v1M85 23v1M86 3v1M86 5v1M86 13v1M86 16v1M86 19v1M87 4v1M87 6v1M87 11v1M88 8v2M90 0v1M90 2v1M90 5v1M91 0v1M91 18v2M93 19v1M94 0v2M94 21v1M95 15v1M96 9v1M97 0v1M97 6v1M97 11v1M97 13v1M97 15v1M97 20v1M97 23v1M98 3v1M99 12v1M99 15v1M99 20v1M103 7v2M104 0v1M104 17v1M105 0v3M105 16v1M106 0v2M106 3v1M106 23v1M109 1v1M109 16v1M110 17v2M111 3v1M111 12v2M111 20v1M111 23v1M112 6v1M112 10v1M113 15v1M113 23v1M114 8v1M114 11v1M117 9v1M123 20v2M125 0v4M125 7v1M125 10v1M126 17v2M127 19v2M128 0v2M128 18v2M128 21v1M140 0v1M141 18v3M142 19v1M142 21v1M143 18v1M143 21v2M144 22v1M145 19v1M145 22v2M146 19v1M146 21v1M151 18v1M151 20v1M151 23v1M152 2v1M152 6v1M152 9v4M152 22v2M153 10v1M153 17v1M154 18v1M154 23v1M155 19v1M155 21v2M157 19v1M157 23v1M159 18v4M159 23v1M160 0v1M160 19v1M162 18v3M162 22v1M163 18v2M171 20v1M172 9v1M172 18v2M172 21v1M172 23v1M173 20v3M174 19v1M183 19v2M184 20v1M184 23v1M226 23v1M227 21v1M227 23v1M228 20v1M228 22v1M229 17v1M237 18v2M238 18v1M238 21v2M239 18v1M239 20v1M240 22v1M243 0v1M243 5v1M243 16v1M243 21v1M244 12v2M245 6v2M246 0v2M246 7v1M246 12v1M246 14v1M246 19v1M247 1v1M247 4v2M247 16v1M248 1v1M248 23v1M249 23v1M250 18v1M250 22v1M251 0v1M253 0v3M253 19v3M253 23v1M254 19v1M254 21v1M255 0v1M255 3v1M255 20v1M255 22v1M256 0v1M256 4v1M256 20v1M257 0v1M257 3v1M257 18v1M260 23v1M261 20v1M262 22v1M265 2v1M265 17v1M266 1v2M271 1v1M274 0v1M274 4v2M274 11v1M274 21v1M275 7v1M276 2v1M276 10v1M276 23v1M277 1v2M277 17v1M277 19v1M277 23v1M278 4v1M278 18v1M278 20v1M279 0v1M279 20v2M280 2v1M280 6v2M280 21v1M280 23v1M281 17v1M283 21v1M284 19v1M285 19v2M287 3v1M287 17v1M287 20v1M287 22v1M295 1v1M295 18v1M296 13v1M296 17v1M297 3v2M297 12v1M297 17v1M297 19v2M298 1v1M298 8v1M298 14v1M298 17v1M298 20v1M299 17v1M299 22v1M300 1v1M300 17v1M302 0v1M303 0v1M303 2v1M303 4v1M303 6v1M303 22v2M304 12v1M304 16v1M305 2v3M305 7v1M305 14v1M305 19v3M306 21v1M307 1v1M307 3v1M307 17v1M307 22v1M308 0v1M308 19v1M308 22v1M309 1v1M309 4v1M309 16v1M309 20v1M310 8v1M311 0v2M311 3v1M311 13v1M313 12v1M313 19v1M314 3v1M314 9v1M314 12v1M315 6v1M315 9v1M315 14v1M316 14v2M316 21v1M317 10v1M318 1v1M320 0v1M320 16v3M320 21v1M321 0v1M321 3v1M321 7v1M321 12v1M321 16v2M321 20v2M322 0v1M322 2v1M322 7v3M322 13v1M322 15v1M322 22v2M323 3v1M323 7v1M323 11v1M323 16v1M323 20v3M324 2v1M325 1v1M325 15v3M326 6v2M326 21v1M327 2v1M327 4v1M327 12v2M327 19v1M328 0v3M328 15v1M328 19v2M329 2v1M330 0v1M330 5v1M330 18v1M331 9v1M331 12v1M331 22v1M332 5v2M332 8v1M333 14v1M336 9v1M339 6v1M344 10v1M357 0v1M357 12v1M357 17v1M358 2v1M358 7v1M358 13v1M358 15v1M358 19v2M362 7v1M363 1v1M363 6v1M363 10v1"/><path stroke="#efe480" d="M6 7v1M8 3v1M8 5v1M8 7v3M18 9v1M31 6v1M32 10v1M32 17v3M36 10v1M41 9v1M42 6v1M49 4v1M49 10v1M50 6v2M53 8v1M54 6v1M54 12v1M55 7v1M55 10v1M56 5v1M59 9v2M62 7v1M62 11v1M63 11v1M64 5v1M65 7v2M65 10v2M67 10v1M70 9v1M76 9v1M76 11v1M79 5v1M80 4v1M80 19v1M80 23v1M81 1v1M81 4v1M81 15v1M81 21v1M81 23v1M82 2v1M82 5v2M82 9v2M82 13v4M82 18v1M82 21v2M83 0v1M83 2v2M83 19v1M83 22v1M84 1v3M84 5v1M84 19v1M84 22v2M85 1v1M85 18v1M85 21v1M86 0v1M86 4v1M86 12v1M86 17v2M86 22v2M87 7v2M87 10v1M90 7v2M90 15v3M90 19v1M90 21v2M91 1v4M91 16v2M91 20v1M92 19v2M92 22v1M93 22v1M94 17v2M94 23v1M95 0v1M95 3v1M95 14v1M95 16v1M95 21v2M96 10v1M97 9v1M97 14v1M98 7v5M98 14v1M98 22v2M99 0v1M99 13v1M103 10v1M103 12v1M104 15v2M104 18v1M104 21v3M105 5v1M105 22v2M106 2v1M106 18v5M107 18v1M107 20v1M107 22v1M108 19v3M109 0v1M109 4v2M109 12v1M109 15v1M109 18v5M110 1v1M110 13v1M110 22v1M111 1v1M111 8v1M111 11v1M111 14v1M112 8v1M114 10v1M123 1v3M123 18v2M123 22v2M124 0v1M124 9v1M124 11v1M124 16v2M125 8v1M125 16v1M126 1v1M126 19v4M127 0v3M127 18v1M127 21v3M128 2v1M128 17v1M128 20v1M128 22v2M129 1v2M129 18v3M139 2v1M140 20v4M141 1v1M141 16v1M141 21v2M142 1v3M142 18v1M142 20v1M142 23v1M143 1v2M143 19v1M144 19v1M144 21v1M144 23v1M145 18v1M145 20v1M146 20v1M146 22v1M151 0v1M151 2v1M151 21v1M152 1v1M152 3v1M152 7v2M152 13v3M152 17v1M152 19v2M153 0v1M153 7v2M153 15v2M154 1v2M154 20v3M155 18v1M155 20v1M156 0v1M156 18v1M156 21v2M157 0v1M157 18v1M157 20v3M158 2v1M158 18v1M158 23v1M159 22v1M160 2v1M160 20v2M161 18v2M161 22v2M163 20v2M163 23v1M171 17v1M171 23v1M172 3v1M172 7v2M172 11v2M172 22v1M173 18v2M173 23v1M174 18v1M174 20v3M183 18v1M184 21v2M223 18v1M223 20v1M223 22v2M226 18v4M227 19v2M227 22v1M228 7v1M228 9v1M228 18v1M228 21v1M229 0v2M229 3v2M230 20v1M231 19v1M231 21v2M237 20v2M237 23v1M238 20v1M238 23v1M239 16v2M239 22v2M240 19v1M240 23v1M241 20v2M241 23v1M242 17v1M242 20v2M242 23v1M243 3v2M243 7v5M243 14v1M244 6v2M244 9v3M244 15v1M245 8v1M245 12v2M246 4v3M246 9v1M247 2v2M247 18v2M248 21v1M249 0v2M249 18v1M249 22v1M251 1v1M251 20v1M251 23v1M252 18v3M253 3v2M253 18v1M253 22v1M254 0v2M254 18v1M254 20v1M254 22v1M255 1v2M255 4v2M255 17v3M255 21v1M255 23v1M256 3v1M256 5v1M257 2v1M257 4v2M257 17v1M257 22v2M258 0v3M258 18v1M258 21v1M258 23v1M259 18v4M260 18v1M260 20v3M261 1v1M261 18v2M262 18v3M263 19v1M263 23v1M265 5v1M265 16v1M266 3v1M266 12v2M266 17v1M267 18v1M267 20v3M271 2v1M273 2v1M273 6v1M273 13v1M273 15v3M273 20v2M274 15v1M276 0v2M276 5v1M276 7v1M276 16v1M276 20v1M277 0v1M277 4v2M277 14v1M277 16v1M277 20v1M278 0v1M278 2v1M278 19v1M278 21v1M278 23v1M279 1v2M279 16v1M279 23v1M280 1v1M280 3v1M280 5v1M280 11v1M280 15v3M280 22v1M281 1v1M281 3v1M281 14v1M281 16v1M281 23v1M282 1v1M282 5v2M282 20v1M282 22v2M283 17v1M283 23v1M284 1v2M284 4v1M284 18v1M286 1v2M286 17v2M286 21v1M287 0v3M287 4v4M287 11v4M287 18v2M287 21v1M288 4v1M288 6v1M288 13v2M288 17v4M288 22v1M293 1v1M293 3v1M293 6v2M293 23v1M294 0v1M294 2v1M294 9v3M294 17v1M295 0v1M295 2v2M295 5v1M295 20v1M296 0v1M296 2v3M296 16v1M296 22v2M297 0v2M297 5v1M297 10v2M297 14v1M297 21v1M297 23v1M298 4v1M298 6v2M298 9v1M298 16v1M298 18v1M298 21v1M299 2v1M299 11v1M299 16v1M299 23v1M300 0v1M300 3v1M300 13v2M300 18v2M300 23v1M301 1v4M301 17v4M301 23v1M302 1v5M302 19v2M302 23v1M303 1v1M303 3v1M303 15v3M304 3v1M304 6v1M304 21v1M305 6v1M306 0v1M306 2v1M306 15v1M306 17v1M306 19v1M307 2v1M307 4v1M307 14v2M307 18v4M307 23v1M308 1v2M308 4v1M308 20v1M309 2v1M309 5v1M309 12v4M309 18v1M309 23v1M310 0v1M310 4v1M310 7v1M310 11v1M310 14v1M310 16v1M310 21v2M311 2v1M311 4v1M311 6v1M311 15v2M311 19v2M312 0v1M312 4v1M312 6v1M312 9v1M312 18v3M312 22v2M313 3v1M313 5v1M313 7v1M313 13v1M313 15v1M313 17v1M313 21v2M314 0v3M314 4v2M314 10v1M314 15v1M314 17v1M314 20v3M315 1v5M315 7v1M315 12v2M315 15v2M315 19v3M315 23v1M316 0v1M316 2v1M316 12v1M316 17v1M316 19v1M316 22v1M317 3v3M317 9v1M317 11v1M317 13v1M317 15v1M317 17v2M317 21v3M318 0v1M318 3v1M318 7v1M318 12v1M318 16v2M318 19v1M318 23v1M320 1v2M320 13v2M320 20v1M320 22v1M321 9v1M322 4v1M322 12v1M323 0v3M323 4v3M323 10v1M323 12v1M323 14v2M323 17v2M323 23v1M324 6v1M324 13v2M324 16v1M324 20v3M325 0v1M325 3v1M325 14v1M325 18v1M326 0v3M326 11v4M326 16v1M326 18v1M326 22v2M327 23v1M328 6v1M328 9v1M328 11v1M329 4v1M329 6v1M329 8v2M329 11v1M329 17v2M329 21v1M329 23v1M330 1v3M330 6v1M330 8v2M330 11v1M330 14v1M330 16v1M330 23v1M331 1v1M331 3v1M331 7v1M331 13v3M331 19v1M331 23v1M332 4v1M332 10v3M332 15v1M332 18v1M332 21v2M333 2v1M333 6v1M333 8v1M333 13v1M333 15v4M333 20v3M362 8v1"/><path stroke="#f1e076" d="M6 9v2M18 8v1M19 8v1M19 11v1M31 9v1M32 3v2M32 22v1M36 8v2M50 19v1M55 9v1M60 10v2M62 10v1M63 9v1M65 9v1M76 7v2M76 10v1M77 6v1M79 7v1M79 9v3M80 2v2M80 5v1M80 11v1M80 18v1M81 3v1M81 5v1M81 14v1M81 18v1M81 20v1M82 0v1M82 8v1M82 19v1M83 12v1M83 14v1M83 18v1M84 21v1M85 0v1M85 3v1M85 17v1M85 22v1M86 1v1M86 14v1M87 9v1M90 1v1M90 4v1M90 6v1M90 9v6M90 18v1M90 20v1M91 5v1M91 8v1M91 14v2M91 23v1M92 0v1M92 18v1M93 17v1M93 20v2M94 2v2M94 16v1M94 19v2M94 22v1M95 4v1M95 19v1M97 7v2M97 10v1M98 1v2M98 4v3M98 19v2M99 1v4M99 6v1M99 8v2M103 9v1M103 11v1M103 14v1M104 1v5M104 13v2M104 19v1M105 3v2M105 14v2M105 18v3M106 4v2M107 0v1M107 2v1M107 19v1M107 21v1M108 18v1M108 22v2M109 2v2M109 7v1M109 13v2M109 23v1M110 0v1M110 2v1M110 6v1M110 14v1M110 21v1M111 9v2M115 6v1M115 15v1M120 20v1M123 0v1M123 17v1M124 6v3M124 10v1M124 15v1M125 4v1M125 9v1M125 13v1M126 5v1M126 16v1M128 3v3M128 16v1M129 4v1M129 22v2M132 21v1M139 1v1M140 4v1M140 17v1M141 4v1M141 17v1M141 23v1M142 0v1M142 22v1M143 0v1M143 3v1M143 23v1M144 20v1M145 21v1M146 1v1M146 18v1M146 23v1M151 1v1M151 19v1M151 22v1M152 0v1M152 4v2M152 16v1M152 18v1M153 2v1M153 6v1M153 9v1M153 11v1M153 14v1M154 0v1M155 23v1M156 2v2M156 19v2M156 23v1M157 3v1M158 0v2M158 4v1M158 19v4M159 3v2M160 1v1M161 21v1M162 21v1M162 23v1M163 22v1M170 19v1M171 0v3M171 5v1M171 18v1M171 21v2M172 0v1M172 2v1M172 5v1M172 14v4M172 20v1M173 0v2M173 4v2M173 9v1M173 11v1M174 23v1M181 20v1M183 17v1M183 21v3M184 0v1M184 16v2M187 18v1M187 21v1M196 18v2M196 22v1M205 21v3M208 18v3M223 1v1M223 19v1M223 21v1M224 3v1M224 18v2M224 23v1M225 1v1M225 23v1M226 22v1M227 18v1M228 1v1M228 8v1M228 10v1M228 12v1M228 19v1M228 23v1M229 5v1M230 1v1M230 3v1M230 18v2M231 20v1M231 23v1M232 22v1M237 22v1M239 19v1M239 21v1M240 17v2M240 21v1M241 18v1M241 22v1M242 19v1M242 22v1M243 6v1M243 12v1M243 15v1M243 17v1M245 9v3M246 8v1M246 10v2M247 13v2M247 17v1M247 21v2M248 4v1M248 16v2M248 19v2M249 2v1M249 4v1M249 16v1M249 19v3M250 1v2M250 4v1M250 21v1M251 2v3M251 18v2M251 21v2M252 1v1M252 21v1M253 5v1M253 16v2M254 2v2M254 23v1M255 15v2M256 16v1M256 19v1M256 21v2M257 19v3M258 20v1M259 0v1M259 22v2M260 0v1M260 19v1M261 0v1M261 2v2M261 17v1M261 21v2M262 1v1M262 23v1M263 1v1M263 18v1M263 21v2M264 1v1M265 3v2M265 6v1M265 12v1M265 14v1M265 21v1M265 23v1M266 14v1M266 16v1M266 18v1M266 20v4M267 1v2M267 23v1M268 2v1M268 21v1M268 23v1M269 0v1M269 19v3M270 0v1M271 0v1M271 21v1M272 1v2M273 1v1M273 3v1M273 5v1M273 8v1M273 10v1M273 14v1M273 18v2M273 22v1M274 7v1M274 9v1M276 4v1M276 6v1M276 9v1M276 11v1M276 13v1M276 22v1M277 3v1M277 10v1M277 12v2M277 15v1M277 18v1M277 21v2M278 1v1M278 5v1M279 4v1M279 12v4M279 17v1M279 19v1M279 22v1M280 0v1M280 10v1M281 0v1M281 2v1M281 13v1M281 15v1M281 18v2M281 21v1M282 0v1M282 8v3M282 12v2M282 15v4M282 21v1M283 0v2M283 4v1M283 18v1M283 20v1M283 22v1M284 3v1M284 20v4M285 22v1M286 0v1M286 3v3M286 19v1M286 22v2M287 10v1M287 15v2M287 23v1M288 0v1M288 2v2M288 15v1M288 23v1M293 2v1M293 4v2M293 8v1M294 1v1M294 3v1M294 5v3M294 12v1M294 14v1M294 18v1M294 20v1M294 23v1M295 4v1M295 19v1M295 21v1M295 23v1M296 14v1M296 19v3M297 2v1M297 6v4M297 13v1M297 15v2M297 18v1M297 22v1M298 0v1M298 2v2M298 10v4M298 15v1M298 22v2M299 1v1M299 3v1M299 14v1M299 18v2M299 21v1M300 4v3M300 12v1M300 15v2M300 20v3M301 0v1M301 5v1M301 16v1M301 21v2M302 18v1M302 21v2M303 12v1M304 10v1M305 10v2M306 1v1M306 4v3M306 10v1M306 12v2M306 16v1M306 22v2M307 0v1M307 6v1M307 12v2M308 3v1M308 5v1M308 16v1M308 18v1M308 23v1M309 3v1M309 17v1M309 19v1M309 21v1M310 1v3M310 6v1M310 10v1M310 12v2M310 17v4M310 23v1M311 5v1M311 7v5M311 18v1M311 21v3M312 1v1M312 7v2M312 10v8M312 21v1M313 0v1M313 2v1M313 6v1M313 8v3M313 23v1M314 6v3M314 11v1M314 13v2M315 0v1M315 8v1M315 10v2M315 17v2M315 22v1M316 3v3M316 13v1M316 16v1M316 18v1M316 23v1M317 0v3M317 8v1M317 12v1M317 19v2M318 2v1M318 6v1M318 8v1M318 13v2M318 18v1M318 20v3M319 3v3M319 15v1M320 3v1M320 12v1M320 15v1M320 19v1M320 23v1M321 10v1M323 8v2M323 13v1M323 19v1M324 0v2M324 5v1M324 12v1M324 15v1M324 17v3M324 23v1M325 4v2M325 19v1M325 21v1M325 23v1M326 3v3M326 9v2M326 15v1M326 17v1M326 19v2M327 14v1M328 7v2M329 3v1M329 5v1M329 16v1M329 19v2M329 22v1M330 4v1M330 7v1M330 10v1M330 12v1M330 15v1M330 17v1M330 19v4M331 2v1M331 4v3M331 8v1M331 10v2M331 16v2M331 20v2M332 0v4M332 7v1M332 13v1M332 16v2M332 19v2M333 0v1M333 3v3M333 7v1M333 9v1M333 11v1M333 19v1M333 23v1M337 9v1"/><path stroke="#f0d96c" d="M32 7v1M42 7v1M60 8v2M62 8v2M63 8v1M63 10v1M66 6v1M79 8v1M80 6v2M81 12v2M81 22v1M84 6v1M84 17v1M85 2v1M85 4v1M85 16v1M86 6v2M86 10v1M86 21v1M90 23v1M91 6v1M91 10v1M91 12v2M91 21v2M92 3v1M92 21v1M92 23v1M93 18v1M93 23v1M94 4v2M94 15v1M95 1v1M95 5v1M95 13v1M95 18v1M95 20v1M95 23v1M98 0v1M98 21v1M99 5v1M104 7v1M104 10v1M104 12v1M104 20v1M105 12v1M105 21v1M107 1v1M107 23v1M108 17v1M109 6v1M109 8v3M110 12v1M110 15v1M111 6v2M113 12v1M115 14v1M120 18v2M120 21v1M120 23v1M121 22v1M122 23v1M123 4v3M123 8v1M123 16v1M124 1v1M124 3v2M124 13v1M125 14v2M125 17v1M126 0v1M126 3v2M126 9v1M126 12v4M127 3v2M127 16v2M128 15v1M129 0v1M129 3v1M129 21v1M131 21v1M132 17v4M132 22v2M133 21v2M134 21v1M139 3v1M139 18v1M139 22v1M140 1v2M141 0v1M141 2v1M141 11v3M141 15v1M143 20v1M144 0v2M144 4v1M144 18v1M145 2v1M146 0v1M146 2v1M147 20v2M147 23v1M148 21v1M149 19v1M151 3v3M151 9v1M153 1v1M153 3v1M153 5v1M153 13v1M154 3v3M155 0v1M156 1v1M157 2v1M157 4v1M157 15v3M158 3v1M158 5v1M159 0v3M160 3v1M160 5v1M160 9v2M160 18v1M160 22v2M164 18v1M165 18v1M168 2v1M168 18v1M168 21v2M169 18v1M169 22v1M170 0v1M170 2v1M170 20v3M171 3v1M171 15v1M171 19v1M172 1v1M172 4v1M172 10v1M172 13v1M173 2v2M173 10v1M173 17v1M174 6v1M175 18v1M176 18v1M180 21v1M181 22v2M183 0v2M183 16v1M184 2v2M186 19v4M187 19v2M187 22v1M194 0v1M194 18v3M196 20v2M196 23v1M199 21v1M201 17v1M201 19v4M205 0v1M205 2v1M205 4v1M205 16v5M207 20v1M207 23v1M208 21v3M217 22v1M220 19v1M222 18v1M222 23v1M223 0v1M223 2v1M224 0v1M224 20v3M225 0v1M225 2v1M225 18v5M226 0v1M228 0v1M228 2v1M228 16v1M229 2v1M229 10v2M229 14v1M230 0v1M230 2v1M230 22v2M231 18v1M236 0v1M236 22v1M237 0v1M238 17v1M239 0v3M241 0v2M241 17v1M242 16v1M242 18v1M243 13v1M244 8v1M247 15v1M247 20v1M247 23v1M248 5v1M248 18v1M249 3v1M250 0v1M250 17v1M250 19v2M251 5v1M252 0v1M252 2v1M252 4v1M252 22v2M254 4v2M256 17v2M257 16v1M258 22v1M260 1v2M260 16v2M261 23v1M262 21v1M263 2v1M264 0v1M264 2v2M264 19v1M265 7v1M265 13v1M265 18v2M265 22v1M266 4v2M266 15v1M267 0v1M267 3v2M267 19v1M268 0v2M268 3v1M268 18v3M268 22v1M269 2v1M269 22v1M270 1v2M270 18v4M271 5v1M271 17v1M273 4v1M273 7v1M273 9v1M273 11v2M273 23v1M274 6v1M274 10v1M276 8v1M276 12v1M276 14v2M276 17v3M276 21v1M277 6v2M277 11v1M278 3v1M278 16v1M278 22v1M279 3v1M279 5v2M279 18v1M280 4v1M280 8v2M280 12v3M281 4v1M281 7v1M281 11v2M281 22v1M282 2v3M282 7v1M282 14v1M282 19v1M283 2v2M283 5v1M283 19v1M284 5v1M285 0v2M285 18v1M285 23v1M286 6v1M286 20v1M287 9v1M288 5v1M288 11v2M288 16v1M293 9v3M294 8v1M294 16v1M294 19v1M294 21v2M295 14v1M295 22v1M296 1v1M296 5v2M296 12v1M296 15v1M296 18v1M298 5v1M298 19v1M299 0v1M299 4v4M299 12v2M299 15v1M299 20v1M300 2v1M302 6v1M302 16v2M303 5v1M303 11v1M303 14v1M304 9v1M304 11v1M305 8v2M306 3v1M306 8v2M306 14v1M306 18v1M306 20v1M307 16v1M308 6v1M308 15v1M308 17v1M308 21v1M309 0v1M309 6v1M309 8v1M309 22v1M310 5v1M310 9v1M310 15v1M311 14v1M312 2v2M312 5v1M313 1v1M313 14v1M313 16v1M313 18v1M313 20v1M314 16v1M314 18v2M314 23v1M316 1v1M316 7v1M317 6v2M317 14v1M318 4v2M318 9v3M319 2v1M319 8v3M319 12v3M319 18v2M320 5v2M321 8v1M321 11v1M324 3v2M324 7v1M324 11v1M325 2v1M325 6v1M325 12v2M325 22v1M326 8v1M328 10v1M329 0v2M329 7v1M329 10v1M329 12v1M329 14v2M330 13v1M331 18v1M332 9v1M332 23v1M333 1v1M333 10v1M333 12v1M337 6v3M337 10v2"/><path stroke="#f0d262" d="M19 6v2M19 9v2M42 11v1M54 11v1M64 6v1M77 11v1M80 8v3M83 6v1M85 5v1M86 8v2M86 11v1M90 3v1M91 11v1M92 1v2M93 16v1M95 2v1M95 12v1M99 7v1M99 10v2M104 6v1M104 9v1M105 13v1M107 3v2M108 0v2M109 11v1M110 4v2M113 13v2M115 7v1M115 13v1M120 22v1M121 20v1M122 20v2M123 9v2M123 15v1M124 2v1M124 5v1M124 12v1M124 14v1M125 12v1M126 2v1M126 11v1M126 23v1M127 5v1M127 15v1M128 6v1M128 11v1M131 1v1M131 18v3M131 22v2M132 0v1M132 16v1M133 19v2M134 18v1M134 22v1M138 18v1M138 21v1M139 0v1M139 4v1M139 16v1M139 19v3M139 23v1M140 3v1M140 5v1M140 16v1M141 3v1M141 6v4M141 14v1M142 4v1M143 4v2M144 2v1M145 0v2M146 3v1M147 19v1M147 22v1M148 18v3M149 18v1M149 20v1M149 22v2M150 0v1M151 6v1M151 8v1M151 10v2M151 15v1M151 17v1M153 4v1M153 12v1M154 6v1M154 11v1M155 1v1M156 4v2M157 1v1M157 5v1M157 14v1M159 5v3M160 4v1M160 6v1M160 8v1M161 20v1M162 0v1M165 19v5M168 0v1M168 17v1M168 19v2M168 23v1M169 1v1M169 20v2M169 23v1M170 3v3M170 11v1M170 16v1M170 23v1M171 4v1M171 12v1M173 6v3M174 0v3M174 11v1M175 20v1M176 21v3M180 7v1M180 16v1M180 18v3M180 22v2M181 19v1M181 21v1M182 20v1M182 22v1M183 2v1M184 1v1M184 4v2M184 14v1M186 18v1M186 23v1M187 23v1M194 2v1M194 21v3M195 19v2M196 17v1M197 21v1M198 18v1M199 18v2M200 21v1M200 23v1M201 18v1M201 23v1M202 19v1M202 22v1M203 18v1M204 17v1M205 1v1M205 3v1M205 5v1M205 14v2M206 19v1M206 21v1M207 19v1M208 17v1M217 19v3M217 23v1M218 20v2M220 20v2M222 0v1M222 17v1M224 1v2M224 4v2M225 3v2M228 6v1M228 11v1M228 13v3M228 17v1M229 7v3M229 13v1M229 16v1M230 4v2M230 15v3M230 21v1M232 19v2M237 1v3M237 16v2M238 1v1M238 3v1M238 16v1M239 3v2M239 15v1M240 0v1M240 16v1M241 16v1M247 10v1M248 22v1M249 5v1M249 15v1M249 17v1M250 3v1M250 23v1M251 17v1M252 3v1M253 15v1M254 17v1M255 6v1M256 23v1M257 15v1M258 3v2M259 1v2M260 3v2M261 4v1M263 0v1M264 4v2M264 18v1M264 20v1M264 22v2M265 20v1M266 6v1M266 19v1M267 5v1M268 4v1M269 1v1M269 5v1M269 18v1M269 23v1M270 3v2M270 22v2M271 3v1M271 18v3M272 0v1M272 19v1M272 23v1M273 0v1M274 8v1M277 8v2M278 6v1M278 12v1M278 17v1M279 7v1M281 5v2M281 9v1M282 11v1M284 6v1M285 2v2M285 16v1M285 21v1M286 12v1M286 14v1M286 16v1M288 1v1M288 7v3M288 21v1M294 4v1M294 13v1M294 15v1M295 6v1M295 11v3M295 15v1M295 17v1M296 11v1M300 7v2M300 10v2M301 6v2M301 13v1M301 15v1M302 15v1M303 13v1M304 7v2M306 7v1M306 11v1M307 5v1M307 11v1M308 13v2M309 7v1M309 9v2M311 17v1M313 4v1M316 11v1M316 20v1M317 16v1M319 0v2M319 6v2M319 11v1M319 17v1M319 20v1M319 22v2M320 7v1M320 11v1M324 10v1M325 8v1M325 11v1M329 13v1"/><path stroke="#f0cb58" d="M54 7v2M66 11v1M77 7v1M81 6v1M81 11v1M83 8v2M84 15v2M85 15v1M91 7v1M92 4v1M95 7v1M95 11v1M104 8v1M104 11v1M105 11v1M106 16v2M107 5v1M107 17v1M108 2v2M108 16v1M110 9v1M113 6v2M113 11v1M115 11v2M121 18v2M121 23v1M122 0v1M122 18v2M126 6v3M126 10v1M127 6v2M127 11v1M127 14v1M128 8v3M128 14v1M129 5v1M130 0v1M130 20v1M132 1v1M132 15v1M133 17v1M133 23v1M134 19v1M134 23v1M138 20v1M138 23v1M139 5v1M139 17v1M141 5v1M141 10v1M144 3v1M146 5v1M147 0v2M147 18v1M148 22v2M149 0v1M149 21v1M150 1v1M150 3v1M150 22v1M151 7v1M154 9v1M154 15v1M154 17v1M155 2v1M156 16v2M157 6v4M157 12v1M159 8v4M159 16v2M160 7v1M160 11v1M160 16v2M161 0v2M163 16v1M164 20v1M164 22v1M165 0v1M165 2v1M166 18v1M166 20v1M166 23v1M168 1v1M168 3v1M168 15v1M169 19v1M170 1v1M170 7v1M170 10v1M170 12v1M170 15v1M170 17v2M171 6v1M171 13v1M171 16v1M173 12v1M173 14v3M174 3v2M174 7v2M174 10v1M174 16v2M175 19v1M176 19v2M179 18v5M180 2v1M180 13v1M180 15v1M180 17v1M181 18v1M183 3v1M184 12v1M184 15v1M185 21v1M187 16v2M188 18v1M188 22v1M194 1v1M194 3v1M195 21v2M196 2v1M196 16v1M197 19v1M198 3v1M198 19v1M198 21v2M199 20v1M199 23v1M200 19v1M200 22v1M201 16v1M202 23v1M203 0v1M203 19v1M203 21v3M204 18v1M206 0v1M206 18v1M206 20v1M206 22v1M207 21v2M208 0v3M208 16v1M217 0v2M218 19v1M218 22v1M220 22v2M221 19v2M222 2v1M222 5v1M222 15v2M222 19v4M223 3v2M224 6v1M225 5v1M226 17v1M227 0v1M228 4v2M229 6v1M229 12v1M229 15v1M231 0v1M231 2v1M232 1v1M232 17v2M233 2v1M234 3v1M236 1v1M236 18v2M236 23v1M238 6v1M238 15v1M239 14v1M240 15v1M241 2v1M242 0v1M247 6v4M247 11v2M248 15v1M250 16v1M251 16v1M252 5v1M253 7v1M254 16v1M255 9v6M256 12v1M257 6v3M257 10v2M257 13v2M258 5v1M258 16v1M259 3v1M260 5v1M261 5v1M262 0v1M262 17v1M264 17v1M265 8v1M265 11v1M266 8v4M268 5v1M269 3v2M271 4v1M272 4v2M272 15v2M272 20v2M278 8v1M278 13v3M279 9v3M281 8v1M281 10v1M283 14v3M284 17v1M285 4v1M285 6v1M286 11v1M286 15v1M288 10v1M295 16v1M296 7v4M299 8v1M299 10v1M300 9v1M301 12v1M301 14v1M302 14v1M303 7v1M307 7v1M308 11v2M309 11v1M313 11v1M316 9v1M319 16v1M319 21v1M324 8v2M325 9v1"/><path stroke="#efc34e" d="M42 8v1M42 10v1M54 10v1M64 7v1M64 11v1M77 8v1M81 9v1M83 11v1M84 13v1M85 6v1M85 13v2M91 9v1M92 5v1M92 16v2M93 0v1M93 15v1M94 12v1M94 14v1M95 9v2M105 6v1M105 8v3M108 5v1M110 7v2M110 11v1M113 10v1M115 9v1M121 21v1M122 22v1M123 7v1M123 11v4M127 8v3M127 13v1M128 7v1M128 12v2M130 1v1M130 21v1M130 23v1M131 0v1M131 2v1M131 17v1M132 2v1M133 16v1M133 18v1M134 20v1M135 19v1M136 21v1M138 19v1M138 22v1M139 14v2M140 6v1M140 12v1M142 5v1M142 15v3M143 16v2M144 17v1M145 3v1M146 4v1M146 17v1M147 2v1M148 0v1M148 16v1M149 1v1M150 2v1M150 4v2M150 18v4M150 23v1M154 7v2M154 10v1M154 16v1M155 4v1M156 6v1M157 10v1M157 13v1M158 9v1M159 15v1M160 12v4M161 3v1M161 16v1M162 1v2M162 4v2M163 1v3M163 17v1M164 21v1M164 23v1M165 1v1M165 4v1M166 21v2M167 19v1M168 4v2M168 8v1M168 16v1M169 0v1M169 2v3M169 16v1M170 8v1M170 13v1M171 7v5M171 14v1M174 5v1M174 9v1M174 15v1M175 22v1M176 17v1M178 21v1M178 23v1M179 23v1M180 0v2M180 3v1M180 6v1M180 10v2M180 14v1M181 17v1M182 0v1M182 18v2M182 21v1M182 23v1M183 4v2M183 10v1M183 15v1M184 6v1M184 13v1M185 18v1M186 17v1M188 19v2M189 18v5M195 0v1M195 23v1M196 0v2M196 4v1M196 10v1M196 15v1M197 20v1M197 23v1M198 0v3M198 20v1M199 22v1M200 18v1M201 1v2M202 20v2M203 2v2M204 21v1M205 8v1M206 1v1M206 3v1M206 23v1M207 17v2M208 3v2M208 14v1M211 19v2M211 22v2M217 2v3M217 16v3M218 18v1M219 18v1M219 22v1M220 1v1M220 18v1M221 21v1M221 23v1M222 3v1M223 5v2M223 8v1M224 11v1M224 16v1M225 16v2M226 1v2M227 1v1M227 17v1M228 3v1M230 9v1M230 13v2M231 16v2M232 0v1M232 21v1M232 23v1M233 19v2M234 0v3M234 4v2M234 16v4M234 21v1M235 19v1M235 21v1M235 23v1M236 2v2M236 17v1M236 20v2M237 5v1M238 0v1M238 2v1M238 14v1M239 5v2M239 13v1M240 1v5M241 3v2M241 15v1M242 1v1M249 7v1M249 10v1M250 5v1M250 15v1M252 17v1M253 6v1M253 8v4M253 14v1M255 7v2M257 9v1M257 12v1M258 17v1M259 4v2M259 17v1M261 16v1M262 2v2M263 5v1M263 17v1M265 10v1M266 7v1M267 16v2M269 17v1M270 5v1M270 15v3M271 15v1M271 22v2M272 3v1M272 17v2M272 22v1M279 8v1M283 6v1M283 12v2M284 15v2M285 5v1M285 17v1M286 7v2M286 10v1M286 13v1M295 8v1M299 9v1M301 8v1M301 11v1M302 7v1M302 11v2M303 8v3M307 9v1M308 7v4M316 6v1M316 8v1M320 8v2M325 7v1M325 10v1"/><path stroke="#eebb47" d="M54 9v1M64 9v1M66 7v1M77 10v1M83 7v1M83 10v1M84 11v2M84 14v1M93 1v5M94 6v2M95 6v1M95 8v1M105 7v1M106 6v1M106 15v1M107 16v1M108 4v1M113 8v2M115 8v1M115 10v1M120 0v1M121 0v2M122 1v3M122 16v2M127 12v1M129 17v1M130 18v1M131 4v2M132 3v3M132 12v3M133 15v1M134 16v1M135 23v1M136 18v2M136 23v1M140 7v4M140 13v3M144 5v1M145 4v1M145 17v1M146 16v1M147 3v3M147 16v2M148 2v1M148 4v2M149 2v2M151 14v1M151 16v1M154 13v2M155 3v1M155 5v1M155 10v1M155 15v1M156 9v1M158 6v1M158 10v1M158 17v1M159 13v1M161 2v1M161 17v1M162 3v1M162 17v1M163 0v1M163 4v1M163 15v1M164 1v2M164 17v1M164 19v1M165 3v1M166 19v1M167 0v1M167 21v1M168 6v1M169 5v1M169 14v2M169 17v1M170 6v1M170 9v1M170 14v1M173 13v1M174 13v2M175 21v1M175 23v1M178 18v1M178 20v1M178 22v1M179 16v2M180 4v2M180 8v2M180 12v1M181 0v1M181 2v1M182 4v1M183 7v2M183 11v1M183 13v2M184 10v2M185 23v1M186 0v2M186 16v1M187 0v2M187 15v1M188 21v1M188 23v1M189 23v1M190 22v1M191 21v1M192 18v1M192 22v2M193 19v4M194 4v2M195 1v2M195 18v1M196 3v1M196 5v1M196 11v1M197 22v1M198 4v2M198 23v1M199 0v2M199 16v2M200 20v1M201 3v3M203 1v1M203 5v1M204 15v2M204 19v2M204 23v1M205 12v2M206 2v1M206 5v1M207 1v1M208 5v1M208 12v1M209 19v1M209 21v3M210 23v1M211 21v1M217 5v1M217 15v1M218 23v1M219 19v1M220 0v1M220 2v1M220 4v1M220 16v2M221 16v1M221 22v1M222 1v1M223 9v1M223 11v1M223 15v3M224 8v1M224 15v1M224 17v1M225 7v2M226 4v1M227 2v2M227 16v1M230 7v2M230 12v1M231 3v1M231 5v1M232 3v1M233 0v2M233 21v1M234 15v1M234 20v1M234 22v2M235 18v1M235 20v1M235 22v1M236 4v2M236 16v1M237 4v1M237 14v2M238 7v1M238 9v1M239 7v2M239 12v1M240 7v1M240 12v3M241 5v1M242 2v1M242 5v1M242 12v1M242 14v2M249 8v2M249 11v2M250 10v1M250 14v1M251 15v1M254 15v1M256 6v1M256 10v1M256 15v1M258 6v2M258 15v1M261 9v1M261 11v1M262 5v1M263 3v2M263 16v1M264 11v1M264 14v3M264 21v1M265 9v1M267 6v2M267 10v1M268 8v1M268 16v2M271 16v1M278 7v1M278 9v3M283 8v2M283 11v1M284 7v1M284 11v3M285 11v1M286 9v1M295 7v1M295 9v2M301 9v1M302 13v1M307 8v1M307 10v1M316 10v1M320 10v1"/><path stroke="#edb341" d="M64 8v1M64 10v1M66 10v1M77 9v1M81 8v1M81 10v1M85 11v2M92 15v1M93 14v1M94 9v1M94 11v1M94 13v1M106 11v1M106 14v1M107 6v1M107 15v1M108 11v1M110 10v1M120 1v2M120 17v1M121 17v1M122 5v1M122 15v1M129 16v1M130 2v2M130 19v1M131 3v1M131 16v1M134 17v1M135 18v1M136 20v1M136 22v1M137 22v1M138 17v1M139 6v1M139 12v2M140 11v1M142 6v1M142 10v2M142 14v1M144 16v1M145 16v1M146 11v1M147 6v1M147 14v1M148 1v1M148 3v1M148 6v1M148 17v1M149 16v2M150 16v2M151 12v2M154 12v1M155 6v1M155 16v2M156 7v1M156 12v1M156 15v1M157 11v1M158 7v1M158 11v1M158 16v1M159 12v1M159 14v1M162 16v1M163 5v2M163 11v1M164 0v1M164 5v1M164 16v1M165 5v1M165 9v1M167 1v2M167 18v1M167 20v1M167 22v2M168 7v1M168 9v2M168 12v1M169 6v1M169 8v2M169 12v1M175 0v1M175 2v2M177 19v1M177 21v1M178 19v1M179 0v1M179 2v1M179 6v1M181 1v1M181 15v2M182 1v3M182 5v1M183 6v1M183 9v1M183 12v1M184 7v1M184 9v1M185 19v2M185 22v1M186 2v2M187 2v2M189 0v1M190 18v1M190 21v1M191 23v1M192 19v3M193 18v1M193 23v1M195 3v1M196 6v2M196 14v1M197 0v1M197 16v3M198 17v1M199 2v1M199 4v1M200 17v1M201 0v1M201 6v1M201 8v1M201 11v1M201 14v2M202 16v3M203 4v1M203 16v2M203 20v1M204 22v1M205 6v2M205 9v3M206 4v1M206 17v1M207 0v1M207 15v2M208 6v3M208 11v1M208 13v1M208 15v1M209 18v1M209 20v1M210 19v1M210 22v1M211 1v1M211 17v2M216 1v1M216 18v1M216 22v1M217 14v1M218 1v1M218 17v1M219 17v1M219 20v1M219 23v1M220 3v1M220 15v1M221 0v1M221 2v2M221 5v1M221 17v2M222 4v1M222 14v1M223 7v1M224 7v1M224 9v2M224 12v1M225 10v2M225 14v1M226 3v1M230 6v1M230 10v2M231 1v1M232 4v1M232 16v1M233 3v1M233 5v1M233 18v1M233 23v1M234 8v1M234 10v1M234 12v1M234 14v1M236 15v1M237 6v2M237 11v1M238 4v2M238 8v1M238 11v3M239 9v3M240 6v1M240 9v1M241 14v1M242 3v2M242 6v1M248 12v1M249 6v1M249 13v2M250 6v1M250 13v1M252 16v1M253 12v2M256 8v2M256 11v1M256 13v2M258 8v1M258 10v3M259 16v1M260 6v3M260 10v2M260 14v2M261 15v1M262 4v1M262 16v1M264 6v1M264 13v1M267 8v1M267 11v1M268 6v2M268 10v1M270 13v1M271 11v1M271 14v1M272 12v1M283 7v1M283 10v1M284 8v1M284 14v1M285 15v1M301 10v1M302 10v1"/><path stroke="#ebaa3b" d="M42 9v1M66 9v1M81 7v1M84 7v3M85 7v1M92 6v1M93 6v1M93 8v1M93 12v2M94 10v1M106 7v1M106 9v2M106 12v2M107 7v1M107 14v1M108 6v1M108 14v2M120 3v1M120 16v1M121 2v1M121 16v1M122 4v1M129 15v1M130 4v2M130 22v1M131 7v1M131 9v2M132 6v1M132 8v1M132 10v1M133 2v1M133 14v1M134 0v2M134 7v1M134 15v1M135 20v2M136 2v1M137 23v1M138 1v1M139 7v4M142 7v1M142 13v1M144 10v1M144 15v1M145 5v1M145 11v1M146 15v1M147 8v1M147 10v1M147 15v1M148 14v1M149 4v1M155 7v2M155 11v1M156 8v1M156 10v2M156 13v2M158 8v1M161 4v1M163 9v2M163 12v2M164 3v1M165 6v3M165 10v2M165 15v3M167 3v3M167 17v1M168 11v1M168 13v2M169 7v1M169 10v2M169 13v1M174 12v1M175 1v1M176 0v3M176 5v1M176 16v1M177 1v2M177 4v1M177 18v1M177 22v1M178 17v1M179 3v1M179 7v1M179 9v1M179 14v1M181 3v1M182 8v1M184 8v1M185 0v1M185 2v1M186 4v1M187 4v1M187 11v1M190 19v2M190 23v1M191 18v3M191 22v1M193 0v4M195 4v1M195 16v2M196 9v1M196 12v2M197 2v2M198 16v1M199 3v1M199 5v1M200 1v1M201 7v1M201 10v1M201 12v1M202 0v1M202 2v1M203 14v1M204 0v1M206 6v1M206 11v1M206 16v1M207 2v1M207 4v1M207 11v1M208 9v2M209 1v1M209 16v1M210 17v2M210 20v2M211 0v1M216 19v1M217 6v1M218 0v1M218 2v2M218 5v1M218 16v1M219 0v1M219 2v2M219 16v1M219 21v1M220 5v1M221 1v1M221 4v1M222 13v1M223 10v1M223 13v2M224 13v2M225 13v1M225 15v1M226 16v1M227 4v2M231 4v1M231 8v1M231 14v1M232 2v1M232 5v1M232 15v1M233 4v1M233 16v2M233 22v1M234 6v2M234 9v1M234 11v1M235 0v2M235 16v2M236 14v1M237 8v2M237 13v1M238 10v1M240 8v1M240 11v1M242 7v1M242 13v1M248 10v1M248 14v1M250 7v2M250 12v1M251 6v6M251 14v1M254 6v3M254 11v1M256 7v1M258 14v1M259 6v1M259 14v2M260 12v2M261 6v3M261 13v2M262 15v1M263 7v1M263 15v1M264 7v2M264 10v1M267 9v1M267 13v1M268 9v1M268 11v1M268 14v2M269 16v1M270 7v1M270 11v2M270 14v1M271 6v1M271 9v1M271 13v1M272 8v1M272 11v1M272 13v2M284 9v2M285 10v1M285 12v1M285 14v1M302 8v2"/><path stroke="#eaa235" d="M66 8v1M84 10v1M85 10v1M92 8v4M92 13v1M93 7v1M94 8v1M106 8v1M107 9v1M107 13v1M108 7v1M108 13v1M120 4v2M129 8v1M131 8v1M131 14v2M132 7v1M132 9v1M132 11v1M133 0v2M133 4v1M134 2v2M134 6v1M134 10v1M135 22v1M136 0v2M137 19v1M138 0v1M138 13v1M138 16v1M139 11v1M142 8v2M143 7v1M143 11v1M143 15v1M144 9v1M144 11v1M145 7v1M145 14v2M146 7v1M147 7v1M147 9v1M147 11v1M147 13v1M148 7v5M148 13v1M148 15v1M149 5v1M149 15v1M150 6v1M150 15v1M155 9v1M158 12v1M158 15v1M161 5v1M162 7v2M162 15v1M163 7v2M163 14v1M164 4v1M164 6v1M164 8v1M164 12v4M166 0v2M175 4v2M175 8v1M175 11v1M176 3v2M177 0v1M177 3v1M177 5v1M177 20v1M177 23v1M178 2v1M178 7v1M178 15v2M179 1v1M179 4v2M179 11v1M179 13v1M179 15v1M181 5v2M181 8v1M181 11v1M181 14v1M182 6v2M182 9v2M182 15v1M182 17v1M185 1v1M185 3v1M185 5v1M185 16v2M186 5v1M186 8v1M186 10v1M187 5v2M189 1v2M189 17v1M195 5v1M196 8v1M197 1v1M197 4v1M197 6v1M197 14v1M198 10v1M198 14v1M199 7v1M199 14v2M200 0v1M200 16v1M201 13v1M202 1v1M203 6v1M204 1v3M204 14v1M206 8v1M207 3v1M207 8v1M207 10v1M207 12v1M207 14v1M209 0v1M209 2v3M209 17v1M210 0v2M210 16v1M211 2v3M211 16v1M212 0v5M214 18v1M214 23v1M215 1v1M215 21v1M216 0v1M216 4v1M216 17v1M216 20v2M216 23v1M217 10v4M218 4v1M218 14v2M219 1v1M221 15v1M222 6v1M222 12v1M223 12v1M225 6v1M225 9v1M225 12v1M226 5v1M231 6v1M231 9v2M231 15v1M232 7v2M232 12v3M234 13v1M235 2v2M235 15v1M236 13v1M237 10v1M237 12v1M240 10v1M241 6v1M241 11v3M242 11v1M248 13v1M250 9v1M250 11v1M252 7v2M252 10v1M252 14v2M254 9v2M254 12v3M258 9v1M260 9v1M261 10v1M261 12v1M262 11v1M262 14v1M263 6v1M263 14v1M264 9v1M264 12v1M267 12v1M267 14v2M270 6v1M270 8v1M270 10v1M271 7v1M271 12v1M272 6v2M272 10v1M285 7v1M285 13v1"/><path stroke="#e99930" d="M85 8v1M92 7v1M92 12v1M92 14v1M93 11v1M107 8v1M107 10v1M107 12v1M108 8v3M108 12v1M120 6v1M120 8v1M120 11v1M120 14v2M121 3v2M122 13v1M129 7v1M129 11v1M130 17v1M131 11v1M131 13v1M133 3v1M133 5v1M133 12v2M134 4v2M134 8v2M134 12v3M135 1v1M136 17v1M137 1v1M137 20v1M138 2v1M138 4v1M138 6v1M138 14v2M142 12v1M143 6v1M143 8v3M144 6v2M144 13v1M145 6v1M145 8v2M146 6v1M146 8v3M146 12v3M147 12v1M148 12v1M149 6v1M150 7v3M150 11v1M150 13v2M161 11v1M161 15v1M162 6v1M162 9v3M162 13v2M164 7v1M164 11v1M166 2v1M166 17v1M167 16v1M175 7v1M175 9v2M175 17v1M176 9v1M176 15v1M177 16v2M178 0v2M178 5v2M178 9v1M179 8v1M179 10v1M179 12v1M181 4v1M181 9v1M181 13v1M182 11v1M182 13v2M185 4v1M186 6v2M186 9v1M186 11v1M186 14v2M187 8v2M187 12v1M187 14v1M188 2v1M188 16v2M189 3v1M189 16v1M190 16v2M191 16v1M192 0v2M193 4v2M193 17v1M194 8v1M194 16v2M195 6v1M197 7v1M198 7v1M198 9v1M198 11v1M198 13v1M198 15v1M199 6v1M199 8v1M199 10v1M199 12v2M200 2v2M201 9v1M202 3v4M202 11v2M202 15v1M203 8v1M203 13v1M203 15v1M204 5v1M204 12v2M206 7v1M206 10v1M206 14v2M207 5v3M207 9v1M209 5v1M209 15v1M210 2v2M211 11v1M212 17v1M214 19v1M214 21v2M215 3v1M215 18v1M215 20v1M215 22v1M216 3v1M217 7v3M218 8v1M218 10v1M219 4v2M220 12v1M220 14v1M221 14v1M222 8v4M226 15v1M227 8v1M227 15v1M231 7v1M231 11v2M232 6v1M232 9v3M233 7v1M233 13v3M236 7v2M236 10v1M236 12v1M241 10v1M242 8v1M242 10v1M248 7v1M248 9v1M248 11v1M251 12v2M252 6v1M252 9v1M252 13v1M258 13v1M259 7v5M262 8v1M263 8v5M268 12v2M269 6v1M269 8v3M269 13v1M269 15v1M270 9v1M271 8v1M271 10v1M272 9v1M285 8v1"/><path stroke="#e9932f" d="M85 9v1M93 9v2M107 11v1M120 7v1M120 13v1M121 5v1M121 14v2M122 7v1M122 11v2M129 6v1M129 9v2M130 13v1M130 16v1M131 6v1M131 12v1M133 7v1M136 3v2M136 16v1M137 0v1M137 2v2M137 18v1M137 21v1M138 3v1M138 5v1M138 7v2M138 10v2M143 13v2M144 8v1M144 14v1M145 10v1M145 12v2M149 8v1M149 11v1M149 13v1M155 13v2M158 13v2M161 6v4M161 14v1M164 9v2M165 12v1M166 3v2M166 16v1M167 15v1M175 15v2M176 6v2M176 10v1M177 15v1M178 3v1M178 8v1M178 13v2M181 7v1M181 10v1M181 12v1M182 12v1M182 16v1M185 7v5M185 13v1M185 15v1M186 12v1M187 7v1M187 10v1M188 0v2M188 11v1M188 15v1M189 4v1M190 0v1M190 3v1M191 17v1M192 2v2M192 17v1M193 16v1M194 6v2M194 10v2M194 15v1M195 7v2M195 12v4M197 5v1M197 8v1M197 10v1M197 12v1M197 15v1M198 6v1M198 8v1M198 12v1M199 11v1M200 4v1M200 15v1M202 7v4M202 14v1M203 7v1M203 9v3M204 4v1M204 9v1M206 9v1M206 12v2M207 13v1M209 14v1M210 8v1M210 12v1M210 14v1M211 5v6M211 12v1M211 14v2M212 5v1M212 15v2M212 18v3M212 22v1M213 0v1M213 16v1M215 0v1M215 2v1M215 4v1M215 19v1M216 2v1M216 5v1M216 15v2M218 6v2M218 9v1M218 12v1M219 14v2M220 6v1M220 8v1M221 12v1M222 7v1M226 6v1M226 8v1M226 14v1M227 6v2M227 10v1M231 13v1M233 9v4M235 4v3M235 8v2M236 9v1M241 7v3M242 9v1M248 6v1M248 8v1M252 11v2M259 12v1M262 12v2M263 13v1M269 11v1M269 14v1"/><path stroke="#e88d2e" d="M120 9v2M122 6v1M122 9v2M122 14v1M129 13v2M130 8v1M130 10v3M130 15v1M133 6v1M133 8v4M134 11v1M135 2v1M135 17v1M136 5v1M137 4v2M137 9v1M137 16v2M138 12v1M144 12v1M149 9v1M150 10v1M150 12v1M155 12v1M161 10v1M161 12v1M165 13v2M166 5v1M166 8v2M166 15v1M167 11v1M167 14v1M175 6v1M175 13v1M176 8v1M176 11v2M176 14v1M177 9v2M178 4v1M178 11v2M185 6v1M185 12v1M185 14v1M188 3v4M189 5v1M189 15v1M190 1v2M190 4v1M190 15v1M191 0v2M191 5v1M194 9v1M194 14v1M195 10v2M197 9v1M197 11v1M197 13v1M199 9v1M200 5v1M200 7v1M200 10v1M203 12v1M204 6v2M204 11v1M209 6v6M210 4v3M210 9v1M210 13v1M210 15v1M211 13v1M212 6v2M212 11v4M213 2v2M213 17v1M213 20v4M214 1v2M214 20v1M215 5v1M215 16v1M215 23v1M216 6v2M216 14v1M218 11v1M218 13v1M220 10v2M220 13v1M221 6v1M221 11v1M221 13v1M226 7v1M226 9v3M227 9v1M227 12v3M233 6v1M235 7v1M235 10v5M236 6v1M236 11v1M259 13v1M262 6v2M262 9v2M269 7v1M269 12v1M285 9v1"/><path stroke="#e8862d" d="M121 6v1M121 11v1M121 13v1M122 8v1M130 6v2M130 9v1M130 14v1M135 0v1M135 3v2M137 15v1M138 9v1M143 12v1M149 7v1M149 10v1M149 12v1M149 14v1M161 13v1M162 12v1M166 6v2M166 11v1M166 13v1M167 6v5M167 13v1M175 12v1M176 13v1M177 6v1M178 10v1M186 13v1M187 13v1M188 8v2M189 6v2M189 11v1M190 5v1M191 2v1M192 4v1M192 16v1M193 6v1M193 11v1M195 9v1M200 6v1M200 8v1M200 12v1M202 13v1M204 8v1M204 10v1M209 12v2M210 7v1M210 10v2M212 9v1M212 21v1M212 23v1M213 1v1M213 4v1M213 15v1M213 18v2M214 0v1M214 4v1M216 11v2M219 12v2M220 7v1M220 9v1M221 10v1M226 13v1M233 8v1"/><path stroke="#e7802d" d="M120 12v1M121 10v1M129 12v1M135 5v1M135 15v2M136 6v1M136 9v2M137 6v3M137 11v1M166 10v1M177 7v2M177 11v1M177 13v2M188 7v1M188 10v1M188 12v3M189 10v1M189 14v1M190 6v1M190 8v1M190 14v1M191 3v1M191 7v1M191 14v2M192 5v1M193 7v1M193 9v2M194 12v1M200 9v1M200 11v1M200 13v2M212 8v1M213 6v1M214 3v1M214 16v2M216 8v1M216 10v1M216 13v1M221 7v3M226 12v1M227 11v1"/><path stroke="#e7792c" d="M121 12v1M135 9v3M135 14v1M136 8v1M136 11v1M137 10v1M137 12v1M137 14v1M166 12v1M166 14v1M167 12v1M175 14v1M177 12v1M190 7v1M190 9v4M191 4v1M191 6v1M191 8v1M191 10v2M193 8v1M193 15v1M194 13v1M213 5v1M213 7v2M213 11v3M214 5v1M215 17v1M216 9v1M219 7v1M219 10v2"/><path stroke="#e6732b" d="M121 7v2M135 7v2M136 7v1M136 15v1M137 13v1M189 8v2M189 12v2M190 13v1M191 12v2M192 6v1M192 8v3M192 15v1M193 14v1M212 10v1M213 9v1M213 14v1M214 15v1M215 7v1M215 12v1M215 15v1M219 6v1M219 9v1"/><path stroke="#e66d2a" d="M121 9v1M135 6v1M135 12v2M136 13v2M191 9v1M192 12v3M193 12v2M213 10v1M215 6v1M215 8v1M215 14v1M219 8v1"/><path stroke="#e6692a" d="M136 12v1M192 7v1M192 11v1M215 9v3M215 13v1"/><path stroke="#e5652a" d="M214 6v7M214 14v1"/><path stroke="#e5612a" d="M214 13v1"/></svg></g><path d="M93.40 1863.17H1403.40M93.40 1949.35H1403.40M93.40 2035.52H1403.40M204.66 1777.00V2121.70M305.15 1777.00V2121.70M416.41 1777.00V2121.70M524.08 1777.00V2121.70M635.35 1777.00V2121.70M743.02 1777.00V2121.70M854.28 1777.00V2121.70M965.54 1777.00V2121.70M1073.21 1777.00V2121.70M1184.47 1777.00V2121.70M1292.14 1777.00V2121.70" stroke="#262420" stroke-width="1.7" fill="none"/><rect x="93.40" y="1777.00" width="1310.00" height="344.70" stroke="#262420" stroke-width="1.7" fill="none"/><rect x="1417.8" y="1777.30" width="25.7" height="345.10" fill="url(#cb)"/><text transform="matrix(1 0 0 1.04 8.3 1758.7)" font-size="41.0">PC-TC</text><text transform="matrix(1 0 0 1.04 84.7 1799.7)" font-size="26.0" text-anchor="end">12 AM</text><text transform="matrix(1 0 0 1.04 84.7 1877.5)" font-size="26.0" text-anchor="end">6 PM</text><text transform="matrix(1 0 0 1.04 84.7 1962.3)" font-size="26.0" text-anchor="end">12 PM</text><text transform="matrix(1 0 0 1.04 84.7 2048.3)" font-size="26.0" text-anchor="end">6 AM</text><text transform="matrix(1 0 0 1.04 84.7 2124.3)" font-size="26.0" text-anchor="end">12 AM</text><text transform="matrix(1 0 0 1.04 129.7 2143.7)" font-size="26.0">Jan</text><text transform="matrix(1 0 0 1.04 228.2 2143.7)" font-size="26.0">Feb</text><text transform="matrix(1 0 0 1.04 339.0 2143.7)" font-size="26.0">Mar</text><text transform="matrix(1 0 0 1.04 449.8 2143.7)" font-size="26.0">Apr</text><text transform="matrix(1 0 0 1.04 556.2 2143.7)" font-size="26.0">May</text><text transform="matrix(1 0 0 1.04 668.0 2143.7)" font-size="26.0">Jun</text><text transform="matrix(1 0 0 1.04 781.0 2143.7)" font-size="26.0">Jul</text><text transform="matrix(1 0 0 1.04 888.7 2143.7)" font-size="26.0">Aug</text><text transform="matrix(1 0 0 1.04 995.4 2143.7)" font-size="26.0">Sep</text><text transform="matrix(1 0 0 1.04 1110.1 2143.7)" font-size="26.0">Oct</text><text transform="matrix(1 0 0 1.04 1214.4 2143.7)" font-size="26.0">Nov</text><text transform="matrix(1 0 0 1.04 1325.7 2143.7)" font-size="26.0">Dec</text><text transform="matrix(1 0 0 1.04 1452.5 1783.6)" font-size="26.0">40.93</text><text transform="matrix(1 0 0 1.04 1451.9 2126.6)" font-size="26.0">-32.28</text><text transform="matrix(1 0 0 1.04 1417.6 34.3)" font-size="26">UTCL</text></svg></body></html>
